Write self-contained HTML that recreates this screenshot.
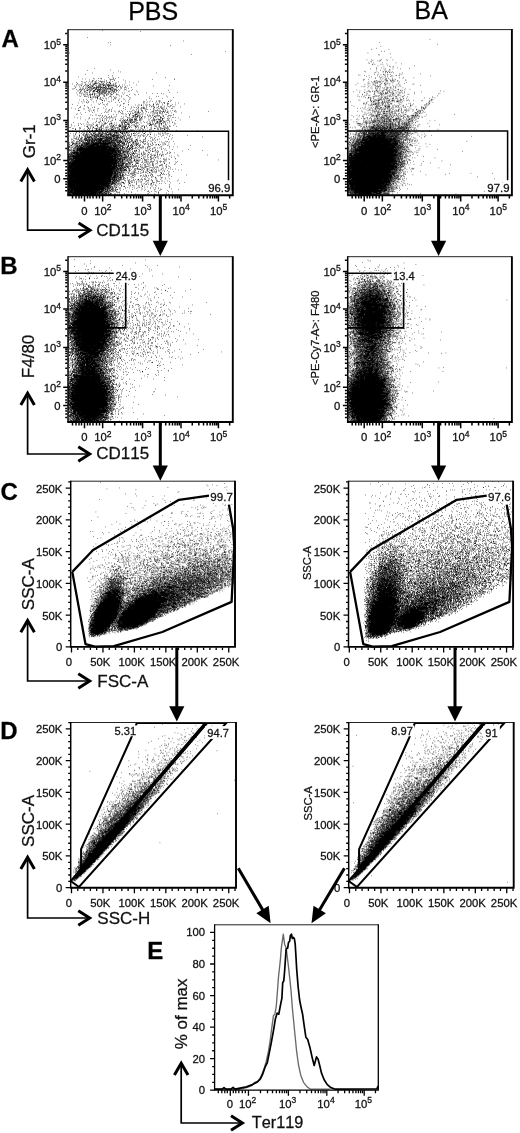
<!DOCTYPE html>
<html><head><meta charset="utf-8"><title>Figure</title>
<style>html,body{margin:0;padding:0;background:#fff}svg{display:block}text{font-family:'Liberation Sans', Arial, sans-serif;font-kerning:none;stroke:#111;stroke-width:.28px}</style>
</head><body>
<svg width="520" height="1133" viewBox="0 0 520 1133">
<defs><filter id="b" filterUnits="userSpaceOnUse" x="-5" y="-5" width="400" height="400"><feGaussianBlur stdDeviation=".7"/></filter></defs>
<rect width="520" height="1133" fill="#fff"/>
<text x="153.2" y="19.5" font-size="25" text-anchor="middle" fill="#000">PBS</text>
<text x="431.3" y="19.3" font-size="25" text-anchor="middle" fill="#000">BA</text>
<text x="1.5" y="46.6" font-size="24" font-weight="bold" fill="#000">A</text>
<text x=".3" y="274" font-size="24" font-weight="bold" fill="#000">B</text>
<text x=".6" y="500.1" font-size="24" font-weight="bold" fill="#000">C</text>
<text x=".3" y="739.2" font-size="24" font-weight="bold" fill="#000">D</text>
<text x="147.3" y="959" font-size="24" font-weight="bold" fill="#000">E</text>
<path transform="translate(68 29.95) scale(.5)" d="M68 1h1m76 2h1m-108 12h1m191 7h1m-147 3h1m-5 1h1m4 4h1m119 1h1m108 12h1m-313 3h1m244 3h1m-195 28h1m30 3h1m-46 1h1m61 1h1m3 2h1m-58 2h1m42 0h1m84 0h1m-142 3h1m45 2h1m7 0h1m-70 3h1m67 0h1m-9 1h1m19 0h1m93 0h1m-105 1h1m-41 1h1m9 0h1m3 0h1m1 0h1m23 0h1m3 0h1m-66 1h1m5 0h1m17 0h1m12 0h1m15 0h1m130 0h1m-129 1h1m1 0h2m1 0h1m78 0h1m43 0h1m-172 1h1m29 0h1m11 0h1m8 0h1m16 0h1m-63 1h1m1 0h1m6 0h1m2 0h1m31 0h1m-44 1h1m14 0h1m11 0h2m6 0h1m29 0h1m-88 1h1m8 0h1m5 0h1m5 0h1m6 0h1m7 0h1m1 0h2m2 0h1m19 0h1m-62 1h1m17 0h1m1 0h1m3 0h1m1 0h1m2 0h1m9 0h1m1 0h1m1 0h3m8 0h1m17 0h1m22 0h1m16 0h1m-125 1h1m15 0h1m1 0h1m20 0h1m4 0h1m6 0h1m10 0h1m3 0h2m-44 1h1m3 0h1m11 0h1m9 0h1m9 0h1m3 0h1m3 0h1m9 0h1m2 0h1m17 0h1m14 0h1m-113 1h1m34 0h4m1 0h1m12 0h1m12 0h2m5 0h1m2 0h1m-86 1h1m9 0h1m6 0h1m1 0h1m5 0h1m9 0h1m4 0h1m1 0h3m1 0h1m1 0h1m3 0h4m3 0h1m1 0h1m5 0h2m5 0h1m-67 1h1m16 0h1m7 0h1m1 0h1m5 0h1m2 0h1m11 0h1m1 0h2m3 0h1m5 0h1m2 0h1m2 0h1m9 0h1m-75 1h1m2 0h2m12 0h2m11 0h1m12 0h2m3 0h1m1 0h2m1 0h2m3 0h1m1 0h3m3 0h1m1 0h1m1 0h3m9 0h1m6 0h1m2 0h1m9 0h1m13 0h1m-111 1h1m5 0h1m7 0h2m4 0h1m2 0h1m1 0h1m3 0h1m5 0h1m2 0h1m5 0h2m1 0h2m2 0h2m2 0h3m1 0h1m1 0h2m2 0h1m4 0h1m5 0h1m100 0h1m-191 1h1m2 0h1m10 0h1m7 0h1m1 0h2m2 0h1m3 0h1m3 0h1m6 0h2m2 0h1m1 0h2m3 0h1m2 0h1m7 0h1m1 0h1m3 0h1m2 0h1m3 0h1m2 0h3m21 0h1m52 0h1m-172 1h1m30 0h1m6 0h1m3 0h1m3 0h1m1 0h2m11 0h1m1 0h1m1 0h1m9 0h1m4 0h3m10 0h2m2 0h1m2 0h2m2 0h1m3 0h1m6 0h1m-101 1h1m7 0h1m6 0h1m11 0h1m1 0h1m5 0h1m6 0h3m1 0h1m2 0h2m2 0h1m1 0h1m3 0h3m7 0h1m2 0h1m1 0h1m-76 1h1m25 0h3m1 0h1m6 0h3m1 0h3m1 0h1m1 0h2m1 0h1m1 0h2m1 0h2m1 0h2m3 0h1m2 0h1m6 0h1m1 0h1m7 0h2m6 0h1m1 0h1m5 0h2m11 0h1m-102 1h1m2 0h1m5 0h1m1 0h1m1 0h1m5 0h1m1 0h2m1 0h1m9 0h4m2 0h2m3 0h2m1 0h2m2 0h1m2 0h1m2 0h2m1 0h1m1 0h2m1 0h1m5 0h1m18 0h1m-105 1h1m18 0h1m3 0h1m3 0h1m3 0h1m6 0h2m1 0h1m2 0h2m7 0h1m3 0h1m4 0h1m1 0h1m1 0h2m1 0h1m1 0h3m5 0h1m15 0h1m12 0h1m-112 1h1m1 0h1m12 0h1m3 0h1m16 0h2m1 0h2m4 0h3m3 0h1m3 0h2m2 0h1m1 0h1m2 0h3m5 0h3m3 0h1m5 0h2m9 0h1m8 0h1m-97 1h1m5 0h1m1 0h1m1 0h1m1 0h1m3 0h1m7 0h2m3 0h1m7 0h2m1 0h1m1 0h1m1 0h3m1 0h1m1 0h1m2 0h1m5 0h1m1 0h1m5 0h3m4 0h1m1 0h2m1 0h1m4 0h1m13 0h1m12 0h1m-106 1h1m7 0h1m1 0h1m3 0h1m1 0h2m2 0h1m1 0h1m6 0h1m5 0h5m1 0h1m2 0h1m1 0h1m2 0h2m1 0h2m3 0h1m7 0h2m3 0h2m1 0h1m15 0h1m3 0h1m-91 1h1m9 0h1m1 0h2m7 0h1m3 0h3m5 0h1m1 0h2m2 0h1m3 0h1m1 0h2m3 0h1m7 0h1m2 0h1m1 0h1m2 0h1m3 0h1m1 0h1m4 0h1m22 0h1m73 0h1m-183 1h1m2 0h1m3 0h2m5 0h1m11 0h2m4 0h3m1 0h1m3 0h2m1 0h1m1 0h1m5 0h1m1 0h2m1 0h1m1 0h1m1 0h1m10 0h2m2 0h1m2 0h1m25 0h1m14 0h1m-113 1h1m8 0h1m7 0h1m6 0h4m3 0h4m2 0h3m2 0h1m1 0h2m1 0h1m4 0h1m2 0h1m1 0h1m1 0h1m6 0h1m4 0h1m24 0h1m-98 1h1m7 0h2m8 0h1m19 0h1m5 0h1m2 0h1m2 0h1m1 0h2m2 0h1m1 0h2m2 0h1m1 0h1m2 0h3m6 0h1m38 0h1m-117 1h1m12 0h1m1 0h1m4 0h1m15 0h1m1 0h1m1 0h1m1 0h1m1 0h1m1 0h2m2 0h1m1 0h1m10 0h1m8 0h1m107 0h1m14 0h1m-203 1h1m7 0h1m3 0h1m6 0h1m6 0h1m5 0h1m2 0h2m5 0h1m2 0h1m1 0h1m2 0h1m2 0h1m3 0h1m1 0h1m4 0h2m1 0h1m7 0h1m17 0h1m3 0h1m43 0h1m-136 1h1m3 0h1m22 0h1m13 0h2m2 0h1m1 0h1m3 0h2m4 0h1m10 0h1m5 0h1m72 0h1m8 0h1m8 0h1m-158 1h1m6 0h1m1 0h1m5 0h1m6 0h3m2 0h1m3 0h2m3 0h1m3 0h1m2 0h1m3 0h1m6 0h3m103 0h1m-159 1h1m5 0h1m3 0h1m2 0h2m1 0h2m3 0h1m8 0h1m1 0h1m4 0h1m7 0h1m3 0h1m5 0h2m8 0h2m11 0h1m11 0h1m9 0h1m7 0h1m-122 1h1m7 0h1m3 0h1m3 0h1m6 0h1m2 0h1m2 0h1m4 0h1m9 0h1m6 0h1m6 0h2m8 0h1m8 0h1m4 0h1m33 0h1m-83 1h1m4 0h1m4 0h1m8 0h1m4 0h1m38 0h1m2 0h1m-119 1h1m21 0h1m8 0h1m6 0h1m1 0h1m2 0h2m11 0h1m3 0h2m7 0h1m1 0h1m12 0h1m16 0h1m4 0h1m88 0h1m-172 1h1m7 0h2m1 0h1m14 0h1m2 0h1m4 0h1m1 0h1m10 0h1m9 0h1m2 0h1m4 0h1m30 0h1m54 0h1m3 0h1m-137 1h1m3 0h1m3 0h1m5 0h1m27 0h1m7 0h1m11 0h1m56 0h1m34 0h1m-159 1h1m3 0h2m4 0h1m3 0h1m1 0h1m1 0h2m5 0h1m27 0h1m3 0h1m112 0h1m-165 1h1m7 0h1m10 0h1m2 0h1m5 0h1m5 0h1m5 0h1m36 0h1m1 0h1m-68 1h2m5 0h1m5 0h1m5 0h1m14 0h1m1 0h1m67 0h1m25 0h1m-140 1h1m9 0h1m2 0h1m31 0h1m7 0h1m7 0h1m56 0h1m-138 1h1m5 0h1m7 0h1m19 0h1m1 0h1m23 0h1m22 0h1m9 0h1m-102 1h1m23 0h1m19 0h1m10 0h1m8 0h1m3 0h1m10 0h1m55 0h1m47 0h1m-167 1h1m16 0h1m11 0h2m2 0h1m27 0h1m81 0h1m23 0h1m-177 1h1m42 0h1m27 0h1m13 0h1m4 0h1m44 0h1m11 0h1m3 0h1m3 0h1m-159 1h1m13 0h1m38 0h1m6 0h1m18 0h1m44 0h2m16 0h1m13 0h1m16 0h2m3 0h1m-173 1h1m2 0h1m13 0h1m6 0h1m25 0h1m75 0h1m2 0h1m13 0h1m5 0h1m-147 1h1m3 0h1m27 0h1m25 0h1m8 0h1m17 0h1m28 0h1m36 0h1m3 0h2m-173 1h1m8 0h1m8 0h1m30 0h1m82 0h1m3 0h1m17 0h1m7 0h1m10 0h1m4 0h1m15 0h1m5 0h1m-157 1h1m14 0h1m31 0h1m1 0h1m64 0h1m13 0h1m7 0h1m-141 1h1m50 0h1m38 0h1m19 0h1m18 0h1m8 0h2m1 0h1m31 0h1m-225 1h1m52 0h1m7 0h1m6 0h1m43 0h1m25 0h1m14 0h1m7 0h2m4 0h1m2 0h1m1 0h1m27 0h1m-163 1h1m25 0h1m4 0h1m19 0h1m6 0h1m14 0h1m14 0h1m5 0h1m1 0h1m10 0h1m2 0h1m1 0h1m2 0h1m14 0h1m11 0h1m9 0h1m14 0h1m-196 1h1m13 0h1m71 0h1m40 0h2m17 0h1m4 0h1m33 0h1m2 0h1m-175 1h1m104 0h1m12 0h1m4 0h1m12 0h1m11 0h1m10 0h1m6 0h1m-176 1h1m50 0h1m26 0h1m8 0h1m51 0h1m3 0h1m3 0h1m9 0h1m2 0h1m1 0h1m14 0h1m3 0h1m5 0h1m-174 1h1m13 0h1m73 0h1m4 0h1m8 0h1m15 0h1m9 0h1m4 0h2m7 0h1m11 0h1m9 0h1m5 0h1m3 0h1m11 0h1m-202 1h2m15 0h1m8 0h1m2 0h1m62 0h1m16 0h1m3 0h1m3 0h1m6 0h1m3 0h2m20 0h1m4 0h1m6 0h1m1 0h1m-182 1h1m63 0h1m18 0h1m37 0h1m13 0h1m4 0h1m1 0h1m1 0h2m4 0h1m16 0h1m3 0h1m8 0h1m1 0h1m1 0h1m5 0h1m-176 1h1m19 0h1m19 0h1m48 0h1m27 0h1m7 0h1m3 0h1m1 0h1m17 0h1m10 0h1m5 0h1m1 0h1m6 0h1m9 0h1m1 0h1m-195 1h1m16 0h1m1 0h1m10 0h1m13 0h1m18 0h1m47 0h1m18 0h1m7 0h1m1 0h1m16 0h1m11 0h1m9 0h1m-108 1h1m27 0h1m22 0h1m2 0h1m6 0h1m8 0h1m1 0h1m6 0h1m22 0h1m-146 1h1m6 0h1m2 0h1m21 0h1m6 0h2m47 0h1m22 0h1m16 0h1m1 0h1m5 0h1m10 0h2m2 0h1m4 0h1m-180 1h2m1 0h1m17 0h1m8 0h1m29 0h1m26 0h1m20 0h1m17 0h1m24 0h1m3 0h1m1 0h2m5 0h1m10 0h1m12 0h1m6 0h1m-170 1h1m11 0h1m27 0h1m5 0h1m9 0h1m30 0h1m3 0h1m2 0h2m5 0h3m5 0h1m24 0h1m1 0h1m21 0h1m7 0h1m-171 1h1m32 0h1m11 0h1m13 0h2m5 0h1m10 0h1m2 0h1m4 0h1m7 0h1m5 0h1m14 0h1m12 0h1m1 0h1m12 0h1m1 0h1m2 0h3m3 0h1m17 0h1m66 0h1m-228 1h1m24 0h1m1 0h1m14 0h1m28 0h1m9 0h1m4 0h2m7 0h1m7 0h1m9 0h1m1 0h1m2 0h1m3 0h1m1 0h1m4 0h1m9 0h1m5 0h2m1 0h1m13 0h2m-183 1h1m14 0h1m22 0h1m4 0h1m26 0h1m28 0h1m1 0h1m2 0h1m1 0h2m2 0h1m15 0h1m17 0h1m3 0h1m2 0h1m2 0h1m4 0h1m3 0h1m1 0h1m-176 1h1m76 0h1m7 0h1m19 0h1m6 0h1m6 0h1m6 0h1m14 0h1m4 0h1m1 0h1m1 0h1m3 0h1m10 0h1m17 0h1m18 0h1m-161 1h1m40 0h1m12 0h1m3 0h1m3 0h1m1 0h1m7 0h1m4 0h1m33 0h2m3 0h1m2 0h1m14 0h1m-182 1h1m88 0h1m2 0h1m3 0h1m8 0h1m9 0h1m1 0h1m3 0h1m5 0h1m1 0h1m6 0h1m13 0h1m3 0h1m13 0h2m-172 1h1m9 0h1m53 0h1m8 0h1m6 0h1m18 0h1m6 0h1m10 0h5m40 0h1m14 0h1m2 0h1m13 0h1m-168 1h1m9 0h1m2 0h1m64 0h2m8 0h1m1 0h2m7 0h1m1 0h1m3 0h1m8 0h1m4 0h1m6 0h1m39 0h1m-162 1h1m11 0h1m3 0h1m8 0h1m47 0h1m6 0h2m4 0h1m2 0h1m2 0h1m16 0h1m5 0h1m3 0h1m8 0h2m2 0h2m18 0h2m2 0h2m-144 1h1m4 0h2m16 0h1m10 0h1m17 0h1m6 0h1m7 0h3m2 0h1m2 0h1m1 0h1m1 0h1m20 0h1m5 0h1m5 0h1m2 0h1m3 0h1m5 0h1m1 0h2m8 0h1m-129 1h1m3 0h1m29 0h1m10 0h1m17 0h1m1 0h3m2 0h1m2 0h1m2 0h1m3 0h1m7 0h1m3 0h1m7 0h3m5 0h1m3 0h1m6 0h1m7 0h1m-187 1h1m10 0h1m51 0h1m5 0h2m2 0h2m5 0h2m16 0h1m17 0h3m1 0h1m2 0h1m1 0h2m8 0h1m6 0h1m21 0h1m27 0h1m36 0h1m-201 1h1m23 0h1m4 0h1m9 0h1m37 0h1m3 0h1m4 0h1m5 0h1m7 0h1m3 0h2m19 0h1m2 0h1m4 0h1m8 0h3m22 0h1m1 0h1m3 0h1m-198 1h1m58 0h2m5 0h1m3 0h1m1 0h1m19 0h1m8 0h1m1 0h1m5 0h1m6 0h1m2 0h1m4 0h2m9 0h1m7 0h1m8 0h1m14 0h2m6 0h1m7 0h1m19 0h1m-180 1h1m15 0h1m9 0h1m6 0h1m33 0h1m13 0h2m11 0h1m7 0h1m1 0h1m17 0h1m6 0h1m12 0h1m3 0h2m1 0h1m6 0h1m4 0h1m-180 1h1m15 0h1m7 0h1m4 0h1m3 0h1m5 0h1m1 0h1m6 0h1m9 0h1m12 0h1m9 0h1m1 0h1m20 0h1m3 0h3m1 0h1m7 0h1m3 0h1m23 0h1m5 0h1m1 0h1m17 0h1m-130 1h1m7 0h1m16 0h1m20 0h1m2 0h2m3 0h1m2 0h2m1 0h1m2 0h1m1 0h3m5 0h1m2 0h1m24 0h1m2 0h1m3 0h1m3 0h1m1 0h1m4 0h2m11 0h1m-167 1h1m52 0h1m6 0h1m14 0h2m6 0h1m4 0h3m1 0h1m1 0h1m2 0h1m1 0h1m1 0h1m5 0h1m4 0h1m13 0h1m1 0h1m4 0h1m1 0h1m2 0h2m1 0h1m4 0h5m21 0h1m17 0h1m-158 1h2m7 0h1m10 0h1m14 0h1m1 0h1m6 0h2m3 0h1m1 0h1m8 0h1m5 0h1m2 0h1m1 0h1m2 0h1m2 0h1m20 0h1m3 0h1m2 0h1m11 0h2m2 0h2m8 0h1m1 0h1m12 0h1m-158 1h1m6 0h1m7 0h1m7 0h1m6 0h1m16 0h1m3 0h2m3 0h1m1 0h1m1 0h1m1 0h2m1 0h6m1 0h1m2 0h1m36 0h1m3 0h1m13 0h1m8 0h1m6 0h1m-165 1h1m16 0h1m8 0h1m15 0h1m3 0h1m24 0h1m4 0h1m9 0h1m9 0h1m15 0h1m16 0h1m9 0h2m2 0h1m1 0h3m4 0h2m10 0h1m-141 1h1m6 0h1m35 0h1m6 0h2m10 0h1m1 0h1m2 0h4m3 0h1m6 0h1m13 0h1m3 0h1m2 0h1m7 0h1m2 0h1m1 0h1m2 0h1m1 0h1m8 0h2m1 0h1m12 0h1m-198 1h1m26 0h1m15 0h1m5 0h1m2 0h1m15 0h1m7 0h1m18 0h1m2 0h2m3 0h4m2 0h1m3 0h2m2 0h2m2 0h1m6 0h1m13 0h1m3 0h1m10 0h1m8 0h2m6 0h1m2 0h1m1 0h1m17 0h1m-169 1h1m10 0h1m15 0h1m5 0h3m17 0h1m3 0h1m9 0h2m3 0h2m5 0h1m2 0h1m4 0h1m9 0h2m2 0h1m5 0h1m16 0h1m13 0h2m1 0h1m1 0h1m11 0h1m3 0h1m2 0h1m9 0h1m-193 1h1m4 0h1m46 0h1m2 0h1m1 0h1m4 0h1m1 0h1m1 0h2m30 0h1m2 0h1m4 0h1m7 0h1m1 0h1m26 0h1m1 0h1m5 0h1m2 0h1m1 0h1m5 0h1m2 0h3m2 0h1m-161 1h1m6 0h1m11 0h1m12 0h1m5 0h1m5 0h1m10 0h1m3 0h1m17 0h3m2 0h2m4 0h1m1 0h1m37 0h1m2 0h2m6 0h1m4 0h2m7 0h1m2 0h1m8 0h1m17 0h1m1 0h1m-209 1h1m19 0h1m22 0h1m5 0h1m1 0h1m11 0h1m2 0h1m8 0h1m9 0h1m10 0h1m5 0h1m4 0h1m2 0h1m1 0h3m1 0h1m9 0h1m9 0h1m20 0h2m1 0h2m2 0h1m11 0h1m2 0h1m8 0h1m-176 1h1m18 0h2m1 0h1m2 0h2m20 0h1m15 0h1m2 0h1m10 0h1m4 0h1m1 0h1m3 0h1m3 0h1m2 0h1m4 0h1m1 0h1m5 0h1m1 0h1m6 0h1m26 0h3m5 0h1m7 0h1m5 0h1m10 0h1m-177 1h1m34 0h2m10 0h1m17 0h1m3 0h2m2 0h1m2 0h1m2 0h1m2 0h1m1 0h2m3 0h1m3 0h1m7 0h1m3 0h1m6 0h1m4 0h1m11 0h1m6 0h1m4 0h2m3 0h1m14 0h1m7 0h1m11 0h1m7 0h1m-205 1h1m5 0h1m20 0h1m13 0h1m1 0h1m5 0h1m2 0h2m6 0h2m2 0h2m6 0h1m6 0h1m2 0h1m14 0h3m3 0h1m2 0h1m3 0h2m15 0h2m1 0h1m4 0h1m4 0h1m1 0h1m18 0h1m4 0h1m2 0h1m1 0h1m5 0h1m8 0h1m1 0h1m-159 1h1m1 0h2m5 0h1m12 0h1m6 0h2m17 0h1m2 0h2m2 0h1m1 0h1m8 0h4m3 0h1m1 0h2m1 0h2m1 0h1m2 0h2m2 0h1m9 0h2m3 0h1m8 0h1m3 0h2m2 0h1m18 0h1m7 0h1m6 0h1m7 0h1m4 0h2m12 0h1m-167 1h1m14 0h1m4 0h1m4 0h1m4 0h1m6 0h1m2 0h1m9 0h1m5 0h1m1 0h2m2 0h3m7 0h1m10 0h1m2 0h1m8 0h1m29 0h1m3 0h1m10 0h1m1 0h1m4 0h1m-196 1h2m18 0h1m15 0h2m3 0h1m5 0h2m11 0h1m1 0h1m1 0h1m7 0h1m1 0h2m8 0h1m1 0h1m3 0h1m1 0h2m2 0h1m7 0h1m1 0h2m1 0h1m2 0h1m3 0h1m2 0h2m3 0h1m8 0h1m3 0h1m11 0h2m13 0h1m14 0h1m11 0h1m4 0h1m-176 1h1m23 0h1m9 0h1m2 0h1m2 0h1m19 0h1m4 0h1m8 0h1m1 0h1m1 0h1m5 0h1m3 0h4m5 0h1m13 0h1m8 0h1m13 0h1m5 0h1m13 0h1m5 0h2m1 0h1m5 0h1m3 0h1m3 0h1m-193 1h1m1 0h1m3 0h1m7 0h1m1 0h1m14 0h2m2 0h1m8 0h1m1 0h3m4 0h1m5 0h1m18 0h1m2 0h1m4 0h1m2 0h1m3 0h1m4 0h1m1 0h1m4 0h2m1 0h3m26 0h1m5 0h1m13 0h1m5 0h2m1 0h1m3 0h1m8 0h1m1 0h1m2 0h1m2 0h1m2 0h1m-167 1h1m9 0h1m5 0h1m4 0h1m3 0h1m3 0h1m3 0h2m3 0h1m2 0h1m1 0h1m2 0h1m2 0h1m1 0h1m5 0h1m2 0h2m14 0h2m2 0h2m2 0h1m16 0h1m6 0h1m7 0h1m30 0h1m4 0h1m1 0h2m6 0h1m4 0h1m-187 1h2m22 0h1m4 0h1m12 0h2m2 0h1m1 0h3m1 0h2m13 0h1m4 0h5m9 0h1m1 0h2m3 0h1m1 0h2m1 0h3m2 0h2m6 0h1m13 0h1m5 0h1m5 0h1m13 0h1m1 0h1m10 0h1m2 0h1m2 0h1m7 0h2m5 0h1m3 0h1m-181 1h1m6 0h1m7 0h1m9 0h1m11 0h1m1 0h1m10 0h1m2 0h2m3 0h1m7 0h1m8 0h1m3 0h1m1 0h1m5 0h1m16 0h1m1 0h2m12 0h1m5 0h1m5 0h1m6 0h2m-130 1h1m6 0h1m6 0h2m4 0h1m1 0h4m2 0h1m3 0h2m9 0h1m5 0h1m1 0h2m4 0h1m1 0h4m3 0h1m3 0h1m9 0h1m6 0h1m2 0h1m1 0h1m2 0h1m3 0h1m9 0h1m6 0h1m7 0h1m11 0h1m18 0h2m5 0h1m19 0h1m-209 1h1m18 0h1m4 0h1m9 0h2m2 0h1m1 0h1m4 0h1m1 0h3m6 0h2m2 0h1m1 0h1m4 0h1m8 0h1m1 0h1m2 0h1m1 0h1m1 0h1m1 0h2m4 0h1m1 0h1m1 0h1m4 0h2m3 0h1m7 0h1m13 0h1m6 0h1m4 0h1m48 0h2m59 0h1m-241 1h1m6 0h1m13 0h1m2 0h1m10 0h2m1 0h1m2 0h1m7 0h2m2 0h2m2 0h2m2 0h1m5 0h2m3 0h1m3 0h4m3 0h1m3 0h1m1 0h1m3 0h1m1 0h1m9 0h2m15 0h1m16 0h1m10 0h1m1 0h1m24 0h1m9 0h1m-177 1h1m7 0h1m3 0h2m4 0h2m3 0h1m8 0h1m2 0h1m2 0h2m1 0h1m4 0h1m1 0h1m1 0h1m3 0h3m5 0h1m2 0h1m1 0h1m2 0h1m2 0h2m1 0h1m1 0h4m3 0h2m2 0h2m19 0h1m4 0h1m21 0h1m16 0h1m-168 1h1m5 0h1m5 0h1m7 0h1m4 0h3m10 0h1m4 0h1m2 0h2m3 0h1m6 0h1m2 0h2m3 0h1m1 0h1m3 0h1m1 0h2m2 0h4m5 0h2m7 0h1m2 0h3m4 0h1m12 0h1m11 0h1m6 0h1m39 0h1m-179 1h1m4 0h1m9 0h1m4 0h2m12 0h3m1 0h1m4 0h1m2 0h1m3 0h3m1 0h1m3 0h2m3 0h1m1 0h1m3 0h1m6 0h1m1 0h4m1 0h1m4 0h1m1 0h3m2 0h1m19 0h1m9 0h1m20 0h2m15 0h1m7 0h1m4 0h1m-189 1h1m8 0h1m12 0h1m2 0h1m13 0h1m1 0h1m3 0h2m9 0h4m1 0h1m2 0h2m2 0h1m1 0h2m5 0h1m1 0h3m2 0h1m3 0h1m2 0h1m2 0h2m5 0h1m1 0h2m3 0h1m2 0h1m4 0h1m5 0h1m2 0h2m2 0h1m6 0h1m9 0h3m34 0h1m10 0h2m-191 1h1m22 0h1m2 0h2m2 0h1m11 0h2m1 0h2m1 0h1m1 0h1m4 0h1m6 0h1m2 0h2m3 0h1m1 0h2m8 0h2m1 0h2m11 0h1m2 0h2m1 0h1m4 0h1m7 0h1m5 0h1m4 0h1m34 0h1m6 0h1m2 0h2m6 0h1m3 0h1m1 0h1m-184 1h1m16 0h1m4 0h1m2 0h1m5 0h3m1 0h1m1 0h1m2 0h3m1 0h1m1 0h1m1 0h1m1 0h1m1 0h4m5 0h4m1 0h3m1 0h3m3 0h3m4 0h2m2 0h2m6 0h1m4 0h1m8 0h1m2 0h1m19 0h1m12 0h1m1 0h1m2 0h2m39 0h1m-191 1h1m7 0h1m5 0h2m3 0h3m1 0h1m1 0h1m2 0h1m13 0h2m1 0h2m2 0h1m1 0h1m3 0h1m2 0h1m4 0h2m1 0h2m1 0h5m1 0h2m1 0h2m6 0h1m1 0h2m6 0h1m6 0h1m1 0h1m5 0h1m10 0h1m12 0h1m4 0h1m21 0h1m7 0h1m13 0h1m-178 1h2m6 0h1m5 0h1m5 0h1m4 0h4m1 0h2m3 0h1m1 0h1m1 0h1m1 0h5m1 0h2m4 0h2m1 0h1m2 0h1m3 0h2m1 0h3m1 0h8m1 0h1m4 0h1m4 0h1m1 0h2m3 0h1m2 0h1m1 0h1m6 0h1m2 0h2m6 0h1m2 0h1m4 0h1m8 0h1m29 0h1m1 0h1m18 0h1m28 0h1m-236 1h1m7 0h1m1 0h1m9 0h1m9 0h3m2 0h2m9 0h2m1 0h9m3 0h2m1 0h1m5 0h4m3 0h1m4 0h2m1 0h1m1 0h3m2 0h2m1 0h4m1 0h2m5 0h1m2 0h2m8 0h1m2 0h1m5 0h1m8 0h2m7 0h1m1 0h1m19 0h1m29 0h1m-170 1h2m1 0h1m1 0h1m3 0h1m1 0h3m5 0h3m1 0h1m1 0h1m1 0h3m2 0h8m3 0h2m3 0h2m1 0h1m2 0h7m1 0h1m1 0h1m1 0h1m1 0h1m2 0h1m2 0h4m5 0h1m7 0h2m19 0h1m5 0h1m4 0h1m5 0h1m18 0h1m4 0h1m15 0h1m-190 1h1m2 0h1m2 0h1m2 0h2m3 0h1m10 0h1m1 0h2m1 0h2m1 0h1m1 0h1m1 0h1m3 0h1m1 0h1m5 0h1m1 0h2m2 0h1m1 0h1m1 0h3m2 0h6m1 0h1m2 0h1m1 0h3m4 0h3m1 0h1m3 0h2m2 0h1m4 0h1m2 0h1m4 0h1m17 0h1m25 0h1m102 0h1m-242 1h2m5 0h1m2 0h3m1 0h3m1 0h3m2 0h1m1 0h1m2 0h3m5 0h1m1 0h1m2 0h1m1 0h1m3 0h6m1 0h6m3 0h1m2 0h1m1 0h7m1 0h2m1 0h3m2 0h1m1 0h1m8 0h1m1 0h1m9 0h1m31 0h1m8 0h1m21 0h1m-187 1h1m5 0h1m2 0h1m7 0h1m3 0h1m1 0h2m4 0h2m1 0h1m1 0h1m3 0h1m3 0h3m1 0h1m1 0h1m1 0h2m4 0h2m2 0h3m1 0h1m1 0h3m1 0h3m1 0h4m2 0h2m2 0h3m1 0h1m1 0h4m2 0h1m9 0h2m2 0h1m3 0h1m17 0h1m10 0h2m12 0h1m24 0h1m14 0h1m-196 1h2m2 0h1m3 0h1m3 0h2m6 0h1m1 0h3m2 0h1m2 0h1m3 0h4m2 0h2m1 0h1m1 0h1m1 0h3m1 0h8m1 0h2m1 0h2m1 0h9m2 0h5m1 0h1m1 0h2m3 0h1m3 0h2m3 0h2m2 0h1m1 0h1m1 0h1m1 0h1m3 0h1m2 0h1m24 0h1m9 0h1m7 0h1m-166 1h1m7 0h1m4 0h1m3 0h1m1 0h2m5 0h3m1 0h2m1 0h1m1 0h1m2 0h5m2 0h3m3 0h4m1 0h7m2 0h1m2 0h2m1 0h3m2 0h1m1 0h3m1 0h4m4 0h2m1 0h1m4 0h1m2 0h1m1 0h1m8 0h1m3 0h1m14 0h1m33 0h1m9 0h1m18 0h1m5 0h1m-200 1h1m7 0h1m2 0h1m1 0h1m2 0h1m1 0h1m5 0h3m1 0h1m1 0h1m1 0h1m2 0h1m1 0h2m1 0h2m1 0h1m1 0h5m1 0h9m1 0h1m2 0h1m1 0h1m1 0h4m1 0h1m1 0h4m2 0h2m2 0h5m3 0h1m3 0h1m2 0h1m2 0h2m1 0h1m1 0h1m2 0h1m2 0h1m2 0h1m1 0h1m8 0h2m13 0h1m1 0h2m14 0h1m8 0h1m22 0h1m-196 1h1m16 0h1m5 0h1m1 0h1m3 0h4m1 0h6m2 0h8m1 0h4m1 0h7m2 0h2m1 0h3m1 0h1m1 0h4m1 0h3m3 0h1m1 0h2m1 0h1m1 0h2m3 0h2m4 0h1m3 0h3m1 0h1m9 0h2m6 0h2m2 0h1m31 0h1m6 0h1m-168 1h1m10 0h2m2 0h1m1 0h1m3 0h1m1 0h6m1 0h4m1 0h3m2 0h3m1 0h3m1 0h9m1 0h15m2 0h1m1 0h8m1 0h2m1 0h1m1 0h4m9 0h1m5 0h1m5 0h2m14 0h1m1 0h1m5 0h1m8 0h1m8 0h1m5 0h1m-166 1h1m1 0h1m5 0h1m3 0h1m1 0h2m1 0h1m2 0h1m3 0h1m4 0h2m1 0h2m2 0h1m1 0h4m1 0h1m1 0h3m1 0h1m2 0h1m1 0h3m2 0h4m1 0h5m3 0h1m1 0h7m2 0h2m1 0h5m3 0h1m1 0h1m1 0h1m1 0h1m2 0h2m1 0h1m2 0h1m3 0h1m3 0h1m5 0h2m1 0h1m1 0h2m5 0h1m9 0h1m8 0h1m-148 1h2m2 0h1m4 0h2m7 0h1m2 0h2m1 0h3m2 0h4m1 0h3m3 0h5m1 0h3m2 0h9m1 0h7m1 0h2m1 0h2m1 0h1m1 0h1m2 0h2m2 0h3m1 0h3m3 0h1m2 0h2m2 0h2m4 0h1m1 0h1m2 0h2m3 0h2m10 0h1m4 0h2m1 0h1m12 0h1m26 0h1m3 0h1m11 0h1m-204 1h3m6 0h1m3 0h1m1 0h1m5 0h4m1 0h1m5 0h3m2 0h2m1 0h1m1 0h2m1 0h1m1 0h1m1 0h1m3 0h12m1 0h7m1 0h1m1 0h1m1 0h4m2 0h2m3 0h1m1 0h1m2 0h7m1 0h1m5 0h1m1 0h2m3 0h1m10 0h3m3 0h1m8 0h1m1 0h2m7 0h1m13 0h1m9 0h1m2 0h1m10 0h1m5 0h1m-202 1h1m3 0h1m3 0h1m5 0h1m1 0h1m6 0h1m3 0h1m1 0h1m3 0h3m1 0h2m1 0h2m2 0h6m1 0h14m1 0h1m1 0h3m1 0h2m1 0h3m1 0h13m2 0h1m1 0h5m1 0h2m2 0h1m1 0h1m1 0h1m6 0h1m2 0h2m6 0h2m5 0h1m6 0h1m3 0h1m20 0h1m4 0h1m-174 1h1m6 0h1m5 0h1m7 0h2m5 0h9m1 0h4m2 0h1m1 0h5m1 0h1m1 0h3m1 0h2m1 0h6m1 0h8m2 0h6m1 0h2m1 0h1m2 0h4m2 0h2m1 0h1m1 0h1m2 0h7m6 0h3m2 0h1m3 0h3m9 0h1m18 0h1m28 0h1m2 0h2m7 0h1m-193 1h1m1 0h3m2 0h3m3 0h1m1 0h2m1 0h1m3 0h1m1 0h3m1 0h8m1 0h4m1 0h36m1 0h2m1 0h3m1 0h2m6 0h2m4 0h3m1 0h2m2 0h1m4 0h1m8 0h1m6 0h1m1 0h1m1 0h1m9 0h1m3 0h1m5 0h1m6 0h1m-167 1h1m5 0h1m4 0h1m2 0h1m1 0h2m3 0h1m4 0h2m2 0h10m1 0h1m1 0h18m1 0h23m1 0h3m1 0h4m1 0h1m1 0h4m6 0h2m1 0h2m2 0h1m15 0h1m1 0h4m2 0h1m11 0h1m2 0h1m8 0h1m3 0h1m24 0h2m18 0h1m-211 1h1m4 0h2m5 0h1m1 0h1m2 0h1m5 0h2m1 0h2m2 0h2m1 0h4m1 0h3m1 0h1m1 0h15m1 0h6m1 0h10m1 0h2m1 0h1m2 0h2m2 0h5m1 0h1m1 0h4m1 0h1m6 0h2m2 0h2m4 0h1m4 0h2m2 0h1m6 0h3m4 0h1m7 0h1m6 0h1m1 0h1m2 0h1m6 0h1m4 0h1m3 0h2m2 0h1m9 0h1m-186 1h2m2 0h1m1 0h1m7 0h1m1 0h5m1 0h5m1 0h25m1 0h2m1 0h16m1 0h4m1 0h2m1 0h1m4 0h3m1 0h2m1 0h2m2 0h2m2 0h1m1 0h1m2 0h1m3 0h1m5 0h1m1 0h1m13 0h1m32 0h1m1 0h1m3 0h1m7 0h2m9 0h1m-196 1h3m9 0h3m2 0h2m2 0h5m2 0h6m1 0h2m1 0h12m1 0h21m1 0h2m1 0h1m1 0h1m1 0h3m1 0h3m1 0h3m1 0h1m1 0h2m1 0h1m1 0h1m5 0h1m1 0h1m7 0h2m2 0h2m1 0h1m1 0h1m2 0h1m3 0h2m3 0h1m3 0h1m15 0h1m4 0h1m1 0h1m14 0h1m14 0h1m46 0h1m-243 1h1m2 0h1m6 0h2m1 0h2m1 0h2m1 0h1m1 0h2m1 0h1m1 0h7m2 0h3m1 0h15m1 0h3m1 0h5m1 0h8m1 0h6m1 0h5m1 0h10m1 0h10m3 0h1m3 0h1m1 0h1m8 0h1m4 0h1m7 0h2m4 0h1m-147 1h1m14 0h1m1 0h2m2 0h5m1 0h4m1 0h19m1 0h29m1 0h3m2 0h8m1 0h1m2 0h1m2 0h1m1 0h1m1 0h2m8 0h1m1 0h2m3 0h1m1 0h4m7 0h1m3 0h1m7 0h1m9 0h1m1 0h1m2 0h1m20 0h1m15 0h1m-202 1h4m3 0h1m2 0h1m2 0h2m1 0h8m4 0h6m1 0h1m1 0h4m1 0h44m3 0h1m1 0h9m1 0h1m2 0h1m3 0h1m4 0h1m3 0h2m9 0h1m19 0h2m7 0h1m2 0h2m22 0h1m25 0h1m7 0h1m-218 1h1m6 0h1m3 0h2m2 0h1m1 0h1m1 0h1m1 0h7m1 0h1m1 0h1m1 0h56m1 0h2m1 0h3m1 0h1m1 0h4m3 0h4m1 0h1m2 0h1m1 0h2m6 0h2m1 0h1m5 0h1m1 0h1m3 0h1m3 0h1m1 0h1m11 0h1m12 0h1m-173 1h2m4 0h2m5 0h1m1 0h1m2 0h1m1 0h3m1 0h14m1 0h40m1 0h2m1 0h6m1 0h2m2 0h2m1 0h1m1 0h1m2 0h1m2 0h1m2 0h1m6 0h1m1 0h1m1 0h1m2 0h2m1 0h1m9 0h1m7 0h1m1 0h1m2 0h1m2 0h1m2 0h1m3 0h1m12 0h1m1 0h2m3 0h1m3 0h1m4 0h1m14 0h1m-202 1h1m9 0h2m1 0h1m1 0h1m1 0h3m1 0h65m1 0h14m2 0h2m1 0h3m2 0h1m3 0h1m4 0h2m1 0h2m2 0h2m1 0h2m2 0h1m2 0h1m8 0h1m17 0h1m3 0h1m20 0h1m-187 1h1m5 0h1m1 0h1m2 0h1m1 0h61m1 0h1m1 0h13m1 0h7m1 0h1m7 0h3m2 0h1m2 0h1m2 0h1m3 0h1m9 0h1m17 0h1m4 0h1m2 0h1m23 0h1m8 0h1m-195 1h2m8 0h1m3 0h2m1 0h76m1 0h2m1 0h2m1 0h1m3 0h2m1 0h1m2 0h1m2 0h1m4 0h1m1 0h3m3 0h1m1 0h1m11 0h1m21 0h1m5 0h1m17 0h1m21 0h1m30 0h1m-240 1h2m1 0h1m1 0h2m1 0h1m1 0h2m3 0h1m1 0h3m1 0h74m1 0h6m1 0h5m8 0h2m1 0h1m4 0h1m2 0h1m14 0h1m16 0h1m8 0h1m4 0h2m16 0h1m-193 1h1m2 0h2m5 0h4m2 0h12m1 0h48m1 0h21m1 0h5m1 0h2m1 0h1m1 0h2m4 0h1m5 0h1m8 0h1m1 0h1m1 0h2m17 0h1m1 0h1m7 0h1m12 0h1m17 0h1m72 0h1m-268 1h1m1 0h1m2 0h1m1 0h2m1 0h4m2 0h2m1 0h79m1 0h1m1 0h1m1 0h1m1 0h2m1 0h1m3 0h3m2 0h1m1 0h1m1 0h2m7 0h2m8 0h2m13 0h1m1 0h1m5 0h1m7 0h2m53 0h1m-223 1h1m3 0h1m4 0h1m1 0h3m1 0h1m1 0h3m1 0h56m1 0h13m1 0h5m1 0h2m2 0h1m1 0h5m2 0h2m1 0h2m7 0h1m3 0h1m2 0h1m14 0h1m16 0h3m10 0h1m6 0h1m-180 1h1m1 0h4m1 0h3m1 0h1m1 0h2m1 0h67m1 0h4m2 0h7m3 0h3m3 0h2m1 0h2m9 0h1m4 0h2m5 0h1m18 0h1m16 0h2m1 0h1m22 0h1m-203 1h1m3 0h1m1 0h3m1 0h12m1 0h63m1 0h3m1 0h7m1 0h3m1 0h2m4 0h2m1 0h2m2 0h1m1 0h1m1 0h1m2 0h1m5 0h1m19 0h1m9 0h1m1 0h1m16 0h1m8 0h1m16 0h1m-202 1h1m1 0h3m1 0h5m1 0h83m2 0h3m1 0h2m1 0h2m2 0h1m5 0h2m3 0h1m3 0h1m2 0h2m10 0h1m3 0h1m3 0h1m1 0h1m9 0h1m12 0h1m22 0h2m4 0h1m7 0h1m-211 1h1m4 0h1m1 0h11m1 0h1m1 0h69m1 0h2m1 0h4m2 0h1m1 0h3m1 0h1m1 0h1m2 0h1m2 0h1m1 0h1m2 0h2m6 0h3m1 0h2m1 0h1m10 0h1m7 0h1m22 0h1m24 0h1m-203 1h2m1 0h5m1 0h3m1 0h76m1 0h7m2 0h3m1 0h1m1 0h2m2 0h1m4 0h1m3 0h1m2 0h1m3 0h1m1 0h2m2 0h1m5 0h1m7 0h1m4 0h2m5 0h1m7 0h1m17 0h1m4 0h1m7 0h1m-196 1h2m2 0h3m3 0h1m1 0h1m1 0h73m1 0h14m1 0h1m2 0h1m3 0h3m4 0h2m3 0h2m2 0h1m3 0h1m8 0h2m3 0h1m5 0h1m8 0h1m2 0h1m14 0h1m3 0h1m6 0h1m4 0h1m-196 1h2m2 0h2m1 0h3m1 0h5m1 0h68m1 0h17m1 0h3m2 0h6m2 0h1m3 0h1m17 0h1m3 0h1m5 0h2m3 0h1m6 0h1m5 0h1m3 0h2m1 0h1m3 0h2m3 0h1m3 0h1m1 0h1m28 0h1m60 0h1m-280 1h1m2 0h1m1 0h1m1 0h6m1 0h11m1 0h61m1 0h3m1 0h5m1 0h2m2 0h7m4 0h1m1 0h1m1 0h1m2 0h2m4 0h1m2 0h2m8 0h1m8 0h1m10 0h1m7 0h2m4 0h1m1 0h1m10 0h1m-187 1h1m1 0h1m1 0h4m1 0h93m1 0h2m2 0h1m1 0h1m2 0h1m2 0h2m3 0h2m2 0h1m2 0h1m2 0h2m3 0h2m2 0h1m32 0h1m13 0h2m2 0h1m12 0h1m2 0h1m13 0h1m-221 1h96m1 0h4m1 0h3m1 0h2m3 0h1m1 0h1m1 0h2m2 0h2m4 0h1m1 0h1m5 0h1m4 0h1m7 0h1m11 0h1m5 0h1m14 0h1m-180 1h1m2 0h2m2 0h87m1 0h8m1 0h1m1 0h1m1 0h2m4 0h5m1 0h1m4 0h1m1 0h1m7 0h2m5 0h1m7 0h1m1 0h1m1 0h1m9 0h2m1 0h1m5 0h1m2 0h1m3 0h1m32 0h1m-214 1h2m1 0h1m1 0h1m4 0h80m2 0h6m1 0h2m3 0h1m2 0h2m1 0h6m1 0h2m4 0h2m1 0h1m3 0h1m3 0h1m5 0h1m1 0h2m16 0h1m10 0h1m3 0h1m31 0h1m-206 1h98m1 0h2m1 0h2m1 0h2m1 0h5m2 0h1m1 0h1m3 0h2m1 0h2m1 0h1m3 0h1m4 0h1m1 0h1m10 0h1m7 0h1m5 0h1m1 0h1m6 0h1m4 0h1m16 0h1m-194 1h5m1 0h87m1 0h11m1 0h1m3 0h2m1 0h1m3 0h1m1 0h1m3 0h1m3 0h1m15 0h2m3 0h1m15 0h1m1 0h1m14 0h1m5 0h1m23 0h1m-214 1h3m2 0h2m1 0h1m1 0h80m1 0h4m1 0h6m1 0h2m3 0h1m1 0h3m2 0h1m1 0h1m1 0h1m5 0h2m4 0h1m4 0h1m14 0h1m13 0h1m4 0h1m8 0h1m11 0h1m8 0h1m12 0h1m-215 1h1m1 0h11m1 0h81m1 0h3m1 0h6m1 0h4m1 0h3m3 0h1m4 0h2m8 0h1m18 0h1m1 0h1m1 0h1m3 0h1m3 0h1m8 0h1m16 0h1m3 0h1m1 0h1m6 0h1m-204 1h3m3 0h1m1 0h5m1 0h87m1 0h3m1 0h1m1 0h3m2 0h1m2 0h1m2 0h1m1 0h2m1 0h2m6 0h2m1 0h2m2 0h1m1 0h1m1 0h1m1 0h1m3 0h1m3 0h1m5 0h1m5 0h1m1 0h1m24 0h1m108 0h1m-301 1h1m1 0h1m1 0h6m1 0h86m1 0h1m2 0h3m2 0h3m1 0h1m2 0h1m2 0h2m4 0h1m3 0h1m4 0h2m3 0h3m15 0h1m1 0h1m15 0h1m-172 1h2m1 0h1m1 0h95m1 0h3m2 0h2m2 0h1m4 0h1m1 0h2m3 0h1m6 0h1m1 0h1m3 0h1m2 0h1m1 0h1m9 0h1m2 0h1m21 0h1m1 0h1m4 0h1m7 0h1m2 0h1m1 0h1m-198 1h2m3 0h3m1 0h90m1 0h3m1 0h1m1 0h1m1 0h2m1 0h1m7 0h1m1 0h1m5 0h1m7 0h1m4 0h1m7 0h1m7 0h1m4 0h1m3 0h1m1 0h1m1 0h2m12 0h2m1 0h1m3 0h1m27 0h1m-219 1h1m1 0h1m1 0h3m1 0h7m1 0h75m2 0h1m1 0h5m1 0h8m4 0h3m6 0h1m1 0h1m1 0h1m2 0h1m5 0h2m2 0h1m17 0h1m1 0h1m7 0h1m3 0h1m6 0h1m11 0h1m24 0h1m-216 1h7m1 0h89m1 0h2m1 0h1m3 0h2m2 0h2m9 0h2m2 0h1m1 0h1m2 0h1m16 0h1m1 0h1m4 0h1m1 0h1m8 0h1m3 0h1m9 0h1m6 0h1m7 0h1m9 0h1m13 0h1m-218 1h8m1 0h93m1 0h4m1 0h3m1 0h2m7 0h3m2 0h1m9 0h3m1 0h1m15 0h1m3 0h1m1 0h1m-163 1h98m2 0h2m1 0h1m2 0h1m1 0h4m1 0h2m1 0h3m4 0h1m1 0h1m11 0h3m1 0h1m9 0h1m7 0h1m9 0h1m7 0h1m14 0h2m9 0h1m-204 1h1m2 0h2m1 0h101m1 0h4m4 0h1m1 0h3m2 0h2m9 0h1m27 0h1m6 0h1m1 0h1m3 0h1m2 0h1m35 0h1m-215 1h1m1 0h2m1 0h82m1 0h6m1 0h3m3 0h1m2 0h1m2 0h4m3 0h1m1 0h1m7 0h1m3 0h2m5 0h1m8 0h1m7 0h1m5 0h1m9 0h1m18 0h1m1 0h1m7 0h1m14 0h1m13 0h1m-226 1h14m1 0h83m1 0h5m1 0h1m1 0h1m1 0h2m2 0h5m2 0h2m6 0h1m15 0h1m2 0h1m5 0h2m5 0h1m3 0h1m3 0h2m14 0h1m10 0h1m-197 1h89m1 0h5m1 0h14m4 0h1m1 0h1m16 0h2m1 0h1m4 0h1m10 0h1m15 0h1m2 0h1m11 0h1m1 0h2m1 0h1m-187 1h87m1 0h8m3 0h2m3 0h3m1 0h1m2 0h1m5 0h1m1 0h2m3 0h1m3 0h1m2 0h1m2 0h1m9 0h1m16 0h1m19 0h1m10 0h1m6 0h1m-202 1h2m1 0h8m1 0h86m2 0h4m1 0h3m1 0h2m3 0h1m1 0h4m3 0h3m3 0h1m3 0h2m1 0h1m4 0h1m3 0h1m8 0h1m2 0h1m1 0h1m1 0h1m9 0h1m7 0h1m17 0h1m5 0h1m-204 1h8m1 0h84m1 0h6m2 0h1m1 0h1m1 0h1m2 0h2m1 0h3m1 0h1m3 0h2m6 0h1m1 0h2m12 0h1m3 0h1m4 0h2m1 0h1m17 0h1m2 0h1m11 0h1m6 0h1m-197 1h87m1 0h7m1 0h5m1 0h1m1 0h3m1 0h2m2 0h4m2 0h3m17 0h1m8 0h2m5 0h1m9 0h1m2 0h1m1 0h1m2 0h1m6 0h1m16 0h1m7 0h1m-205 1h98m1 0h1m3 0h3m1 0h2m1 0h2m9 0h1m2 0h1m4 0h1m8 0h1m11 0h1m2 0h1m9 0h1m7 0h1m5 0h1m2 0h1m9 0h1m-191 1h3m1 0h92m1 0h12m1 0h2m5 0h1m4 0h1m9 0h1m5 0h2m10 0h1m7 0h1m14 0h1m15 0h1m10 0h1m-201 1h93m1 0h3m1 0h2m1 0h2m1 0h5m4 0h2m1 0h1m3 0h2m1 0h1m10 0h2m1 0h1m3 0h2m4 0h2m8 0h1m1 0h2m7 0h1m18 0h1m6 0h1m10 0h1m8 0h1m-215 1h5m1 0h89m1 0h7m1 0h2m5 0h5m6 0h1m4 0h1m10 0h1m1 0h1m2 0h3m6 0h1m6 0h1m7 0h1m3 0h1m2 0h1m12 0h1m21 0h1m-210 1h89m1 0h2m1 0h5m1 0h3m1 0h1m2 0h5m1 0h1m1 0h2m1 0h1m14 0h2m14 0h1m9 0h1m3 0h1m13 0h1m3 0h1m4 0h1m4 0h1m29 0h1m5 0h1m-227 1h1m1 0h97m1 0h1m3 0h4m3 0h4m1 0h2m4 0h3m10 0h1m11 0h1m2 0h1m14 0h4m30 0h1m-200 1h90m1 0h2m3 0h5m1 0h2m1 0h1m1 0h5m9 0h1m9 0h1m3 0h1m21 0h3m13 0h1m3 0h1m2 0h1m2 0h1m4 0h1m3 0h1m-193 1h98m1 0h2m4 0h1m1 0h1m14 0h1m17 0h1m9 0h1m9 0h1m5 0h1m1 0h1m7 0h1m16 0h1m17 0h1m-212 1h1m2 0h87m2 0h3m3 0h4m1 0h1m2 0h2m2 0h1m2 0h2m1 0h1m1 0h1m4 0h1m4 0h1m2 0h3m7 0h1m2 0h1m5 0h1m4 0h1m15 0h1m1 0h1m1 0h1m25 0h2m-203 1h91m1 0h5m1 0h1m2 0h4m3 0h1m1 0h1m21 0h1m1 0h1m13 0h1m2 0h1m2 0h1m1 0h1m5 0h2m4 0h1m7 0h1m7 0h1m2 0h1m-188 1h3m1 0h93m1 0h3m1 0h6m1 0h1m1 0h2m7 0h2m5 0h1m3 0h1m4 0h1m9 0h1m16 0h2m9 0h1m-175 1h90m1 0h5m1 0h4m4 0h1m3 0h1m4 0h1m5 0h1m4 0h2m4 0h2m5 0h1m2 0h1m2 0h1m14 0h1m7 0h1m18 0h2m3 0h1m8 0h1m-201 1h2m1 0h3m1 0h86m1 0h4m1 0h1m1 0h2m1 0h1m19 0h1m3 0h2m60 0h1m-190 1h88m2 0h1m1 0h2m1 0h5m1 0h1m1 0h2m2 0h2m1 0h1m2 0h1m12 0h1m4 0h1m1 0h1m19 0h1m11 0h1m1 0h1m16 0h1m2 0h1m4 0h1m2 0h1m6 0h1m-204 1h1m2 0h95m5 0h2m3 0h1m1 0h1m3 0h1m2 0h1m4 0h1m8 0h1m1 0h1m16 0h1m14 0h1m3 0h1m15 0h1m14 0h1m35 0h1m-237 1h88m1 0h1m1 0h5m1 0h4m2 0h4m1 0h3m1 0h1m5 0h1m1 0h1m7 0h1m2 0h1m14 0h1m7 0h1m1 0h1m3 0h1m3 0h1m4 0h1m9 0h1m3 0h1m1 0h1m16 0h1m-203 1h89m1 0h1m1 0h6m3 0h1m1 0h2m2 0h2m20 0h1m5 0h1m8 0h2m4 0h1m5 0h1m3 0h1m19 0h1m-181 1h87m2 0h8m1 0h4m3 0h2m2 0h1m1 0h1m15 0h1m4 0h1m20 0h1m2 0h1m9 0h1m3 0h1m36 0h1m-208 1h5m1 0h83m2 0h4m2 0h2m1 0h1m3 0h2m3 0h1m1 0h1m13 0h1m23 0h1m5 0h1m12 0h1m15 0h1m15 0h1m-201 1h87m1 0h10m1 0h1m1 0h6m11 0h1m10 0h2m27 0h1m8 0h1m6 0h2m12 0h1m-189 1h1m1 0h83m1 0h8m1 0h4m3 0h1m1 0h4m2 0h4m13 0h1m3 0h1m54 0h2m6 0h1m-195 1h10m1 0h75m2 0h2m1 0h4m1 0h1m2 0h3m3 0h1m5 0h1m3 0h1m3 0h1m26 0h1m29 0h1m-177 1h1m1 0h83m1 0h5m1 0h3m2 0h1m2 0h1m1 0h1m1 0h1m1 0h2m2 0h1m41 0h3m6 0h2m12 0h1m19 0h1m7 0h1m-204 1h94m1 0h3m3 0h1m1 0h2m3 0h1m2 0h1m10 0h1m7 0h1m4 0h1m4 0h2m5 0h1m7 0h1m10 0h1m17 0h1m-185 1h81m1 0h4m1 0h1m1 0h5m1 0h3m1 0h1m1 0h5m1 0h1m5 0h1m5 0h1m19 0h1m1 0h1m2 0h1m3 0h2m26 0h1m44 0h1m-222 1h86m2 0h1m1 0h2m1 0h3m1 0h4m1 0h1m9 0h1m2 0h1m5 0h2m3 0h1m4 0h1m25 0h1m1 0h2m5 0h1m1 0h1m8 0h2m-179 1h86m1 0h1m1 0h6m2 0h1m1 0h2m20 0h1m7 0h1m2 0h1m9 0h1m17 0h1m8 0h1m16 0h1m1 0h1m9 0h1m20 0h1m-220 1h87m1 0h2m1 0h4m4 0h2m1 0h1m17 0h1m4 0h1m11 0h1m18 0h1m12 0h1m9 0h2m2 0h1m18 0h1m-203 1h86m1 0h3m3 0h2m1 0h3m2 0h1m4 0h1m7 0h1m5 0h1m1 0h1m3 0h1m13 0h1m3 0h1m1 0h2m7 0h1m21 0h1m15 0h1m-194 1h80m1 0h1m1 0h3m1 0h5m1 0h1m1 0h2m11 0h4m9 0h1m1 0h1m3 0h2m3 0h1m3 0h1m32 0h1m1 0h1m1 0h1m58 0h1m-233 1h84m1 0h2m1 0h3m1 0h1m1 0h1m1 0h2m2 0h1m2 0h1m1 0h2m4 0h1m47 0h1m1 0h1m9 0h1m5 0h1m26 0h1m-205 1h84m1 0h1m1 0h7m5 0h2m10 0h1m1 0h1m8 0h2m12 0h1m15 0h1m13 0h2m14 0h1m3 0h1m7 0h1m27 0h1m-223 1h90m1 0h1m2 0h2m7 0h2m8 0h1m7 0h1m3 0h1m11 0h1m9 0h1m3 0h1m4 0h1m7 0h1m-164 1h81m2 0h1m1 0h2m1 0h1m2 0h1m1 0h1m3 0h1m1 0h1m4 0h1m31 0h1m17 0h2m3 0h1m5 0h1m3 0h1m31 0h1m-203 1h78m1 0h2m1 0h2m2 0h1m3 0h1m1 0h1m1 0h1m2 0h1m9 0h1m13 0h1m6 0h1m17 0h1m18 0h1m9 0h1m-176 1h1m1 0h13m1 0h48m1 0h19m1 0h1m7 0h1m2 0h1m5 0h1m4 0h1m16 0h1m3 0h1m11 0h1m7 0h1m25 0h1m-175 1h87m5 0h1m5 0h1m8 0h1m14 0h1m1 0h1m5 0h1m2 0h1m9 0h1m8 0h1m14 0h1m1 0h1m7 0h1m24 0h1m-203 1h70m1 0h4m1 0h5m1 0h1m2 0h2m1 0h1m3 0h1m1 0h1m12 0h1m3 0h3m34 0h2m52 0h1m-201 1h7m1 0h62m2 0h10m1 0h2m1 0h1m2 0h1m4 0h1m4 0h1m38 0h1m17 0h1m-159 1h76m1 0h6m1 0h2m3 0h1m3 0h1m1 0h3m16 0h1m3 0h1m10 0h1m13 0h1m20 0h1m10 0h1m27 0h1m-203 1h2m1 0h68m1 0h2m3 0h2m1 0h1m2 0h1m1 0h1m1 0h2m13 0h2m17 0h1m9 0h1m6 0h1m7 0h1m4 0h1m18 0h1m9 0h1m-182 1h1m1 0h75m2 0h5m1 0h1m2 0h1m1 0h1m3 0h1m20 0h1m21 0h1m27 0h1m15 0h1m-182 1h4m1 0h53m1 0h15m1 0h5m1 0h1m1 0h1m2 0h1m1 0h1m2 0h1m2 0h1m8 0h1m1 0h1m43 0h1m24 0h1m9 0h1m22 0h1m-208 1h4m1 0h67m2 0h3m1 0h3m1 0h1m3 0h3m1 0h1m3 0h1m1 0h1m1 0h2m10 0h1m18 0h1m25 0h1m17 0h1m13 0h1m33 0h1m-221 1h9m1 0h53m1 0h6m1 0h4m2 0h1m4 0h1m1 0h1m3 0h1m2 0h1m53 0h1m37 0h1m-185 1h64m1 0h8m3 0h1m1 0h3m1 0h1m1 0h2m3 0h2m3 0h2m8 0h1m48 0h1m28 0h1m15 0h1m-199 1h2m1 0h8m1 0h48m1 0h3m1 0h2m1 0h2m1 0h1m2 0h3m1 0h2m2 0h2m2 0h1m2 0h2m3 0h1m1 0h1m20 0h1m21 0h1m20 0h1m12 0h1m-174 1h2m1 0h7m1 0h42m1 0h16m1 0h1m2 0h4m1 0h1m1 0h1m2 0h1m2 0h2m3 0h1m66 0h1m1 0h1m5 0h1m6 0h1m26 0h1m-202 1h9m1 0h48m1 0h2m2 0h6m1 0h1m1 0h3m1 0h3m1 0h2m1 0h1m6 0h1m5 0h2m1 0h1m3 0h1m17 0h1m4 0h1m50 0h1m2 0h1m27 0h1m-209 1h1m1 0h43m1 0h23m2 0h4m2 0h1m3 0h2m17 0h1m2 0h1m23 0h1m35 0h1m17 0h1m-182 1h1m1 0h7m1 0h47m2 0h7m1 0h2m1 0h1m2 0h1m4 0h2m1 0h1m2 0h1m13 0h1m82 0h1m15 0h1m-198 1h4m1 0h2m1 0h25m1 0h26m1 0h4m2 0h3m1 0h1m2 0h4m2 0h1m3 0h1m2 0h1m25 0h1m47 0h1m18 0h1m-181 1h2m1 0h3m1 0h23m1 0h10m1 0h14m1 0h3m1 0h4m1 0h3m1 0h7m3 0h3m1 0h3m5 0h1m2 0h1m7 0h1m30 0h1m23 0h1m14 0h1m23 0h1m2 0h1m7 0h1m-209 1h8m1 0h6m1 0h40m1 0h4m2 0h2m1 0h2m2 0h5m2 0h1m2 0h1m1 0h1m1 0h1m17 0h1m15 0h1m7 0h1m14 0h1m-142 1h3m1 0h2m2 0h30m1 0h3m1 0h8m1 0h5m2 0h3m1 0h1m1 0h2m1 0h4m1 0h1m1 0h1m1 0h2m1 0h1m1 0h2m2 0h1m3 0h1m4 0h1m3 0h1m63 0h1m11 0h1" stroke="#000" stroke-width="1.7" fill="none" filter="url(#b)"/>
<path transform="translate(68 29.95) scale(.5)" d="M64 218h4m-5 1h4m-4 1h5m-4 1h3m7 0h3m-8 2h3m-9 1h3m-4 1h4m-3 1h4m3 0h3m8 0h3m-45 1h3m13 0h3m6 0h4m1 0h8m2 0h6m-49 1h4m10 0h12m3 0h4m1 0h10m-32 1h13m10 0h8m-32 1h8m1 0h5m9 0h7m-33 1h10m4 0h3m7 0h8m-33 1h10m10 0h3m3 0h6m18 0h3m-58 1h3m2 0h9m6 0h3m1 0h5m1 0h8m1 0h5m10 0h4m-52 1h9m1 0h29m-44 1h3m1 0h36m4 0h4m-62 1h5m10 0h38m6 0h3m-63 1h14m1 0h39m5 0h3m-68 1h3m1 0h55m5 0h5m1 0h5m-71 1h56m3 0h12m-70 1h5m1 0h48m1 0h16m-72 1h5m3 0h46m3 0h17m-73 1h3m3 0h48m1 0h5m1 0h13m-69 1h54m3 0h7m1 0h3m-69 1h56m1 0h3m1 0h3m9 0h3m-91 1h3m1 0h3m6 0h61m7 0h4m-86 1h3m3 0h3m4 0h63m1 0h3m-81 1h3m3 0h3m5 0h66m-74 1h4m3 0h66m-72 1h68m6 0h7m2 0h3m-85 1h7m1 0h58m8 0h5m-80 1h7m3 0h58m8 0h3m-86 1h3m1 0h11m1 0h61m1 0h3m1 0h4m-87 1h85m-84 1h80m-79 1h78m-79 1h80m2 0h4m-85 1h80m1 0h3m-81 1h76m-75 1h76m-76 1h80m-81 1h83m-85 1h86m-88 1h5m1 0h75m4 0h3m-89 1h5m3 0h73m-81 1h6m1 0h75m-91 1h7m3 0h87m-88 1h88m-90 1h80m1 0h6m1 0h3m-92 1h9m1 0h70m3 0h4m-88 1h9m3 0h70m3 0h4m-92 1h13m1 0h72m3 0h3m-91 1h8m1 0h76m3 0h4m-91 1h4m5 0h76m1 0h3m1 0h3m-94 1h4m5 0h75m1 0h4m-92 1h8m1 0h77m3 0h4m-93 1h3m1 0h83m1 0h7m-90 1h88m-93 1h3m3 0h86m-92 1h4m3 0h82m-87 1h3m1 0h82m-85 1h86m-87 1h87m-86 1h87m-86 1h85m-85 1h86m-85 1h85m2 0h4m-89 1h82m-81 1h81m-86 1h3m1 0h81m-84 1h84m-85 1h84m5 0h3m-95 1h87m6 0h3m-96 1h5m1 0h80m6 0h3m-95 1h4m3 0h80m-85 1h3m1 0h79m6 0h3m-91 1h7m1 0h73m-82 1h7m3 0h73m-82 1h7m1 0h73m-82 1h79m1 0h3m-85 1h80m-80 1h81m1 0h3m-85 1h85m-85 1h86m-86 1h80m-80 1h79m-79 1h80m-80 1h83m-82 1h81m-80 1h76m-76 1h13m1 0h48m1 0h12m-74 1h11m3 0h46m3 0h12m-76 1h13m1 0h48m1 0h5m1 0h4m1 0h5m-79 1h7m1 0h59m8 0h3m-77 1h5m3 0h59m7 0h4m-77 1h5m1 0h62m-67 1h66m-66 1h53m1 0h13m-66 1h51m3 0h12m-66 1h4m1 0h47m1 0h5m1 0h6m-66 1h4m3 0h51m3 0h4m-67 1h7m2 0h48m-56 1h6m3 0h40m1 0h5m-55 1h5m3 0h40m3 0h3m-55 1h5m3 0h34m1 0h7m1 0h3m7 0h4m-65 1h6m1 0h34m3 0h10m6 0h3m-55 1h22m1 0h11m1 0h10m5 0h4m-55 1h20m5 0h6m1 0h14m-47 1h6m1 0h13m5 0h6m3 0h12m-45 1h4m3 0h13m1 0h7m5 0h8m1 0h3m-46 1h6m1 0h21m7 0h6m3 0h3" stroke="#000" stroke-width="2.6" fill="none"/>
<path d="M68 131.2H228.5V180.2" fill="none" stroke="#000" stroke-width="1.5"/>
<rect x="207" y="182.46" width="24.58" height="11.06" fill="#fff"/>
<text x="208.2" y="192.1" font-size="11.4" fill="#111">96.9</text>
<path d="M68 29.7H232.8" fill="none" stroke="#222" stroke-width="1.0"/>
<path d="M68 29.2V195.2" fill="none" stroke="#000" stroke-width="1.5"/>
<path d="M67.25 195.2H232.8V29.2" fill="none" stroke="#000" stroke-width="1.9"/>
<path d="M68 178.7h-4.8M68 160.55h-4.8M68 120.6h-4.8M68 82.2h-4.8M68 44.8h-4.8M67.2 148.52h-2M67.2 141.49h-2M67.2 136.5h-2M67.2 132.63h-2M67.2 129.46h-2M67.2 126.79h-2M67.2 124.47h-2M67.2 122.43h-2M67.2 109.04h-2M67.2 102.28h-2M67.2 97.48h-2M67.2 93.76h-2M67.2 90.72h-2M67.2 88.15h-2M67.2 85.92h-2M67.2 83.96h-2M67.2 70.94h-2M67.2 64.36h-2M67.2 59.68h-2M67.2 56.06h-2M67.2 53.1h-2M67.2 50.59h-2M67.2 48.42h-2M67.2 46.51h-2M67.2 33.54h-2M67.2 190.7h-2M67.2 187.2h-2M67.2 184.2h-2M67.2 181.7h-2M67.2 175.7h-2M67.2 173.2h-2M67.2 170.2h-2M67.2 166.7h-2M67.2 163.7h-2M84.5 195.2v6.2M102.65 195.2v6.2M142.6 195.2v6.2M181 195.2v6.2M218.4 195.2v6.2M114.68 196v2.6M121.71 196v2.6M126.7 196v2.6M130.57 196v2.6M133.74 196v2.6M136.41 196v2.6M138.73 196v2.6M140.77 196v2.6M154.16 196v2.6M160.92 196v2.6M165.72 196v2.6M169.44 196v2.6M172.48 196v2.6M175.05 196v2.6M177.28 196v2.6M179.24 196v2.6M192.26 196v2.6M198.84 196v2.6M203.52 196v2.6M207.14 196v2.6M210.1 196v2.6M212.61 196v2.6M214.78 196v2.6M216.69 196v2.6M229.66 196v2.6M72.5 196v2.6M76 196v2.6M79 196v2.6M81.5 196v2.6M87.5 196v2.6M90 196v2.6M93 196v2.6M96.5 196v2.6M99.5 196v2.6" stroke="#000" stroke-width="1.5" fill="none"/>
<text x="60.5" y="182.7" font-size="11.3" text-anchor="end" fill="#111">0</text>
<text x="84.5" y="214.6" font-size="11.3" text-anchor="middle" fill="#111">0</text>
<text x="43.71" y="164.75" font-size="11.3" fill="#111">10<tspan font-size="8.5" dy="-4.5">2</tspan></text>
<text x="94.17" y="214.6" font-size="11.3" fill="#111">10<tspan font-size="8.5" dy="-4.5">2</tspan></text>
<text x="43.71" y="124.8" font-size="11.3" fill="#111">10<tspan font-size="8.5" dy="-4.5">3</tspan></text>
<text x="134.12" y="214.6" font-size="11.3" fill="#111">10<tspan font-size="8.5" dy="-4.5">3</tspan></text>
<text x="43.71" y="86.4" font-size="11.3" fill="#111">10<tspan font-size="8.5" dy="-4.5">4</tspan></text>
<text x="172.52" y="214.6" font-size="11.3" fill="#111">10<tspan font-size="8.5" dy="-4.5">4</tspan></text>
<text x="43.71" y="49" font-size="11.3" fill="#111">10<tspan font-size="8.5" dy="-4.5">5</tspan></text>
<text x="209.92" y="214.6" font-size="11.3" fill="#111">10<tspan font-size="8.5" dy="-4.5">5</tspan></text>
<path transform="translate(347.7 29.85) scale(.5)" d="M164 19h1m-102 6h1m115 4h1m-114 4h1m-10 4h1m-11 2h1m34 0h1m-16 4h1m5 0h1m-34 3h1m44 2h1m-25 2h1m1 0h1m22 5h1m-20 4h1m-30 1h1m8 0h1m29 0h1m12 0h1m-41 1h1m13 0h2m13 0h1m-20 1h1m-15 1h1m17 0h1m-18 1h1m-7 2h1m9 0h1m17 0h1m26 0h1m-54 1h1m34 1h1m28 0h1m-59 1h2m3 0h1m11 0h1m3 1h1m8 1h1m-20 1h1m72 0h1m-51 1h1m-12 1h1m12 0h1m4 0h2m-35 2h1m9 0h1m31 0h1m-43 1h1m65 0h1m-79 1h1m26 0h1m2 0h1m14 0h1m14 0h1m-22 1h1m-28 1h1m16 0h1m8 0h1m-19 1h1m10 1h1m7 0h1m-52 1h1m43 0h1m3 0h1m-47 1h1m22 0h1m11 0h2m3 0h2m12 0h1m-35 1h1m23 0h1m3 0h2m2 0h1m-35 1h1m7 0h1m13 0h1m3 0h1m11 0h1m17 0h1m-6 1h1m40 1h1m-93 1h1m6 0h1m10 0h2m12 0h1m18 0h1m3 0h1m-88 1h1m44 0h1m7 0h1m4 0h2m-57 1h1m8 0h1m8 0h1m31 0h1m12 0h1m8 0h2m4 0h1m-44 1h1m30 0h1m12 0h1m61 0h1m-129 1h1m25 0h1m11 0h1m9 0h1m-39 1h1m22 0h1m8 0h1m8 0h1m-46 1h1m23 0h1m6 0h1m36 0h1m-57 1h1m8 0h2m37 0h1m28 0h1m-78 1h1m21 0h1m3 0h1m7 0h1m20 0h1m-41 1h1m4 0h1m-45 1h1m1 0h1m7 0h1m24 0h1m8 0h1m1 0h1m6 0h1m10 0h1m-22 1h1m14 0h2m3 0h1m20 0h1m-85 1h1m45 0h1m1 0h1m5 0h2m3 0h1m25 0h1m-63 1h1m2 0h2m8 0h1m7 0h1m1 0h1m1 0h1m8 0h1m1 0h1m1 0h1m6 0h2m-59 1h1m11 0h1m5 0h1m1 0h2m1 0h1m5 0h1m6 0h1m7 0h1m7 0h1m-48 1h1m4 0h3m14 0h1m17 0h1m3 0h1m11 0h1m-48 1h1m3 0h1m2 0h1m1 0h1m51 0h1m-78 1h1m8 0h1m7 0h1m1 0h1m15 0h1m4 0h1m8 0h1m11 0h1m-82 1h1m20 0h1m2 0h1m7 0h1m2 0h1m3 0h1m7 0h1m5 0h2m3 0h1m5 0h1m28 0h1m-48 1h1m6 0h1m6 0h1m20 0h1m30 0h1m-99 1h1m16 0h1m24 0h1m21 0h1m5 0h1m25 0h1m-115 1h1m23 0h1m9 0h1m3 0h1m9 0h2m9 0h2m6 0h1m-40 1h1m10 0h1m3 0h1m14 0h1m15 0h1m13 0h1m40 0h1m-92 1h1m8 0h1m34 0h1m-71 1h1m5 0h1m6 0h1m15 0h1m1 0h1m1 0h1m33 0h1m6 0h1m3 0h1m-75 1h1m15 0h1m7 0h1m4 0h1m2 0h2m10 0h1m9 0h1m4 0h2m-33 1h1m17 0h2m2 0h1m-43 1h1m5 0h1m8 0h1m13 0h1m3 0h1m11 0h2m8 0h2m13 0h1m-56 1h1m3 0h1m4 0h1m7 0h1m7 0h1m-33 1h1m9 0h1m18 0h1m1 0h1m6 0h1m3 0h1m24 0h1m-40 1h1m23 0h2m22 0h1m-107 1h1m15 0h1m22 0h1m5 0h1m8 0h1m1 0h1m2 0h2m4 0h1m7 0h1m9 0h1m11 0h1m-72 1h1m13 0h2m6 0h1m13 0h1m5 0h1m3 0h1m4 0h1m1 0h1m9 0h2m2 0h1m-86 1h1m17 0h1m7 0h1m7 0h1m1 0h1m7 0h1m1 0h2m9 0h1m14 0h1m88 0h1m-146 1h1m2 0h1m5 0h1m3 0h1m5 0h1m9 0h1m9 0h1m2 0h2m16 0h1m7 0h1m83 0h1m-182 1h1m26 0h1m5 0h2m7 0h1m2 0h1m3 0h1m1 0h1m7 0h1m18 0h2m22 0h1m33 0h1m-125 1h1m9 0h2m30 0h1m9 0h1m3 0h1m3 0h1m1 0h1m17 0h1m1 0h1m2 0h1m24 0h1m-81 1h1m6 0h1m4 0h1m2 0h1m1 0h1m5 0h1m1 0h2m7 0h1m2 0h1m5 0h1m1 0h1m3 0h1m10 0h1m-61 1h1m8 0h1m1 0h1m2 0h1m3 0h1m3 0h2m1 0h1m11 0h2m12 0h1m5 0h1m73 0h1m-148 1h1m1 0h1m26 0h1m1 0h1m2 0h1m3 0h1m1 0h1m2 0h1m5 0h1m3 0h1m1 0h1m40 0h1m47 0h1m-153 1h1m22 0h2m11 0h1m2 0h1m5 0h1m26 0h1m18 0h1m1 0h1m-103 1h1m8 0h1m37 0h1m1 0h1m15 0h1m3 0h2m3 0h1m5 0h1m3 0h1m-71 1h1m2 0h1m4 0h1m1 0h1m10 0h1m7 0h1m3 0h1m12 0h1m2 0h1m16 0h1m1 0h1m10 0h1m-57 1h1m2 0h1m1 0h1m9 0h1m12 0h1m4 0h1m1 0h1m13 0h1m72 0h1m-160 1h1m31 0h1m1 0h1m3 0h1m9 0h1m9 0h1m1 0h1m3 0h1m2 0h1m7 0h1m15 0h1m-89 1h1m3 0h1m3 0h1m2 0h1m15 0h2m2 0h1m6 0h1m4 0h1m7 0h2m7 0h1m12 0h3m10 0h2m8 0h1m49 0h1m-129 1h2m2 0h1m21 0h1m1 0h1m3 0h1m2 0h1m27 0h1m65 0h1m-136 1h1m5 0h2m3 0h1m17 0h1m10 0h1m3 0h1m11 0h1m61 0h1m20 0h1m-135 1h1m5 0h1m4 0h1m10 0h1m4 0h1m4 0h1m3 0h1m1 0h2m1 0h1m7 0h3m3 0h1m1 0h1m2 0h1m10 0h1m5 0h1m45 0h1m-119 1h1m5 0h1m8 0h1m5 0h1m5 0h1m3 0h1m9 0h1m18 0h1m5 0h1m-58 1h1m9 0h2m1 0h1m4 0h1m5 0h1m20 0h1m8 0h1m58 0h2m1 0h1m-149 1h1m22 0h2m8 0h1m1 0h1m3 0h1m1 0h1m2 0h1m3 0h1m2 0h1m8 0h2m5 0h1m2 0h1m12 0h3m13 0h1m-98 1h1m20 0h2m6 0h1m2 0h1m3 0h4m4 0h1m9 0h1m3 0h2m4 0h4m8 0h1m1 0h1m9 0h1m4 0h1m1 0h1m11 0h1m17 0h1m14 0h1m3 0h1m-119 1h1m6 0h1m1 0h1m14 0h1m5 0h2m6 0h1m4 0h1m4 0h1m5 0h1m1 0h1m16 0h1m23 0h1m16 0h1m2 0h1m-128 1h1m6 0h1m3 0h2m1 0h1m6 0h1m7 0h1m3 0h1m8 0h1m7 0h1m7 0h3m3 0h1m4 0h1m-105 1h1m40 0h2m3 0h1m2 0h1m6 0h1m7 0h2m3 0h1m2 0h2m6 0h1m2 0h1m4 0h1m3 0h1m2 0h2m61 0h2m-102 1h1m4 0h2m2 0h2m5 0h1m1 0h1m1 0h1m22 0h1m54 0h1m8 0h1m-139 1h1m4 0h2m11 0h1m1 0h1m3 0h1m2 0h1m1 0h2m4 0h1m7 0h1m3 0h1m24 0h1m3 0h1m-75 1h1m20 0h1m1 0h1m6 0h1m5 0h1m14 0h1m16 0h1m19 0h1m2 0h1m32 0h1m3 0h2m-133 1h2m4 0h1m9 0h1m5 0h1m1 0h1m1 0h1m1 0h1m1 0h2m5 0h1m1 0h2m3 0h1m3 0h1m1 0h1m4 0h3m42 0h1m25 0h1m5 0h1m-117 1h1m2 0h3m2 0h2m12 0h1m11 0h1m1 0h1m22 0h1m10 0h1m-83 1h1m5 0h1m4 0h1m6 0h1m2 0h1m2 0h1m1 0h1m2 0h1m4 0h1m6 0h1m16 0h1m9 0h1m21 0h1m3 0h1m23 0h1m1 0h1m1 0h1m2 0h2m-154 1h1m35 0h1m3 0h1m8 0h1m2 0h1m5 0h1m3 0h1m2 0h1m2 0h1m3 0h1m2 0h1m16 0h1m10 0h1m13 0h2m-81 1h1m2 0h1m8 0h1m2 0h1m2 0h1m10 0h1m2 0h1m3 0h1m6 0h1m1 0h1m3 0h1m2 0h1m2 0h1m7 0h1m1 0h1m14 0h1m27 0h1m3 0h1m-147 1h1m44 0h1m4 0h1m1 0h1m9 0h3m3 0h5m12 0h1m3 0h1m18 0h1m5 0h1m20 0h1m-113 1h1m19 0h3m1 0h2m13 0h2m3 0h2m1 0h1m7 0h1m5 0h1m9 0h1m5 0h1m2 0h1m20 0h1m19 0h1m-115 1h1m8 0h1m14 0h1m1 0h1m12 0h1m1 0h1m12 0h1m3 0h1m1 0h1m9 0h1m2 0h1m8 0h1m22 0h1m2 0h2m3 0h2m-128 1h1m4 0h1m11 0h2m8 0h2m1 0h2m4 0h3m3 0h1m4 0h2m2 0h1m2 0h1m4 0h1m1 0h1m1 0h1m54 0h1m2 0h1m-132 1h1m5 0h1m28 0h2m4 0h2m2 0h1m10 0h1m3 0h2m3 0h1m2 0h1m16 0h1m2 0h1m39 0h1m3 0h2m1 0h1m-123 1h1m7 0h1m3 0h1m4 0h1m5 0h1m7 0h1m1 0h1m4 0h1m2 0h1m43 0h1m4 0h1m3 0h1m25 0h1m1 0h1m-119 1h1m21 0h1m4 0h1m3 0h1m1 0h1m2 0h2m1 0h1m6 0h1m2 0h1m3 0h1m1 0h1m9 0h1m1 0h1m3 0h1m29 0h2m9 0h1m4 0h1m-111 1h2m5 0h1m3 0h2m6 0h1m5 0h1m10 0h1m3 0h1m12 0h1m4 0h1m5 0h1m5 0h1m1 0h1m2 0h1m3 0h1m6 0h1m1 0h1m5 0h1m-96 1h1m3 0h1m3 0h1m7 0h1m8 0h1m14 0h2m2 0h1m11 0h1m2 0h1m12 0h1m1 0h1m24 0h1m1 0h1m1 0h1m2 0h2m-123 1h1m12 0h1m9 0h1m6 0h1m4 0h1m8 0h1m2 0h1m8 0h1m10 0h1m2 0h1m2 0h2m4 0h2m9 0h1m2 0h1m1 0h1m21 0h1m-143 1h1m16 0h1m32 0h2m3 0h1m4 0h1m4 0h1m2 0h2m1 0h2m2 0h2m1 0h1m1 0h1m1 0h1m2 0h1m1 0h2m2 0h1m2 0h1m3 0h1m1 0h1m27 0h1m8 0h2m4 0h1m5 0h1m-123 1h1m19 0h1m4 0h2m3 0h1m1 0h1m4 0h1m6 0h1m3 0h3m3 0h1m27 0h1m5 0h1m22 0h1m1 0h1m1 0h2m-112 1h1m24 0h1m1 0h1m1 0h1m1 0h1m16 0h1m3 0h1m20 0h1m2 0h1m4 0h1m20 0h1m13 0h1m3 0h1m-113 1h1m2 0h1m4 0h1m2 0h1m7 0h1m8 0h2m2 0h1m9 0h1m2 0h3m3 0h1m1 0h1m12 0h1m25 0h4m2 0h1m1 0h1m2 0h1m-110 1h1m3 0h1m18 0h1m11 0h4m14 0h1m5 0h1m5 0h1m1 0h1m6 0h1m26 0h1m1 0h1m3 0h2m3 0h1m-102 1h1m7 0h1m4 0h1m3 0h2m9 0h1m1 0h3m2 0h2m1 0h1m6 0h1m1 0h1m2 0h1m34 0h1m5 0h1m-107 1h1m1 0h1m11 0h1m12 0h1m1 0h4m3 0h1m2 0h1m29 0h1m11 0h1m1 0h2m18 0h1m77 0h1m-177 1h1m6 0h1m1 0h1m1 0h1m1 0h1m7 0h1m8 0h1m6 0h1m2 0h1m6 0h3m2 0h1m7 0h1m7 0h1m5 0h1m24 0h1m1 0h1m1 0h1m16 0h1m-150 1h1m9 0h1m4 0h1m18 0h1m8 0h2m3 0h4m1 0h1m1 0h1m5 0h1m2 0h2m1 0h2m1 0h1m1 0h1m3 0h1m3 0h1m3 0h2m3 0h1m1 0h1m28 0h5m2 0h2m2 0h1m-110 1h1m17 0h2m2 0h1m3 0h1m3 0h1m9 0h1m4 0h2m3 0h1m13 0h1m7 0h1m1 0h1m1 0h1m3 0h2m6 0h2m1 0h1m4 0h2m2 0h1m2 0h1m1 0h2m2 0h2m1 0h1m-114 1h1m1 0h1m16 0h1m7 0h3m3 0h2m6 0h1m3 0h1m2 0h2m3 0h2m2 0h2m3 0h1m7 0h1m7 0h2m5 0h1m5 0h1m9 0h1m5 0h1m5 0h1m11 0h1m-144 1h1m10 0h1m25 0h1m3 0h2m3 0h1m1 0h1m7 0h2m2 0h1m1 0h1m3 0h1m1 0h1m7 0h1m3 0h1m4 0h1m4 0h1m4 0h1m6 0h1m5 0h2m1 0h1m1 0h1m5 0h1m1 0h2m3 0h1m5 0h1m4 0h1m-111 1h1m6 0h1m11 0h1m1 0h1m4 0h2m3 0h2m9 0h1m1 0h1m1 0h1m4 0h2m10 0h1m9 0h1m3 0h1m5 0h1m6 0h2m2 0h1m16 0h1m-119 1h1m7 0h1m21 0h1m5 0h5m1 0h2m3 0h1m2 0h2m5 0h1m9 0h1m5 0h1m6 0h1m15 0h1m5 0h1m1 0h1m2 0h1m-112 1h1m6 0h1m4 0h1m4 0h1m1 0h1m8 0h1m2 0h2m4 0h1m2 0h1m3 0h1m2 0h1m1 0h2m1 0h2m4 0h1m10 0h2m1 0h1m1 0h1m2 0h1m5 0h1m7 0h1m8 0h1m1 0h1m3 0h1m6 0h2m-123 1h1m11 0h1m1 0h2m8 0h1m3 0h1m5 0h2m4 0h2m1 0h1m2 0h1m1 0h1m4 0h1m4 0h1m2 0h2m3 0h1m1 0h1m7 0h4m1 0h2m2 0h1m6 0h1m5 0h1m4 0h4m4 0h1m-114 1h1m29 0h1m18 0h1m3 0h1m2 0h2m1 0h1m4 0h1m1 0h2m1 0h1m3 0h3m1 0h2m1 0h1m2 0h1m4 0h1m1 0h1m6 0h1m2 0h1m2 0h1m1 0h3m2 0h1m8 0h1m-131 1h1m15 0h1m17 0h1m10 0h1m2 0h1m1 0h2m1 0h1m2 0h1m1 0h1m3 0h2m4 0h1m2 0h3m2 0h1m2 0h2m3 0h2m1 0h2m2 0h1m2 0h1m2 0h3m15 0h1m7 0h1m1 0h1m4 0h1m-106 1h1m4 0h1m10 0h2m2 0h1m1 0h1m2 0h1m2 0h1m1 0h1m2 0h1m1 0h1m3 0h1m1 0h2m8 0h2m2 0h1m4 0h2m3 0h1m6 0h1m8 0h1m6 0h1m6 0h2m1 0h1m4 0h1m39 0h1m-138 1h1m4 0h1m3 0h1m3 0h1m2 0h3m3 0h3m1 0h1m3 0h1m2 0h1m1 0h1m1 0h1m2 0h2m3 0h4m5 0h1m3 0h1m2 0h1m1 0h1m4 0h1m2 0h2m5 0h1m1 0h1m2 0h2m2 0h1m4 0h1m34 0h1m-147 1h1m13 0h1m10 0h1m10 0h2m1 0h1m5 0h2m4 0h2m1 0h3m1 0h1m1 0h1m1 0h1m1 0h1m1 0h2m1 0h1m3 0h1m1 0h1m3 0h1m2 0h1m2 0h1m3 0h1m13 0h1m1 0h1m1 0h1m2 0h2m8 0h1m1 0h1m-129 1h1m5 0h1m15 0h2m2 0h1m1 0h1m7 0h6m1 0h1m4 0h1m1 0h1m1 0h1m1 0h1m5 0h3m1 0h4m2 0h1m2 0h2m1 0h1m13 0h3m6 0h1m1 0h1m4 0h1m2 0h1m1 0h2m1 0h1m-95 1h1m2 0h1m1 0h1m2 0h1m2 0h1m1 0h2m1 0h1m1 0h4m2 0h1m1 0h1m1 0h1m2 0h1m2 0h1m1 0h2m8 0h1m3 0h1m3 0h1m2 0h1m5 0h1m2 0h1m2 0h1m13 0h1m1 0h1m3 0h1m6 0h1m2 0h1m3 0h1m-104 1h1m3 0h2m20 0h1m3 0h1m2 0h1m1 0h2m1 0h2m1 0h1m7 0h2m4 0h1m2 0h1m1 0h1m6 0h1m1 0h3m4 0h3m2 0h2m2 0h1m1 0h1m1 0h2m12 0h1m-118 1h2m1 0h2m2 0h1m3 0h1m6 0h2m1 0h1m2 0h1m1 0h1m9 0h1m5 0h3m4 0h1m3 0h2m2 0h4m3 0h1m1 0h3m2 0h2m3 0h2m5 0h1m1 0h1m9 0h1m4 0h1m3 0h2m5 0h1m30 0h1m-139 1h3m18 0h2m1 0h1m2 0h2m4 0h1m1 0h1m7 0h2m4 0h4m2 0h3m3 0h1m2 0h1m1 0h3m11 0h1m3 0h2m1 0h1m1 0h3m1 0h4m1 0h1m2 0h1m2 0h1m1 0h1m-126 1h1m21 0h1m2 0h1m8 0h1m10 0h1m3 0h1m4 0h1m1 0h2m3 0h1m5 0h1m4 0h1m5 0h2m1 0h2m1 0h1m1 0h1m2 0h1m1 0h2m2 0h1m2 0h3m4 0h1m3 0h2m2 0h2m1 0h1m1 0h1m2 0h1m7 0h1m9 0h1m-123 1h1m7 0h1m3 0h1m1 0h1m2 0h1m13 0h3m4 0h3m1 0h3m1 0h1m1 0h1m4 0h2m2 0h3m3 0h4m2 0h1m1 0h2m1 0h3m4 0h1m7 0h2m5 0h2m2 0h1m2 0h1m20 0h1m38 0h1m-162 1h2m28 0h3m2 0h2m2 0h1m1 0h1m2 0h3m1 0h2m2 0h1m1 0h1m1 0h1m2 0h1m3 0h2m1 0h2m6 0h2m5 0h1m1 0h1m8 0h1m1 0h2m1 0h2m1 0h1m2 0h1m2 0h1m6 0h1m4 0h1m-116 1h1m11 0h1m4 0h2m2 0h1m5 0h1m1 0h2m3 0h3m3 0h1m2 0h1m2 0h1m1 0h2m1 0h2m3 0h1m1 0h4m3 0h2m2 0h2m2 0h3m1 0h2m4 0h1m2 0h1m1 0h2m3 0h2m2 0h1m1 0h1m6 0h1m-105 1h1m4 0h1m1 0h1m2 0h1m3 0h1m2 0h1m1 0h2m1 0h4m2 0h1m2 0h1m2 0h2m2 0h2m1 0h3m5 0h1m2 0h2m3 0h3m4 0h2m2 0h1m4 0h1m1 0h1m1 0h1m2 0h2m2 0h1m2 0h1m1 0h2m5 0h1m16 0h1m22 0h1m-150 1h1m10 0h1m6 0h1m4 0h2m5 0h1m2 0h1m1 0h1m1 0h2m1 0h1m3 0h7m4 0h5m3 0h5m1 0h1m1 0h1m1 0h3m2 0h1m1 0h1m1 0h2m3 0h3m2 0h3m1 0h2m2 0h3m2 0h1m4 0h1m2 0h1m12 0h1m-136 1h1m24 0h1m1 0h2m5 0h1m2 0h1m1 0h1m2 0h6m1 0h1m1 0h3m1 0h1m1 0h2m1 0h3m2 0h1m1 0h4m2 0h2m2 0h1m1 0h3m2 0h1m1 0h1m9 0h2m1 0h2m1 0h5m1 0h1m1 0h1m1 0h2m1 0h1m2 0h1m1 0h2m3 0h1m-129 1h1m6 0h1m5 0h1m14 0h1m4 0h1m7 0h1m1 0h2m1 0h2m1 0h4m1 0h2m1 0h1m2 0h2m1 0h3m1 0h7m2 0h3m1 0h6m2 0h1m1 0h1m2 0h1m3 0h1m1 0h1m1 0h3m2 0h2m1 0h3m2 0h3m1 0h3m7 0h1m2 0h1m1 0h1m-102 1h1m3 0h1m3 0h1m1 0h1m1 0h1m1 0h3m2 0h1m1 0h5m1 0h2m1 0h2m3 0h5m1 0h4m1 0h1m3 0h3m1 0h1m2 0h1m1 0h3m2 0h4m1 0h6m2 0h3m2 0h3m1 0h2m2 0h1m-97 1h3m8 0h1m6 0h3m1 0h7m2 0h12m2 0h5m1 0h2m1 0h4m2 0h2m1 0h1m2 0h3m1 0h4m1 0h4m1 0h2m1 0h1m1 0h1m1 0h3m16 0h1m-105 1h1m2 0h1m1 0h1m3 0h1m5 0h2m2 0h3m3 0h4m1 0h1m4 0h3m2 0h1m1 0h2m2 0h2m3 0h3m1 0h1m1 0h4m2 0h2m1 0h3m4 0h1m4 0h7m4 0h1m1 0h1m4 0h2m3 0h1m1 0h1m3 0h1m42 0h1m-163 1h1m1 0h1m2 0h1m2 0h1m3 0h1m2 0h1m1 0h1m2 0h1m2 0h6m5 0h11m2 0h6m1 0h5m1 0h1m1 0h4m2 0h6m1 0h2m3 0h1m1 0h2m3 0h1m1 0h1m6 0h1m1 0h1m3 0h3m-99 1h1m3 0h2m4 0h4m3 0h4m1 0h2m1 0h2m2 0h1m1 0h4m1 0h2m1 0h8m1 0h2m1 0h6m1 0h2m1 0h4m1 0h2m4 0h1m2 0h1m1 0h1m1 0h4m2 0h4m4 0h4m1 0h1m-101 1h1m14 0h8m2 0h2m1 0h3m2 0h2m1 0h1m1 0h1m1 0h10m1 0h6m1 0h6m2 0h3m1 0h8m1 0h2m1 0h1m1 0h2m2 0h1m1 0h1m2 0h2m16 0h1m6 0h1m22 0h2m-160 1h1m7 0h1m6 0h1m1 0h1m3 0h2m3 0h1m3 0h2m2 0h1m2 0h1m2 0h4m1 0h4m1 0h1m3 0h1m1 0h3m1 0h2m2 0h3m1 0h2m1 0h1m2 0h3m1 0h2m1 0h7m2 0h3m2 0h1m2 0h2m2 0h1m1 0h1m3 0h1m8 0h2m2 0h1m6 0h1m6 0h1m10 0h1m7 0h1m-158 1h1m3 0h1m11 0h1m4 0h4m6 0h1m3 0h1m1 0h1m1 0h1m1 0h3m1 0h1m1 0h1m3 0h2m1 0h1m1 0h1m1 0h4m2 0h2m1 0h8m1 0h1m2 0h1m2 0h10m1 0h1m1 0h6m1 0h1m1 0h1m1 0h1m1 0h1m2 0h1m2 0h1m2 0h1m2 0h1m9 0h1m1 0h1m3 0h1m9 0h1m-133 1h1m1 0h1m7 0h1m2 0h1m1 0h1m1 0h2m1 0h3m2 0h2m1 0h1m2 0h1m1 0h1m2 0h2m1 0h3m1 0h6m1 0h16m2 0h4m1 0h1m1 0h2m1 0h7m1 0h2m1 0h3m6 0h4m1 0h2m15 0h1m-120 1h1m8 0h1m2 0h5m1 0h1m1 0h1m3 0h12m2 0h2m1 0h3m1 0h10m2 0h6m1 0h9m1 0h3m1 0h2m2 0h1m2 0h2m1 0h3m2 0h1m2 0h1m1 0h1m3 0h1m3 0h1m1 0h1m10 0h1m-132 1h1m15 0h1m1 0h2m1 0h3m2 0h5m1 0h2m2 0h23m2 0h9m1 0h1m1 0h3m2 0h2m1 0h4m1 0h8m1 0h3m2 0h2m1 0h1m9 0h2m2 0h1m1 0h1m3 0h2m-120 1h1m4 0h1m1 0h1m2 0h2m8 0h6m5 0h1m1 0h1m1 0h2m2 0h8m1 0h5m1 0h14m1 0h3m2 0h4m1 0h3m1 0h1m2 0h1m1 0h3m2 0h1m1 0h1m1 0h1m1 0h3m1 0h1m1 0h1m1 0h1m2 0h2m10 0h1m7 0h1m12 0h1m-153 1h1m3 0h1m6 0h1m5 0h1m3 0h2m6 0h2m1 0h2m1 0h6m1 0h1m1 0h8m2 0h10m1 0h6m1 0h2m2 0h2m2 0h6m1 0h2m2 0h4m1 0h1m1 0h6m1 0h1m3 0h2m1 0h2m2 0h1m1 0h1m7 0h1m-128 1h1m13 0h3m4 0h1m6 0h1m1 0h1m1 0h5m1 0h9m2 0h1m1 0h1m1 0h6m2 0h4m1 0h11m1 0h4m2 0h1m1 0h9m1 0h8m1 0h1m1 0h1m1 0h2m8 0h2m5 0h1m21 0h1m-147 1h1m17 0h2m1 0h3m1 0h1m1 0h1m1 0h4m3 0h1m1 0h2m1 0h2m1 0h2m1 0h29m1 0h1m1 0h5m2 0h2m1 0h5m1 0h4m2 0h1m1 0h1m2 0h2m1 0h1m6 0h1m2 0h1m1 0h1m16 0h1m15 0h1m10 0h1m-150 1h1m1 0h1m1 0h2m2 0h1m1 0h1m1 0h1m2 0h1m1 0h1m2 0h19m1 0h12m1 0h6m1 0h6m2 0h4m1 0h3m1 0h3m2 0h2m7 0h1m5 0h4m-108 1h1m3 0h1m5 0h1m1 0h1m6 0h5m1 0h11m1 0h1m1 0h18m1 0h6m1 0h4m1 0h11m2 0h5m1 0h2m2 0h1m3 0h2m3 0h1m2 0h1m2 0h1m3 0h1m19 0h1m10 0h1m92 0h1m-241 1h1m3 0h2m7 0h1m1 0h1m1 0h5m1 0h3m1 0h2m1 0h22m1 0h26m1 0h7m1 0h3m1 0h2m2 0h6m2 0h3m1 0h1m1 0h1m9 0h1m25 0h1m-152 1h1m3 0h1m7 0h1m1 0h1m7 0h3m4 0h7m1 0h17m1 0h9m1 0h10m1 0h3m1 0h2m1 0h3m3 0h9m1 0h2m6 0h1m3 0h1m2 0h1m14 0h1m-130 1h1m3 0h1m4 0h1m3 0h1m3 0h2m2 0h1m2 0h1m2 0h10m2 0h35m1 0h6m1 0h6m1 0h2m1 0h1m3 0h1m1 0h3m1 0h2m4 0h1m1 0h1m3 0h2m1 0h1m1 0h1m12 0h1m12 0h1m-145 1h2m10 0h1m3 0h1m2 0h1m3 0h1m2 0h5m1 0h2m1 0h49m1 0h1m1 0h6m1 0h5m1 0h2m2 0h1m1 0h1m7 0h1m1 0h1m5 0h1m-126 1h1m6 0h1m1 0h1m1 0h1m1 0h1m1 0h1m2 0h2m2 0h4m2 0h4m1 0h27m1 0h13m1 0h4m1 0h1m1 0h8m1 0h6m1 0h2m3 0h3m1 0h1m2 0h2m4 0h1m1 0h1m5 0h1m7 0h1m3 0h1m-130 1h1m1 0h1m3 0h1m4 0h1m3 0h3m1 0h1m2 0h6m1 0h5m2 0h55m2 0h1m1 0h1m3 0h2m1 0h1m4 0h2m2 0h1m1 0h2m3 0h1m2 0h1m-124 1h1m6 0h2m2 0h1m1 0h5m1 0h59m1 0h11m1 0h2m1 0h2m1 0h1m1 0h2m1 0h1m4 0h1m1 0h1m2 0h1m2 0h1m2 0h1m6 0h1m-126 1h2m5 0h1m3 0h2m2 0h4m4 0h11m1 0h50m1 0h4m1 0h9m2 0h1m3 0h1m2 0h3m6 0h2m4 0h1m6 0h1m2 0h1m-130 1h3m4 0h1m1 0h2m1 0h1m1 0h58m1 0h8m1 0h7m1 0h4m7 0h1m7 0h1m7 0h1m5 0h1m1 0h1m-133 1h1m4 0h1m5 0h1m1 0h3m1 0h1m1 0h1m2 0h3m1 0h1m1 0h1m1 0h55m1 0h14m1 0h2m4 0h2m12 0h1m4 0h1m4 0h1m103 0h1m-228 1h2m2 0h1m1 0h7m1 0h6m1 0h1m1 0h9m1 0h47m1 0h6m1 0h1m2 0h2m3 0h2m1 0h1m8 0h1m7 0h1m10 0h1m-139 1h1m2 0h2m4 0h3m2 0h1m3 0h2m1 0h3m1 0h61m1 0h3m1 0h2m1 0h3m2 0h2m1 0h3m2 0h1m1 0h1m1 0h2m1 0h1m4 0h1m3 0h2m-121 1h3m3 0h1m1 0h1m2 0h5m1 0h65m1 0h15m1 0h3m1 0h2m1 0h2m6 0h1m-111 1h2m4 0h4m1 0h1m1 0h4m1 0h3m1 0h39m1 0h31m3 0h3m4 0h1m1 0h1m1 0h1m5 0h1m8 0h1m3 0h1m7 0h1m-142 1h2m3 0h1m5 0h6m2 0h5m1 0h2m1 0h3m1 0h55m1 0h12m1 0h2m2 0h2m1 0h2m6 0h1m38 0h1m-154 1h1m3 0h1m3 0h1m1 0h1m1 0h3m1 0h3m1 0h69m1 0h7m1 0h1m2 0h1m3 0h3m2 0h1m6 0h1m4 0h2m37 0h1m-162 1h1m2 0h2m1 0h3m1 0h2m2 0h8m1 0h5m1 0h66m1 0h2m1 0h1m1 0h3m1 0h2m5 0h1m3 0h1m3 0h1m2 0h1m-123 1h1m1 0h2m1 0h3m1 0h5m1 0h1m2 0h2m3 0h73m1 0h4m1 0h1m1 0h1m2 0h2m2 0h1m10 0h1m1 0h1m5 0h1m3 0h1m-139 1h1m5 0h1m2 0h4m2 0h1m2 0h5m2 0h71m1 0h3m1 0h4m1 0h1m1 0h1m1 0h1m7 0h1m5 0h1m3 0h2m-130 1h1m6 0h1m2 0h2m1 0h5m2 0h65m1 0h8m1 0h8m1 0h2m1 0h4m4 0h1m2 0h2m24 0h1m-142 1h1m1 0h1m1 0h1m2 0h4m1 0h2m1 0h1m1 0h9m1 0h65m2 0h1m1 0h1m4 0h4m1 0h1m2 0h3m2 0h1m40 0h1m-157 1h1m4 0h2m2 0h6m1 0h63m1 0h15m1 0h12m1 0h2m1 0h1m2 0h1m1 0h2m-120 1h1m8 0h1m2 0h4m3 0h1m1 0h81m8 0h1m5 0h1m3 0h1m13 0h1m-135 1h2m3 0h3m2 0h1m1 0h5m1 0h73m3 0h5m1 0h6m1 0h1m4 0h1m6 0h1m-121 1h1m7 0h3m1 0h1m1 0h1m2 0h4m1 0h76m1 0h2m1 0h1m2 0h3m1 0h2m3 0h2m26 0h1m1 0h1m-145 1h1m5 0h2m2 0h2m2 0h8m1 0h72m1 0h3m2 0h2m3 0h1m1 0h5m1 0h1m1 0h1m3 0h2m2 0h1m54 0h1m-180 1h1m1 0h1m1 0h1m1 0h2m1 0h1m1 0h78m1 0h15m1 0h1m6 0h2m2 0h1m-118 1h1m3 0h2m1 0h1m2 0h2m2 0h88m1 0h2m3 0h1m4 0h1m3 0h1m24 0h1m-141 1h1m2 0h1m1 0h3m1 0h3m1 0h82m1 0h2m5 0h2m1 0h1m2 0h1m4 0h3m5 0h1m13 0h1m-136 1h2m1 0h4m1 0h9m1 0h79m1 0h1m1 0h1m2 0h4m5 0h1m3 0h3m1 0h1m3 0h1m101 0h1m-230 1h2m1 0h1m2 0h10m1 0h6m1 0h70m1 0h7m2 0h2m2 0h1m1 0h2m2 0h2m3 0h1m5 0h1m8 0h1m-134 1h1m2 0h1m1 0h1m2 0h2m1 0h2m1 0h4m2 0h78m1 0h3m1 0h3m1 0h1m2 0h2m2 0h1m12 0h1m1 0h1m9 0h1m-141 1h1m5 0h3m1 0h11m1 0h6m1 0h63m3 0h5m1 0h1m1 0h3m1 0h2m2 0h2m1 0h1m1 0h1m4 0h1m2 0h1m12 0h1m-137 1h1m1 0h5m1 0h4m1 0h83m4 0h5m1 0h1m10 0h1m3 0h1m-123 1h1m2 0h8m2 0h4m1 0h74m1 0h14m1 0h3m2 0h1m17 0h1m-131 1h1m2 0h5m1 0h87m1 0h4m1 0h1m1 0h3m2 0h2m3 0h1m1 0h1m11 0h1m-129 1h7m3 0h1m1 0h88m1 0h2m1 0h2m1 0h1m6 0h1m-113 1h7m1 0h91m1 0h1m1 0h2m1 0h1m1 0h1m1 0h1m3 0h1m1 0h1m5 0h2m13 0h1m-139 1h97m1 0h2m1 0h3m4 0h1m7 0h1m1 0h1m-119 1h4m1 0h8m1 0h79m1 0h2m1 0h1m2 0h1m1 0h1m1 0h2m1 0h1m1 0h1m4 0h1m4 0h1m1 0h1m28 0h1m-150 1h2m2 0h3m2 0h99m2 0h3m1 0h2m6 0h1m-124 1h1m1 0h97m1 0h2m2 0h2m2 0h1m3 0h1m2 0h1m-117 1h91m1 0h1m1 0h2m1 0h3m1 0h2m2 0h1m4 0h1m2 0h1m1 0h1m13 0h1m4 0h1m39 0h1m-175 1h2m1 0h95m1 0h3m2 0h1m1 0h1m1 0h1m1 0h1m7 0h1m-117 1h4m2 0h88m2 0h13m3 0h1m5 0h1m-121 1h2m1 0h95m1 0h1m1 0h2m3 0h2m9 0h1m4 0h1m-122 1h9m1 0h1m1 0h80m1 0h2m1 0h3m1 0h4m2 0h1m1 0h1m12 0h2m-124 1h1m1 0h24m1 0h69m1 0h1m2 0h1m2 0h1m3 0h1m3 0h1m1 0h2m2 0h1m5 0h1m1 0h1m-125 1h101m1 0h2m2 0h2m2 0h1m4 0h1m71 0h1m-189 1h2m2 0h95m1 0h5m3 0h4m1 0h2m4 0h1m11 0h1m19 0h1m-152 1h2m1 0h88m1 0h8m1 0h3m1 0h1m3 0h2m8 0h1m-118 1h93m1 0h1m4 0h1m1 0h4m1 0h1m10 0h1m-120 1h90m1 0h8m2 0h2m1 0h6m1 0h3m5 0h1m5 0h1m39 0h1m-165 1h2m1 0h83m1 0h14m2 0h1m8 0h1m1 0h1m3 0h1m-120 1h5m1 0h88m1 0h4m3 0h1m3 0h8m33 0h1m-148 1h3m1 0h85m1 0h6m1 0h5m1 0h2m1 0h2m2 0h1m3 0h1m2 0h1m14 0h1m-133 1h1m1 0h93m2 0h1m1 0h4m1 0h4m1 0h1m4 0h1m7 0h1m82 0h1m-206 1h2m1 0h96m1 0h3m2 0h2m2 0h1m1 0h1m1 0h1m32 0h1m-147 1h2m1 0h90m1 0h3m1 0h1m1 0h1m3 0h2m3 0h1m-110 1h98m1 0h2m1 0h1m1 0h1m2 0h3m1 0h2m-113 1h99m5 0h2m1 0h1m1 0h1m1 0h1m3 0h1m-116 1h5m1 0h87m1 0h5m1 0h3m1 0h1m1 0h1m1 0h1m-109 1h100m1 0h1m1 0h1m1 0h1m1 0h1m5 0h1m9 0h1m58 0h1m-183 1h93m1 0h1m1 0h1m1 0h2m2 0h1m1 0h2m9 0h1m12 0h2m2 0h1m-133 1h3m1 0h3m1 0h93m12 0h1m17 0h1m-132 1h90m1 0h5m1 0h2m2 0h1m1 0h1m1 0h1m3 0h1m1 0h1m6 0h1m7 0h1m3 0h1m-131 1h5m1 0h89m1 0h3m1 0h2m2 0h4m212 0h1m-320 1h7m1 0h79m1 0h3m2 0h1m1 0h2m2 0h1m2 0h2m1 0h1m2 0h1m-110 1h87m1 0h3m2 0h7m3 0h2m5 0h1m-111 1h88m1 0h3m1 0h4m1 0h1m2 0h1m3 0h1m4 0h1m3 0h1m12 0h1m17 0h1m-145 1h86m1 0h2m1 0h3m1 0h1m1 0h2m1 0h1m14 0h1m3 0h1m-120 1h95m1 0h1m3 0h1m1 0h2m2 0h2m4 0h1m-113 1h93m1 0h2m1 0h3m2 0h1m-103 1h83m1 0h2m1 0h1m1 0h9m3 0h1m1 0h1m1 0h1m5 0h2m1 0h1m88 0h1m42 0h1m42 0h1m-290 1h95m2 0h1m3 0h1m-102 1h86m1 0h5m1 0h2m4 0h1m2 0h1m11 0h2m79 0h1m-196 1h89m2 0h3m1 0h1m1 0h1m4 0h1m1 0h1m6 0h1m18 0h1m25 0h1m-157 1h1m1 0h87m1 0h4m3 0h3m6 0h1m2 0h1m-110 1h88m1 0h1m1 0h5m1 0h6m3 0h1m1 0h1m2 0h1m-112 1h2m1 0h87m2 0h4m2 0h2m1 0h2m3 0h2m4 0h1m-112 1h88m1 0h1m2 0h2m1 0h1m16 0h1m145 0h1m-260 1h81m1 0h10m3 0h1m2 0h4m3 0h1m-106 1h1m1 0h5m1 0h78m1 0h1m1 0h1m1 0h1m1 0h2m1 0h3m7 0h1m-107 1h83m1 0h6m3 0h2m1 0h2m2 0h1m2 0h1m6 0h1m2 0h1m-114 1h1m1 0h4m1 0h81m1 0h5m1 0h4m1 0h2m2 0h1m12 0h1m175 0h1m-294 1h6m1 0h76m1 0h3m4 0h1m3 0h1m4 0h4m1 0h1m3 0h1m-110 1h4m1 0h1m1 0h78m1 0h6m1 0h1m6 0h2m8 0h1m-111 1h71m1 0h12m1 0h4m1 0h1m2 0h1m1 0h1m-95 1h78m1 0h8m2 0h1m2 0h2m1 0h1m14 0h1m1 0h1m-114 1h7m1 0h3m1 0h68m1 0h4m1 0h1m1 0h1m1 0h3m5 0h1m1 0h1m6 0h1m-108 1h88m1 0h5m4 0h2m2 0h1m-103 1h4m1 0h80m1 0h1m1 0h1m6 0h1m6 0h1m7 0h1m198 0h1m-309 1h73m1 0h9m10 0h1m1 0h1m5 0h1m-103 1h1m1 0h73m1 0h3m1 0h1m1 0h5m2 0h4m2 0h1m1 0h1m8 0h1m5 0h1m1 0h1m-115 1h78m1 0h5m1 0h2m4 0h1m27 0h1m-120 1h2m1 0h70m1 0h9m1 0h1m2 0h2m2 0h1m31 0h1m-124 1h2m1 0h65m1 0h9m1 0h6m1 0h2m2 0h1m1 0h1m4 0h2m9 0h2m17 0h1m-128 1h3m1 0h1m1 0h64m1 0h7m1 0h3m1 0h1m1 0h2m7 0h2m4 0h1m14 0h1m-116 1h4m1 0h74m1 0h3m1 0h2m1 0h1m1 0h1m14 0h1m5 0h1m-111 1h3m1 0h8m1 0h1m1 0h62m1 0h2m2 0h1m1 0h1m1 0h1m2 0h1m1 0h1m8 0h1m188 0h1m-289 1h62m1 0h8m1 0h5m1 0h3m3 0h1m1 0h1m4 0h1m1 0h1m2 0h1m-98 1h1m1 0h1m2 0h1m1 0h65m1 0h5m1 0h6m1 0h2m1 0h1m6 0h2m5 0h1m214 0h1m-319 1h75m1 0h3m2 0h1m1 0h1m1 0h1m3 0h1m1 0h1m1 0h1m2 0h1m1 0h1m-99 1h10m1 0h3m1 0h64m1 0h2m1 0h1m2 0h4m2 0h1m6 0h1m3 0h1m-104 1h4m2 0h61m1 0h2m1 0h6m1 0h4m13 0h1m1 0h1m21 0h1m-118 1h58m1 0h2m1 0h10m1 0h3m2 0h1m1 0h3m1 0h1m1 0h1m1 0h2m1 0h1m11 0h1m-106 1h4m1 0h1m1 0h57m1 0h14m3 0h2m3 0h1m2 0h1m-91 1h2m1 0h3m1 0h2m1 0h3m1 0h26m1 0h29m2 0h7m1 0h1m1 0h1m1 0h1m3 0h1m14 0h1m198 0h1m-303 1h5m1 0h71m1 0h1m1 0h1m1 0h1m5 0h1m1 0h2m-92 1h1m1 0h2m1 0h3m1 0h2m1 0h8m1 0h46m1 0h7m3 0h1m1 0h2m1 0h1m1 0h2m1 0h2m2 0h1m1 0h1m178 0h1m-274 1h2m3 0h2m1 0h2m1 0h51m1 0h5m2 0h1m2 0h1m1 0h1m4 0h3m1 0h1m3 0h2m2 0h1m-92 1h1m1 0h4m1 0h3m1 0h14m1 0h23m1 0h8m1 0h1m2 0h6m3 0h1m1 0h1m2 0h1m2 0h1m-80 1h1m1 0h6m1 0h3m1 0h7m1 0h25m1 0h1m1 0h2m1 0h14m2 0h1m1 0h3m1 0h1m2 0h1m1 0h1m2 0h1m15 0h1m-99 1h1m2 0h2m1 0h3m1 0h1m1 0h5m1 0h36m1 0h11m1 0h1m4 0h3m1 0h3m1 0h2m62 0h1m-146 1h1m4 0h1m1 0h1m1 0h3m1 0h4m1 0h2m1 0h4m1 0h22m1 0h1m1 0h5m1 0h7m1 0h1m2 0h1m1 0h4m1 0h2m2 0h3m7 0h1m126 0h1m-215 1h1m1 0h3m1 0h4m1 0h4m1 0h11m1 0h6m1 0h8m1 0h8m1 0h2m1 0h1m3 0h7m1 0h2m2 0h1m1 0h1m1 0h2m3 0h1m-84 1h1m2 0h2m2 0h2m1 0h3m1 0h1m1 0h4m1 0h12m1 0h26m1 0h3m2 0h1m1 0h1m5 0h2m2 0h2m1 0h1m23 0h1m14 0h1" stroke="#000" stroke-width="1.7" fill="none" filter="url(#b)"/>
<path transform="translate(347.7 29.85) scale(.5)" d="M84 196h3m-32 4h4m6 1h5m18 2h3m-22 2h3m2 0h3m-11 1h5m-22 1h4m5 0h3m6 0h5m-22 1h3m6 0h3m4 0h6m-5 1h4m-16 1h3m9 0h5m-19 1h4m4 0h4m1 0h4m1 0h6m-27 1h6m3 0h9m4 0h3m-37 1h8m5 0h6m3 0h7m4 0h3m13 0h3m5 0h3m-59 1h8m3 0h6m5 0h5m3 0h6m-34 1h14m5 0h5m3 0h8m-45 1h3m8 0h14m1 0h9m1 0h8m3 0h3m-40 1h19m1 0h13m-36 1h3m2 0h16m3 0h11m10 0h4m5 0h4m-59 1h3m4 0h16m1 0h13m1 0h4m5 0h6m1 0h4m-66 1h6m1 0h3m4 0h39m3 0h5m1 0h3m-65 1h9m3 0h41m2 0h5m-56 1h6m1 0h41m3 0h4m-54 1h9m1 0h38m1 0h4m5 0h6m-63 1h7m3 0h41m8 0h3m-71 1h5m3 0h9m1 0h41m-59 1h3m1 0h39m1 0h15m9 0h3m-64 1h35m3 0h15m3 0h11m-66 1h35m1 0h17m6 0h7m-67 1h55m6 0h4m-71 1h3m3 0h59m1 0h4m-69 1h3m1 0h64m-69 1h58m1 0h8m-69 1h4m1 0h54m3 0h6m-72 1h7m3 0h50m1 0h3m1 0h8m-72 1h7m1 0h50m3 0h12m-72 1h58m1 0h10m-70 1h69m-68 1h69m-75 1h4m3 0h65m1 0h4m-80 1h8m1 0h65m3 0h4m1 0h3m-84 1h74m1 0h7m-81 1h4m1 0h75m-72 1h70m-69 1h68m3 0h3m-75 1h4m1 0h63m3 0h3m-83 1h4m4 0h4m3 0h61m-73 1h3m1 0h6m1 0h63m-88 1h4m11 0h72m3 0h3m-92 1h3m5 0h4m1 0h74m1 0h3m-92 1h3m7 0h83m-93 1h4m5 0h85m-92 1h4m1 0h3m1 0h79m-78 1h77m-78 1h79m-88 1h3m2 0h80m-88 1h87m-82 1h83m-82 1h86m-82 1h80m-90 1h6m5 0h12m1 0h65m-89 1h7m3 0h12m3 0h65m-89 1h22m1 0h69m-91 1h86m1 0h6m-94 1h86m-87 1h87m-86 1h83m5 0h3m-89 1h80m5 0h3m1 0h4m-92 1h80m3 0h3m-87 1h82m3 0h3m-90 1h85m1 0h4m-90 1h89m-89 1h88m-89 1h90m1 0h3m-97 1h5m1 0h87m1 0h4m-98 1h4m3 0h85m3 0h3m-98 1h5m1 0h87m-93 1h3m1 0h3m1 0h84m-83 1h81m-90 1h3m5 0h81m3 0h3m-94 1h3m5 0h79m-86 1h3m5 0h77m-86 1h7m1 0h77m-85 1h86m-85 1h84m-85 1h86m-87 1h83m6 0h3m-92 1h82m8 0h3m-93 1h83m6 0h3m-92 1h85m-83 1h84m-83 1h85m-85 1h84m-83 1h84m-85 1h78m1 0h6m-86 1h5m1 0h72m3 0h3m-83 1h3m3 0h72m-79 1h4m2 0h74m-74 1h75m1 0h3m-79 1h74m-82 1h3m5 0h63m1 0h11m-82 1h3m3 0h63m3 0h6m1 0h3m-81 1h5m1 0h3m1 0h59m1 0h6m3 0h3m-83 1h5m7 0h66m-79 1h4m4 0h3m1 0h68m1 0h4m-79 1h68m1 0h9m-79 1h68m3 0h3m-76 1h71m-71 1h70m-69 1h64m1 0h3m3 0h3m1 0h3m-76 1h61m7 0h3m-70 1h61m4 0h5m-77 1h3m3 0h6m3 0h55m1 0h6m-72 1h6m5 0h47m1 0h8m1 0h3m-69 1h5m3 0h47m3 0h6m3 0h3m-69 1h55m1 0h7m-64 1h3m1 0h3m1 0h57m-72 1h4m2 0h3m7 0h51m4 0h4m-68 1h3m1 0h3m1 0h45m-53 1h52m-49 1h3m1 0h26m1 0h19m6 0h4m5 0h3m-63 1h24m3 0h22m1 0h4m4 0h4m-63 1h6m1 0h19m1 0h26m5 0h3m-62 1h6m3 0h40m1 0h3m-54 1h8m1 0h5m1 0h23m1 0h8m5 0h3m-53 1h7m1 0h3m3 0h19m6 0h5m6 0h3m-52 1h3m5 0h3m1 0h19m10 0h3m4 0h3m-52 1h3m5 0h3m1 0h21m10 0h7m-34 1h6m1 0h8m-24 1h4m13 0h6m-22 1h7m8 0h8m1 0h8" stroke="#000" stroke-width="2.6" fill="none"/>
<path d="M347.7 131.1H507.6V180.2" fill="none" stroke="#000" stroke-width="1.5"/>
<rect x="486.1" y="182.46" width="24.58" height="11.06" fill="#fff"/>
<text x="487.3" y="192.1" font-size="11.4" fill="#111">97.9</text>
<path d="M347.7 29.6H511.9" fill="none" stroke="#222" stroke-width="1.0"/>
<path d="M347.7 29.1V195.2" fill="none" stroke="#000" stroke-width="1.5"/>
<path d="M346.95 195.2H511.9V29.1" fill="none" stroke="#000" stroke-width="1.9"/>
<path d="M347.7 178.7h-4.8M347.7 160.55h-4.8M347.7 120.6h-4.8M347.7 82.2h-4.8M347.7 44.8h-4.8M346.9 148.52h-2M346.9 141.49h-2M346.9 136.5h-2M346.9 132.63h-2M346.9 129.46h-2M346.9 126.79h-2M346.9 124.47h-2M346.9 122.43h-2M346.9 109.04h-2M346.9 102.28h-2M346.9 97.48h-2M346.9 93.76h-2M346.9 90.72h-2M346.9 88.15h-2M346.9 85.92h-2M346.9 83.96h-2M346.9 70.94h-2M346.9 64.36h-2M346.9 59.68h-2M346.9 56.06h-2M346.9 53.1h-2M346.9 50.59h-2M346.9 48.42h-2M346.9 46.51h-2M346.9 33.54h-2M346.9 190.7h-2M346.9 187.2h-2M346.9 184.2h-2M346.9 181.7h-2M346.9 175.7h-2M346.9 173.2h-2M346.9 170.2h-2M346.9 166.7h-2M346.9 163.7h-2M364.2 195.2v6.2M382.35 195.2v6.2M422.3 195.2v6.2M460.7 195.2v6.2M498.1 195.2v6.2M394.38 196v2.6M401.41 196v2.6M406.4 196v2.6M410.27 196v2.6M413.44 196v2.6M416.11 196v2.6M418.43 196v2.6M420.47 196v2.6M433.86 196v2.6M440.62 196v2.6M445.42 196v2.6M449.14 196v2.6M452.18 196v2.6M454.75 196v2.6M456.98 196v2.6M458.94 196v2.6M471.96 196v2.6M478.54 196v2.6M483.22 196v2.6M486.84 196v2.6M489.8 196v2.6M492.31 196v2.6M494.48 196v2.6M496.39 196v2.6M509.36 196v2.6M352.2 196v2.6M355.7 196v2.6M358.7 196v2.6M361.2 196v2.6M367.2 196v2.6M369.7 196v2.6M372.7 196v2.6M376.2 196v2.6M379.2 196v2.6" stroke="#000" stroke-width="1.5" fill="none"/>
<text x="340.2" y="182.7" font-size="11.3" text-anchor="end" fill="#111">0</text>
<text x="364.2" y="214.6" font-size="11.3" text-anchor="middle" fill="#111">0</text>
<text x="323.41" y="164.75" font-size="11.3" fill="#111">10<tspan font-size="8.5" dy="-4.5">2</tspan></text>
<text x="373.87" y="214.6" font-size="11.3" fill="#111">10<tspan font-size="8.5" dy="-4.5">2</tspan></text>
<text x="323.41" y="124.8" font-size="11.3" fill="#111">10<tspan font-size="8.5" dy="-4.5">3</tspan></text>
<text x="413.82" y="214.6" font-size="11.3" fill="#111">10<tspan font-size="8.5" dy="-4.5">3</tspan></text>
<text x="323.41" y="86.4" font-size="11.3" fill="#111">10<tspan font-size="8.5" dy="-4.5">4</tspan></text>
<text x="452.22" y="214.6" font-size="11.3" fill="#111">10<tspan font-size="8.5" dy="-4.5">4</tspan></text>
<text x="323.41" y="49" font-size="11.3" fill="#111">10<tspan font-size="8.5" dy="-4.5">5</tspan></text>
<text x="489.62" y="214.6" font-size="11.3" fill="#111">10<tspan font-size="8.5" dy="-4.5">5</tspan></text>
<text x="35.2" y="141.2" font-size="17" text-anchor="middle" transform="rotate(-90 35.2 141.2)" fill="#111">Gr-1</text>
<text x="319.3" y="111.9" font-size="11.2" text-anchor="middle" transform="rotate(-90 319.3 111.9)" fill="#111">&lt;PE-A&gt;: GR-1</text>
<path d="M27.6 170.6V230.2H89.2" fill="none" stroke="#000" stroke-width="1.7" stroke-linejoin="miter"/>
<path d="M20.8 181.6L27.6 169.8L34.4 181.6M78.6 222.9L90 230.2L78.6 237.5" fill="none" stroke="#000" stroke-width="3.0" stroke-linejoin="miter" stroke-linecap="butt"/>
<text x="96.3" y="235.5" font-size="17" fill="#111">CD115</text>
<path d="M160.3 196V241.7" stroke="#000" stroke-width="3"/>
<path d="M152.7 240.7L167.9 240.7L160.3 256Z" fill="#000"/>
<path d="M438.6 196V241.7" stroke="#000" stroke-width="3"/>
<path d="M431 240.7L446.2 240.7L438.6 256Z" fill="#000"/>
<path transform="translate(68 256.95) scale(.5)" d="M12 5h1m142 1h1m-112 2h1m90 4h1m-91 1h1m-13 1h1m74 3h1m45 0h1m23 0h1m-143 1h1m-25 1h1m39 0h1m105 1h1m63 0h1m-171 1h1m30 1h1m-37 2h1m76 0h1m38 0h1m-130 1h1m5 0h1m-2 1h1m127 0h1m-148 1h1m41 0h1m14 0h1m8 0h1m76 1h1m-150 1h1m60 0h1m-36 1h1m1 1h1m3 0h1m3 0h1m18 0h1m13 0h1m-23 2h1m29 0h1m31 0h1m-85 1h2m7 0h1m99 0h1m40 0h1m-108 2h1m-14 1h1m-25 1h1m10 0h1m9 0h1m102 0h1m-153 1h1m17 0h1m30 0h1m6 0h1m2 0h1m66 0h1m-121 1h1m73 0h1m122 0h1m-178 1h1m40 0h1m-70 1h1m42 0h1m20 0h1m-55 1h1m1 0h1m14 0h2m8 0h1m3 0h1m25 0h1m23 0h1m18 0h1m-104 1h1m4 0h1m2 0h1m12 0h1m-10 1h1m62 0h1m6 0h1m11 0h1m127 0h1m-164 1h1m6 0h2m-5 1h1m-57 1h1m40 0h1m8 0h1m-54 1h1m8 0h1m18 0h1m40 0h1m-79 1h1m10 0h1m17 0h1m1 0h1m1 0h1m9 0h1m-32 1h1m13 0h1m7 0h1m2 0h1m1 0h1m8 0h1m3 0h1m3 0h1m77 0h1m-134 1h1m29 0h1m14 0h1m4 0h1m34 0h1m47 0h1m-143 1h1m9 0h1m2 0h1m3 0h1m4 0h1m4 0h1m43 0h1m10 0h1m1 0h1m-89 1h1m15 0h1m7 0h1m3 0h1m3 0h1m12 0h1m12 0h1m82 0h1m-122 1h1m11 0h1m10 0h1m11 0h1m1 0h1m16 0h1m40 0h1m12 0h1m59 0h1m-184 1h1m4 0h1m3 0h1m3 0h1m2 0h1m3 0h2m3 0h1m2 0h1m3 0h1m11 0h2m5 0h2m13 0h1m3 0h1m60 0h1m-124 1h1m4 0h1m6 0h1m10 0h1m17 0h1m6 0h1m3 0h1m3 0h1m5 0h1m15 0h1m91 0h1m-149 1h2m1 0h1m6 0h1m3 0h2m4 0h1m32 0h1m12 0h1m47 0h1m-144 1h1m20 0h1m1 0h1m6 0h1m3 0h1m2 0h1m11 0h1m8 0h1m-39 1h1m8 0h1m2 0h1m1 0h1m4 0h1m11 0h1m8 0h1m4 0h1m3 0h1m-50 1h1m9 0h2m2 0h2m2 0h1m22 0h1m7 0h1m54 0h2m13 0h1m-135 1h1m13 0h2m5 0h1m7 0h1m4 0h1m2 0h2m3 0h1m8 0h1m6 0h1m8 0h1m12 0h1m3 0h1m49 0h1m21 0h1m3 0h1m28 0h1m-181 1h1m2 0h1m8 0h2m7 0h2m26 0h1m12 0h1m16 0h1m95 0h1m-185 1h1m7 0h1m5 0h2m1 0h1m1 0h5m4 0h1m3 0h4m5 0h2m2 0h2m12 0h1m64 0h1m37 0h2m-167 1h1m4 0h1m1 0h1m12 0h2m1 0h1m3 0h1m5 0h1m1 0h1m4 0h1m5 0h1m5 0h1m2 0h2m1 0h1m1 0h1m2 0h2m8 0h1m4 0h1m19 0h1m69 0h1m62 0h1m-232 1h1m1 0h1m9 0h1m2 0h1m5 0h1m2 0h2m2 0h1m2 0h1m1 0h1m2 0h1m2 0h2m1 0h2m1 0h1m1 0h1m4 0h2m3 0h1m2 0h1m4 0h1m1 0h1m1 0h1m3 0h1m16 0h1m45 0h1m36 0h1m-177 1h1m6 0h2m8 0h1m1 0h4m6 0h1m4 0h1m1 0h1m5 0h2m1 0h1m2 0h2m7 0h1m6 0h2m6 0h1m111 0h2m-188 1h1m11 0h1m1 0h1m3 0h1m4 0h1m6 0h1m2 0h1m1 0h2m1 0h1m4 0h1m4 0h1m2 0h2m4 0h2m2 0h1m1 0h1m11 0h1m19 0h2m129 0h1m-232 1h1m4 0h1m6 0h1m1 0h1m2 0h1m11 0h3m1 0h1m1 0h1m2 0h7m1 0h1m7 0h1m5 0h1m9 0h1m2 0h1m2 0h1m1 0h1m8 0h1m35 0h1m71 0h1m-197 1h1m5 0h1m9 0h1m2 0h2m16 0h1m1 0h1m4 0h2m1 0h3m1 0h2m3 0h1m1 0h1m6 0h3m4 0h3m81 0h1m16 0h1m-160 1h1m3 0h1m4 0h1m4 0h2m1 0h1m4 0h1m1 0h1m5 0h1m1 0h1m1 0h1m3 0h2m1 0h1m9 0h1m7 0h2m2 0h2m5 0h1m1 0h1m3 0h1m16 0h1m24 0h1m37 0h1m39 0h1m-188 1h1m6 0h2m1 0h1m1 0h2m2 0h3m1 0h3m1 0h1m5 0h1m1 0h1m2 0h1m3 0h3m6 0h1m3 0h1m4 0h1m2 0h3m1 0h1m2 0h1m33 0h1m13 0h1m-133 1h1m11 0h1m4 0h1m1 0h1m2 0h1m3 0h1m1 0h2m1 0h1m1 0h4m1 0h1m5 0h1m4 0h1m2 0h1m1 0h1m3 0h1m3 0h1m1 0h1m11 0h1m4 0h1m2 0h1m6 0h1m33 0h1m53 0h1m-184 1h1m1 0h1m3 0h1m2 0h1m7 0h4m1 0h1m2 0h2m1 0h1m2 0h1m2 0h1m1 0h3m1 0h1m2 0h1m1 0h3m1 0h2m1 0h7m3 0h1m3 0h1m2 0h1m3 0h1m1 0h1m9 0h1m3 0h1m6 0h1m3 0h1m36 0h1m13 0h1m-153 1h1m3 0h1m5 0h1m9 0h1m7 0h4m4 0h1m1 0h2m2 0h1m1 0h2m2 0h1m1 0h1m4 0h3m6 0h3m15 0h1m1 0h1m15 0h1m10 0h1m12 0h1m49 0h1m-168 1h1m5 0h1m4 0h1m1 0h1m4 0h2m1 0h2m1 0h2m1 0h1m1 0h4m1 0h1m1 0h1m3 0h2m1 0h4m6 0h4m2 0h1m1 0h2m2 0h2m4 0h1m4 0h1m8 0h2m55 0h1m9 0h1m-147 1h1m3 0h1m2 0h2m2 0h3m1 0h1m2 0h1m1 0h2m1 0h1m1 0h5m1 0h1m1 0h2m1 0h1m1 0h2m2 0h1m1 0h1m3 0h3m3 0h2m1 0h1m1 0h1m128 0h1m-195 1h1m1 0h1m3 0h2m4 0h4m1 0h1m1 0h4m5 0h1m1 0h2m2 0h2m1 0h2m2 0h3m1 0h2m4 0h1m1 0h1m1 0h1m1 0h1m17 0h1m58 0h1m-139 1h1m4 0h1m9 0h2m1 0h2m1 0h3m1 0h1m2 0h8m3 0h4m1 0h12m2 0h2m1 0h2m1 0h2m1 0h1m1 0h1m3 0h2m2 0h1m5 0h1m1 0h3m6 0h1m45 0h1m-143 1h1m4 0h1m1 0h1m1 0h1m10 0h2m1 0h2m3 0h1m1 0h5m1 0h5m3 0h5m1 0h2m1 0h2m3 0h2m3 0h1m3 0h1m1 0h3m3 0h1m3 0h1m24 0h1m17 0h1m32 0h1m12 0h1m56 0h1m-223 1h1m7 0h2m2 0h2m2 0h2m3 0h1m1 0h1m1 0h1m2 0h3m2 0h1m1 0h7m1 0h5m1 0h3m1 0h1m1 0h7m1 0h2m1 0h1m1 0h1m2 0h2m1 0h1m9 0h1m7 0h1m5 0h1m10 0h1m15 0h1m48 0h1m-175 1h2m1 0h1m1 0h2m2 0h1m4 0h2m3 0h3m2 0h1m5 0h1m1 0h8m2 0h5m1 0h5m3 0h6m1 0h1m1 0h1m4 0h1m1 0h1m3 0h2m1 0h1m1 0h2m7 0h1m2 0h1m71 0h1m36 0h1m-208 1h1m3 0h1m10 0h1m3 0h1m2 0h2m1 0h3m2 0h1m3 0h2m2 0h2m2 0h1m1 0h7m1 0h2m2 0h2m1 0h2m1 0h1m1 0h1m1 0h3m4 0h1m3 0h1m4 0h1m13 0h2m1 0h1m23 0h1m12 0h1m-137 1h2m2 0h1m1 0h1m1 0h2m4 0h2m4 0h1m2 0h1m1 0h1m1 0h11m1 0h11m1 0h4m1 0h1m1 0h4m1 0h1m1 0h1m1 0h1m2 0h2m3 0h1m21 0h1m1 0h1m59 0h1m2 0h1m-163 1h1m5 0h1m5 0h1m6 0h1m1 0h1m1 0h2m1 0h1m2 0h7m3 0h3m1 0h1m1 0h3m3 0h1m1 0h5m2 0h3m2 0h5m1 0h1m5 0h1m9 0h1m1 0h1m7 0h1m35 0h1m1 0h1m-136 1h1m3 0h2m5 0h1m3 0h2m2 0h2m1 0h2m2 0h2m1 0h7m1 0h6m3 0h7m1 0h1m1 0h13m3 0h2m7 0h1m9 0h1m97 0h1m-192 1h2m7 0h1m2 0h2m6 0h1m1 0h2m1 0h2m1 0h1m2 0h1m1 0h7m1 0h3m1 0h1m1 0h4m2 0h12m1 0h4m3 0h2m9 0h1m3 0h1m4 0h1m1 0h1m17 0h1m25 0h1m25 0h1m-159 1h1m1 0h1m6 0h4m2 0h4m1 0h5m1 0h17m1 0h2m1 0h1m1 0h4m1 0h4m2 0h1m1 0h2m1 0h1m5 0h1m2 0h1m5 0h1m10 0h1m2 0h1m1 0h1m6 0h1m55 0h1m-165 1h1m6 0h2m4 0h1m1 0h1m3 0h2m2 0h5m1 0h15m1 0h7m1 0h3m1 0h1m1 0h3m1 0h2m1 0h5m3 0h1m3 0h1m1 0h1m9 0h1m15 0h1m-109 1h1m1 0h3m2 0h1m4 0h3m1 0h1m1 0h1m4 0h12m1 0h17m1 0h12m1 0h4m1 0h1m1 0h4m5 0h1m3 0h1m1 0h1m3 0h1m31 0h1m1 0h1m50 0h1m-176 1h1m1 0h1m6 0h1m1 0h1m2 0h3m1 0h4m2 0h1m1 0h2m2 0h10m1 0h6m1 0h11m1 0h6m1 0h1m4 0h1m1 0h1m2 0h2m2 0h2m3 0h1m5 0h1m1 0h1m8 0h1m17 0h1m32 0h1m3 0h1m15 0h1m25 0h1m73 0h1m-269 1h1m4 0h1m3 0h3m1 0h1m2 0h13m1 0h13m1 0h12m2 0h2m1 0h5m1 0h4m1 0h3m1 0h2m2 0h2m10 0h1m55 0h1m23 0h1m11 0h1m11 0h1m-202 1h1m1 0h1m1 0h1m1 0h1m1 0h2m2 0h8m1 0h25m1 0h7m1 0h4m1 0h7m2 0h2m2 0h2m52 0h1m-127 1h1m1 0h1m2 0h1m3 0h1m2 0h2m1 0h4m1 0h3m2 0h25m1 0h6m1 0h1m1 0h5m3 0h2m3 0h1m2 0h2m1 0h2m1 0h3m18 0h1m9 0h1m35 0h1m6 0h1m25 0h1m-185 1h1m3 0h1m2 0h5m3 0h1m1 0h5m1 0h29m1 0h5m1 0h5m1 0h2m1 0h6m3 0h1m1 0h1m6 0h1m2 0h2m42 0h1m2 0h2m21 0h1m4 0h1m16 0h1m7 0h1m-185 1h1m3 0h2m3 0h3m2 0h5m1 0h4m1 0h30m1 0h6m1 0h1m1 0h4m5 0h1m2 0h2m4 0h1m4 0h1m16 0h1m21 0h1m4 0h1m49 0h1m57 0h1m-246 1h2m1 0h4m1 0h2m1 0h5m1 0h7m1 0h34m1 0h7m1 0h5m3 0h3m1 0h3m2 0h2m1 0h2m29 0h1m6 0h1m13 0h1m46 0h1m5 0h1m-194 1h1m3 0h1m1 0h1m1 0h1m1 0h1m2 0h2m1 0h2m2 0h6m2 0h34m1 0h3m1 0h3m2 0h1m2 0h2m1 0h1m3 0h3m1 0h1m14 0h1m6 0h1m2 0h1m2 0h1m10 0h1m21 0h1m11 0h1m-163 1h1m3 0h2m3 0h1m2 0h3m3 0h22m1 0h23m1 0h2m2 0h9m1 0h3m1 0h1m1 0h2m7 0h1m2 0h1m5 0h1m2 0h1m33 0h1m13 0h1m21 0h1m-176 1h2m4 0h2m2 0h1m1 0h1m1 0h1m2 0h2m1 0h4m1 0h34m1 0h4m2 0h2m1 0h1m3 0h5m2 0h1m2 0h2m1 0h1m1 0h1m33 0h1m6 0h1m56 0h1m34 0h1m-217 1h2m1 0h1m2 0h1m1 0h4m2 0h2m1 0h42m1 0h11m1 0h3m1 0h3m1 0h1m1 0h1m14 0h1m3 0h1m15 0h1m5 0h1m14 0h1m19 0h1m20 0h1m-177 1h55m2 0h9m1 0h3m1 0h1m1 0h2m4 0h1m11 0h1m1 0h1m40 0h1m6 0h1m1 0h1m2 0h1m3 0h1m15 0h1m-174 1h1m1 0h6m1 0h1m1 0h1m2 0h4m1 0h60m3 0h1m1 0h1m4 0h2m9 0h1m4 0h1m8 0h1m123 0h1m-241 1h1m3 0h3m1 0h2m1 0h2m2 0h6m1 0h53m1 0h2m1 0h1m1 0h1m2 0h1m12 0h1m16 0h1m2 0h1m23 0h1m58 0h1m-201 1h1m1 0h1m1 0h1m1 0h1m1 0h1m1 0h1m2 0h11m1 0h42m1 0h8m6 0h1m50 0h1m3 0h1m5 0h1m9 0h1m8 0h1m7 0h1m-171 1h1m2 0h1m1 0h2m4 0h2m1 0h1m2 0h62m1 0h1m1 0h2m4 0h1m1 0h5m4 0h2m4 0h1m2 0h2m11 0h1m52 0h1m11 0h1m15 0h1m-199 1h1m1 0h1m1 0h1m2 0h2m1 0h1m1 0h2m1 0h6m1 0h17m1 0h29m2 0h2m2 0h1m1 0h2m1 0h5m1 0h1m17 0h2m2 0h1m2 0h1m27 0h1m18 0h1m30 0h1m19 0h1m-212 1h1m1 0h1m1 0h1m2 0h7m1 0h36m1 0h23m1 0h1m2 0h2m2 0h1m2 0h1m1 0h1m1 0h1m1 0h1m15 0h1m2 0h1m1 0h1m5 0h1m1 0h1m40 0h1m13 0h1m13 0h1m12 0h1m27 0h1m-225 1h1m1 0h4m1 0h2m1 0h59m3 0h3m4 0h2m1 0h1m3 0h1m1 0h1m1 0h3m14 0h1m39 0h1m17 0h1m66 0h1m2 0h1m2 0h1m-242 1h1m2 0h2m1 0h6m1 0h5m1 0h48m2 0h1m2 0h2m1 0h7m1 0h2m1 0h1m1 0h1m41 0h1m2 0h1m2 0h1m15 0h1m1 0h1m23 0h1m4 0h1m15 0h1m8 0h1m-215 1h2m1 0h2m5 0h2m1 0h67m1 0h2m5 0h1m4 0h2m26 0h2m9 0h1m11 0h1m-145 1h1m1 0h1m5 0h1m2 0h9m1 0h59m2 0h1m2 0h5m2 0h4m4 0h1m1 0h1m3 0h1m41 0h1m4 0h1m4 0h1m7 0h1m2 0h1m62 0h1m-233 1h1m1 0h2m3 0h1m2 0h2m1 0h59m1 0h1m1 0h3m1 0h4m4 0h1m3 0h2m4 0h1m5 0h1m9 0h1m21 0h1m7 0h2m83 0h1m15 0h1m-241 1h2m1 0h5m1 0h67m1 0h4m1 0h1m5 0h4m2 0h1m2 0h1m3 0h2m20 0h1m1 0h1m37 0h2m2 0h1m18 0h1m2 0h1m15 0h1m-210 1h5m2 0h5m1 0h68m1 0h1m1 0h4m1 0h2m4 0h1m2 0h1m2 0h1m20 0h1m22 0h1m12 0h1m18 0h1m6 0h1m99 0h1m-283 1h3m3 0h1m1 0h1m2 0h2m1 0h1m1 0h60m2 0h2m1 0h2m1 0h1m1 0h1m3 0h1m1 0h3m3 0h1m12 0h1m40 0h1m8 0h1m21 0h1m3 0h1m6 0h1m7 0h1m-205 1h1m4 0h2m1 0h69m1 0h3m6 0h2m1 0h1m1 0h1m1 0h1m1 0h1m1 0h1m35 0h2m31 0h1m4 0h1m9 0h1m2 0h1m10 0h1m-195 1h2m1 0h1m2 0h2m1 0h1m1 0h3m1 0h3m2 0h55m1 0h11m2 0h1m13 0h1m5 0h1m15 0h1m2 0h2m18 0h1m12 0h1m10 0h2m7 0h1m-183 1h2m2 0h6m1 0h69m2 0h1m1 0h5m1 0h1m5 0h1m7 0h1m17 0h1m28 0h1m1 0h1m45 0h1m-200 1h1m1 0h3m2 0h6m1 0h2m1 0h38m1 0h23m2 0h4m3 0h2m3 0h2m3 0h1m15 0h1m7 0h1m3 0h1m1 0h1m7 0h1m12 0h1m14 0h1m6 0h1m26 0h1m-199 1h2m2 0h1m1 0h5m1 0h66m1 0h1m1 0h1m1 0h2m2 0h2m1 0h1m1 0h1m1 0h1m3 0h1m8 0h1m9 0h1m10 0h1m-128 1h1m2 0h4m1 0h2m1 0h5m1 0h54m1 0h6m1 0h1m1 0h4m5 0h1m1 0h2m6 0h1m1 0h1m1 0h1m6 0h1m1 0h1m13 0h1m39 0h2m7 0h1m-177 1h2m2 0h1m2 0h1m1 0h65m2 0h8m1 0h2m1 0h2m1 0h2m2 0h1m10 0h1m14 0h1m13 0h1m-138 1h1m4 0h6m1 0h2m2 0h70m1 0h1m1 0h2m1 0h1m9 0h1m48 0h1m10 0h1m21 0h1m-185 1h2m3 0h4m2 0h3m1 0h2m1 0h55m1 0h5m3 0h1m1 0h1m2 0h3m1 0h2m8 0h3m9 0h2m49 0h1m12 0h1m5 0h1m3 0h1m19 0h1m-207 1h3m1 0h1m3 0h3m1 0h3m1 0h65m1 0h1m1 0h2m3 0h3m1 0h1m1 0h1m6 0h1m1 0h1m10 0h1m6 0h1m13 0h2m11 0h1m1 0h1m18 0h1m27 0h1m-197 1h1m2 0h5m1 0h64m2 0h5m1 0h2m4 0h1m2 0h1m4 0h1m1 0h1m6 0h1m8 0h2m2 0h1m7 0h1m9 0h1m17 0h1m21 0h1m-177 1h2m4 0h7m1 0h59m1 0h2m1 0h1m1 0h8m1 0h1m4 0h3m1 0h1m2 0h1m6 0h1m30 0h1m24 0h1m28 0h1m-195 1h4m5 0h1m1 0h70m1 0h3m2 0h2m3 0h1m1 0h1m1 0h1m11 0h1m8 0h2m53 0h1m10 0h1m15 0h1m19 0h1m-219 1h1m2 0h1m1 0h2m2 0h76m8 0h1m12 0h1m3 0h1m10 0h1m19 0h1m10 0h1m8 0h1m12 0h1m4 0h1m-180 1h2m2 0h1m1 0h74m1 0h1m3 0h5m7 0h1m1 0h1m10 0h1m16 0h1m27 0h1m4 0h1m25 0h1m1 0h1m12 0h1m-203 1h4m1 0h1m1 0h6m1 0h61m1 0h2m3 0h2m1 0h5m1 0h4m2 0h4m2 0h1m9 0h1m6 0h1m1 0h1m21 0h1m4 0h1m15 0h1m6 0h1m22 0h1m10 0h1m-203 1h5m1 0h1m1 0h64m1 0h5m1 0h1m3 0h6m1 0h2m6 0h1m6 0h1m15 0h1m13 0h1m11 0h1m24 0h1m47 0h1m-221 1h2m1 0h80m2 0h2m2 0h1m1 0h4m1 0h1m4 0h1m4 0h2m7 0h1m1 0h1m10 0h1m6 0h1m14 0h1m2 0h1m6 0h1m11 0h1m13 0h1m51 0h1m-239 1h2m1 0h70m1 0h13m1 0h3m4 0h1m13 0h1m22 0h1m25 0h2m5 0h1m28 0h1m25 0h1m-223 1h1m2 0h1m1 0h1m1 0h8m1 0h67m2 0h3m2 0h1m1 0h1m4 0h1m2 0h1m1 0h1m12 0h1m17 0h1m4 0h1m8 0h2m3 0h1m2 0h1m33 0h1m1 0h1m12 0h1m-206 1h1m1 0h4m2 0h6m1 0h69m1 0h1m1 0h1m1 0h1m2 0h1m3 0h1m2 0h1m11 0h1m18 0h1m9 0h1m1 0h1m-141 1h4m2 0h75m4 0h1m1 0h5m1 0h1m5 0h1m6 0h3m14 0h1m12 0h1m9 0h1m3 0h1m2 0h1m10 0h1m8 0h1m2 0h1m31 0h2m1 0h1m-212 1h7m1 0h2m1 0h72m1 0h2m1 0h1m2 0h2m2 0h1m2 0h1m13 0h1m66 0h1m22 0h1m-203 1h1m1 0h1m1 0h3m1 0h2m1 0h72m1 0h2m1 0h1m1 0h1m4 0h3m15 0h1m4 0h1m10 0h1m13 0h1m29 0h1m4 0h1m2 0h1m1 0h1m5 0h1m42 0h1m-229 1h1m1 0h1m1 0h63m1 0h12m1 0h4m1 0h2m1 0h1m2 0h2m2 0h1m5 0h1m2 0h1m7 0h2m4 0h1m12 0h1m7 0h1m11 0h1m3 0h1m13 0h1m-172 1h5m1 0h70m1 0h6m1 0h3m4 0h2m5 0h1m1 0h1m26 0h1m6 0h1m4 0h1m17 0h1m3 0h1m35 0h2m-202 1h2m1 0h4m1 0h2m1 0h4m2 0h68m1 0h1m1 0h4m8 0h2m3 0h1m15 0h1m3 0h1m5 0h1m30 0h1m12 0h1m3 0h1m3 0h1m20 0h1m37 0h1m-243 1h4m4 0h3m1 0h4m1 0h62m2 0h1m1 0h1m2 0h1m2 0h1m4 0h1m7 0h2m5 0h1m6 0h1m10 0h1m8 0h1m8 0h1m14 0h1m18 0h1m16 0h1m-195 1h1m1 0h1m1 0h11m1 0h60m1 0h4m1 0h1m1 0h3m1 0h1m2 0h2m1 0h1m5 0h1m5 0h1m3 0h2m29 0h2m19 0h1m13 0h1m37 0h1m-213 1h1m1 0h1m2 0h5m1 0h66m2 0h3m2 0h3m10 0h1m1 0h1m1 0h1m12 0h1m9 0h1m32 0h1m80 0h1m-242 1h4m1 0h72m1 0h8m10 0h1m2 0h1m2 0h1m6 0h1m2 0h1m29 0h1m16 0h1m10 0h1m49 0h1m-218 1h2m1 0h80m3 0h2m1 0h3m4 0h1m4 0h1m22 0h1m33 0h1m12 0h1m10 0h1m13 0h1m-200 1h2m1 0h8m1 0h73m1 0h5m1 0h1m2 0h2m7 0h1m5 0h1m4 0h1m20 0h1m4 0h1m1 0h1m7 0h1m2 0h1m50 0h1m17 0h1m-225 1h1m2 0h6m1 0h70m1 0h1m2 0h3m1 0h2m3 0h1m3 0h2m2 0h1m3 0h1m21 0h2m5 0h1m7 0h1m5 0h1m4 0h1m25 0h1m12 0h1m5 0h1m12 0h1m-210 1h2m2 0h4m1 0h2m2 0h58m1 0h9m1 0h3m1 0h1m3 0h3m1 0h2m1 0h1m5 0h1m19 0h1m7 0h1m1 0h1m5 0h1m9 0h1m9 0h1m16 0h1m-179 1h1m1 0h13m1 0h62m1 0h1m1 0h4m1 0h1m1 0h1m1 0h2m1 0h1m2 0h1m1 0h1m8 0h1m28 0h1m18 0h1m37 0h1m42 0h1m-235 1h1m1 0h1m1 0h3m1 0h65m1 0h2m1 0h10m4 0h1m1 0h1m8 0h1m6 0h1m2 0h1m12 0h1m9 0h1m12 0h1m22 0h1m8 0h1m4 0h1m4 0h1m-193 1h1m1 0h1m2 0h1m1 0h1m1 0h63m1 0h7m1 0h1m1 0h6m4 0h2m1 0h1m9 0h1m2 0h2m24 0h1m1 0h1m2 0h1m110 0h1m-252 1h1m2 0h3m1 0h2m1 0h14m1 0h48m1 0h10m1 0h1m1 0h1m1 0h1m2 0h1m1 0h1m15 0h1m3 0h1m18 0h1m15 0h1m10 0h1m36 0h1m2 0h1m-201 1h1m4 0h2m1 0h1m1 0h1m1 0h72m3 0h1m13 0h1m14 0h1m4 0h1m19 0h1m6 0h1m1 0h1m28 0h1m1 0h2m3 0h1m4 0h1m9 0h1m-200 1h1m1 0h1m6 0h6m1 0h69m2 0h1m1 0h2m2 0h2m16 0h1m6 0h1m25 0h1m10 0h1m-155 1h4m2 0h2m1 0h1m1 0h61m1 0h8m1 0h1m1 0h1m1 0h1m1 0h2m1 0h2m24 0h2m22 0h1m45 0h1m3 0h1m27 0h1m-219 1h4m1 0h2m1 0h63m1 0h7m2 0h2m2 0h1m3 0h1m36 0h1m15 0h1m3 0h1m35 0h1m-185 1h1m1 0h1m1 0h3m1 0h2m2 0h2m1 0h1m1 0h59m1 0h1m2 0h2m1 0h1m1 0h2m1 0h1m1 0h1m1 0h1m1 0h3m4 0h1m12 0h1m10 0h1m4 0h1m4 0h1m3 0h1m26 0h1m34 0h1m-204 1h3m1 0h1m2 0h4m1 0h59m1 0h8m1 0h3m2 0h1m2 0h1m1 0h1m2 0h1m1 0h2m2 0h1m5 0h1m25 0h2m13 0h1m19 0h1m1 0h2m8 0h1m-178 1h1m1 0h1m2 0h1m1 0h71m1 0h3m1 0h1m2 0h3m1 0h2m4 0h1m5 0h1m2 0h1m8 0h1m2 0h1m18 0h1m32 0h1m-168 1h2m1 0h3m1 0h14m1 0h48m1 0h3m1 0h1m1 0h3m1 0h3m1 0h1m3 0h1m6 0h1m11 0h1m5 0h1m11 0h1m29 0h1m18 0h1m9 0h1m24 0h1m-214 1h2m5 0h1m1 0h6m1 0h52m1 0h8m1 0h8m3 0h1m2 0h1m10 0h1m16 0h1m6 0h1m3 0h1m3 0h1m23 0h1m8 0h1m4 0h1m-174 1h1m1 0h4m1 0h1m3 0h7m1 0h57m1 0h2m1 0h1m1 0h5m1 0h1m13 0h1m9 0h1m30 0h1m1 0h1m18 0h1m15 0h1m78 0h1m-260 1h3m2 0h1m5 0h71m1 0h1m1 0h1m1 0h1m3 0h1m18 0h2m13 0h1m1 0h1m14 0h1m6 0h1m13 0h2m52 0h1m12 0h1m-232 1h1m4 0h1m2 0h1m1 0h2m1 0h1m1 0h59m1 0h1m1 0h1m1 0h3m1 0h1m5 0h1m1 0h2m22 0h1m9 0h2m-127 1h2m4 0h2m1 0h6m2 0h8m1 0h44m1 0h6m1 0h2m2 0h2m1 0h2m2 0h2m2 0h1m5 0h1m3 0h1m13 0h1m14 0h1m15 0h1m11 0h1m1 0h1m11 0h1m21 0h1m1 0h1m-198 1h1m5 0h3m1 0h1m2 0h9m1 0h40m1 0h17m4 0h3m1 0h1m5 0h2m16 0h1m4 0h1m8 0h1m24 0h1m21 0h1m16 0h1m3 0h1m19 0h1m-216 1h1m4 0h1m2 0h2m2 0h64m1 0h4m2 0h1m2 0h1m5 0h1m4 0h1m1 0h1m6 0h1m21 0h1m30 0h1m-157 1h3m5 0h4m1 0h9m1 0h40m1 0h9m4 0h6m2 0h1m5 0h1m1 0h2m8 0h1m25 0h1m16 0h1m2 0h1m12 0h1m2 0h1m28 0h1m9 0h1m-207 1h1m1 0h1m2 0h3m1 0h55m1 0h5m1 0h1m2 0h2m3 0h5m3 0h2m6 0h1m1 0h2m1 0h1m27 0h1m1 0h1m5 0h1m6 0h1m2 0h1m52 0h1m-201 1h1m1 0h1m3 0h1m3 0h1m1 0h1m1 0h5m1 0h57m5 0h1m1 0h1m2 0h1m3 0h1m10 0h1m22 0h1m6 0h1m5 0h1m20 0h1m6 0h2m26 0h1m-189 1h1m1 0h11m1 0h56m1 0h2m1 0h1m2 0h2m1 0h1m2 0h2m1 0h2m2 0h1m6 0h2m1 0h1m23 0h1m22 0h1m4 0h2m17 0h1m19 0h1m6 0h1m28 0h1m-230 1h1m1 0h1m2 0h1m1 0h3m1 0h56m1 0h7m1 0h2m2 0h2m2 0h2m2 0h1m4 0h2m3 0h1m11 0h1m71 0h1m-187 1h1m1 0h1m3 0h6m2 0h10m1 0h30m1 0h15m1 0h2m2 0h3m1 0h4m1 0h1m1 0h1m1 0h2m1 0h1m7 0h1m13 0h1m6 0h1m27 0h1m50 0h1m3 0h1m-206 1h1m2 0h1m2 0h2m1 0h1m1 0h3m2 0h11m1 0h24m1 0h16m1 0h8m1 0h3m5 0h2m4 0h2m4 0h1m1 0h1m16 0h1m3 0h1m22 0h1m19 0h1m1 0h1m7 0h1m83 0h1m-256 1h1m6 0h1m1 0h2m2 0h3m1 0h1m1 0h48m1 0h1m1 0h1m3 0h2m1 0h2m1 0h1m5 0h1m1 0h1m3 0h1m11 0h1m34 0h1m10 0h1m13 0h1m36 0h1m-206 1h1m3 0h1m3 0h1m3 0h1m1 0h4m1 0h54m1 0h6m3 0h2m2 0h1m3 0h1m1 0h2m1 0h1m9 0h1m53 0h1m15 0h2m1 0h1m3 0h1m-181 1h1m2 0h1m1 0h2m1 0h1m1 0h5m1 0h1m1 0h8m1 0h34m1 0h1m1 0h7m2 0h2m1 0h3m5 0h1m40 0h1m5 0h1m12 0h1m6 0h1m9 0h1m9 0h1m-175 1h2m7 0h3m2 0h1m1 0h1m2 0h52m1 0h2m1 0h4m1 0h2m1 0h3m4 0h1m36 0h1m6 0h1m5 0h1m1 0h1m17 0h1m17 0h1m6 0h1m13 0h1m-198 1h1m4 0h2m1 0h2m1 0h1m5 0h55m1 0h1m1 0h1m1 0h1m5 0h1m6 0h1m7 0h1m75 0h1m14 0h1m-189 1h1m2 0h2m2 0h12m2 0h52m2 0h3m3 0h1m1 0h1m7 0h2m13 0h2m1 0h1m6 0h1m2 0h1m5 0h1m3 0h1m29 0h1m2 0h1m19 0h1m2 0h1m-185 1h3m1 0h2m1 0h2m1 0h2m1 0h4m1 0h13m1 0h23m1 0h11m1 0h1m1 0h1m1 0h2m1 0h1m7 0h6m14 0h1m5 0h1m23 0h1m3 0h1m8 0h1m14 0h1m-165 1h2m4 0h3m1 0h1m2 0h4m1 0h29m1 0h13m1 0h2m1 0h3m1 0h2m1 0h4m3 0h1m1 0h2m2 0h1m3 0h1m1 0h1m3 0h1m15 0h1m4 0h1m32 0h1m14 0h1m35 0h1m21 0h1m46 0h1m-265 1h6m1 0h3m1 0h2m1 0h41m1 0h1m1 0h5m1 0h5m2 0h1m1 0h3m1 0h3m3 0h1m12 0h1m2 0h1m2 0h1m37 0h1m10 0h1m21 0h1m22 0h1m-194 1h1m5 0h12m1 0h32m1 0h1m1 0h12m2 0h3m5 0h1m1 0h1m1 0h1m1 0h1m3 0h1m6 0h2m63 0h1m-168 1h1m6 0h2m1 0h3m2 0h3m1 0h4m1 0h1m1 0h5m1 0h42m1 0h1m1 0h5m5 0h2m1 0h1m14 0h1m23 0h1m2 0h1m19 0h1m46 0h1m13 0h1m-212 1h1m1 0h1m1 0h1m1 0h1m4 0h3m1 0h3m1 0h1m1 0h1m1 0h2m1 0h29m2 0h10m1 0h2m4 0h1m3 0h1m2 0h3m8 0h1m1 0h1m7 0h1m14 0h1m31 0h1m19 0h1m28 0h1m-201 1h2m2 0h1m2 0h4m1 0h1m1 0h8m1 0h5m1 0h25m1 0h10m1 0h6m7 0h1m2 0h1m1 0h1m3 0h1m2 0h1m9 0h1m12 0h1m11 0h1m3 0h1m21 0h1m5 0h1m4 0h1m15 0h1m14 0h1m31 0h1m79 0h1m-305 1h2m1 0h2m1 0h1m4 0h2m1 0h1m3 0h2m2 0h8m1 0h2m1 0h2m1 0h25m1 0h2m1 0h2m1 0h4m1 0h2m4 0h1m9 0h1m1 0h1m4 0h2m9 0h1m34 0h1m12 0h1m1 0h1m41 0h1m6 0h1m51 0h1m-258 1h3m2 0h1m2 0h1m1 0h1m1 0h3m1 0h10m1 0h34m1 0h1m1 0h1m1 0h1m1 0h1m1 0h1m3 0h2m6 0h3m11 0h1m31 0h1m16 0h1m4 0h1m3 0h1m6 0h1m3 0h1m8 0h1m-171 1h1m1 0h2m4 0h1m2 0h3m1 0h42m1 0h4m1 0h1m2 0h1m4 0h1m1 0h1m4 0h2m2 0h2m25 0h1m1 0h1m9 0h1m8 0h2m31 0h1m30 0h1m-198 1h2m1 0h2m1 0h2m1 0h2m1 0h3m1 0h5m1 0h12m1 0h21m2 0h4m2 0h2m1 0h7m1 0h2m3 0h1m1 0h1m1 0h2m4 0h2m32 0h1m1 0h1m5 0h1m3 0h1m6 0h1m-147 1h2m4 0h2m2 0h1m2 0h7m1 0h3m2 0h9m1 0h4m1 0h19m1 0h8m1 0h3m3 0h1m5 0h1m14 0h2m4 0h1m24 0h1m19 0h1m3 0h1m89 0h1m-240 1h1m2 0h1m6 0h14m1 0h5m1 0h4m1 0h19m1 0h2m1 0h4m2 0h2m4 0h1m1 0h1m1 0h1m1 0h1m1 0h1m7 0h1m4 0h1m52 0h1m-149 1h2m2 0h2m5 0h1m2 0h1m1 0h2m2 0h2m1 0h6m1 0h1m1 0h7m1 0h7m2 0h12m2 0h2m2 0h2m1 0h2m2 0h1m3 0h1m1 0h1m7 0h1m10 0h1m15 0h1m22 0h1m19 0h1m13 0h1m-175 1h1m1 0h1m3 0h1m6 0h4m2 0h2m1 0h2m2 0h5m1 0h1m1 0h28m3 0h4m1 0h2m1 0h1m1 0h2m1 0h2m9 0h1m1 0h1m14 0h1m16 0h1m11 0h1m8 0h1m37 0h1m-176 1h1m2 0h2m2 0h1m4 0h10m1 0h16m1 0h5m1 0h3m1 0h6m2 0h4m2 0h2m4 0h2m1 0h1m9 0h1m1 0h1m5 0h1m3 0h1m44 0h1m3 0h1m-146 1h1m7 0h1m1 0h1m1 0h1m3 0h3m1 0h2m1 0h2m1 0h5m1 0h1m1 0h18m1 0h5m1 0h3m3 0h1m2 0h2m2 0h2m2 0h1m1 0h1m11 0h1m10 0h1m48 0h1m9 0h1m9 0h1m25 0h1m6 0h1m11 0h1m-217 1h1m4 0h1m6 0h2m1 0h9m1 0h19m1 0h11m1 0h5m2 0h2m1 0h1m1 0h2m2 0h3m1 0h1m4 0h1m1 0h1m4 0h1m9 0h1m62 0h1m9 0h1m28 0h1m-195 1h1m1 0h3m1 0h1m1 0h2m1 0h3m1 0h8m1 0h14m1 0h11m1 0h2m1 0h2m2 0h1m1 0h1m1 0h1m2 0h1m3 0h2m4 0h2m1 0h1m9 0h1m1 0h1m2 0h1m123 0h1m-230 1h1m3 0h1m3 0h1m3 0h1m1 0h2m2 0h4m1 0h9m2 0h7m1 0h11m1 0h1m1 0h1m2 0h7m2 0h3m1 0h1m1 0h2m9 0h2m2 0h1m8 0h1m5 0h2m23 0h1m57 0h1m26 0h1m-214 1h2m1 0h1m2 0h1m1 0h1m4 0h2m1 0h2m3 0h2m1 0h20m1 0h8m1 0h1m1 0h4m2 0h3m2 0h1m2 0h2m2 0h1m1 0h1m5 0h1m4 0h1m1 0h1m4 0h1m3 0h1m26 0h1m28 0h1m32 0h1m36 0h1m-218 1h1m1 0h1m1 0h2m1 0h1m2 0h2m1 0h2m2 0h7m1 0h17m1 0h9m1 0h5m1 0h3m2 0h1m1 0h1m3 0h1m4 0h2m1 0h1m19 0h1m3 0h1m16 0h1m5 0h1m-133 1h1m3 0h1m1 0h2m1 0h1m2 0h1m1 0h1m1 0h2m2 0h2m3 0h18m1 0h4m1 0h4m1 0h1m1 0h9m2 0h4m1 0h1m1 0h1m1 0h1m2 0h1m11 0h1m2 0h1m3 0h1m31 0h1m3 0h1m-135 1h1m4 0h1m5 0h1m3 0h1m1 0h10m2 0h5m1 0h4m1 0h4m1 0h16m1 0h5m2 0h2m2 0h3m5 0h1m4 0h2m3 0h1m13 0h1m5 0h1m10 0h1m3 0h1m37 0h1m11 0h1m-176 1h1m5 0h2m5 0h1m1 0h2m1 0h2m1 0h7m1 0h24m1 0h4m1 0h3m1 0h8m2 0h1m2 0h1m1 0h1m1 0h1m1 0h1m6 0h1m6 0h1m31 0h1m22 0h1m6 0h1m2 0h1m-150 1h1m1 0h1m2 0h3m1 0h1m1 0h2m1 0h2m1 0h3m1 0h14m1 0h5m2 0h2m2 0h1m1 0h2m1 0h4m2 0h1m1 0h1m1 0h1m2 0h1m4 0h1m1 0h2m20 0h1m72 0h1m-181 1h1m6 0h2m1 0h2m6 0h22m1 0h1m1 0h6m1 0h5m1 0h7m1 0h2m1 0h2m1 0h2m1 0h1m1 0h2m1 0h1m1 0h2m4 0h1m3 0h1m7 0h1m84 0h1m-185 1h1m6 0h1m1 0h1m4 0h2m1 0h3m1 0h5m1 0h19m1 0h5m1 0h3m1 0h4m2 0h1m1 0h1m3 0h2m1 0h1m3 0h2m4 0h1m1 0h1m18 0h1m15 0h1m21 0h1m17 0h1m7 0h3m35 0h1m-202 1h1m3 0h1m3 0h1m3 0h1m1 0h4m1 0h35m2 0h2m1 0h2m2 0h4m1 0h2m1 0h1m3 0h2m9 0h1m23 0h1m30 0h1m-134 1h1m1 0h1m1 0h4m1 0h6m1 0h7m1 0h9m1 0h13m1 0h1m2 0h1m1 0h2m3 0h1m1 0h2m5 0h1m4 0h1m16 0h1m80 0h1m-181 1h1m2 0h2m1 0h1m1 0h1m4 0h1m1 0h2m2 0h2m1 0h18m2 0h13m1 0h3m1 0h3m2 0h3m5 0h1m3 0h1m3 0h2m1 0h2m12 0h1m1 0h1m11 0h1m17 0h1m12 0h1m3 0h1m-142 1h1m1 0h1m2 0h1m3 0h3m1 0h9m1 0h3m2 0h4m1 0h10m1 0h1m1 0h4m1 0h6m1 0h1m1 0h1m1 0h1m1 0h1m1 0h1m1 0h2m1 0h1m2 0h1m4 0h1m5 0h1m12 0h1m20 0h1m62 0h1m-190 1h1m8 0h2m2 0h1m2 0h3m1 0h1m1 0h12m1 0h10m1 0h3m1 0h11m1 0h2m1 0h4m1 0h1m4 0h2m4 0h1m6 0h1m91 0h1m47 0h1m-227 1h1m4 0h2m3 0h2m1 0h2m2 0h10m1 0h3m1 0h12m1 0h17m4 0h1m2 0h1m4 0h1m6 0h1m1 0h1m5 0h1m17 0h1m67 0h2m4 0h1m-180 1h2m8 0h3m2 0h1m2 0h3m1 0h5m1 0h1m1 0h2m1 0h14m1 0h9m1 0h4m1 0h1m1 0h1m2 0h1m2 0h3m7 0h1m9 0h1m1 0h1m84 0h1m-183 1h1m6 0h2m4 0h2m5 0h4m1 0h23m1 0h13m1 0h1m1 0h4m1 0h2m1 0h1m2 0h2m2 0h1m19 0h1m3 0h1m-105 1h1m10 0h4m1 0h2m1 0h3m1 0h24m1 0h15m1 0h3m1 0h2m4 0h2m40 0h1m-116 1h2m5 0h1m4 0h1m1 0h1m1 0h1m2 0h6m1 0h27m1 0h1m2 0h1m3 0h2m5 0h1m1 0h2m3 0h2m1 0h1m21 0h1m32 0h1m21 0h1m20 0h1m-177 1h1m5 0h2m1 0h1m1 0h1m2 0h6m1 0h9m1 0h2m1 0h3m2 0h2m1 0h21m1 0h2m3 0h2m2 0h1m15 0h1m1 0h1m5 0h1m7 0h1m17 0h1m-113 1h2m1 0h2m2 0h3m1 0h20m1 0h11m1 0h1m1 0h7m1 0h3m2 0h1m1 0h2m1 0h1m2 0h1m3 0h1m1 0h1m1 0h2m28 0h1m41 0h1m32 0h1m12 0h1m-200 1h1m2 0h1m5 0h1m1 0h4m1 0h10m1 0h21m1 0h7m4 0h1m2 0h2m2 0h1m6 0h2m3 0h1m1 0h1m26 0h1m-106 1h5m2 0h2m1 0h2m1 0h2m1 0h19m1 0h9m1 0h4m1 0h1m1 0h5m1 0h2m1 0h2m2 0h2m2 0h1m1 0h1m4 0h1m2 0h1m1 0h1m10 0h1m6 0h1m18 0h1m25 0h1m-152 1h1m6 0h2m1 0h3m3 0h1m1 0h2m1 0h11m1 0h32m2 0h3m1 0h2m1 0h2m1 0h2m1 0h2m4 0h1m14 0h1m-98 1h1m2 0h2m2 0h3m1 0h14m2 0h20m1 0h2m1 0h3m2 0h6m4 0h1m4 0h1m3 0h1m1 0h1m1 0h1m3 0h1m1 0h1m2 0h1m41 0h1m4 0h1m35 0h1m7 0h1m13 0h1m-201 1h1m2 0h1m2 0h1m3 0h3m1 0h2m1 0h2m2 0h29m1 0h8m1 0h6m1 0h1m2 0h1m3 0h3m4 0h3m7 0h1m87 0h1m19 0h1m-200 1h1m1 0h1m1 0h1m2 0h4m1 0h1m3 0h9m1 0h39m1 0h1m1 0h1m1 0h1m3 0h2m3 0h1m2 0h1m1 0h1m2 0h1m10 0h1m14 0h1m33 0h2m-146 1h1m3 0h2m3 0h1m1 0h3m1 0h1m1 0h2m1 0h6m1 0h16m1 0h10m1 0h4m1 0h1m2 0h1m1 0h3m1 0h1m1 0h1m3 0h1m5 0h1m25 0h1m4 0h1m28 0h1m3 0h1m-150 1h1m2 0h1m6 0h8m2 0h4m2 0h13m1 0h14m1 0h5m2 0h1m1 0h3m1 0h4m1 0h2m1 0h1m2 0h1m10 0h1m2 0h1m16 0h1m9 0h1m10 0h1m48 0h1m-180 1h1m3 0h1m1 0h3m7 0h23m1 0h17m1 0h3m1 0h9m1 0h1m1 0h2m1 0h2m2 0h2m3 0h1m3 0h1m-86 1h2m1 0h1m3 0h2m1 0h1m3 0h2m1 0h8m1 0h35m1 0h1m1 0h5m4 0h2m8 0h1m6 0h1m-97 1h1m1 0h1m4 0h2m3 0h1m2 0h6m1 0h3m2 0h25m1 0h7m1 0h5m1 0h5m1 0h2m2 0h1m2 0h1m5 0h2m-85 1h1m1 0h3m2 0h5m1 0h3m4 0h2m1 0h36m1 0h1m2 0h2m1 0h1m1 0h2m26 0h1m10 0h1m7 0h1m40 0h2m13 0h1m-170 1h1m4 0h2m1 0h6m1 0h2m1 0h10m1 0h34m1 0h3m2 0h1m2 0h1m1 0h1m3 0h1m4 0h1m27 0h1m63 0h1m-181 1h3m1 0h2m1 0h2m1 0h16m1 0h20m1 0h17m1 0h6m2 0h2m1 0h2m1 0h1m2 0h1m4 0h1m1 0h1m4 0h1m81 0h1m-176 1h1m1 0h1m1 0h1m3 0h5m1 0h15m1 0h3m1 0h8m1 0h9m1 0h3m2 0h5m1 0h7m1 0h3m3 0h1m6 0h2m3 0h1m8 0h1m51 0h1m-147 1h1m1 0h1m1 0h5m1 0h48m1 0h3m1 0h2m3 0h1m5 0h1m1 0h4m3 0h2m1 0h1m-92 1h1m6 0h1m2 0h59m1 0h4m1 0h2m1 0h1m1 0h1m2 0h1m4 0h1m2 0h2m11 0h1m51 0h1m-157 1h1m1 0h1m1 0h2m2 0h1m1 0h9m1 0h45m1 0h3m1 0h3m1 0h2m1 0h1m2 0h1m3 0h1m11 0h1m94 0h1m-193 1h2m2 0h2m4 0h3m1 0h3m1 0h3m1 0h41m1 0h3m1 0h4m1 0h5m2 0h2m11 0h1m3 0h1m11 0h1m-110 1h1m4 0h7m1 0h7m1 0h23m1 0h18m1 0h5m1 0h2m1 0h2m1 0h4m1 0h2m2 0h1m10 0h2m48 0h1m-148 1h1m3 0h1m3 0h2m2 0h2m1 0h1m1 0h49m1 0h3m1 0h4m4 0h5m1 0h1m8 0h1m27 0h1m48 0h1m-172 1h3m1 0h65m1 0h9m3 0h2m6 0h1m15 0h1m2 0h1m-109 1h2m1 0h8m1 0h52m1 0h1m2 0h1m1 0h1m2 0h1m1 0h1m1 0h2m1 0h2m1 0h1m4 0h2m2 0h1m-90 1h1m1 0h3m1 0h1m1 0h3m1 0h58m2 0h1m3 0h1m1 0h1m2 0h3m1 0h2m1 0h1m40 0h1m58 0h1m-193 1h1m1 0h1m1 0h1m2 0h4m1 0h2m1 0h1m1 0h9m1 0h39m1 0h6m1 0h1m1 0h1m13 0h1m1 0h1m-91 1h1m1 0h4m1 0h1m1 0h1m1 0h1m1 0h1m1 0h47m1 0h1m1 0h3m1 0h3m1 0h2m1 0h4m1 0h4m4 0h1m25 0h1m-116 1h1m1 0h2m2 0h4m1 0h46m1 0h13m1 0h1m1 0h1m1 0h3m2 0h3m1 0h1m-85 1h2m3 0h5m1 0h63m2 0h2m1 0h1m2 0h2m1 0h1m3 0h1m-92 1h2m1 0h2m1 0h3m2 0h61m1 0h3m2 0h3m2 0h2m2 0h1m13 0h1m7 0h1m3 0h1m-114 1h7m4 0h6m1 0h54m1 0h1m1 0h4m2 0h2m5 0h2m5 0h1m19 0h1m-116 1h1m3 0h72m1 0h4m2 0h1m3 0h3m11 0h1m22 0h1m-126 1h1m2 0h3m1 0h6m1 0h1m1 0h52m1 0h2m1 0h4m1 0h1m1 0h1m1 0h2m3 0h1m3 0h3m2 0h3m18 0h1m12 0h1m-130 1h2m4 0h1m1 0h57m1 0h5m1 0h5m2 0h4m4 0h1m13 0h1m2 0h1m-105 1h1m2 0h60m1 0h8m1 0h11m4 0h1m13 0h1m-103 1h3m1 0h1m2 0h69m1 0h2m2 0h2m1 0h1m1 0h4m6 0h1m1 0h1m43 0h1m-142 1h4m1 0h1m1 0h3m1 0h67m2 0h3m1 0h2m1 0h2m1 0h1m10 0h2m-103 1h3m1 0h1m3 0h60m1 0h11m1 0h1m2 0h4m44 0h1m-133 1h3m1 0h69m2 0h3m2 0h3m1 0h2m3 0h2m2 0h1m5 0h1m27 0h1m-129 1h1m1 0h11m1 0h55m1 0h1m1 0h4m1 0h3m4 0h1m2 0h4m1 0h1m2 0h1m-95 1h1m2 0h1m1 0h68m2 0h5m1 0h2m1 0h1m3 0h1m1 0h1m18 0h1m14 0h1m-126 1h4m1 0h4m1 0h73m1 0h1m4 0h1m1 0h1m83 0h1m-176 1h9m2 0h72m2 0h5m1 0h1m1 0h2m2 0h1m3 0h1m2 0h1m3 0h1m-109 1h3m1 0h3m1 0h64m1 0h4m1 0h1m1 0h1m1 0h1m1 0h2m1 0h3m7 0h1m-98 1h3m2 0h8m1 0h55m1 0h7m1 0h1m5 0h3m4 0h1m6 0h2m16 0h1m17 0h1m-133 1h2m1 0h75m1 0h1m1 0h1m6 0h1m4 0h1m11 0h2m-109 1h1m1 0h1m2 0h1m1 0h1m1 0h70m1 0h4m1 0h1m2 0h1m1 0h2m2 0h1m3 0h1m24 0h1m49 0h1m-174 1h1m1 0h4m2 0h3m1 0h62m1 0h3m1 0h5m2 0h3m81 0h1m-171 1h3m1 0h74m1 0h7m2 0h3m2 0h1m2 0h1m-97 1h1m1 0h2m2 0h60m1 0h13m1 0h3m1 0h1m1 0h1m2 0h1m1 0h1m14 0h1m-107 1h3m1 0h7m1 0h67m1 0h1m1 0h1m1 0h3m1 0h1m1 0h1m3 0h1m-96 1h1m1 0h11m1 0h68m2 0h3m4 0h1m14 0h1m-106 1h1m1 0h2m1 0h73m1 0h4m2 0h2m15 0h1m65 0h1m-169 1h78m2 0h3m1 0h2m1 0h1m1 0h1m7 0h1m96 0h1m-196 1h7m1 0h66m1 0h8m1 0h1m2 0h3m1 0h2m1 0h1m2 0h1m2 0h1m19 0h1m-118 1h1m1 0h70m1 0h5m2 0h2m2 0h1m3 0h1m10 0h1m-103 1h2m1 0h74m1 0h3m3 0h2m2 0h1m2 0h1m1 0h1m6 0h1m16 0h1m-118 1h8m1 0h68m2 0h2m1 0h2m1 0h3m1 0h2m9 0h1m3 0h1m1 0h1m25 0h1m85 0h1m-219 1h5m1 0h1m1 0h73m1 0h1m1 0h7m5 0h1m4 0h1m1 0h1m-103 1h1m3 0h65m1 0h9m1 0h2m1 0h3m4 0h3m1 0h1m-96 1h1m1 0h80m1 0h3m2 0h1m2 0h1m1 0h1m6 0h1m-101 1h2m1 0h75m1 0h1m2 0h3m1 0h1m1 0h1m2 0h2m8 0h1m-101 1h1m2 0h1m1 0h80m1 0h1m-88 1h1m1 0h1m2 0h73m1 0h2m1 0h2m1 0h3m1 0h1m1 0h2m2 0h1m4 0h1m4 0h1m-105 1h4m2 0h1m1 0h68m1 0h2m1 0h1m1 0h4m2 0h1m1 0h1m1 0h1m6 0h1m-101 1h1m1 0h73m1 0h9m2 0h1m-87 1h4m2 0h5m1 0h66m1 0h4m4 0h4m-90 1h1m2 0h78m1 0h1m2 0h2m1 0h2m3 0h2m7 0h1m-105 1h1m2 0h5m1 0h2m1 0h66m1 0h1m2 0h1m6 0h1m11 0h1m29 0h1m-132 1h3m1 0h4m1 0h70m4 0h3m6 0h1m4 0h1m-98 1h3m1 0h7m1 0h69m1 0h2m2 0h3m1 0h1m4 0h1m-96 1h83m2 0h3m1 0h1m1 0h1m1 0h1m-94 1h1m1 0h2m1 0h74m1 0h1m1 0h1m1 0h1m4 0h1m2 0h4m6 0h1m38 0h1m-141 1h5m1 0h63m1 0h12m1 0h1m1 0h3m1 0h1m13 0h1m-103 1h4m2 0h72m4 0h2m8 0h1m-93 1h1m1 0h5m1 0h2m1 0h62m1 0h4m1 0h2m2 0h2m3 0h1m1 0h1m-92 1h1m2 0h75m1 0h3m2 0h2m1 0h1m1 0h1m1 0h1m10 0h1m-101 1h3m1 0h70m6 0h3m4 0h1m19 0h1m-111 1h2m1 0h2m1 0h67m1 0h9m2 0h1m1 0h2m20 0h1m-110 1h1m1 0h5m1 0h6m1 0h2m1 0h48m1 0h7m1 0h5m1 0h1m1 0h1m1 0h2m1 0h1m39 0h1m-128 1h1m1 0h2m1 0h57m1 0h2m1 0h12m1 0h2m1 0h3m1 0h2m1 0h1m1 0h1m4 0h2m7 0h1m3 0h1m-111 1h1m2 0h1m2 0h1m1 0h3m1 0h60m2 0h1m1 0h3m1 0h1m1 0h3m1 0h1m3 0h1m14 0h1m-106 1h3m1 0h2m1 0h1m1 0h67m1 0h3m2 0h1m1 0h1m1 0h1m2 0h2m2 0h1m-90 1h9m1 0h51m1 0h2m1 0h8m1 0h2m1 0h4m1 0h1m3 0h2m2 0h1m6 0h1m1 0h1m-101 1h1m1 0h3m2 0h71m4 0h1m1 0h1m1 0h1m-86 1h1m2 0h1m2 0h68m2 0h3m1 0h3m1 0h1m5 0h1m-95 1h1m1 0h2m1 0h1m1 0h2m2 0h6m1 0h59m1 0h2m1 0h1m5 0h1m12 0h1m-97 1h1m2 0h1m1 0h57m1 0h13m1 0h3m3 0h2m5 0h1m-94 1h3m1 0h4m2 0h5m1 0h1m1 0h6m1 0h49m1 0h2m2 0h2m1 0h1m4 0h1m17 0h1m23 0h1m-131 1h2m2 0h4m1 0h6m1 0h1m1 0h56m1 0h3m3 0h2m4 0h1m12 0h1m5 0h1m-106 1h1m6 0h8m1 0h51m1 0h2m1 0h1m3 0h4m1 0h1m2 0h1m1 0h3m-85 1h1m1 0h7m1 0h7m1 0h44m1 0h1m2 0h2m2 0h1m1 0h3m8 0h2m5 0h1m6 0h1m7 0h1m41 0h1m-148 1h4m2 0h7m1 0h54m1 0h2m1 0h1m4 0h1m3 0h1m1 0h1m1 0h1m1 0h1m8 0h1m-101 1h1m1 0h2m1 0h3m1 0h3m3 0h48m1 0h9m1 0h2m1 0h1m1 0h1m1 0h1m-82 1h1m3 0h2m1 0h3m1 0h2m1 0h6m1 0h11m1 0h37m1 0h1m1 0h7m113 0h1m-192 1h3m1 0h4m1 0h1m1 0h7m2 0h39m1 0h2m1 0h2m2 0h3m3 0h2m9 0h1m-85 1h4m2 0h1m1 0h2m1 0h3m1 0h10m1 0h31m1 0h12m1 0h2m1 0h1m3 0h1m7 0h2m-89 1h1m2 0h2m1 0h1m2 0h6m2 0h2m1 0h3m1 0h38m1 0h1m1 0h3m1 0h5m1 0h1m1 0h3m2 0h1m1 0h2m7 0h1m-91 1h1m2 0h1m1 0h3m1 0h2m1 0h7m1 0h42m1 0h12m2 0h1m16 0h1m-97 1h1m3 0h1m2 0h1m4 0h7m1 0h3m1 0h30m1 0h2m1 0h5m1 0h3m2 0h4m1 0h1m2 0h1m1 0h1m3 0h1m3 0h1m16 0h1m-104 1h1m1 0h1m1 0h1m1 0h1m1 0h4m1 0h7m1 0h4m1 0h2m1 0h14m1 0h8m1 0h6m1 0h7m2 0h1m1 0h1m1 0h3m1 0h1m2 0h1m6 0h1m-85 1h1m1 0h3m1 0h1m5 0h5m1 0h21m1 0h18m1 0h1m1 0h2m3 0h1m1 0h1m3 0h1m1 0h1m57 0h1m-139 1h1m1 0h1m2 0h1m2 0h1m1 0h3m2 0h3m1 0h5m2 0h12m1 0h19m1 0h2m3 0h2m1 0h1m2 0h2m2 0h3m1 0h1m6 0h1m1 0h1m-83 1h1m3 0h1m3 0h6m1 0h3m1 0h1m1 0h21m1 0h13m1 0h7m1 0h1m1 0h2m1 0h2m7 0h2m-84 1h1m2 0h4m1 0h15m1 0h6m1 0h17m1 0h3m1 0h1m1 0h5m1 0h2m1 0h1m1 0h1m1 0h3m2 0h1m-72 1h2m1 0h1m5 0h2m2 0h4m1 0h2m1 0h18m1 0h7m1 0h3m1 0h6m3 0h5m1 0h1m1 0h1m1 0h1m2 0h1m1 0h2m20 0h1m-102 1h1m2 0h2m4 0h1m1 0h2m1 0h4m1 0h11m1 0h13m1 0h15m2 0h4m4 0h1m1 0h1m1 0h1m2 0h3m3 0h1m5 0h1" stroke="#000" stroke-width="1.7" fill="none" filter="url(#b)"/>
<path transform="translate(68 256.95) scale(.5)" d="M35 80h3m12 2h3m-4 1h3m-5 1h3m-18 1h5m-4 1h4m4 0h3m18 0h3m2 0h3m-36 1h4m23 0h3m-30 1h6m1 0h3m-8 1h9m-8 1h6m4 0h3m5 0h3m-19 1h3m3 0h4m5 0h7m-28 1h4m3 0h3m1 0h6m4 0h4m1 0h3m-32 1h8m1 0h10m-18 1h19m1 0h3m-21 1h21m3 0h3m-26 1h21m1 0h5m-38 1h3m7 0h28m5 0h3m-45 1h3m5 0h8m1 0h21m-36 1h3m2 0h8m3 0h18m-33 1h13m1 0h18m-33 1h34m1 0h3m-41 1h40m4 0h7m-52 1h42m2 0h9m-59 1h4m5 0h42m1 0h6m-57 1h4m5 0h40m3 0h6m-56 1h5m2 0h17m1 0h23m1 0h5m-53 1h4m3 0h15m3 0h8m1 0h18m-53 1h6m1 0h17m1 0h8m3 0h18m-53 1h4m1 0h28m1 0h19m-53 1h3m3 0h46m-58 1h4m3 0h3m1 0h48m-60 1h6m3 0h50m3 0h3m-64 1h6m1 0h50m-57 1h58m3 0h3m-60 1h60m-59 1h58m-55 1h54m-53 1h53m-54 1h34m1 0h20m-58 1h36m3 0h21m-60 1h37m1 0h16m1 0h4m-64 1h3m3 0h52m-53 1h54m-55 1h55m-54 1h53m3 0h3m-60 1h55m-56 1h58m-58 1h57m-62 1h3m1 0h59m-64 1h70m-71 1h3m1 0h61m-60 1h59m-60 1h60m-63 1h64m2 0h4m-73 1h8m1 0h58m3 0h6m-75 1h5m4 0h58m1 0h6m-74 1h4m4 0h66m-68 1h67m-68 1h69m-70 1h58m1 0h11m-71 1h58m3 0h6m1 0h3m-72 1h4m2 0h54m1 0h6m3 0h3m-66 1h61m-61 1h60m-59 1h58m-67 1h3m5 0h60m-69 1h5m1 0h62m6 0h3m-78 1h4m1 0h65m1 0h7m-72 1h66m-65 1h58m1 0h5m-63 1h56m3 0h3m-72 1h3m8 0h56m-62 1h4m1 0h56m-62 1h14m1 0h46m-59 1h11m3 0h46m3 0h5m-67 1h4m1 0h6m1 0h48m1 0h9m-64 1h56m1 0h8m-66 1h56m3 0h6m-64 1h55m-54 1h51m1 0h3m-56 1h51m3 0h5m-66 1h13m1 0h45m4 0h3m-66 1h4m1 0h7m3 0h42m1 0h3m-61 1h3m5 0h5m1 0h42m3 0h3m-61 1h3m5 0h48m1 0h6m-61 1h4m1 0h54m-57 1h8m1 0h44m-52 1h5m4 0h37m1 0h4m-52 1h5m4 0h37m3 0h4m1 0h6m-60 1h6m4 0h37m4 0h8m-58 1h7m3 0h38m3 0h3m-55 1h3m1 0h5m1 0h38m3 0h3m-55 1h3m3 0h44m1 0h5m-56 1h3m3 0h50m1 0h3m-59 1h3m1 0h4m1 0h30m1 0h14m-55 1h8m4 0h24m6 0h11m-52 1h3m9 0h22m6 0h11m-44 1h3m1 0h24m1 0h16m-46 1h6m1 0h34m3 0h4m-49 1h6m3 0h32m5 0h3m-50 1h8m1 0h34m3 0h3m-46 1h47m-46 1h10m1 0h23m1 0h11m-47 1h10m3 0h11m1 0h9m8 0h3m-47 1h13m1 0h11m3 0h9m-38 1h6m1 0h20m1 0h11m-40 1h3m9 0h27m5 0h5m1 0h4m-41 1h24m6 0h6m-37 1h22m6 0h5m-26 1h14m6 0h5m-39 1h3m12 0h14m1 0h8m-39 1h5m10 0h25m-37 1h3m1 0h8m1 0h21m-33 1h9m6 0h17m-43 1h3m10 0h5m9 0h16m4 0h3m-24 1h6m2 0h8m-33 1h3m7 0h4m3 0h5m4 0h8m-25 1h6m1 0h4m7 0h3m1 0h4m-27 1h3m3 0h5m3 0h3m8 0h3m-29 1h3m5 0h5m7 0h3m-24 1h3m5 0h8m3 0h7m-21 1h4m1 0h7m-22 1h4m5 0h4m6 0h4m-24 1h6m2 0h7m6 0h3m-24 1h5m3 0h10m2 0h3m-13 1h4m-9 1h3m16 0h4m3 0h3m-24 1h4m1 0h4m1 0h3m1 0h4m-18 1h5m3 0h4m3 0h3m-23 1h3m1 0h5m-12 1h13m-13 1h7m1 0h9m2 0h5m1 0h3m-27 1h5m3 0h5m5 0h10m-26 1h3m2 0h4m6 0h5m-27 1h5m18 0h3m-26 1h6m1 0h3m3 0h3m1 0h4m9 0h4m-35 1h3m12 0h8m7 0h9m-23 1h8m7 0h7m-34 1h5m6 0h10m5 0h9m-34 1h19m3 0h5m-26 1h3m4 0h3m5 0h4m1 0h5m-30 1h3m1 0h3m14 0h10m-30 1h7m4 0h3m7 0h9m5 0h3m-37 1h6m3 0h9m2 0h8m-27 1h6m4 0h7m3 0h7m-28 1h7m5 0h7m1 0h9m9 0h4m-43 1h7m5 0h14m-28 1h3m1 0h6m2 0h15m-19 1h16m1 0h3m1 0h6m-26 1h7m1 0h6m3 0h5m-27 1h3m1 0h7m3 0h6m1 0h5m-27 1h5m1 0h7m3 0h12m10 0h3m-40 1h3m3 0h7m1 0h11m1 0h5m5 0h3m-38 1h3m1 0h19m3 0h5m-32 1h6m1 0h18m1 0h7m-33 1h5m3 0h12m1 0h14m-46 1h3m9 0h3m5 0h8m5 0h5m1 0h3m2 0h4m-53 1h3m3 0h9m1 0h3m7 0h6m5 0h5m8 0h3m-52 1h3m3 0h13m1 0h3m1 0h8m1 0h9m1 0h3m2 0h4m-51 1h3m1 0h4m1 0h43m-50 1h3m5 0h41m-40 1h21m1 0h17m-40 1h21m3 0h16m-45 1h3m1 0h23m1 0h18m-47 1h48m-59 1h3m7 0h48m-47 1h9m1 0h38m-47 1h7m3 0h36m-46 1h8m1 0h32m1 0h3m-46 1h41m3 0h3m3 0h3m-55 1h44m1 0h13m-59 1h4m1 0h53m-59 1h4m3 0h52m-53 1h49m-60 1h4m5 0h48m-56 1h4m3 0h47m10 0h3m-68 1h54m4 0h5m-63 1h3m1 0h51m1 0h8m-59 1h56m1 0h6m-64 1h56m3 0h3m2 0h3m-70 1h4m1 0h55m-63 1h6m3 0h53m-58 1h3m1 0h55m8 0h3m-69 1h63m2 0h5m-81 1h3m9 0h60m1 0h4m-63 1h55m-61 1h4m3 0h53m5 0h3m-67 1h4m1 0h55m1 0h7m-65 1h62m1 0h3m-65 1h60m7 0h3m-75 1h3m1 0h54m1 0h7m7 0h3m-77 1h5m1 0h52m3 0h10m-72 1h5m3 0h52m1 0h12m-73 1h6m3 0h64m-72 1h6m1 0h64m-70 1h66m1 0h3m-69 1h64m3 0h3m-71 1h66m-69 1h3m1 0h66m-65 1h66m-67 1h61m1 0h6m-69 1h61m3 0h7m-74 1h65m1 0h7m-72 1h71m-70 1h71m-69 1h68m-67 1h65m-66 1h3m1 0h61m-66 1h3m3 0h61m-62 1h65m-65 1h64m-65 1h66m-73 1h3m5 0h66m-74 1h6m1 0h67m-72 1h63m1 0h7m-70 1h61m3 0h7m-66 1h57m1 0h4m1 0h3m-65 1h60m-61 1h62m-67 1h65m-65 1h6m4 0h48m1 0h5m-63 1h4m6 0h44m5 0h5m3 0h3m-71 1h3m7 0h44m6 0h4m-59 1h50m4 0h4m-57 1h51m4 0h3m-57 1h49m6 0h6m-62 1h51m4 0h8m-66 1h6m1 0h59m-65 1h4m3 0h47m1 0h9m-65 1h5m3 0h6m1 0h39m3 0h7m-63 1h3m5 0h4m3 0h39m1 0h7m-63 1h3m5 0h6m1 0h42m-59 1h4m5 0h3m1 0h44m-43 1h42m-43 1h41m-42 1h11m1 0h29m3 0h5m-55 1h4m3 0h9m3 0h27m-38 1h4m1 0h4m1 0h26m-30 1h29m-30 1h31m-33 1h30m4 0h3m8 0h4m-59 1h4m12 0h14m1 0h8m-37 1h3m12 0h12m3 0h6m-35 1h3m10 0h6m1 0h5m3 0h8m-35 1h3m4 0h10m3 0h5m3 0h9m-42 1h3m9 0h5m1 0h5m1 0h7m5 0h3m-27 1h4m3 0h9m1 0h3m11 0h3m-35 1h5m2 0h9m4 0h4m7 0h4m-36 1h5m3 0h10m4 0h4m1 0h3m1 0h4" stroke="#000" stroke-width="2.6" fill="none"/>
<path d="M68 273.3H113.6M125.7 282.8V327.9H68" fill="none" stroke="#000" stroke-width="1.6"/>
<rect x="114.2" y="270.19" width="24" height="10.84" fill="#fff"/>
<text x="115.4" y="279.6" font-size="11.1" fill="#111">24.9</text>
<path d="M68 256.7H232.8" fill="none" stroke="#222" stroke-width="1.0"/>
<path d="M68 256.2V422" fill="none" stroke="#000" stroke-width="1.5"/>
<path d="M67.25 422H232.8V256.2" fill="none" stroke="#000" stroke-width="1.9"/>
<path d="M68 405.5h-4.8M68 387.35h-4.8M68 347.4h-4.8M68 309h-4.8M68 271.6h-4.8M67.2 375.32h-2M67.2 368.29h-2M67.2 363.3h-2M67.2 359.43h-2M67.2 356.26h-2M67.2 353.59h-2M67.2 351.27h-2M67.2 349.23h-2M67.2 335.84h-2M67.2 329.08h-2M67.2 324.28h-2M67.2 320.56h-2M67.2 317.52h-2M67.2 314.95h-2M67.2 312.72h-2M67.2 310.76h-2M67.2 297.74h-2M67.2 291.16h-2M67.2 286.48h-2M67.2 282.86h-2M67.2 279.9h-2M67.2 277.39h-2M67.2 275.22h-2M67.2 273.31h-2M67.2 260.34h-2M67.2 417.5h-2M67.2 414h-2M67.2 411h-2M67.2 408.5h-2M67.2 402.5h-2M67.2 400h-2M67.2 397h-2M67.2 393.5h-2M67.2 390.5h-2M84.5 422v6.2M102.65 422v6.2M142.6 422v6.2M181 422v6.2M218.4 422v6.2M114.68 422.8v2.6M121.71 422.8v2.6M126.7 422.8v2.6M130.57 422.8v2.6M133.74 422.8v2.6M136.41 422.8v2.6M138.73 422.8v2.6M140.77 422.8v2.6M154.16 422.8v2.6M160.92 422.8v2.6M165.72 422.8v2.6M169.44 422.8v2.6M172.48 422.8v2.6M175.05 422.8v2.6M177.28 422.8v2.6M179.24 422.8v2.6M192.26 422.8v2.6M198.84 422.8v2.6M203.52 422.8v2.6M207.14 422.8v2.6M210.1 422.8v2.6M212.61 422.8v2.6M214.78 422.8v2.6M216.69 422.8v2.6M229.66 422.8v2.6M72.5 422.8v2.6M76 422.8v2.6M79 422.8v2.6M81.5 422.8v2.6M87.5 422.8v2.6M90 422.8v2.6M93 422.8v2.6M96.5 422.8v2.6M99.5 422.8v2.6" stroke="#000" stroke-width="1.5" fill="none"/>
<text x="60.5" y="409.5" font-size="11.3" text-anchor="end" fill="#111">0</text>
<text x="84.5" y="441.4" font-size="11.3" text-anchor="middle" fill="#111">0</text>
<text x="43.71" y="391.55" font-size="11.3" fill="#111">10<tspan font-size="8.5" dy="-4.5">2</tspan></text>
<text x="94.17" y="441.4" font-size="11.3" fill="#111">10<tspan font-size="8.5" dy="-4.5">2</tspan></text>
<text x="43.71" y="351.6" font-size="11.3" fill="#111">10<tspan font-size="8.5" dy="-4.5">3</tspan></text>
<text x="134.12" y="441.4" font-size="11.3" fill="#111">10<tspan font-size="8.5" dy="-4.5">3</tspan></text>
<text x="43.71" y="313.2" font-size="11.3" fill="#111">10<tspan font-size="8.5" dy="-4.5">4</tspan></text>
<text x="172.52" y="441.4" font-size="11.3" fill="#111">10<tspan font-size="8.5" dy="-4.5">4</tspan></text>
<text x="43.71" y="275.8" font-size="11.3" fill="#111">10<tspan font-size="8.5" dy="-4.5">5</tspan></text>
<text x="209.92" y="441.4" font-size="11.3" fill="#111">10<tspan font-size="8.5" dy="-4.5">5</tspan></text>
<path transform="translate(347.7 256.95) scale(.5)" d="M40 6h1m1 2h1m2 0h1m-17 3h1m82 1h1m23 3h1m-74 1h1m-49 1h1m84 0h1m-84 2h1m42 1h1m1 0h1m38 0h1m-68 1h1m50 0h1m7 0h1m-51 2h1m11 0h1m21 0h1m35 0h1m-94 2h1m54 0h1m-8 1h1m24 0h1m-60 1h1m19 0h1m2 0h1m3 0h1m-38 1h1m49 0h1m4 0h1m-57 1h1m47 0h1m36 0h1m-78 1h1m14 0h1m18 0h1m26 0h1m-43 1h1m56 0h1m-80 1h1m9 0h1m4 0h2m30 0h1m-49 1h1m9 0h1m3 0h1m14 0h1m2 0h1m-51 1h1m27 0h1m26 0h1m1 0h1m47 0h1m-87 1h1m1 0h1m3 0h1m13 0h1m9 0h1m14 0h1m5 0h1m9 0h1m-52 1h1m3 0h1m10 0h1m17 0h1m-69 1h1m4 0h1m17 0h1m12 0h2m7 0h1m73 0h1m27 0h1m-125 1h1m6 0h2m2 0h1m7 0h1m9 0h1m8 0h1m4 0h1m18 0h1m9 0h1m-78 1h1m7 0h1m3 0h1m11 0h3m1 0h1m4 0h1m13 0h1m-39 1h1m11 0h1m7 0h1m1 0h2m1 0h1m1 0h1m7 0h1m5 0h2m-48 1h1m4 0h1m6 0h1m3 0h1m4 0h1m8 0h1m1 0h2m5 0h1m8 0h1m-61 1h1m4 0h1m20 0h2m1 0h1m5 0h2m17 0h1m-50 1h2m1 0h1m6 0h2m10 0h1m9 0h1m1 0h1m2 0h1m2 0h1m6 0h1m4 0h1m-60 1h1m12 0h1m3 0h1m7 0h1m2 0h1m5 0h1m13 0h2m30 0h1m-65 1h2m1 0h1m1 0h3m8 0h1m4 0h1m20 0h1m8 0h1m15 0h1m-83 1h1m2 0h1m4 0h1m2 0h1m15 0h1m3 0h1m1 0h1m4 0h1m9 0h4m45 0h1m-106 1h1m17 0h1m10 0h2m5 0h1m3 0h1m4 0h1m7 0h1m5 0h1m7 0h1m1 0h1m6 0h1m5 0h1m7 0h1m-72 1h1m6 0h1m2 0h1m3 0h1m1 0h2m2 0h1m1 0h1m11 0h3m1 0h3m1 0h1m2 0h1m12 0h1m27 0h1m6 0h1m-111 1h1m15 0h1m3 0h1m2 0h1m1 0h1m1 0h1m1 0h2m2 0h1m1 0h1m3 0h2m2 0h3m6 0h1m1 0h1m2 0h1m6 0h1m1 0h1m6 0h1m4 0h1m3 0h1m-65 1h1m3 0h1m5 0h3m4 0h2m1 0h3m9 0h1m2 0h1m1 0h1m11 0h1m6 0h1m3 0h1m2 0h2m3 0h1m-79 1h2m6 0h1m1 0h1m2 0h2m11 0h1m2 0h1m2 0h1m15 0h1m1 0h1m1 0h1m1 0h1m1 0h1m8 0h1m4 0h1m-65 1h1m1 0h3m5 0h2m3 0h2m2 0h1m2 0h2m7 0h1m1 0h4m1 0h1m3 0h2m13 0h1m6 0h2m6 0h1m-72 1h2m10 0h1m3 0h1m3 0h1m2 0h2m1 0h1m4 0h2m2 0h3m4 0h1m1 0h1m3 0h3m8 0h1m5 0h1m4 0h1m9 0h1m5 0h1m-95 1h1m3 0h1m3 0h1m2 0h1m7 0h1m3 0h2m1 0h1m4 0h2m2 0h2m1 0h1m1 0h1m1 0h2m1 0h1m6 0h1m2 0h2m2 0h3m6 0h2m2 0h1m-82 1h1m6 0h1m4 0h1m1 0h1m6 0h1m6 0h2m4 0h2m2 0h2m1 0h3m1 0h1m1 0h1m2 0h2m1 0h1m3 0h1m5 0h1m6 0h1m1 0h1m3 0h1m9 0h1m-64 1h4m2 0h1m1 0h4m1 0h1m1 0h1m1 0h1m1 0h2m2 0h1m2 0h3m2 0h3m1 0h1m4 0h1m6 0h2m4 0h1m5 0h1m16 0h1m7 0h1m40 0h1m-146 1h1m11 0h1m1 0h1m1 0h2m6 0h1m1 0h2m1 0h1m1 0h1m4 0h3m3 0h1m1 0h2m2 0h1m3 0h1m3 0h3m1 0h4m11 0h2m6 0h1m-70 1h1m5 0h3m1 0h3m1 0h1m6 0h1m10 0h6m1 0h1m3 0h2m1 0h2m6 0h1m2 0h1m15 0h1m7 0h1m2 0h1m-106 1h1m17 0h1m5 0h1m4 0h1m3 0h1m1 0h2m3 0h1m1 0h2m1 0h1m5 0h4m2 0h4m2 0h2m1 0h2m1 0h1m1 0h1m1 0h1m3 0h2m1 0h1m1 0h1m3 0h1m10 0h1m-94 1h2m13 0h1m6 0h1m3 0h1m2 0h1m1 0h2m1 0h1m1 0h2m1 0h3m1 0h1m1 0h4m1 0h3m1 0h1m1 0h1m2 0h1m1 0h1m4 0h1m4 0h1m8 0h1m1 0h1m8 0h1m1 0h1m-86 1h1m1 0h1m4 0h1m2 0h1m1 0h1m2 0h3m1 0h3m2 0h1m1 0h1m2 0h1m1 0h3m3 0h4m1 0h1m3 0h3m1 0h1m2 0h1m2 0h1m1 0h2m3 0h1m7 0h1m1 0h1m1 0h1m1 0h1m2 0h1m-86 1h1m4 0h1m7 0h3m6 0h1m1 0h2m1 0h1m2 0h1m1 0h4m2 0h1m1 0h4m3 0h2m2 0h2m6 0h2m1 0h1m2 0h2m7 0h1m-78 1h1m5 0h2m1 0h3m2 0h1m4 0h1m2 0h1m2 0h2m3 0h1m2 0h1m1 0h1m4 0h4m2 0h2m2 0h6m4 0h1m3 0h1m4 0h1m5 0h2m2 0h1m7 0h2m4 0h1m-97 1h1m12 0h2m2 0h2m5 0h1m8 0h1m3 0h2m1 0h1m1 0h3m1 0h1m3 0h1m1 0h2m1 0h2m1 0h1m1 0h3m5 0h3m3 0h1m1 0h1m3 0h2m3 0h1m1 0h1m1 0h1m7 0h2m11 0h1m-106 1h1m3 0h1m4 0h1m3 0h1m4 0h2m1 0h1m1 0h6m1 0h3m2 0h4m3 0h1m1 0h6m1 0h1m2 0h2m2 0h1m1 0h1m5 0h1m11 0h1m34 0h1m-120 1h1m14 0h1m3 0h1m1 0h1m1 0h1m2 0h2m1 0h8m1 0h3m1 0h1m2 0h1m1 0h4m2 0h3m1 0h4m1 0h2m4 0h6m2 0h1m4 0h1m3 0h1m1 0h1m4 0h1m8 0h1m-101 1h1m4 0h1m5 0h1m6 0h1m3 0h3m1 0h2m4 0h1m1 0h2m2 0h1m2 0h11m1 0h5m1 0h1m1 0h3m5 0h2m1 0h2m2 0h2m2 0h3m7 0h1m-89 1h1m5 0h3m1 0h1m3 0h1m2 0h4m2 0h1m1 0h1m1 0h1m1 0h1m2 0h3m1 0h1m1 0h5m2 0h1m2 0h3m1 0h5m1 0h1m1 0h5m1 0h5m1 0h1m6 0h1m1 0h2m3 0h1m-87 1h1m10 0h1m4 0h1m3 0h2m2 0h1m1 0h1m2 0h3m2 0h1m1 0h1m2 0h7m1 0h4m2 0h1m1 0h5m1 0h4m2 0h1m1 0h4m1 0h1m5 0h1m14 0h3m4 0h1m-104 1h1m6 0h1m5 0h1m1 0h1m4 0h2m3 0h2m1 0h1m3 0h1m1 0h10m1 0h6m3 0h4m1 0h5m7 0h2m7 0h2m2 0h2m1 0h1m8 0h1m-89 1h1m4 0h3m1 0h2m3 0h6m1 0h3m1 0h2m1 0h3m1 0h1m1 0h6m1 0h1m1 0h4m1 0h5m1 0h1m1 0h4m1 0h1m1 0h2m4 0h5m2 0h1m10 0h1m19 0h2m-116 1h1m2 0h2m8 0h1m1 0h1m3 0h1m1 0h2m1 0h9m1 0h1m1 0h7m2 0h4m2 0h2m1 0h1m1 0h1m1 0h3m2 0h2m1 0h2m4 0h1m3 0h3m4 0h1m-77 1h1m1 0h4m1 0h1m2 0h2m2 0h3m2 0h1m2 0h4m1 0h1m1 0h2m1 0h10m1 0h3m1 0h8m2 0h2m2 0h1m1 0h3m2 0h1m1 0h3m2 0h1m2 0h1m4 0h2m6 0h1m-92 1h1m4 0h3m2 0h2m5 0h11m1 0h6m1 0h2m1 0h9m2 0h3m1 0h7m1 0h1m1 0h1m1 0h2m2 0h1m4 0h2m12 0h1m-91 1h1m1 0h1m3 0h2m1 0h1m1 0h1m2 0h1m1 0h1m1 0h1m1 0h5m2 0h6m1 0h4m1 0h2m2 0h1m2 0h15m1 0h1m1 0h3m1 0h2m9 0h1m5 0h1m6 0h1m1 0h1m-97 1h1m8 0h1m1 0h4m1 0h1m2 0h2m1 0h1m1 0h8m1 0h2m1 0h7m2 0h2m2 0h3m2 0h2m2 0h2m1 0h2m2 0h2m1 0h2m2 0h1m1 0h2m1 0h1m6 0h1m28 0h1m-109 1h7m2 0h3m2 0h2m1 0h2m2 0h9m1 0h23m2 0h1m1 0h3m3 0h2m2 0h5m1 0h1m1 0h2m5 0h1m9 0h1m1 0h1m-100 1h1m2 0h1m3 0h1m3 0h3m3 0h6m1 0h4m1 0h3m1 0h13m1 0h5m1 0h2m1 0h8m2 0h1m2 0h1m3 0h3m2 0h1m4 0h1m2 0h1m10 0h1m-106 1h1m4 0h1m1 0h2m3 0h4m2 0h1m1 0h3m1 0h1m2 0h1m1 0h18m1 0h16m1 0h3m1 0h2m1 0h1m3 0h3m7 0h1m2 0h1m14 0h1m14 0h1m-116 1h3m11 0h1m2 0h3m1 0h4m1 0h3m2 0h11m2 0h1m1 0h1m1 0h2m2 0h12m2 0h3m3 0h2m1 0h1m1 0h1m1 0h1m3 0h1m6 0h1m2 0h1m7 0h1m17 0h1m1 0h1m-123 1h1m6 0h1m1 0h2m1 0h1m2 0h1m1 0h1m2 0h3m2 0h10m1 0h2m1 0h19m1 0h5m2 0h2m2 0h1m4 0h3m1 0h2m3 0h1m2 0h1m21 0h1m-111 1h1m3 0h3m2 0h1m1 0h1m1 0h3m6 0h7m1 0h8m1 0h7m1 0h4m1 0h11m2 0h6m6 0h1m3 0h1m6 0h1m4 0h1m1 0h1m35 0h1m-129 1h1m3 0h1m2 0h2m1 0h1m3 0h1m1 0h13m1 0h9m1 0h14m1 0h7m1 0h4m1 0h8m2 0h1m9 0h3m13 0h1m-104 1h1m1 0h1m3 0h3m3 0h2m1 0h1m1 0h1m1 0h7m1 0h6m1 0h17m1 0h11m1 0h3m2 0h5m1 0h3m2 0h2m-82 1h2m1 0h1m3 0h2m1 0h6m1 0h3m1 0h4m1 0h9m1 0h14m1 0h11m1 0h11m5 0h1m1 0h2m2 0h2m6 0h1m1 0h1m-102 1h1m6 0h1m3 0h2m1 0h2m1 0h2m1 0h3m1 0h1m1 0h6m1 0h2m2 0h6m1 0h24m1 0h1m1 0h2m1 0h8m2 0h2m1 0h1m4 0h1m1 0h1m4 0h1m3 0h2m10 0h1m20 0h1m181 0h1m-314 1h1m1 0h1m1 0h2m1 0h3m1 0h1m1 0h2m1 0h2m1 0h3m2 0h8m1 0h2m1 0h19m2 0h18m1 0h2m2 0h1m6 0h1m12 0h2m22 0h1m-126 1h1m6 0h1m1 0h2m2 0h5m1 0h9m1 0h16m1 0h6m1 0h8m1 0h1m1 0h4m1 0h4m1 0h1m2 0h2m2 0h1m1 0h3m1 0h1m5 0h1m-91 1h3m1 0h4m1 0h4m1 0h1m1 0h2m1 0h1m1 0h29m1 0h4m1 0h4m1 0h1m1 0h4m1 0h1m1 0h1m1 0h2m1 0h1m3 0h1m9 0h3m12 0h1m5 0h1m-118 1h1m4 0h1m1 0h1m1 0h6m2 0h7m2 0h24m1 0h6m1 0h18m1 0h6m3 0h1m1 0h1m1 0h1m3 0h1m1 0h1m4 0h2m-101 1h1m3 0h1m1 0h1m4 0h1m2 0h1m1 0h5m1 0h6m1 0h12m1 0h3m1 0h15m1 0h2m1 0h1m1 0h3m1 0h1m1 0h5m1 0h6m1 0h1m1 0h1m6 0h1m15 0h1m9 0h1m-119 1h1m9 0h4m1 0h3m1 0h45m1 0h1m1 0h2m1 0h2m1 0h3m2 0h5m1 0h2m1 0h1m6 0h1m7 0h1m-107 1h1m1 0h1m9 0h3m1 0h8m2 0h32m1 0h2m1 0h3m1 0h5m1 0h5m1 0h1m2 0h3m4 0h1m3 0h1m19 0h1m-106 1h3m2 0h4m1 0h53m1 0h10m1 0h4m3 0h1m2 0h1m4 0h3m6 0h2m-104 1h1m3 0h2m1 0h2m2 0h2m2 0h1m1 0h1m2 0h1m1 0h44m1 0h4m2 0h1m4 0h4m2 0h1m1 0h1m1 0h2m1 0h1m5 0h1m10 0h1m-112 1h1m1 0h1m2 0h1m1 0h1m2 0h7m1 0h2m1 0h1m1 0h5m1 0h38m2 0h2m1 0h6m1 0h4m2 0h1m1 0h1m1 0h2m13 0h1m-107 1h1m1 0h1m5 0h1m1 0h1m1 0h2m1 0h8m2 0h2m1 0h53m1 0h6m3 0h3m20 0h1m8 0h1m-123 1h1m4 0h2m1 0h1m1 0h1m2 0h6m1 0h9m1 0h2m1 0h32m1 0h10m1 0h2m1 0h4m1 0h3m2 0h1m1 0h4m4 0h1m1 0h2m18 0h1m14 0h1m-139 1h1m1 0h1m2 0h1m1 0h1m2 0h1m1 0h3m1 0h3m2 0h3m1 0h1m1 0h22m1 0h2m1 0h11m1 0h17m3 0h2m4 0h2m2 0h1m6 0h1m52 0h1m-154 1h2m1 0h2m1 0h1m3 0h1m1 0h8m2 0h4m1 0h46m2 0h5m1 0h2m2 0h1m2 0h2m1 0h2m5 0h1m3 0h1m13 0h1m-117 1h1m2 0h1m1 0h4m4 0h3m1 0h1m1 0h12m1 0h27m1 0h3m1 0h1m1 0h15m1 0h2m1 0h3m1 0h1m4 0h1m4 0h1m2 0h1m3 0h1m-109 1h1m2 0h2m1 0h1m2 0h2m1 0h1m2 0h1m1 0h2m1 0h1m1 0h6m1 0h2m2 0h43m1 0h4m1 0h2m1 0h1m2 0h1m3 0h2m9 0h1m4 0h1m4 0h1m8 0h1m-120 1h1m2 0h2m2 0h15m2 0h8m1 0h29m1 0h9m1 0h2m1 0h2m1 0h1m1 0h1m1 0h1m1 0h3m2 0h3m1 0h1m1 0h1m4 0h1m5 0h1m-110 1h1m5 0h1m1 0h1m1 0h2m3 0h16m1 0h36m1 0h8m2 0h2m2 0h3m4 0h4m9 0h1m9 0h1m-110 1h3m2 0h2m1 0h3m1 0h1m1 0h3m1 0h11m1 0h1m1 0h24m1 0h15m1 0h5m4 0h5m1 0h1m2 0h1m2 0h1m4 0h1m42 0h1m-145 1h2m4 0h1m1 0h1m4 0h1m1 0h7m1 0h7m1 0h37m1 0h1m2 0h3m1 0h1m1 0h1m2 0h1m2 0h1m5 0h1m15 0h1m7 0h1m28 0h1m-142 1h2m4 0h3m1 0h2m1 0h7m1 0h40m1 0h9m1 0h8m2 0h1m2 0h1m8 0h1m-100 1h1m3 0h2m1 0h2m2 0h2m1 0h63m1 0h2m1 0h4m1 0h1m1 0h2m1 0h1m7 0h1m2 0h1m2 0h1m4 0h1m17 0h1m-129 1h1m2 0h1m1 0h2m2 0h1m2 0h2m2 0h8m1 0h27m1 0h3m1 0h22m1 0h2m1 0h4m1 0h1m1 0h1m1 0h2m5 0h2m-97 1h2m1 0h9m1 0h1m1 0h16m1 0h39m1 0h9m1 0h1m1 0h1m1 0h1m4 0h1m2 0h1m3 0h1m14 0h1m-113 1h2m2 0h1m1 0h1m1 0h2m1 0h2m1 0h3m1 0h1m1 0h26m1 0h27m1 0h1m2 0h5m1 0h3m2 0h1m5 0h2m7 0h1m9 0h1m1 0h1m-119 1h4m1 0h1m2 0h3m1 0h2m1 0h4m1 0h1m1 0h42m1 0h3m1 0h11m1 0h3m1 0h1m3 0h2m2 0h1m6 0h3m5 0h1m-112 1h1m3 0h3m1 0h2m1 0h1m1 0h1m2 0h55m2 0h6m2 0h5m3 0h2m9 0h1m1 0h1m12 0h1m3 0h1m8 0h1m-127 1h1m1 0h7m1 0h2m1 0h2m1 0h1m1 0h1m1 0h5m1 0h51m1 0h1m1 0h4m1 0h1m4 0h2m3 0h2m6 0h2m-106 1h2m3 0h5m1 0h2m1 0h18m2 0h40m1 0h13m2 0h1m3 0h3m3 0h1m-95 1h5m1 0h1m1 0h1m1 0h16m1 0h42m1 0h1m1 0h5m1 0h3m1 0h2m1 0h2m9 0h3m7 0h1m2 0h1m-117 1h1m1 0h1m4 0h1m2 0h1m1 0h1m1 0h4m1 0h1m1 0h49m1 0h1m1 0h2m2 0h2m1 0h1m2 0h1m2 0h1m4 0h2m2 0h1m4 0h1m1 0h1m9 0h1m-113 1h1m1 0h1m1 0h1m2 0h1m5 0h1m3 0h2m1 0h2m1 0h50m1 0h3m1 0h3m1 0h2m1 0h3m5 0h1m6 0h1m18 0h2m-119 1h1m2 0h1m4 0h5m1 0h2m1 0h10m1 0h47m1 0h2m3 0h2m1 0h2m1 0h6m1 0h1m2 0h1m1 0h1m2 0h1m-103 1h2m3 0h2m3 0h1m3 0h49m1 0h11m2 0h1m1 0h5m5 0h1m1 0h1m1 0h1m7 0h1m11 0h1m-115 1h1m2 0h1m2 0h2m1 0h1m2 0h4m1 0h7m1 0h3m1 0h47m1 0h3m1 0h2m1 0h1m1 0h2m2 0h1m6 0h1m1 0h2m41 0h1m-144 1h2m3 0h1m2 0h1m2 0h1m1 0h20m1 0h38m1 0h6m2 0h5m2 0h2m7 0h1m14 0h1m-110 1h1m1 0h3m1 0h1m2 0h17m1 0h38m1 0h3m1 0h2m1 0h4m1 0h5m2 0h1m3 0h4m2 0h2m34 0h1m-132 1h1m1 0h1m2 0h1m1 0h1m1 0h5m1 0h1m2 0h2m1 0h1m1 0h51m1 0h3m1 0h1m2 0h3m1 0h1m6 0h2m6 0h1m19 0h2m30 0h1m7 0h1m-158 1h1m1 0h1m2 0h4m1 0h3m1 0h54m1 0h5m1 0h2m1 0h3m1 0h1m7 0h2m2 0h1m5 0h1m12 0h1m1 0h1m3 0h1m-122 1h1m3 0h1m2 0h12m1 0h54m1 0h1m2 0h5m1 0h2m3 0h1m2 0h1m66 0h1m-164 1h2m1 0h1m1 0h1m2 0h1m2 0h2m1 0h2m1 0h1m1 0h5m1 0h50m1 0h1m2 0h2m1 0h4m1 0h1m3 0h1m5 0h1m3 0h1m3 0h1m-103 1h2m1 0h1m1 0h2m2 0h1m2 0h54m1 0h8m3 0h1m1 0h3m3 0h1m6 0h1m2 0h1m9 0h1m-107 1h2m2 0h1m2 0h6m1 0h11m1 0h46m1 0h1m1 0h4m3 0h3m3 0h1m7 0h1m1 0h1m44 0h1m-145 1h2m2 0h4m2 0h4m1 0h2m1 0h37m1 0h18m2 0h6m1 0h1m6 0h1m1 0h2m10 0h1m-105 1h1m3 0h1m2 0h1m1 0h4m1 0h1m1 0h4m1 0h61m1 0h2m2 0h2m-92 1h2m4 0h1m6 0h3m2 0h1m1 0h1m1 0h4m1 0h18m1 0h11m1 0h18m2 0h1m1 0h2m1 0h1m1 0h2m1 0h1m1 0h2m5 0h1m8 0h1m-104 1h1m2 0h3m1 0h1m1 0h1m1 0h59m1 0h7m1 0h1m5 0h1m1 0h1m4 0h1m2 0h1m2 0h1m1 0h1m2 0h1m2 0h1m5 0h1m5 0h1m-118 1h2m1 0h2m2 0h2m1 0h1m1 0h7m1 0h3m1 0h26m1 0h8m1 0h10m1 0h2m1 0h4m1 0h3m1 0h3m1 0h2m26 0h2m-120 1h1m5 0h2m1 0h3m1 0h3m1 0h7m1 0h9m1 0h22m1 0h7m1 0h4m1 0h2m1 0h1m1 0h3m1 0h4m1 0h1m1 0h2m1 0h1m1 0h2m3 0h2m5 0h1m1 0h1m4 0h1m24 0h1m-134 1h1m1 0h1m1 0h2m1 0h34m1 0h23m1 0h4m1 0h5m2 0h3m1 0h1m1 0h1m7 0h1m5 0h1m4 0h1m18 0h1m-126 1h4m1 0h2m1 0h3m1 0h1m1 0h1m1 0h1m1 0h14m1 0h31m1 0h2m1 0h5m1 0h1m1 0h10m2 0h1m1 0h1m4 0h1m43 0h1m-141 1h1m3 0h1m3 0h2m1 0h1m2 0h3m2 0h5m1 0h1m1 0h53m1 0h1m2 0h1m3 0h1m1 0h2m10 0h1m3 0h1m3 0h1m-109 1h1m2 0h2m4 0h1m1 0h1m1 0h1m2 0h2m1 0h7m1 0h15m1 0h12m1 0h16m1 0h2m2 0h3m1 0h1m1 0h2m2 0h3m3 0h1m4 0h1m1 0h1m-100 1h1m1 0h1m3 0h1m2 0h1m1 0h2m1 0h7m1 0h1m1 0h45m1 0h3m2 0h3m1 0h1m1 0h3m8 0h1m4 0h3m-98 1h1m1 0h1m2 0h3m1 0h1m2 0h1m1 0h2m1 0h2m1 0h13m1 0h30m3 0h5m2 0h2m2 0h2m1 0h2m2 0h2m7 0h1m8 0h1m10 0h1m1 0h1m-122 1h2m7 0h1m1 0h1m2 0h2m2 0h8m1 0h3m1 0h10m1 0h15m1 0h8m1 0h4m1 0h3m1 0h2m1 0h1m2 0h4m1 0h2m2 0h1m4 0h1m4 0h1m3 0h1m1 0h1m9 0h1m-118 1h1m3 0h4m2 0h1m2 0h1m2 0h4m1 0h7m1 0h23m1 0h17m1 0h2m1 0h7m1 0h2m3 0h3m1 0h2m1 0h1m5 0h1m6 0h1m3 0h2m14 0h1m23 0h1m-146 1h1m1 0h1m3 0h1m1 0h1m1 0h4m1 0h5m1 0h6m1 0h13m1 0h7m1 0h21m2 0h2m4 0h2m1 0h2m2 0h1m1 0h1m3 0h1m2 0h1m11 0h1m-109 1h1m5 0h1m2 0h3m1 0h4m1 0h1m1 0h43m1 0h3m1 0h2m1 0h2m2 0h1m3 0h3m1 0h1m-82 1h1m1 0h1m1 0h1m2 0h3m1 0h2m1 0h3m1 0h3m1 0h4m1 0h46m1 0h1m1 0h2m1 0h1m4 0h1m7 0h1m4 0h1m-94 1h1m2 0h1m2 0h2m2 0h12m1 0h23m1 0h8m2 0h1m1 0h2m1 0h2m1 0h10m1 0h5m4 0h1m8 0h1m-96 1h3m3 0h3m2 0h2m1 0h3m1 0h35m1 0h3m1 0h4m1 0h1m2 0h2m1 0h1m2 0h2m6 0h1m1 0h2m2 0h1m5 0h1m38 0h1m-138 1h1m2 0h2m1 0h2m1 0h1m2 0h1m1 0h4m1 0h4m1 0h2m1 0h7m1 0h3m1 0h18m1 0h10m1 0h6m1 0h1m3 0h2m5 0h1m13 0h1m8 0h1m1 0h1m-113 1h2m3 0h1m1 0h1m2 0h1m2 0h2m2 0h1m2 0h7m1 0h5m1 0h16m1 0h14m1 0h3m2 0h3m2 0h2m5 0h1m2 0h2m11 0h1m83 0h1m-185 1h1m1 0h1m1 0h1m1 0h4m1 0h1m3 0h16m1 0h3m2 0h27m1 0h11m2 0h2m1 0h1m2 0h1m1 0h1m5 0h1m1 0h2m34 0h1m-129 1h1m5 0h1m3 0h1m1 0h3m1 0h46m1 0h6m1 0h1m2 0h2m1 0h5m4 0h1m9 0h3m4 0h1m34 0h1m-138 1h1m2 0h1m1 0h2m1 0h1m2 0h1m1 0h1m1 0h2m1 0h9m1 0h1m1 0h7m1 0h12m1 0h2m1 0h2m1 0h8m1 0h2m1 0h1m1 0h1m2 0h1m4 0h1m9 0h1m3 0h2m-100 1h1m1 0h1m2 0h2m5 0h31m1 0h10m1 0h3m1 0h9m1 0h4m3 0h3m3 0h3m1 0h2m3 0h1m1 0h1m3 0h1m17 0h1m13 0h1m18 0h1m2 0h1m-151 1h1m1 0h1m1 0h1m6 0h4m1 0h1m3 0h1m1 0h28m1 0h5m1 0h5m1 0h7m2 0h2m4 0h5m1 0h2m3 0h1m1 0h1m-78 1h2m1 0h3m1 0h1m2 0h10m1 0h16m1 0h9m1 0h4m1 0h1m1 0h1m1 0h3m4 0h2m1 0h4m5 0h1m9 0h1m-101 1h1m1 0h1m5 0h1m2 0h2m1 0h1m6 0h1m2 0h3m1 0h2m1 0h14m1 0h13m1 0h4m1 0h5m1 0h1m1 0h2m1 0h1m2 0h1m1 0h1m2 0h1m1 0h1m2 0h1m5 0h1m7 0h1m-102 1h1m4 0h1m3 0h6m7 0h6m1 0h1m1 0h6m2 0h3m1 0h1m1 0h17m3 0h1m1 0h1m3 0h3m2 0h5m5 0h1m1 0h1m1 0h3m3 0h1m13 0h1m4 0h1m-114 1h1m4 0h1m3 0h1m3 0h2m2 0h1m2 0h1m1 0h9m1 0h17m1 0h1m1 0h2m2 0h10m1 0h4m1 0h3m3 0h2m1 0h1m1 0h1m5 0h1m1 0h1m1 0h1m7 0h1m-104 1h1m1 0h1m3 0h1m5 0h3m1 0h2m1 0h4m2 0h2m1 0h5m1 0h3m1 0h32m10 0h3m4 0h2m2 0h1m4 0h1m-96 1h2m1 0h1m2 0h1m1 0h1m7 0h5m1 0h7m2 0h5m1 0h19m2 0h7m2 0h5m3 0h1m1 0h2m1 0h1m12 0h1m15 0h1m9 0h1m-123 1h1m4 0h1m1 0h1m1 0h1m5 0h1m1 0h1m2 0h1m1 0h5m2 0h1m1 0h5m1 0h6m1 0h1m1 0h21m1 0h1m2 0h4m1 0h1m1 0h1m1 0h1m6 0h2m12 0h1m3 0h1m6 0h1m38 0h1m-153 1h1m4 0h2m2 0h1m2 0h7m1 0h4m4 0h2m1 0h1m1 0h12m1 0h5m1 0h13m1 0h2m1 0h1m2 0h1m1 0h2m1 0h1m1 0h1m3 0h1m13 0h1m7 0h1m3 0h1m-101 1h1m2 0h1m4 0h1m3 0h6m1 0h3m1 0h6m2 0h4m1 0h10m1 0h5m1 0h2m2 0h1m1 0h2m2 0h2m1 0h2m4 0h4m4 0h1m9 0h1m8 0h1m19 0h1m4 0h1m-134 1h1m7 0h1m1 0h3m3 0h1m1 0h2m2 0h1m2 0h14m1 0h3m1 0h1m1 0h3m1 0h1m3 0h8m1 0h5m3 0h1m1 0h1m4 0h1m4 0h1m1 0h1m9 0h1m3 0h1m-99 1h2m2 0h2m3 0h1m2 0h2m2 0h1m1 0h1m1 0h12m1 0h15m1 0h7m1 0h1m1 0h2m1 0h1m1 0h4m1 0h3m3 0h1m2 0h4m8 0h1m93 0h1m-180 1h1m4 0h1m2 0h1m3 0h7m1 0h2m1 0h6m1 0h10m1 0h6m1 0h4m1 0h2m1 0h2m1 0h3m1 0h5m2 0h2m2 0h2m27 0h1m14 0h1m-120 1h1m3 0h1m9 0h1m1 0h1m1 0h4m1 0h13m1 0h19m2 0h6m1 0h3m1 0h1m5 0h1m1 0h1m2 0h1m11 0h1m26 0h1m-125 1h1m3 0h2m2 0h1m2 0h5m2 0h3m1 0h5m1 0h3m1 0h7m1 0h11m2 0h3m1 0h2m1 0h1m1 0h1m1 0h3m3 0h1m1 0h1m2 0h1m2 0h2m4 0h1m1 0h1m2 0h1m14 0h1m-98 1h2m4 0h1m4 0h1m1 0h1m1 0h10m1 0h1m2 0h14m1 0h4m1 0h2m1 0h2m1 0h1m1 0h1m2 0h1m1 0h2m2 0h1m6 0h7m23 0h1m-99 1h1m2 0h1m1 0h2m2 0h1m3 0h1m1 0h2m1 0h1m1 0h3m1 0h1m1 0h8m1 0h5m1 0h4m1 0h1m1 0h3m2 0h2m1 0h2m2 0h2m1 0h3m4 0h1m6 0h1m1 0h3m2 0h1m4 0h1m1 0h1m-103 1h1m3 0h1m1 0h1m3 0h2m2 0h1m1 0h1m1 0h2m1 0h3m2 0h10m1 0h2m4 0h9m1 0h2m2 0h5m1 0h3m2 0h2m2 0h4m4 0h1m2 0h1m8 0h1m1 0h1m-89 1h2m2 0h1m1 0h2m1 0h1m1 0h2m1 0h2m1 0h4m1 0h4m1 0h2m1 0h1m2 0h10m1 0h14m1 0h2m1 0h2m3 0h4m1 0h2m1 0h1m5 0h2m17 0h1m-103 1h1m3 0h1m1 0h1m3 0h1m1 0h1m1 0h2m1 0h1m1 0h2m1 0h1m4 0h2m1 0h1m2 0h2m2 0h3m1 0h1m2 0h9m1 0h1m2 0h5m1 0h2m1 0h1m4 0h1m4 0h2m18 0h1m1 0h1m11 0h1m-116 1h1m4 0h2m9 0h1m3 0h13m1 0h14m1 0h3m1 0h5m2 0h1m1 0h2m2 0h2m3 0h3m4 0h2m2 0h1m1 0h2m1 0h1m-81 1h1m4 0h4m1 0h1m1 0h1m1 0h1m1 0h2m3 0h2m1 0h4m3 0h2m1 0h3m1 0h6m1 0h6m1 0h2m1 0h2m1 0h1m2 0h2m1 0h1m3 0h1m3 0h1m5 0h1m48 0h1m-132 1h1m7 0h1m1 0h1m1 0h2m1 0h2m1 0h1m1 0h1m1 0h1m5 0h2m1 0h2m1 0h3m2 0h4m1 0h11m1 0h2m1 0h6m1 0h2m4 0h1m1 0h2m4 0h1m5 0h1m-89 1h1m2 0h1m4 0h1m2 0h4m1 0h4m3 0h3m2 0h6m1 0h6m1 0h2m2 0h1m1 0h5m1 0h1m1 0h7m1 0h2m1 0h4m1 0h1m2 0h3m1 0h1m1 0h1m1 0h1m-73 1h1m2 0h2m1 0h8m1 0h8m1 0h1m1 0h19m3 0h3m1 0h2m1 0h1m1 0h1m2 0h1m4 0h1m5 0h1m7 0h1m13 0h1m40 0h1m-141 1h1m5 0h2m2 0h1m2 0h1m2 0h1m3 0h2m1 0h2m3 0h8m1 0h16m1 0h9m4 0h1m1 0h1m6 0h1m1 0h1m2 0h1m-86 1h1m1 0h1m9 0h3m1 0h1m1 0h2m1 0h4m1 0h3m1 0h23m1 0h2m1 0h4m4 0h2m1 0h1m1 0h3m1 0h2m2 0h1m5 0h1m14 0h1m1 0h1m44 0h1m-145 1h1m2 0h1m5 0h1m1 0h2m1 0h5m2 0h2m2 0h2m1 0h3m1 0h5m1 0h1m1 0h2m1 0h3m1 0h1m1 0h1m2 0h6m1 0h1m2 0h1m9 0h2m5 0h1m21 0h1m-102 1h1m9 0h1m2 0h1m2 0h2m4 0h1m3 0h1m1 0h1m1 0h6m1 0h18m1 0h2m4 0h1m1 0h2m13 0h3m2 0h1m4 0h1m52 0h1m-128 1h1m1 0h1m1 0h2m1 0h3m1 0h2m2 0h1m1 0h1m1 0h2m3 0h10m1 0h13m1 0h3m2 0h2m2 0h2m4 0h1m14 0h1m18 0h1m-112 1h2m6 0h1m1 0h2m2 0h3m1 0h2m1 0h3m2 0h2m3 0h15m1 0h3m1 0h2m1 0h2m2 0h1m1 0h1m1 0h5m1 0h1m1 0h2m8 0h1m2 0h2m14 0h1m-96 1h1m1 0h1m3 0h5m1 0h1m2 0h4m1 0h7m1 0h5m1 0h1m1 0h5m1 0h2m1 0h8m1 0h6m4 0h2m2 0h4m3 0h1m7 0h1m2 0h1m3 0h1m9 0h1m-98 1h1m2 0h2m5 0h2m1 0h4m1 0h3m1 0h4m2 0h1m2 0h14m1 0h1m1 0h1m1 0h2m1 0h2m2 0h1m3 0h1m2 0h3m8 0h1m46 0h1m-127 1h1m2 0h2m3 0h1m1 0h1m4 0h3m1 0h1m1 0h10m1 0h6m1 0h2m1 0h4m1 0h5m1 0h4m5 0h1m2 0h1m1 0h1m1 0h1m26 0h1m6 0h1m-113 1h1m2 0h2m6 0h1m3 0h1m1 0h1m1 0h1m1 0h2m2 0h6m1 0h1m1 0h24m3 0h1m1 0h2m1 0h4m9 0h5m1 0h1m52 0h1m-136 1h1m3 0h1m6 0h2m1 0h2m1 0h1m1 0h5m3 0h5m1 0h9m1 0h3m1 0h1m1 0h4m1 0h1m1 0h2m1 0h1m2 0h1m1 0h2m2 0h1m1 0h4m5 0h3m3 0h1m-78 1h2m2 0h1m1 0h1m2 0h2m1 0h2m1 0h1m1 0h3m1 0h6m1 0h7m1 0h1m1 0h4m1 0h1m2 0h6m1 0h1m2 0h3m2 0h1m4 0h1m25 0h1m8 0h1m11 0h1m-122 1h1m2 0h1m2 0h3m1 0h1m4 0h4m2 0h2m1 0h1m1 0h2m2 0h1m1 0h2m1 0h1m2 0h5m1 0h7m1 0h1m1 0h12m1 0h3m3 0h1m84 0h1m34 0h1m-192 1h1m3 0h1m2 0h2m2 0h1m1 0h1m5 0h1m1 0h2m1 0h3m2 0h3m1 0h5m2 0h12m1 0h1m1 0h1m1 0h4m3 0h2m1 0h2m2 0h1m3 0h1m18 0h1m15 0h1m71 0h1m-184 1h3m2 0h1m2 0h1m5 0h1m1 0h4m2 0h5m3 0h10m2 0h5m1 0h6m1 0h1m1 0h1m3 0h1m1 0h1m1 0h1m5 0h3m1 0h1m-74 1h1m1 0h1m2 0h1m2 0h1m1 0h2m6 0h4m1 0h2m1 0h1m2 0h9m1 0h3m1 0h5m1 0h6m1 0h1m1 0h1m1 0h2m3 0h1m20 0h1m18 0h1m-108 1h1m4 0h2m6 0h1m1 0h3m2 0h1m1 0h9m2 0h8m1 0h6m1 0h1m3 0h2m1 0h2m1 0h4m2 0h1m1 0h5m3 0h1m-80 1h1m1 0h1m3 0h2m7 0h1m4 0h1m1 0h7m1 0h1m1 0h4m1 0h7m1 0h16m1 0h2m1 0h1m3 0h1m1 0h1m2 0h1m5 0h1m5 0h1m3 0h1m-80 1h1m2 0h1m1 0h1m1 0h1m2 0h2m2 0h2m1 0h13m1 0h1m1 0h1m1 0h2m1 0h4m1 0h6m3 0h1m1 0h1m1 0h2m1 0h1m4 0h2m1 0h1m10 0h1m9 0h1m11 0h1m-111 1h1m1 0h1m4 0h1m11 0h9m2 0h11m1 0h4m1 0h2m1 0h5m3 0h2m2 0h5m2 0h2m4 0h1m3 0h1m8 0h1m26 0h1m-115 1h2m2 0h1m11 0h2m1 0h1m2 0h1m1 0h1m2 0h1m1 0h7m1 0h1m1 0h5m1 0h4m2 0h1m2 0h5m1 0h1m1 0h1m4 0h3m1 0h3m11 0h1m1 0h1m5 0h1m11 0h1m-101 1h1m4 0h2m3 0h4m1 0h2m1 0h3m1 0h2m1 0h3m1 0h5m1 0h5m1 0h8m1 0h3m1 0h3m1 0h2m1 0h1m4 0h1m2 0h1m3 0h1m1 0h1m5 0h1m7 0h1m4 0h1m-96 1h2m3 0h1m3 0h1m1 0h1m1 0h2m4 0h24m1 0h14m1 0h6m23 0h1m-90 1h1m7 0h2m1 0h3m1 0h2m1 0h6m1 0h2m1 0h5m2 0h6m1 0h4m1 0h2m2 0h2m1 0h1m1 0h2m2 0h3m4 0h1m3 0h1m3 0h1m4 0h2m1 0h1m-89 1h1m2 0h1m1 0h1m10 0h1m1 0h1m5 0h2m1 0h2m1 0h1m1 0h10m1 0h1m1 0h7m3 0h3m1 0h1m2 0h1m1 0h2m1 0h4m1 0h1m1 0h1m2 0h1m2 0h1m15 0h1m3 0h1m9 0h1m-102 1h1m3 0h3m2 0h1m1 0h4m1 0h1m1 0h1m1 0h2m1 0h1m1 0h1m1 0h4m1 0h1m3 0h1m1 0h4m1 0h5m2 0h2m1 0h1m2 0h5m1 0h1m1 0h2m3 0h2m10 0h1m13 0h1m5 0h1m-101 1h1m2 0h1m2 0h2m1 0h2m1 0h2m1 0h1m1 0h2m1 0h8m1 0h4m1 0h8m1 0h3m1 0h1m1 0h3m1 0h2m2 0h5m6 0h1m3 0h1m-72 1h1m1 0h1m2 0h1m1 0h1m6 0h3m1 0h3m1 0h1m2 0h19m4 0h2m1 0h1m3 0h1m1 0h1m1 0h1m1 0h4m1 0h2m34 0h1m-110 1h1m3 0h1m4 0h3m1 0h1m1 0h2m1 0h6m1 0h1m2 0h2m1 0h2m1 0h6m1 0h4m1 0h11m2 0h2m1 0h4m1 0h2m2 0h2m1 0h1m11 0h1m6 0h1m3 0h1m-90 1h2m4 0h1m7 0h7m1 0h3m1 0h1m1 0h6m1 0h5m1 0h1m1 0h1m1 0h4m1 0h7m3 0h1m8 0h1m1 0h1m1 0h1m8 0h1m-90 1h2m6 0h1m2 0h1m2 0h6m3 0h4m1 0h3m1 0h3m2 0h2m1 0h2m1 0h8m1 0h8m1 0h1m3 0h1m1 0h1m6 0h2m2 0h1m67 0h1m-152 1h2m1 0h1m6 0h1m3 0h1m1 0h8m1 0h21m1 0h9m2 0h2m1 0h2m2 0h5m1 0h2m1 0h2m1 0h1m3 0h2m3 0h1m-84 1h1m10 0h18m1 0h8m1 0h9m1 0h2m1 0h1m1 0h3m1 0h1m2 0h4m1 0h1m2 0h2m5 0h2m4 0h1m2 0h1m-87 1h1m1 0h1m3 0h1m1 0h1m1 0h4m1 0h5m2 0h2m2 0h6m1 0h1m2 0h3m1 0h4m1 0h2m1 0h1m2 0h9m1 0h1m4 0h2m1 0h2m4 0h1m1 0h1m18 0h1m-87 1h1m1 0h2m3 0h2m3 0h5m1 0h7m1 0h22m1 0h5m3 0h1m1 0h4m4 0h2m1 0h1m1 0h1m51 0h1m-136 1h1m6 0h1m4 0h2m2 0h2m1 0h5m2 0h11m1 0h16m1 0h5m1 0h3m3 0h3m2 0h1m1 0h3m1 0h2m59 0h1m-139 1h1m3 0h1m1 0h1m2 0h4m2 0h1m2 0h1m2 0h2m1 0h4m1 0h3m3 0h7m1 0h2m1 0h3m1 0h3m1 0h12m2 0h3m1 0h2m1 0h3m4 0h1m14 0h1m-99 1h1m1 0h1m5 0h1m3 0h1m3 0h5m1 0h2m1 0h3m1 0h8m1 0h2m1 0h5m1 0h4m1 0h1m1 0h5m1 0h1m1 0h1m1 0h4m2 0h1m1 0h1m1 0h1m2 0h1m2 0h2m6 0h1m1 0h1m-89 1h1m1 0h1m10 0h3m5 0h1m1 0h6m1 0h7m1 0h6m1 0h6m1 0h4m1 0h3m1 0h6m2 0h2m3 0h2m4 0h1m6 0h1m52 0h1m-142 1h1m2 0h1m4 0h1m3 0h1m1 0h1m1 0h2m1 0h2m1 0h1m2 0h9m2 0h7m2 0h8m1 0h5m1 0h3m2 0h1m2 0h3m1 0h2m3 0h2m5 0h1m4 0h1m5 0h1m-96 1h1m2 0h1m3 0h1m3 0h1m3 0h4m3 0h3m3 0h1m4 0h6m1 0h2m1 0h6m2 0h1m1 0h1m1 0h4m1 0h5m2 0h1m1 0h1m1 0h1m10 0h1m2 0h1m23 0h1m-112 1h1m1 0h1m4 0h1m9 0h1m2 0h4m1 0h1m2 0h2m1 0h27m1 0h4m1 0h1m1 0h6m2 0h2m4 0h1m2 0h1m1 0h2m1 0h1m18 0h1m83 0h1m-190 1h1m5 0h1m8 0h4m1 0h1m1 0h2m1 0h17m1 0h4m1 0h1m1 0h2m4 0h2m1 0h1m1 0h6m2 0h1m1 0h2m1 0h1m1 0h1m1 0h3m2 0h1m1 0h2m93 0h1m134 0h1m-313 1h1m5 0h1m3 0h5m2 0h3m1 0h1m2 0h5m1 0h1m1 0h14m1 0h12m1 0h2m1 0h1m4 0h1m8 0h2m1 0h1m3 0h2m6 0h1m-97 1h2m1 0h1m5 0h2m1 0h1m1 0h1m1 0h3m1 0h3m2 0h12m1 0h1m1 0h14m1 0h1m1 0h4m1 0h1m1 0h4m1 0h5m1 0h4m1 0h1m4 0h1m2 0h1m6 0h1m6 0h1m-93 1h1m1 0h1m2 0h2m3 0h3m1 0h1m1 0h2m1 0h4m1 0h4m1 0h23m2 0h2m1 0h1m1 0h1m5 0h2m8 0h1m8 0h1m7 0h1m-104 1h1m5 0h1m2 0h1m1 0h1m3 0h2m1 0h3m1 0h10m1 0h1m1 0h6m1 0h3m1 0h5m1 0h1m1 0h9m1 0h4m4 0h1m1 0h1m6 0h1m8 0h2m7 0h1m6 0h1m-107 1h2m1 0h1m2 0h1m1 0h1m1 0h3m1 0h1m1 0h3m1 0h9m1 0h1m1 0h20m1 0h7m2 0h1m1 0h1m1 0h1m1 0h4m3 0h1m12 0h2m-88 1h1m5 0h4m1 0h1m5 0h4m1 0h3m1 0h10m2 0h10m1 0h9m1 0h4m1 0h3m1 0h1m1 0h2m5 0h1m4 0h1m4 0h1m1 0h1m12 0h1m-99 1h1m2 0h2m3 0h4m1 0h3m1 0h2m1 0h24m1 0h2m1 0h7m2 0h3m1 0h3m1 0h1m2 0h2m2 0h4m2 0h1m2 0h2m2 0h1m7 0h1m25 0h1m64 0h1m-190 1h1m1 0h2m2 0h1m2 0h1m1 0h2m1 0h1m2 0h2m3 0h10m1 0h19m1 0h12m1 0h2m1 0h1m2 0h1m1 0h2m3 0h2m2 0h1m2 0h1m8 0h1m-95 1h1m2 0h2m4 0h1m1 0h1m2 0h13m1 0h7m2 0h2m1 0h6m1 0h2m2 0h6m1 0h4m1 0h4m1 0h2m3 0h1m2 0h2m7 0h1m-86 1h1m3 0h1m2 0h2m2 0h2m1 0h1m1 0h10m1 0h21m1 0h7m1 0h1m1 0h5m1 0h4m2 0h3m3 0h1m1 0h1m10 0h1m16 0h1m-103 1h1m1 0h1m3 0h2m1 0h1m1 0h3m1 0h9m1 0h35m1 0h2m2 0h1m1 0h1m2 0h5m2 0h1m3 0h1m-89 1h1m5 0h1m4 0h2m1 0h2m1 0h9m2 0h1m1 0h31m2 0h2m2 0h1m1 0h1m3 0h1m1 0h2m1 0h1m3 0h1m5 0h1m14 0h1m-96 1h5m2 0h6m1 0h1m1 0h12m1 0h25m1 0h1m1 0h1m2 0h4m1 0h1m2 0h1m2 0h1m5 0h2m8 0h1m-96 1h1m5 0h1m3 0h5m1 0h1m1 0h3m1 0h8m1 0h20m1 0h10m1 0h1m1 0h2m3 0h3m1 0h2m3 0h1m2 0h1m3 0h1m-83 1h2m1 0h2m1 0h2m3 0h3m2 0h47m4 0h2m1 0h5m3 0h1m14 0h1m-98 1h1m6 0h3m1 0h1m1 0h6m1 0h3m1 0h1m1 0h28m1 0h2m1 0h5m1 0h2m1 0h8m2 0h1m1 0h2m6 0h1m17 0h1m-105 1h1m5 0h2m2 0h3m1 0h18m1 0h27m1 0h2m2 0h4m1 0h1m2 0h2m1 0h1m2 0h1m8 0h1m4 0h1m-95 1h1m3 0h1m4 0h5m1 0h8m1 0h44m2 0h5m2 0h2m2 0h1m2 0h1m3 0h1m7 0h1m-97 1h2m1 0h1m1 0h1m1 0h1m2 0h1m3 0h49m1 0h6m1 0h3m1 0h2m4 0h2m2 0h1m1 0h1m1 0h1m-90 1h1m1 0h1m1 0h1m5 0h1m1 0h5m1 0h4m2 0h8m2 0h35m1 0h2m1 0h5m1 0h3m3 0h1m3 0h1m7 0h1m-98 1h2m1 0h1m1 0h3m2 0h2m1 0h1m2 0h2m1 0h14m1 0h12m1 0h18m1 0h3m1 0h1m1 0h3m2 0h5m1 0h1m8 0h1m6 0h1m-97 1h2m1 0h3m1 0h2m1 0h2m1 0h9m1 0h40m1 0h1m1 0h9m3 0h2m3 0h1m1 0h1m5 0h1m8 0h2m-103 1h1m3 0h2m1 0h1m1 0h7m1 0h4m1 0h8m1 0h30m1 0h13m1 0h1m1 0h1m2 0h1m2 0h1m6 0h1m-94 1h1m3 0h4m1 0h2m2 0h1m1 0h3m1 0h36m1 0h19m2 0h1m1 0h1m1 0h2m1 0h1m1 0h2m1 0h2m1 0h2m-94 1h2m1 0h1m2 0h2m1 0h6m1 0h2m1 0h58m2 0h1m3 0h1m1 0h1m3 0h1m3 0h2m-95 1h1m1 0h1m1 0h1m1 0h5m1 0h9m1 0h46m1 0h9m1 0h1m1 0h1m1 0h1m2 0h1m1 0h1m2 0h1m-90 1h4m1 0h1m1 0h1m1 0h2m1 0h57m1 0h3m1 0h3m1 0h1m1 0h1m5 0h1m2 0h1m8 0h1m-100 1h2m3 0h2m2 0h62m1 0h1m1 0h3m2 0h3m2 0h1m1 0h2m4 0h1m87 0h1m-182 1h3m2 0h4m1 0h64m1 0h2m2 0h2m2 0h1m2 0h1m4 0h1m33 0h1m-124 1h1m2 0h11m1 0h57m1 0h1m1 0h1m2 0h2m2 0h2m10 0h1m7 0h1m-103 1h2m2 0h4m1 0h2m1 0h58m1 0h3m1 0h1m1 0h1m1 0h1m2 0h1m1 0h1m-84 1h2m1 0h1m1 0h4m1 0h9m1 0h49m1 0h5m1 0h2m3 0h1m11 0h1m-97 1h4m1 0h12m1 0h6m1 0h33m1 0h19m1 0h8m1 0h2m1 0h1m10 0h1m-103 1h1m1 0h1m2 0h68m1 0h2m3 0h2m3 0h1m1 0h1m3 0h2m12 0h1m-105 1h1m2 0h5m1 0h6m1 0h59m2 0h2m1 0h2m1 0h2m2 0h2m2 0h1m1 0h1m-94 1h1m2 0h1m1 0h2m1 0h3m1 0h63m1 0h2m1 0h2m1 0h1m16 0h1m9 0h1m-110 1h1m1 0h21m1 0h52m6 0h2m3 0h3m1 0h2m8 0h1m-102 1h1m1 0h2m1 0h2m1 0h1m1 0h58m1 0h10m1 0h1m2 0h3m2 0h1m3 0h1m2 0h2m23 0h1m-121 1h1m1 0h1m1 0h2m1 0h70m2 0h2m1 0h1m2 0h4m2 0h2m2 0h2m1 0h1m4 0h1m-103 1h1m1 0h1m1 0h58m1 0h8m1 0h6m1 0h1m2 0h1m2 0h1m5 0h1m-93 1h2m1 0h66m1 0h3m1 0h1m1 0h5m2 0h2m9 0h1m-95 1h1m2 0h4m1 0h64m1 0h6m1 0h3m1 0h1m1 0h1m2 0h1m17 0h1m-108 1h1m1 0h72m1 0h1m1 0h4m1 0h2m2 0h1m5 0h1m-93 1h3m1 0h1m1 0h71m1 0h1m6 0h2m3 0h1m1 0h1m4 0h2m-99 1h2m2 0h71m1 0h4m1 0h3m1 0h2m1 0h1m4 0h1m1 0h1m2 0h1m1 0h1m3 0h1m-105 1h4m1 0h2m2 0h62m1 0h2m1 0h4m1 0h4m5 0h2m1 0h1m1 0h1m1 0h1m16 0h1m57 0h1m-172 1h5m1 0h65m1 0h1m1 0h1m1 0h2m1 0h7m4 0h1m6 0h1m20 0h1m-117 1h6m1 0h73m5 0h1m4 0h1m2 0h1m3 0h1m15 0h1m2 0h1m-119 1h72m1 0h3m1 0h1m1 0h1m1 0h5m2 0h1m2 0h1m4 0h1m-97 1h8m1 0h67m1 0h4m1 0h1m1 0h1m1 0h1m8 0h1m33 0h1m-130 1h4m1 0h78m13 0h1m2 0h3m-102 1h1m1 0h66m1 0h17m3 0h2m1 0h2m3 0h1m-98 1h66m1 0h5m1 0h2m1 0h5m1 0h1m2 0h1m2 0h2m3 0h1m5 0h1m-100 1h2m1 0h2m1 0h64m1 0h10m1 0h1m1 0h2m5 0h1m-91 1h6m1 0h70m1 0h3m1 0h2m1 0h2m2 0h1m1 0h2m3 0h1m-98 1h81m1 0h1m3 0h2m1 0h2m9 0h1m-99 1h79m2 0h1m3 0h1m2 0h1m3 0h1m2 0h1m1 0h1m-100 1h4m1 0h71m1 0h1m2 0h4m1 0h2m8 0h1m-94 1h73m1 0h6m1 0h2m4 0h3m2 0h1m14 0h1m-110 1h4m2 0h2m1 0h59m1 0h8m1 0h1m1 0h2m1 0h1m1 0h1m2 0h3m2 0h1m1 0h1m-95 1h1m2 0h69m1 0h7m1 0h2m1 0h1m3 0h1m1 0h1m4 0h2m-97 1h70m1 0h1m1 0h2m1 0h4m1 0h2m2 0h1m1 0h2m-90 1h71m1 0h4m2 0h9m3 0h1m2 0h2m7 0h1m-103 1h80m1 0h2m5 0h3m4 0h1m4 0h1m7 0h1m-109 1h5m2 0h77m1 0h1m1 0h2m2 0h1m3 0h1m19 0h1m-116 1h1m1 0h1m1 0h1m1 0h3m1 0h69m1 0h2m4 0h2m1 0h2m4 0h1m-96 1h2m1 0h2m1 0h74m3 0h3m3 0h2m1 0h1m2 0h1m-96 1h3m2 0h72m2 0h3m1 0h3m4 0h2m2 0h1m-93 1h74m1 0h1m2 0h3m1 0h1m9 0h1m1 0h1m-97 1h2m1 0h77m1 0h2m1 0h2m1 0h1m2 0h1m1 0h1m-93 1h1m1 0h80m1 0h2m7 0h1m9 0h1m-102 1h3m1 0h79m4 0h1m2 0h2m-93 1h1m3 0h84m1 0h1m-89 1h4m1 0h68m1 0h3m1 0h3m1 0h3m11 0h1m1 0h1m19 0h1m-118 1h5m1 0h76m1 0h1m1 0h2m4 0h1m-94 1h73m1 0h1m1 0h4m2 0h3m1 0h2m23 0h1m-111 1h2m1 0h68m1 0h8m1 0h1m1 0h2m4 0h1m1 0h1m3 0h1m-95 1h6m1 0h64m1 0h1m2 0h1m1 0h3m1 0h1m2 0h2m5 0h1m1 0h1m1 0h1m-98 1h3m1 0h1m1 0h69m1 0h3m1 0h2m1 0h1m1 0h5m4 0h1m2 0h2m-98 1h3m2 0h7m1 0h55m1 0h8m1 0h4m1 0h3m1 0h1m9 0h1m-99 1h2m1 0h3m1 0h73m2 0h2m2 0h2m1 0h1m-87 1h11m1 0h46m1 0h8m1 0h2m1 0h4m2 0h1m1 0h2m1 0h2m2 0h2m6 0h1m14 0h1m-113 1h1m1 0h7m1 0h55m1 0h3m1 0h6m1 0h2m1 0h2m1 0h1m1 0h1m2 0h2m-89 1h3m1 0h57m1 0h11m3 0h3m7 0h1m1 0h1m1 0h1m1 0h1m11 0h1m-106 1h4m1 0h1m1 0h1m1 0h64m1 0h1m1 0h7m1 0h1m5 0h2m16 0h1m-108 1h5m1 0h59m1 0h11m1 0h1m2 0h2m1 0h1m3 0h1m1 0h1m1 0h1m-94 1h1m3 0h72m1 0h1m11 0h1m4 0h1m-95 1h2m2 0h3m1 0h3m1 0h61m1 0h4m3 0h2m2 0h1m23 0h1m-110 1h7m1 0h59m1 0h9m2 0h2m6 0h1m6 0h1m-95 1h1m2 0h2m1 0h16m1 0h50m1 0h1m1 0h1m4 0h1m2 0h1m1 0h1m2 0h2m-90 1h2m2 0h1m1 0h4m1 0h59m1 0h4m2 0h1m2 0h2m1 0h3m10 0h1m-98 1h5m2 0h3m2 0h63m2 0h5m2 0h4m3 0h1m2 0h1m18 0h1m-114 1h2m1 0h1m1 0h2m2 0h3m2 0h49m1 0h5m1 0h3m1 0h1m1 0h1m1 0h2m2 0h2m2 0h1m-84 1h56m1 0h13m1 0h1m1 0h1m2 0h1m1 0h1m1 0h2m23 0h1m2 0h1m-111 1h2m2 0h3m1 0h9m1 0h3m1 0h53m1 0h3m5 0h4m-88 1h1m2 0h1m2 0h3m1 0h1m1 0h3m1 0h56m1 0h2m4 0h2m19 0h1m19 0h1m-121 1h1m1 0h2m1 0h8m1 0h46m1 0h10m1 0h3m1 0h1m9 0h1m8 0h1m-95 1h1m4 0h8m1 0h57m1 0h3m1 0h1m4 0h1m3 0h2m-87 1h2m1 0h1m2 0h16m1 0h44m1 0h2m1 0h2m1 0h1m12 0h1m3 0h1m-93 1h1m1 0h3m2 0h2m1 0h3m2 0h53m1 0h2m1 0h1m2 0h2m2 0h1m2 0h2m-85 1h2m2 0h1m3 0h8m1 0h7m2 0h43m1 0h2m1 0h1m2 0h2m1 0h1m9 0h2m201 0h1m-287 1h1m1 0h4m2 0h1m1 0h2m1 0h45m1 0h2m1 0h8m1 0h1m7 0h1m3 0h1m3 0h1m-91 1h1m3 0h2m3 0h3m1 0h13m1 0h37m2 0h2m1 0h2m2 0h3m13 0h1m-91 1h1m1 0h1m1 0h2m1 0h3m1 0h1m1 0h3m1 0h28m1 0h23m1 0h1m1 0h1m2 0h1m10 0h1m-88 1h1m2 0h2m2 0h2m1 0h18m1 0h28m1 0h5m2 0h1m1 0h1m1 0h1m2 0h2m1 0h1m1 0h1m3 0h2m-83 1h1m4 0h3m1 0h3m1 0h2m2 0h43m1 0h7m2 0h1m1 0h1m1 0h1m1 0h2m2 0h2m4 0h1m-84 1h1m2 0h2m2 0h1m1 0h7m1 0h1m1 0h43m4 0h3m1 0h5m8 0h1" stroke="#000" stroke-width="1.7" fill="none" filter="url(#b)"/>
<path transform="translate(347.7 256.95) scale(.5)" d="M42 68h3m-2 1h3m-2 7h3m-3 1h6m6 0h3m-16 1h4m1 0h5m3 0h3m-22 1h3m1 0h5m10 0h4m-18 1h3m12 0h4m-18 1h3m10 0h4m-25 1h3m17 0h4m-34 1h6m5 0h3m10 0h4m1 0h3m4 0h4m-38 1h4m4 0h3m7 0h11m4 0h7m9 0h3m-35 1h11m3 0h9m8 0h4m-34 1h11m1 0h3m2 0h5m8 0h5m-36 1h5m1 0h6m18 0h3m-43 1h3m4 0h7m3 0h4m-26 1h3m1 0h16m2 0h5m-25 1h12m1 0h3m5 0h4m3 0h3m-36 1h3m3 0h10m9 0h6m1 0h4m-35 1h3m1 0h12m1 0h3m1 0h11m-39 1h3m5 0h30m-31 1h32m4 0h3m1 0h3m3 0h3m-45 1h38m-37 1h36m-52 1h3m15 0h32m8 0h3m-61 1h3m16 0h14m4 0h11m4 0h8m-42 1h14m6 0h9m4 0h8m-45 1h3m1 0h15m4 0h8m7 0h6m4 0h3m-57 1h4m7 0h25m9 0h6m2 0h4m-45 1h25m1 0h3m3 0h7m-38 1h27m6 0h4m-55 1h3m5 0h4m6 0h24m1 0h3m6 0h4m-49 1h6m6 0h22m3 0h6m-50 1h3m5 0h5m5 0h24m1 0h4m1 0h3m-51 1h5m3 0h6m1 0h31m3 0h3m-53 1h6m2 0h26m1 0h3m1 0h9m1 0h9m-57 1h4m3 0h9m1 0h15m7 0h17m-50 1h9m3 0h14m2 0h3m1 0h17m-48 1h9m1 0h14m3 0h14m1 0h3m1 0h3m-49 1h25m1 0h14m7 0h6m-51 1h39m7 0h4m-55 1h3m3 0h4m2 0h36m-64 1h3m12 0h5m1 0h4m4 0h38m-53 1h11m3 0h35m-47 1h10m1 0h35m-45 1h5m1 0h40m-47 1h5m3 0h34m1 0h7m-54 1h6m1 0h3m1 0h34m3 0h9m-57 1h5m10 0h31m1 0h6m1 0h3m-62 1h3m1 0h7m1 0h3m6 0h33m-55 1h4m17 0h33m-54 1h3m14 0h38m1 0h3m-46 1h48m-48 1h49m-54 1h3m3 0h43m1 0h4m-55 1h5m1 0h3m1 0h39m3 0h4m-55 1h7m3 0h27m1 0h11m1 0h4m-51 1h5m1 0h27m3 0h16m4 0h3m-56 1h18m1 0h11m2 0h17m-48 1h16m3 0h9m3 0h14m-45 1h17m1 0h8m4 0h5m1 0h8m-54 1h4m7 0h6m1 0h17m6 0h3m5 0h4m-52 1h4m5 0h6m3 0h8m1 0h8m6 0h3m-44 1h6m1 0h7m3 0h8m3 0h11m1 0h6m-45 1h4m3 0h5m3 0h10m1 0h18m6 0h3m-44 1h4m1 0h10m1 0h12m1 0h7m4 0h5m-44 1h13m3 0h10m3 0h13m-43 1h9m1 0h5m1 0h12m1 0h11m-42 1h3m1 0h6m5 0h15m1 0h8m-34 1h6m5 0h9m1 0h3m3 0h6m-43 1h4m8 0h7m1 0h5m1 0h3m7 0h8m-37 1h3m3 0h11m3 0h3m5 0h11m-39 1h4m1 0h13m1 0h7m1 0h11m-32 1h22m1 0h8m-37 1h3m3 0h21m3 0h4m-29 1h4m1 0h3m1 0h14m1 0h3m-29 1h5m7 0h10m1 0h5m4 0h3m-24 1h10m3 0h5m1 0h5m-43 1h7m10 0h13m1 0h11m4 0h3m-50 1h9m3 0h3m5 0h12m7 0h4m-42 1h7m5 0h5m3 0h10m9 0h4m-44 1h9m3 0h7m3 0h6m13 0h3m-42 1h10m1 0h7m1 0h6m9 0h3m-25 1h9m1 0h4m3 0h3m-21 1h4m2 0h3m3 0h4m1 0h6m-10 1h5m7 0h3m-22 1h3m3 0h5m9 0h3m-23 1h12m8 0h7m-22 1h12m4 0h5m-20 1h3m1 0h8m2 0h3m-31 1h3m3 0h4m3 0h3m6 0h5m-28 1h4m9 0h3m8 0h3m-32 1h3m3 0h4m-9 1h3m4 0h3m1 0h3m-13 1h3m4 0h4m1 0h3m25 0h3m-41 1h3m1 0h3m4 0h3m1 0h4m-28 1h3m16 0h8m-10 1h6m1 2h3m3 2h4m-3 1h3m-4 1h4m-7 2h3m-14 1h3m7 0h5m-16 1h3m3 0h11m-19 1h5m6 0h3m-13 1h3m7 1h3m-6 1h8m-6 1h5m-4 1h3m-15 2h4m-3 1h4m1 0h4m7 0h3m-16 1h5m-3 1h4m4 1h4m-6 1h4m-13 1h5m-6 1h6m-5 1h6m-6 1h3m8 0h3m-20 1h4m1 0h3m-8 1h6m-6 1h3m8 1h3m-4 1h4m-12 1h3m10 1h4m-4 2h4m-12 1h4m2 0h4m-9 1h3m6 2h3m-33 1h4m5 0h4m1 0h3m1 0h3m8 0h3m-34 1h5m6 0h3m12 0h3m11 1h3m-29 1h3m8 0h4m10 0h3m-28 1h3m6 0h4m4 0h3m6 0h3m-3 1h3m-4 1h3m-17 1h3m4 0h3m-4 1h3m-4 1h3m-15 1h6m4 0h4m-18 1h3m3 0h6m-13 1h3m8 0h3m1 0h4m-19 1h4m8 0h9m-9 1h3m1 0h5m7 0h4m-26 1h3m8 0h3m5 0h5m-36 1h3m8 0h3m4 0h3m1 0h4m4 0h5m-27 1h5m4 0h8m5 0h5m-31 1h5m1 0h4m2 0h9m6 0h5m-34 1h3m13 0h6m7 0h4m-36 1h5m15 0h4m7 0h4m-36 1h5m5 0h5m5 0h6m5 0h4m-34 1h3m7 0h17m1 0h7m-40 1h3m11 0h4m1 0h23m-29 1h4m3 0h13m1 0h9m-37 1h5m3 0h4m1 0h13m3 0h8m-35 1h4m1 0h20m7 0h4m-47 1h3m9 0h6m1 0h19m-37 1h3m1 0h3m3 0h6m3 0h19m-38 1h6m3 0h8m1 0h27m-43 1h4m2 0h8m2 0h28m3 0h3m-43 1h6m4 0h11m1 0h16m-37 1h6m3 0h10m3 0h16m-45 1h4m4 0h5m2 0h12m1 0h16m9 0h3m-49 1h5m3 0h21m1 0h6m7 0h6m-55 1h3m1 0h8m1 0h21m3 0h6m1 0h10m-52 1h33m1 0h12m1 0h6m-52 1h44m5 0h3m-60 1h6m1 0h46m-54 1h57m-60 1h5m1 0h55m-66 1h3m9 0h54m-55 1h5m1 0h48m-57 1h3m1 0h3m4 0h33m1 0h12m-63 1h4m1 0h3m3 0h3m4 0h31m3 0h12m-63 1h6m3 0h6m1 0h33m1 0h13m-55 1h56m-57 1h7m1 0h50m-62 1h10m3 0h43m1 0h6m-64 1h12m1 0h43m3 0h6m-66 1h53m1 0h4m1 0h3m1 0h3m-69 1h55m3 0h4m-61 1h55m1 0h4m-59 1h60m-61 1h64m-65 1h67m-65 1h62m-61 1h60m-61 1h61m-60 1h61m-69 1h6m1 0h62m-71 1h4m6 0h62m-63 1h59m1 0h7m1 0h4m-76 1h61m10 0h5m-75 1h59m12 0h3m-72 1h58m-57 1h61m1 0h6m-75 1h5m1 0h70m-73 1h71m-70 1h69m-66 1h59m1 0h5m-64 1h57m3 0h3m-64 1h59m-64 1h66m-69 1h69m-70 1h5m2 0h64m1 0h4m-66 1h69m-68 1h67m-68 1h67m-71 1h70m-71 1h70m-71 1h72m-71 1h75m-74 1h76m-76 1h68m1 0h3m1 0h3m-74 1h65m-64 1h64m-69 1h3m1 0h64m-67 1h3m1 0h62m-61 1h62m-63 1h4m1 0h55m1 0h3m-66 1h5m3 0h53m3 0h4m-67 1h5m2 0h46m1 0h7m5 0h4m-68 1h3m3 0h44m6 0h3m-64 1h3m3 0h3m1 0h46m-51 1h51m5 0h3m1 0h3m-63 1h52m1 0h3m1 0h5m-63 1h56m3 0h5m-65 1h3m1 0h54m1 0h6m-60 1h54m1 0h4m-60 1h10m1 0h43m3 0h4m-65 1h3m1 0h9m3 0h43m1 0h3m-58 1h9m1 0h47m-56 1h49m1 0h5m-54 1h44m6 0h3m-59 1h3m2 0h4m1 0h3m1 0h35m6 0h5m-56 1h3m8 0h35m1 0h13m-54 1h3m1 0h38m1 0h10m-65 1h3m7 0h43m3 0h8m-63 1h6m3 0h7m1 0h36m1 0h7m-58 1h3m2 0h7m3 0h42m-51 1h7m2 0h42m-49 1h4m4 0h37m-44 1h4m2 0h3m1 0h33m-44 1h9m3 0h16m1 0h16m-44 1h9m1 0h16m3 0h9m1 0h5m-45 1h9m3 0h16m1 0h9m-34 1h6m1 0h28m-34 1h37m1 0h3" stroke="#000" stroke-width="2.6" fill="none"/>
<path d="M347.7 273.3H391.6M403.6 282.8V327.9H347.7" fill="none" stroke="#000" stroke-width="1.6"/>
<rect x="391.9" y="270.79" width="24" height="10.84" fill="#fff"/>
<text x="393.1" y="280.2" font-size="11.1" fill="#111">13.4</text>
<path d="M347.7 256.7H511.9" fill="none" stroke="#222" stroke-width="1.0"/>
<path d="M347.7 256.2V422" fill="none" stroke="#000" stroke-width="1.5"/>
<path d="M346.95 422H511.9V256.2" fill="none" stroke="#000" stroke-width="1.9"/>
<path d="M347.7 405.5h-4.8M347.7 387.35h-4.8M347.7 347.4h-4.8M347.7 309h-4.8M347.7 271.6h-4.8M346.9 375.32h-2M346.9 368.29h-2M346.9 363.3h-2M346.9 359.43h-2M346.9 356.26h-2M346.9 353.59h-2M346.9 351.27h-2M346.9 349.23h-2M346.9 335.84h-2M346.9 329.08h-2M346.9 324.28h-2M346.9 320.56h-2M346.9 317.52h-2M346.9 314.95h-2M346.9 312.72h-2M346.9 310.76h-2M346.9 297.74h-2M346.9 291.16h-2M346.9 286.48h-2M346.9 282.86h-2M346.9 279.9h-2M346.9 277.39h-2M346.9 275.22h-2M346.9 273.31h-2M346.9 260.34h-2M346.9 417.5h-2M346.9 414h-2M346.9 411h-2M346.9 408.5h-2M346.9 402.5h-2M346.9 400h-2M346.9 397h-2M346.9 393.5h-2M346.9 390.5h-2M364.2 422v6.2M382.35 422v6.2M422.3 422v6.2M460.7 422v6.2M498.1 422v6.2M394.38 422.8v2.6M401.41 422.8v2.6M406.4 422.8v2.6M410.27 422.8v2.6M413.44 422.8v2.6M416.11 422.8v2.6M418.43 422.8v2.6M420.47 422.8v2.6M433.86 422.8v2.6M440.62 422.8v2.6M445.42 422.8v2.6M449.14 422.8v2.6M452.18 422.8v2.6M454.75 422.8v2.6M456.98 422.8v2.6M458.94 422.8v2.6M471.96 422.8v2.6M478.54 422.8v2.6M483.22 422.8v2.6M486.84 422.8v2.6M489.8 422.8v2.6M492.31 422.8v2.6M494.48 422.8v2.6M496.39 422.8v2.6M509.36 422.8v2.6M352.2 422.8v2.6M355.7 422.8v2.6M358.7 422.8v2.6M361.2 422.8v2.6M367.2 422.8v2.6M369.7 422.8v2.6M372.7 422.8v2.6M376.2 422.8v2.6M379.2 422.8v2.6" stroke="#000" stroke-width="1.5" fill="none"/>
<text x="340.2" y="409.5" font-size="11.3" text-anchor="end" fill="#111">0</text>
<text x="364.2" y="441.4" font-size="11.3" text-anchor="middle" fill="#111">0</text>
<text x="323.41" y="391.55" font-size="11.3" fill="#111">10<tspan font-size="8.5" dy="-4.5">2</tspan></text>
<text x="373.87" y="441.4" font-size="11.3" fill="#111">10<tspan font-size="8.5" dy="-4.5">2</tspan></text>
<text x="323.41" y="351.6" font-size="11.3" fill="#111">10<tspan font-size="8.5" dy="-4.5">3</tspan></text>
<text x="413.82" y="441.4" font-size="11.3" fill="#111">10<tspan font-size="8.5" dy="-4.5">3</tspan></text>
<text x="323.41" y="313.2" font-size="11.3" fill="#111">10<tspan font-size="8.5" dy="-4.5">4</tspan></text>
<text x="452.22" y="441.4" font-size="11.3" fill="#111">10<tspan font-size="8.5" dy="-4.5">4</tspan></text>
<text x="323.41" y="275.8" font-size="11.3" fill="#111">10<tspan font-size="8.5" dy="-4.5">5</tspan></text>
<text x="489.62" y="441.4" font-size="11.3" fill="#111">10<tspan font-size="8.5" dy="-4.5">5</tspan></text>
<text x="34.2" y="356.4" font-size="17" text-anchor="middle" transform="rotate(-90 34.2 356.4)" fill="#111">F4/80</text>
<text x="319.3" y="337.7" font-size="11.2" text-anchor="middle" transform="rotate(-90 319.3 337.7)" fill="#111">&lt;PE-Cy7-A&gt;: F480</text>
<path d="M27.6 394V454H88.9" fill="none" stroke="#000" stroke-width="1.7" stroke-linejoin="miter"/>
<path d="M20.8 405L27.6 393.2L34.4 405M78.3 446.7L89.7 454L78.3 461.3" fill="none" stroke="#000" stroke-width="3.0" stroke-linejoin="miter" stroke-linecap="butt"/>
<text x="96.3" y="458.8" font-size="17" fill="#111">CD115</text>
<path d="M160.3 422.5V466.5" stroke="#000" stroke-width="3"/>
<path d="M152.7 465.5L167.9 465.5L160.3 480.8Z" fill="#000"/>
<path d="M438.6 422.5V466.5" stroke="#000" stroke-width="3"/>
<path d="M431 465.5L446.2 465.5L438.6 480.8Z" fill="#000"/>
<path transform="translate(70.7 481.45) scale(.5)" d="M59 2h1m247 2h1m-36 3h1m10 0h1m8 1h1m-19 1h1m37 2h1m-119 1h1m113 0h1m-212 1h1m-26 2h1m57 1h1m146 0h1m34 1h1m-97 3h1m73 1h1m-77 1h1m-106 3h1m19 0h1m1 4h1m55 0h1m-24 1h1m129 0h1m-24 3h1m24 1h1m-113 1h1m-128 1h1m178 0h1m9 1h1m-59 1h1m57 0h1m-97 1h1m59 0h1m-12 1h1m13 0h1m94 0h1m-120 2h1m-70 2h1m45 0h1m118 0h1m-113 1h1m130 0h1m17 1h1m-153 1h1m55 0h1m32 0h1m49 0h1m-162 1h1m20 0h1m32 0h1m4 0h1m100 0h1m-45 1h1m25 0h1m-178 1h1m139 1h1m13 0h1m-146 1h1m119 0h1m22 0h1m4 0h1m-146 1h1m18 0h1m104 0h1m11 0h1m2 1h1m49 0h1m3 0h1m-65 2h1m-127 1h1m124 0h1m50 0h1m8 0h1m-28 1h1m31 0h1m-95 2h1m9 0h1m47 0h1m-233 1h1m126 0h1m43 0h1m76 0h1m-98 2h1m1 0h1m55 0h1m19 0h1m-170 1h1m60 0h1m29 0h1m19 0h1m32 0h1m3 0h1m5 0h1m16 0h1m-51 2h1m71 0h1m11 0h1m4 0h1m-91 1h1m66 0h1m-115 1h1m58 0h1m57 0h1m11 0h1m5 0h1m-86 1h1m31 0h1m61 0h1m-98 1h1m8 0h1m16 0h1m29 0h1m-233 1h1m198 0h1m3 0h1m24 0h1m1 0h1m9 0h1m6 0h1m-102 1h1m-41 1h1m104 1h1m16 0h1m5 0h1m-8 1h1m17 0h1m-22 1h1m-152 1h1m31 0h1m-119 1h1m271 0h1m-186 1h1m43 0h1m30 0h1m-84 1h1m12 0h1m14 0h1m38 0h2m6 0h1m37 0h1m55 0h1m26 0h1m-226 1h1m61 0h1m83 0h1m10 1h1m5 0h1m22 0h1m-97 1h1m64 0h1m-51 1h1m13 0h1m28 0h1m8 0h1m9 0h1m-161 1h1m123 0h1m42 0h1m-184 1h1m124 0h1m2 0h1m7 0h1m14 0h1m92 0h1m-205 1h1m95 0h1m20 0h1m36 0h1m11 0h1m10 0h1m-115 1h1m9 0h1m42 0h1m26 0h1m6 0h1m45 0h1m-103 1h1m25 0h1m-10 1h1m53 0h1m-219 1h1m64 0h1m180 0h1m-207 1h1m57 0h1m56 0h1m28 0h1m-23 1h1m9 0h1m1 0h1m17 0h1m44 0h1m-115 1h1m8 0h1m59 0h1m13 0h1m16 0h1m19 0h1m-211 1h1m167 0h1m12 0h1m19 0h1m4 0h1m-214 1h1m123 0h1m7 0h1m22 0h1m48 0h1m15 0h1m-209 1h1m32 0h1m26 0h1m43 0h1m12 0h1m9 0h1m37 0h1m13 0h1m15 0h1m-126 1h1m47 0h1m36 0h1m-61 1h1m26 0h1m13 0h1m4 0h1m57 0h1m4 0h1m5 0h1m8 0h1m-288 1h1m4 0h1m54 0h1m63 0h1m34 0h1m36 0h1m17 0h1m21 0h1m16 0h1m2 0h1m13 0h2m-134 1h1m35 0h1m13 0h1m45 0h1m29 0h1m23 0h1m-265 1h1m12 0h1m164 0h1m38 0h2m36 0h1m-189 1h1m29 0h1m30 0h1m22 0h1m28 0h1m22 0h1m32 0h1m12 0h1m7 0h1m-116 1h1m7 0h1m5 0h1m7 0h1m13 0h1m47 0h1m5 0h1m14 0h1m3 0h1m-250 1h1m116 0h1m6 0h1m25 0h1m42 0h5m11 0h1m22 0h1m1 0h1m22 0h1m-130 1h1m25 0h1m20 0h1m2 0h1m9 0h1m9 0h1m4 0h1m10 0h1m11 0h1m4 0h1m22 0h1m-233 1h1m54 0h1m67 0h1m20 0h1m3 0h1m2 0h1m52 0h1m16 0h1m3 0h1m-187 1h1m12 0h1m1 0h1m45 0h1m2 0h1m19 0h1m16 0h1m2 0h1m3 0h1m4 0h1m10 0h1m23 0h1m5 0h1m15 0h1m5 0h1m15 0h1m-119 1h1m34 0h1m12 0h1m17 0h1m11 0h1m9 0h1m4 0h1m3 0h1m4 0h1m20 0h1m-279 1h1m109 0h1m5 0h1m13 0h1m29 0h1m20 0h1m5 0h1m17 0h1m8 0h1m21 0h1m6 0h1m-152 1h1m41 0h1m2 0h1m14 0h1m6 0h2m40 0h1m14 0h1m10 0h1m26 0h1m18 0h2m-218 1h1m47 0h1m27 0h1m11 0h1m78 0h1m36 0h1m-247 1h1m36 0h1m6 0h1m85 0h1m9 0h1m1 0h1m10 0h1m43 0h1m5 0h1m9 0h2m13 0h1m1 0h1m22 0h1m-261 1h1m106 0h1m8 0h1m1 0h1m23 0h1m15 0h1m8 0h1m2 0h1m13 0h1m22 0h1m12 0h1m5 0h1m10 0h1m11 0h1m-159 1h1m18 0h1m26 0h1m21 0h1m41 0h1m7 0h1m18 0h1m8 0h1m33 0h1m-194 1h1m11 0h1m7 0h1m14 0h1m41 0h1m8 0h2m27 0h1m25 0h1m1 0h1m10 0h1m12 0h1m3 0h1m-206 1h1m8 0h1m14 0h1m9 0h1m32 0h1m37 0h1m26 0h1m8 0h2m20 0h1m2 0h1m11 0h1m25 0h2m3 0h1m5 0h1m3 0h1m9 0h1m-187 1h1m21 0h1m13 0h1m19 0h1m17 0h1m9 0h1m15 0h1m1 0h2m12 0h2m15 0h1m1 0h1m22 0h1m18 0h1m-166 1h1m24 0h1m5 0h1m36 0h1m16 0h1m13 0h1m35 0h1m7 0h1m-199 1h1m9 0h1m15 0h1m7 0h1m3 0h1m38 0h1m7 0h1m18 0h2m20 0h1m22 0h2m10 0h1m5 0h1m29 0h1m4 0h1m1 0h1m3 0h1m-213 1h1m52 0h1m47 0h1m5 0h1m13 0h1m11 0h1m47 0h1m18 0h1m14 0h1m-236 1h1m30 0h1m73 0h1m21 0h1m3 0h1m20 0h2m7 0h1m26 0h1m9 0h1m3 0h1m4 0h1m23 0h1m4 0h1m9 0h1m6 0h1m-233 1h1m43 0h1m56 0h1m17 0h1m8 0h1m15 0h2m10 0h1m17 0h1m25 0h2m2 0h1m-212 1h1m4 0h1m72 0h1m41 0h1m6 0h2m4 0h1m6 0h1m16 0h1m4 0h1m2 0h1m2 0h1m18 0h1m-225 1h1m108 0h1m4 0h1m5 0h1m12 0h1m2 0h1m13 0h1m13 0h1m2 0h1m16 0h1m12 0h1m3 0h1m1 0h3m5 0h1m1 0h1m5 0h1m10 0h1m-210 1h1m10 0h1m57 0h1m2 0h1m5 0h1m56 0h2m10 0h1m1 0h1m1 0h1m6 0h1m4 0h1m12 0h2m30 0h1m14 0h1m15 0h1m11 0h1m-248 1h1m42 0h1m23 0h1m25 0h1m21 0h1m3 0h1m10 0h1m5 0h1m11 0h1m2 0h2m7 0h1m7 0h2m14 0h1m1 0h1m28 0h1m1 0h1m3 0h1m7 0h2m2 0h1m15 0h2m-251 1h1m36 0h1m3 0h1m18 0h1m17 0h1m15 0h1m6 0h1m1 0h1m16 0h1m11 0h1m15 0h1m4 0h1m1 0h1m3 0h2m17 0h1m48 0h2m21 0h1m-224 1h1m16 0h1m56 0h1m3 0h1m5 0h1m39 0h2m2 0h1m5 0h1m2 0h1m2 0h1m7 0h1m14 0h1m19 0h2m10 0h2m1 0h1m2 0h2m3 0h1m1 0h1m2 0h1m-269 1h1m47 0h1m12 0h1m20 0h1m12 0h1m2 0h1m9 0h1m17 0h1m3 0h1m12 0h1m3 0h2m2 0h1m1 0h2m3 0h1m5 0h2m6 0h2m9 0h1m13 0h1m4 0h1m9 0h1m14 0h1m5 0h1m28 0h1m-215 1h1m38 0h1m6 0h1m9 0h1m16 0h1m3 0h1m6 0h1m6 0h1m5 0h1m2 0h1m11 0h1m9 0h2m12 0h1m3 0h1m6 0h1m28 0h1m9 0h1m5 0h1m12 0h3m9 0h1m4 0h1m9 0h1m-222 1h1m32 0h1m57 0h1m1 0h1m13 0h1m3 0h1m7 0h1m3 0h1m8 0h1m1 0h1m7 0h1m39 0h1m14 0h2m2 0h1m2 0h1m13 0h1m-204 1h1m11 0h1m1 0h1m22 0h1m26 0h1m20 0h1m13 0h1m10 0h1m38 0h1m3 0h1m10 0h1m1 0h1m13 0h1m-94 1h1m30 0h1m13 0h1m2 0h1m2 0h2m1 0h1m17 0h1m7 0h1m5 0h1m1 0h1m11 0h1m-256 1h1m64 0h1m16 0h1m21 0h1m5 0h1m14 0h1m12 0h1m5 0h1m8 0h1m8 0h1m24 0h2m2 0h1m5 0h1m2 0h1m20 0h1m8 0h1m14 0h1m13 0h1m16 0h1m-266 1h1m20 0h1m64 0h1m45 0h1m23 0h1m13 0h1m7 0h1m5 0h1m5 0h1m4 0h1m4 0h1m1 0h1m4 0h1m13 0h1m7 0h1m1 0h1m4 0h1m9 0h2m10 0h1m-279 1h1m28 0h1m13 0h1m27 0h1m71 0h1m30 0h1m19 0h1m3 0h1m2 0h1m3 0h1m3 0h2m2 0h1m8 0h1m2 0h1m2 0h1m8 0h2m1 0h1m4 0h1m4 0h1m12 0h1m18 0h1m-231 1h1m13 0h1m26 0h1m12 0h1m16 0h1m1 0h1m11 0h1m14 0h2m2 0h1m12 0h1m12 0h1m2 0h2m2 0h1m6 0h1m8 0h1m11 0h1m7 0h1m3 0h1m10 0h1m4 0h1m2 0h1m25 0h2m2 0h1m-258 1h1m46 0h1m29 0h1m19 0h1m4 0h1m2 0h1m3 0h1m23 0h1m19 0h1m13 0h1m8 0h1m24 0h1m1 0h1m3 0h1m2 0h1m14 0h1m6 0h1m11 0h1m-257 1h1m11 0h1m13 0h1m24 0h1m15 0h1m32 0h1m3 0h1m9 0h1m10 0h1m4 0h1m1 0h1m17 0h1m10 0h1m1 0h2m10 0h1m21 0h1m20 0h2m9 0h1m4 0h1m5 0h1m3 0h1m11 0h2m6 0h1m6 0h1m1 0h1m-181 1h1m13 0h1m11 0h1m2 0h1m40 0h1m9 0h1m12 0h1m3 0h1m2 0h1m2 0h1m1 0h1m6 0h1m2 0h1m19 0h1m1 0h1m3 0h1m23 0h1m1 0h1m3 0h1m1 0h1m3 0h2m-242 1h1m15 0h1m44 0h1m19 0h1m6 0h1m13 0h1m5 0h1m3 0h1m11 0h1m3 0h1m3 0h1m6 0h1m7 0h1m20 0h1m2 0h1m20 0h1m4 0h2m13 0h1m10 0h1m1 0h4m17 0h1m-213 1h1m6 0h1m15 0h1m17 0h1m2 0h2m3 0h1m1 0h1m16 0h1m6 0h1m18 0h1m3 0h1m7 0h2m2 0h1m9 0h6m11 0h1m2 0h1m2 0h1m6 0h1m1 0h1m2 0h1m1 0h1m43 0h2m4 0h1m-248 1h1m23 0h1m9 0h1m16 0h1m6 0h1m52 0h1m7 0h1m8 0h1m13 0h1m2 0h1m20 0h1m5 0h1m3 0h1m7 0h1m5 0h1m4 0h1m10 0h1m22 0h1m-250 1h1m33 0h1m19 0h1m5 0h1m55 0h1m9 0h1m10 0h1m8 0h1m1 0h1m17 0h1m19 0h1m6 0h3m1 0h1m8 0h1m9 0h1m1 0h3m9 0h1m2 0h1m8 0h1m3 0h1m1 0h1m5 0h1m8 0h1m4 0h1m1 0h1m1 0h1m-244 1h1m4 0h1m11 0h1m47 0h1m11 0h1m14 0h1m7 0h1m5 0h1m3 0h1m9 0h1m11 0h1m1 0h1m7 0h2m10 0h1m1 0h1m8 0h1m8 0h1m5 0h2m2 0h2m18 0h1m4 0h2m8 0h1m3 0h3m-231 1h1m21 0h1m1 0h1m14 0h1m16 0h1m48 0h1m8 0h1m3 0h1m4 0h1m3 0h1m6 0h1m3 0h1m12 0h1m1 0h1m14 0h4m12 0h1m1 0h2m5 0h1m7 0h1m8 0h1m2 0h1m1 0h1m3 0h1m2 0h1m2 0h2m1 0h1m1 0h1m1 0h1m1 0h2m8 0h1m3 0h1m-239 1h1m1 0h1m10 0h1m14 0h1m15 0h1m3 0h1m8 0h1m34 0h1m7 0h2m1 0h1m4 0h1m13 0h1m1 0h2m3 0h1m1 0h1m4 0h3m4 0h1m11 0h1m2 0h1m1 0h2m6 0h1m1 0h1m2 0h1m3 0h1m2 0h1m2 0h1m2 0h1m2 0h1m6 0h1m15 0h1m21 0h1m-222 1h1m13 0h1m8 0h1m2 0h1m1 0h1m2 0h1m4 0h1m10 0h1m17 0h1m11 0h1m5 0h1m2 0h1m15 0h1m16 0h1m6 0h1m17 0h1m8 0h1m2 0h1m4 0h2m4 0h1m8 0h1m10 0h1m1 0h1m12 0h1m4 0h1m4 0h1m2 0h1m-229 1h1m14 0h1m3 0h1m23 0h1m36 0h1m12 0h1m5 0h1m2 0h1m2 0h1m6 0h3m1 0h1m30 0h1m1 0h1m5 0h1m13 0h1m10 0h1m6 0h1m1 0h1m10 0h1m2 0h1m4 0h1m6 0h1m3 0h1m18 0h1m-258 1h1m33 0h1m5 0h1m2 0h1m19 0h1m2 0h1m18 0h1m4 0h1m1 0h1m2 0h1m6 0h2m10 0h1m10 0h1m1 0h1m12 0h1m9 0h1m2 0h1m3 0h1m2 0h1m2 0h2m1 0h1m1 0h1m1 0h1m17 0h1m7 0h1m2 0h3m13 0h1m7 0h1m4 0h1m2 0h1m2 0h1m2 0h3m1 0h1m1 0h1m2 0h1m5 0h2m2 0h2m-264 1h1m30 0h1m8 0h1m11 0h1m14 0h1m5 0h1m13 0h1m33 0h1m3 0h1m3 0h1m5 0h3m2 0h1m8 0h1m3 0h1m15 0h1m1 0h1m13 0h3m2 0h1m18 0h1m3 0h1m3 0h1m5 0h2m7 0h1m1 0h1m4 0h2m8 0h1m11 0h1m-285 1h1m33 0h1m12 0h1m16 0h1m4 0h1m2 0h1m6 0h1m6 0h1m6 0h1m2 0h1m2 0h1m17 0h1m9 0h1m5 0h1m12 0h1m3 0h1m25 0h1m6 0h1m2 0h1m1 0h1m8 0h1m5 0h1m4 0h1m3 0h1m2 0h1m8 0h1m1 0h1m6 0h1m2 0h1m2 0h1m21 0h1m3 0h1m1 0h1m1 0h1m2 0h1m10 0h1m-285 1h1m45 0h1m16 0h1m8 0h1m16 0h1m27 0h1m1 0h1m7 0h1m6 0h1m3 0h1m1 0h1m4 0h1m1 0h2m1 0h1m5 0h2m9 0h1m5 0h1m5 0h1m7 0h1m2 0h1m7 0h1m5 0h1m3 0h1m5 0h1m3 0h1m1 0h1m9 0h3m1 0h1m1 0h1m1 0h1m2 0h1m9 0h1m2 0h1m1 0h1m7 0h1m5 0h2m1 0h1m4 0h1m1 0h1m4 0h2m-237 1h1m3 0h1m3 0h1m2 0h1m14 0h1m29 0h1m11 0h2m7 0h1m16 0h2m7 0h1m2 0h1m14 0h1m4 0h1m3 0h2m7 0h1m3 0h1m6 0h2m4 0h1m4 0h1m6 0h1m6 0h1m9 0h1m1 0h1m1 0h1m3 0h1m5 0h1m2 0h2m4 0h2m2 0h1m8 0h3m2 0h4m1 0h1m4 0h1m-290 1h1m57 0h1m9 0h1m4 0h1m4 0h1m12 0h1m4 0h1m13 0h1m3 0h1m15 0h1m2 0h1m2 0h1m2 0h1m15 0h1m3 0h1m17 0h2m5 0h1m4 0h1m5 0h1m4 0h1m1 0h1m4 0h1m1 0h1m1 0h2m2 0h1m1 0h2m3 0h1m1 0h1m6 0h1m7 0h1m12 0h2m2 0h1m3 0h1m1 0h1m2 0h1m15 0h1m-252 1h1m34 0h1m8 0h1m14 0h1m2 0h1m7 0h1m6 0h1m3 0h1m4 0h1m2 0h1m4 0h1m5 0h1m2 0h1m1 0h2m6 0h1m10 0h1m1 0h1m5 0h1m9 0h1m8 0h1m7 0h1m3 0h2m3 0h1m13 0h1m12 0h1m12 0h2m3 0h1m4 0h2m1 0h1m5 0h4m1 0h1m5 0h1m1 0h1m1 0h1m1 0h1m4 0h1m1 0h1m-267 1h1m42 0h1m10 0h1m40 0h1m5 0h1m15 0h1m3 0h1m2 0h2m8 0h1m1 0h1m8 0h1m12 0h1m2 0h2m1 0h1m9 0h1m2 0h1m5 0h3m1 0h1m2 0h1m6 0h1m1 0h1m6 0h1m5 0h2m5 0h1m9 0h1m4 0h1m1 0h1m4 0h1m1 0h3m1 0h1m5 0h1m3 0h1m3 0h1m7 0h2m-227 1h1m14 0h1m1 0h1m1 0h1m2 0h1m1 0h1m20 0h1m3 0h1m21 0h1m3 0h1m29 0h1m10 0h2m1 0h2m1 0h1m9 0h1m7 0h1m4 0h1m5 0h1m1 0h1m2 0h3m4 0h1m3 0h2m3 0h2m2 0h1m3 0h1m2 0h2m14 0h4m3 0h1m5 0h1m1 0h1m1 0h1m2 0h2m4 0h2m4 0h1m-282 1h1m46 0h2m11 0h1m7 0h1m15 0h1m14 0h1m13 0h2m1 0h1m6 0h2m1 0h1m17 0h1m11 0h1m1 0h1m6 0h1m15 0h1m2 0h1m12 0h1m1 0h1m1 0h2m2 0h1m5 0h1m1 0h1m1 0h1m3 0h1m1 0h1m2 0h1m2 0h1m2 0h3m2 0h2m2 0h1m1 0h1m2 0h1m2 0h1m1 0h1m5 0h1m2 0h1m2 0h1m2 0h1m3 0h1m8 0h1m1 0h1m1 0h1m-222 1h1m3 0h1m28 0h1m2 0h1m5 0h1m4 0h1m22 0h1m1 0h1m11 0h1m2 0h1m12 0h1m1 0h1m7 0h2m2 0h1m3 0h1m9 0h1m4 0h1m5 0h1m7 0h1m1 0h1m4 0h2m5 0h2m2 0h1m2 0h1m1 0h1m5 0h1m1 0h1m1 0h2m1 0h1m2 0h2m4 0h1m4 0h1m-207 1h1m2 0h1m2 0h1m20 0h1m7 0h1m4 0h1m1 0h1m5 0h1m8 0h1m1 0h1m14 0h2m2 0h1m6 0h1m9 0h1m2 0h1m3 0h1m16 0h1m5 0h1m1 0h1m2 0h1m8 0h3m2 0h1m6 0h1m4 0h1m1 0h2m1 0h1m1 0h1m1 0h1m5 0h2m8 0h1m5 0h2m2 0h1m1 0h1m2 0h2m4 0h1m2 0h1m1 0h1m2 0h2m4 0h1m10 0h1m2 0h1m-290 1h1m30 0h1m5 0h1m1 0h1m3 0h1m23 0h1m2 0h1m1 0h1m4 0h2m11 0h1m53 0h1m8 0h1m2 0h2m4 0h2m5 0h1m2 0h1m4 0h1m2 0h1m5 0h1m1 0h1m2 0h1m9 0h1m11 0h4m10 0h1m4 0h1m1 0h1m1 0h4m9 0h2m3 0h1m11 0h1m2 0h1m2 0h1m2 0h1m1 0h1m6 0h1m4 0h1m-241 1h1m38 0h1m12 0h1m4 0h2m7 0h1m10 0h2m15 0h2m2 0h1m6 0h2m1 0h1m5 0h1m1 0h1m1 0h1m27 0h1m1 0h2m2 0h2m2 0h1m2 0h1m2 0h1m3 0h1m6 0h1m2 0h1m1 0h1m1 0h4m3 0h1m7 0h1m2 0h1m7 0h1m3 0h1m10 0h2m2 0h1m1 0h4m2 0h1m2 0h1m2 0h1m-239 1h1m32 0h1m18 0h1m27 0h1m5 0h1m27 0h1m2 0h1m3 0h1m27 0h2m3 0h2m1 0h1m7 0h1m6 0h2m4 0h1m5 0h1m3 0h3m2 0h1m1 0h1m4 0h1m4 0h1m3 0h1m4 0h2m5 0h1m6 0h1m8 0h1m-254 1h1m14 0h1m3 0h1m18 0h1m4 0h1m19 0h1m4 0h1m4 0h1m5 0h2m9 0h1m2 0h1m1 0h1m13 0h2m24 0h1m2 0h2m1 0h3m15 0h1m4 0h1m5 0h2m2 0h2m1 0h1m9 0h1m5 0h2m1 0h2m11 0h1m2 0h1m7 0h1m3 0h2m2 0h1m2 0h1m1 0h2m1 0h2m4 0h1m2 0h1m3 0h1m5 0h1m-268 1h1m2 0h1m41 0h1m1 0h1m3 0h1m15 0h1m17 0h1m1 0h1m5 0h2m28 0h1m5 0h1m7 0h1m1 0h2m2 0h1m6 0h1m6 0h1m2 0h1m13 0h2m1 0h1m11 0h1m3 0h2m1 0h1m2 0h2m1 0h1m3 0h1m1 0h1m1 0h1m1 0h1m2 0h1m1 0h2m2 0h3m1 0h1m1 0h1m1 0h1m3 0h4m5 0h1m2 0h1m13 0h1m4 0h1m-269 1h1m7 0h1m31 0h1m19 0h1m15 0h1m4 0h1m2 0h1m6 0h1m4 0h1m3 0h2m5 0h1m5 0h1m11 0h1m1 0h1m1 0h1m11 0h1m3 0h1m12 0h1m1 0h1m16 0h1m4 0h1m2 0h1m3 0h2m2 0h1m6 0h1m2 0h1m1 0h4m1 0h1m5 0h2m9 0h1m3 0h1m1 0h1m4 0h1m3 0h1m4 0h1m3 0h1m7 0h1m8 0h1m2 0h1m-284 1h1m36 0h1m1 0h2m9 0h1m12 0h1m9 0h2m5 0h1m10 0h1m7 0h1m12 0h1m2 0h1m8 0h1m1 0h1m17 0h1m10 0h1m6 0h1m17 0h1m9 0h2m3 0h1m4 0h1m1 0h2m1 0h1m1 0h1m2 0h1m1 0h1m1 0h2m1 0h1m4 0h2m2 0h2m1 0h3m10 0h2m1 0h1m2 0h2m2 0h3m1 0h1m2 0h1m4 0h2m1 0h2m1 0h1m4 0h1m-253 1h1m15 0h1m3 0h1m1 0h1m6 0h1m21 0h1m18 0h1m12 0h1m8 0h1m6 0h1m18 0h1m3 0h1m11 0h1m1 0h1m14 0h1m4 0h2m1 0h1m10 0h1m1 0h2m3 0h4m2 0h1m2 0h3m2 0h4m1 0h2m2 0h1m2 0h1m4 0h1m4 0h1m2 0h1m1 0h1m1 0h1m2 0h1m1 0h4m1 0h2m7 0h1m5 0h1m5 0h1m1 0h1m4 0h1m-273 1h1m2 0h1m24 0h1m14 0h4m6 0h1m24 0h2m10 0h1m3 0h1m1 0h1m4 0h1m1 0h1m4 0h1m2 0h1m6 0h1m2 0h1m3 0h2m2 0h1m4 0h1m5 0h1m3 0h1m3 0h1m1 0h3m3 0h1m6 0h3m1 0h1m2 0h1m2 0h1m4 0h1m3 0h1m2 0h1m3 0h2m4 0h1m2 0h5m5 0h1m1 0h1m7 0h1m1 0h1m2 0h2m2 0h1m4 0h2m1 0h1m1 0h2m1 0h3m1 0h1m7 0h1m2 0h1m2 0h1m4 0h2m1 0h1m2 0h2m3 0h1m-279 1h1m7 0h1m16 0h2m8 0h2m14 0h1m10 0h1m2 0h1m12 0h1m4 0h1m15 0h1m4 0h2m8 0h1m2 0h1m7 0h1m5 0h2m2 0h5m6 0h3m1 0h1m24 0h1m1 0h1m8 0h2m6 0h1m3 0h1m2 0h1m5 0h1m2 0h1m4 0h2m3 0h3m1 0h2m3 0h1m1 0h1m1 0h2m4 0h1m5 0h1m3 0h1m1 0h3m1 0h1m2 0h1m1 0h1m1 0h1m4 0h2m3 0h1m-278 1h1m14 0h1m6 0h1m29 0h1m2 0h1m9 0h2m1 0h1m10 0h1m5 0h1m19 0h1m15 0h1m1 0h1m1 0h1m1 0h2m4 0h1m4 0h1m8 0h1m4 0h1m8 0h1m4 0h3m5 0h1m5 0h1m1 0h1m3 0h2m1 0h1m1 0h2m1 0h1m2 0h4m1 0h4m1 0h4m2 0h1m3 0h2m3 0h1m3 0h1m2 0h3m2 0h1m8 0h1m2 0h1m2 0h1m3 0h1m2 0h1m2 0h1m2 0h3m1 0h1m1 0h1m1 0h1m9 0h1m2 0h1m-288 1h1m53 0h3m13 0h1m15 0h1m4 0h1m5 0h1m2 0h2m6 0h1m11 0h2m11 0h2m3 0h1m2 0h1m4 0h1m14 0h1m1 0h1m2 0h1m1 0h1m4 0h2m3 0h1m1 0h1m1 0h3m3 0h1m1 0h3m2 0h1m2 0h1m5 0h1m5 0h1m6 0h1m2 0h2m2 0h1m3 0h1m1 0h1m4 0h2m2 0h2m2 0h1m2 0h3m5 0h2m4 0h3m7 0h2m7 0h1m-274 1h1m22 0h1m8 0h1m12 0h1m17 0h1m7 0h1m1 0h1m7 0h1m18 0h1m5 0h2m4 0h1m7 0h1m1 0h1m6 0h1m5 0h1m6 0h1m2 0h1m7 0h1m8 0h2m5 0h1m3 0h1m3 0h1m3 0h1m4 0h1m6 0h2m3 0h2m1 0h1m3 0h1m2 0h1m2 0h2m5 0h2m3 0h2m2 0h2m1 0h1m4 0h1m4 0h1m1 0h1m1 0h2m1 0h1m2 0h4m2 0h1m1 0h1m3 0h1m4 0h1m1 0h1m4 0h2m1 0h1m-285 1h1m34 0h1m5 0h1m3 0h2m3 0h1m1 0h2m1 0h1m4 0h1m3 0h1m21 0h1m27 0h1m3 0h1m1 0h1m15 0h1m8 0h1m1 0h1m5 0h1m3 0h1m7 0h1m3 0h1m3 0h2m3 0h1m1 0h1m6 0h3m1 0h1m1 0h2m6 0h1m4 0h5m5 0h1m6 0h4m2 0h1m4 0h1m1 0h1m1 0h2m1 0h1m1 0h1m1 0h1m3 0h1m1 0h1m1 0h1m1 0h1m4 0h1m1 0h1m1 0h1m5 0h1m1 0h2m5 0h3m2 0h1m2 0h2m-281 1h1m37 0h1m3 0h2m10 0h1m31 0h1m3 0h2m17 0h1m1 0h1m4 0h1m9 0h1m14 0h2m5 0h1m2 0h1m5 0h1m5 0h2m15 0h1m1 0h1m3 0h2m3 0h1m1 0h1m7 0h1m3 0h3m3 0h1m4 0h1m3 0h3m2 0h2m1 0h1m3 0h1m1 0h1m2 0h1m1 0h1m2 0h2m2 0h1m5 0h2m2 0h1m4 0h1m1 0h1m10 0h1m2 0h1m1 0h1m-247 1h1m5 0h1m2 0h1m1 0h1m1 0h2m4 0h1m13 0h1m3 0h1m21 0h1m4 0h1m4 0h1m3 0h1m3 0h1m3 0h1m3 0h1m3 0h1m1 0h1m3 0h1m4 0h1m9 0h3m2 0h1m4 0h2m5 0h1m8 0h1m2 0h2m1 0h1m1 0h1m3 0h1m1 0h2m2 0h2m1 0h1m1 0h1m3 0h8m1 0h2m4 0h1m6 0h2m2 0h1m3 0h1m1 0h1m7 0h5m1 0h2m1 0h1m2 0h1m2 0h1m1 0h2m1 0h1m8 0h1m2 0h1m3 0h1m4 0h1m1 0h1m-249 1h1m1 0h1m6 0h1m11 0h1m2 0h1m4 0h2m6 0h1m4 0h1m15 0h1m5 0h1m2 0h1m3 0h1m15 0h1m1 0h1m10 0h2m1 0h1m4 0h2m2 0h1m2 0h1m4 0h1m2 0h2m4 0h1m1 0h1m3 0h2m2 0h1m4 0h1m1 0h2m7 0h1m9 0h1m10 0h5m1 0h1m7 0h1m2 0h1m2 0h1m1 0h2m1 0h1m3 0h1m3 0h1m3 0h1m3 0h1m4 0h2m2 0h2m3 0h1m3 0h2m1 0h1m1 0h1m3 0h1m-272 1h1m27 0h1m7 0h1m4 0h1m1 0h1m3 0h1m6 0h1m6 0h3m12 0h1m3 0h1m15 0h2m8 0h1m13 0h1m8 0h1m1 0h1m8 0h1m3 0h1m1 0h2m2 0h1m7 0h2m4 0h1m4 0h1m2 0h1m3 0h5m3 0h3m1 0h1m6 0h1m2 0h1m1 0h2m5 0h1m8 0h2m4 0h1m1 0h2m2 0h4m1 0h1m3 0h1m2 0h2m2 0h1m3 0h1m2 0h3m2 0h1m6 0h2m2 0h3m4 0h2m-258 1h1m13 0h1m3 0h1m3 0h1m9 0h1m12 0h1m5 0h1m7 0h1m3 0h1m15 0h1m3 0h1m8 0h2m1 0h1m1 0h1m2 0h2m2 0h2m6 0h1m2 0h1m1 0h1m1 0h2m1 0h1m1 0h1m4 0h1m1 0h2m3 0h1m1 0h1m1 0h1m5 0h1m6 0h1m4 0h4m4 0h1m4 0h1m2 0h2m9 0h1m2 0h1m2 0h1m1 0h2m1 0h1m2 0h1m1 0h1m2 0h1m4 0h1m2 0h1m5 0h1m2 0h1m1 0h1m1 0h2m1 0h1m5 0h1m3 0h1m1 0h2m2 0h3m1 0h3m1 0h1m2 0h1m1 0h1m-262 1h1m11 0h1m23 0h1m17 0h1m9 0h1m1 0h1m15 0h1m3 0h1m2 0h1m7 0h2m2 0h1m17 0h4m5 0h2m1 0h2m1 0h2m2 0h2m2 0h1m6 0h1m1 0h1m1 0h1m1 0h1m2 0h1m3 0h1m1 0h1m1 0h1m2 0h2m1 0h1m1 0h2m5 0h1m2 0h1m2 0h1m1 0h2m1 0h3m2 0h1m7 0h1m1 0h1m2 0h1m1 0h1m1 0h2m2 0h1m2 0h1m1 0h3m5 0h1m2 0h1m3 0h4m2 0h1m5 0h3m-278 1h1m21 0h1m24 0h1m4 0h1m2 0h2m4 0h1m1 0h1m3 0h2m3 0h1m23 0h2m1 0h1m20 0h1m1 0h1m3 0h1m13 0h1m6 0h2m9 0h1m1 0h1m1 0h1m8 0h1m1 0h1m1 0h1m1 0h2m1 0h1m1 0h1m2 0h1m2 0h1m4 0h3m8 0h1m1 0h4m2 0h1m1 0h1m3 0h1m1 0h1m1 0h1m1 0h1m1 0h2m1 0h2m2 0h2m4 0h2m2 0h1m1 0h3m1 0h1m3 0h1m1 0h1m1 0h1m4 0h3m2 0h2m2 0h1m8 0h1m-249 1h1m8 0h1m1 0h1m3 0h1m1 0h2m4 0h1m2 0h1m6 0h1m3 0h1m2 0h2m2 0h1m5 0h1m5 0h2m2 0h1m1 0h1m15 0h1m3 0h1m19 0h1m1 0h2m1 0h1m2 0h1m6 0h1m4 0h1m1 0h1m5 0h1m5 0h1m2 0h3m1 0h1m2 0h3m4 0h2m2 0h2m1 0h1m2 0h2m2 0h1m2 0h6m5 0h1m5 0h1m7 0h2m1 0h1m1 0h6m1 0h3m2 0h2m1 0h1m2 0h3m1 0h1m6 0h1m1 0h1m1 0h1m6 0h1m3 0h1m4 0h1m5 0h1m-268 1h1m20 0h1m10 0h1m2 0h3m6 0h2m1 0h1m17 0h2m23 0h1m11 0h1m4 0h1m10 0h2m6 0h1m4 0h1m7 0h2m7 0h1m1 0h1m1 0h1m7 0h2m2 0h1m2 0h3m4 0h3m1 0h1m1 0h1m3 0h1m2 0h2m2 0h2m1 0h1m3 0h5m3 0h2m1 0h1m2 0h3m2 0h5m1 0h1m2 0h4m1 0h2m1 0h1m4 0h2m1 0h1m1 0h1m1 0h1m2 0h4m1 0h1m1 0h1m2 0h1m-261 1h1m24 0h1m1 0h1m7 0h1m1 0h1m24 0h1m20 0h1m1 0h1m3 0h1m14 0h2m4 0h1m2 0h2m4 0h1m6 0h3m2 0h1m5 0h1m1 0h1m2 0h2m4 0h1m3 0h2m2 0h1m2 0h1m2 0h2m1 0h2m2 0h4m1 0h2m1 0h1m1 0h2m2 0h1m2 0h1m1 0h1m1 0h1m3 0h2m2 0h2m1 0h2m3 0h1m1 0h2m3 0h2m1 0h2m1 0h2m3 0h1m4 0h1m1 0h4m2 0h1m1 0h1m4 0h1m2 0h1m3 0h2m1 0h3m1 0h1m2 0h1m2 0h1m-257 1h1m5 0h1m12 0h2m3 0h1m6 0h1m13 0h2m4 0h2m2 0h1m1 0h1m1 0h1m7 0h1m12 0h1m1 0h1m1 0h1m8 0h1m1 0h1m2 0h1m1 0h1m2 0h1m1 0h1m2 0h1m3 0h1m2 0h2m1 0h3m11 0h1m4 0h2m2 0h1m2 0h1m5 0h1m1 0h1m4 0h1m1 0h1m1 0h1m3 0h2m4 0h1m4 0h1m1 0h1m2 0h1m1 0h1m2 0h6m3 0h1m4 0h2m1 0h1m2 0h1m1 0h4m1 0h1m1 0h4m1 0h1m4 0h2m5 0h3m1 0h1m1 0h1m2 0h2m7 0h1m6 0h1m1 0h1m-274 1h1m14 0h1m13 0h1m1 0h1m1 0h1m4 0h1m1 0h1m1 0h1m4 0h1m2 0h1m1 0h1m4 0h1m3 0h1m4 0h1m4 0h1m1 0h1m3 0h1m4 0h1m18 0h1m21 0h1m2 0h1m6 0h1m5 0h2m2 0h1m5 0h1m1 0h1m2 0h1m1 0h2m1 0h1m1 0h2m1 0h2m1 0h4m1 0h1m2 0h2m4 0h1m1 0h5m1 0h1m2 0h5m3 0h2m2 0h1m1 0h1m2 0h1m2 0h1m2 0h1m2 0h1m2 0h1m1 0h2m1 0h4m3 0h1m1 0h1m1 0h2m3 0h1m3 0h1m1 0h1m2 0h1m4 0h5m1 0h2m1 0h1m2 0h1m-278 1h1m4 0h1m17 0h1m3 0h1m17 0h1m1 0h1m3 0h1m2 0h2m13 0h1m23 0h1m2 0h1m9 0h1m10 0h1m4 0h1m5 0h1m2 0h1m4 0h1m5 0h2m5 0h3m2 0h1m9 0h1m1 0h1m1 0h1m2 0h1m4 0h1m3 0h1m3 0h2m1 0h1m1 0h1m3 0h1m2 0h4m1 0h1m2 0h5m3 0h4m3 0h5m7 0h2m5 0h2m1 0h1m1 0h1m2 0h1m4 0h1m5 0h2m1 0h1m1 0h2m8 0h1m6 0h1m3 0h1m-285 1h1m2 0h1m25 0h1m1 0h1m7 0h1m1 0h1m5 0h3m1 0h1m1 0h1m2 0h2m1 0h1m1 0h2m8 0h1m24 0h1m1 0h1m2 0h1m5 0h1m12 0h1m6 0h1m6 0h2m5 0h1m1 0h2m1 0h2m1 0h1m6 0h1m2 0h1m1 0h1m2 0h5m2 0h2m2 0h1m3 0h2m1 0h1m1 0h2m3 0h3m1 0h1m1 0h1m3 0h3m1 0h2m3 0h1m4 0h1m3 0h1m1 0h1m1 0h1m2 0h2m1 0h1m2 0h1m2 0h2m1 0h1m2 0h2m1 0h1m1 0h2m1 0h1m4 0h1m3 0h1m2 0h2m3 0h1m1 0h1m2 0h2m4 0h2m-251 1h1m1 0h1m8 0h1m2 0h1m3 0h1m2 0h1m1 0h1m3 0h4m1 0h1m4 0h1m7 0h1m9 0h1m8 0h1m4 0h1m7 0h1m9 0h1m2 0h1m1 0h1m7 0h1m1 0h1m1 0h1m1 0h1m1 0h1m1 0h1m4 0h3m4 0h1m1 0h5m1 0h1m5 0h1m2 0h1m7 0h1m1 0h2m5 0h1m3 0h3m2 0h3m1 0h1m1 0h2m1 0h3m3 0h2m1 0h2m1 0h3m1 0h4m4 0h1m2 0h3m3 0h3m4 0h1m2 0h2m1 0h1m1 0h1m2 0h1m6 0h2m1 0h1m3 0h1m5 0h1m1 0h3m4 0h1m-281 1h1m23 0h1m11 0h1m1 0h2m4 0h1m10 0h1m1 0h2m5 0h3m11 0h1m2 0h1m3 0h1m7 0h1m2 0h1m12 0h1m5 0h1m3 0h1m2 0h2m1 0h2m2 0h1m2 0h2m3 0h1m1 0h2m1 0h1m1 0h1m1 0h1m2 0h1m5 0h4m2 0h2m1 0h1m1 0h3m1 0h1m1 0h1m1 0h3m4 0h1m1 0h3m3 0h2m1 0h1m1 0h6m1 0h1m1 0h3m1 0h4m1 0h1m1 0h2m1 0h1m4 0h1m1 0h2m2 0h1m2 0h3m2 0h1m1 0h2m4 0h1m1 0h3m1 0h1m5 0h2m11 0h1m1 0h1m6 0h1m4 0h2m-295 1h1m25 0h1m15 0h1m5 0h1m9 0h1m1 0h1m3 0h1m1 0h1m1 0h1m3 0h3m10 0h1m4 0h1m4 0h2m8 0h1m6 0h2m1 0h1m4 0h2m2 0h1m2 0h2m1 0h1m1 0h1m12 0h1m1 0h2m1 0h1m1 0h1m1 0h2m1 0h1m2 0h2m1 0h1m4 0h4m4 0h1m2 0h6m1 0h1m2 0h3m2 0h3m1 0h1m1 0h1m1 0h1m2 0h1m1 0h2m1 0h2m1 0h1m3 0h2m1 0h4m1 0h1m4 0h2m1 0h3m2 0h1m1 0h2m3 0h1m1 0h2m1 0h3m2 0h1m2 0h1m4 0h1m5 0h1m1 0h2m1 0h1m6 0h1m1 0h2m1 0h1m2 0h1m4 0h1m-265 1h1m3 0h1m3 0h1m1 0h3m1 0h1m2 0h1m5 0h3m1 0h2m4 0h1m3 0h1m1 0h1m2 0h2m2 0h3m1 0h2m2 0h2m3 0h1m14 0h1m2 0h2m17 0h3m2 0h2m5 0h3m1 0h1m3 0h2m3 0h1m1 0h4m2 0h1m3 0h1m3 0h3m1 0h3m2 0h4m1 0h1m2 0h2m5 0h3m1 0h1m1 0h1m2 0h3m3 0h1m3 0h1m1 0h1m2 0h1m2 0h7m1 0h3m1 0h2m2 0h1m2 0h2m1 0h2m2 0h1m2 0h2m2 0h3m1 0h1m1 0h1m1 0h1m1 0h2m3 0h3m3 0h2m1 0h1m1 0h2m13 0h2m-283 1h1m21 0h1m3 0h1m6 0h1m1 0h1m2 0h1m2 0h5m3 0h4m4 0h4m5 0h2m2 0h1m2 0h1m2 0h1m6 0h1m6 0h1m2 0h1m8 0h1m1 0h1m5 0h1m5 0h1m6 0h1m4 0h2m1 0h2m2 0h1m2 0h2m1 0h1m8 0h2m7 0h1m2 0h1m1 0h4m1 0h1m1 0h2m1 0h1m1 0h1m1 0h2m2 0h1m1 0h1m2 0h1m1 0h6m3 0h3m2 0h1m2 0h2m1 0h1m1 0h2m1 0h1m1 0h2m1 0h1m1 0h3m1 0h2m1 0h1m1 0h3m3 0h5m1 0h2m2 0h1m1 0h3m4 0h2m1 0h3m4 0h1m3 0h2m1 0h1m1 0h1m1 0h2m1 0h1m-263 1h1m8 0h1m4 0h2m1 0h3m1 0h1m1 0h3m2 0h2m5 0h1m1 0h1m6 0h2m12 0h1m26 0h1m2 0h1m2 0h1m9 0h1m2 0h1m1 0h3m3 0h1m4 0h3m3 0h1m1 0h3m1 0h1m1 0h2m1 0h1m4 0h1m2 0h2m2 0h3m1 0h1m1 0h1m1 0h3m1 0h2m1 0h3m5 0h1m2 0h3m4 0h1m1 0h2m1 0h1m1 0h3m3 0h1m1 0h1m1 0h5m2 0h2m2 0h2m2 0h4m2 0h1m1 0h1m2 0h2m4 0h1m1 0h2m5 0h3m5 0h1m1 0h1m3 0h2m3 0h2m2 0h1m-282 1h1m14 0h1m24 0h6m3 0h1m2 0h2m1 0h1m2 0h1m1 0h1m1 0h1m1 0h1m1 0h1m1 0h2m1 0h1m17 0h1m7 0h2m2 0h1m9 0h1m2 0h3m1 0h1m6 0h1m1 0h1m3 0h3m4 0h2m3 0h1m7 0h5m3 0h1m3 0h1m1 0h3m1 0h1m1 0h1m1 0h6m1 0h1m1 0h1m3 0h3m3 0h1m1 0h1m1 0h8m1 0h1m2 0h2m1 0h6m3 0h4m1 0h2m2 0h4m2 0h1m5 0h1m1 0h1m1 0h2m2 0h1m3 0h5m2 0h2m2 0h1m1 0h1m2 0h1m1 0h1m4 0h1m2 0h1m2 0h2m1 0h1m-260 1h1m3 0h1m4 0h1m1 0h1m3 0h2m5 0h3m2 0h2m1 0h1m3 0h1m1 0h1m3 0h1m12 0h1m7 0h1m1 0h1m11 0h1m6 0h1m4 0h1m1 0h1m3 0h1m2 0h2m4 0h1m1 0h2m2 0h1m1 0h2m1 0h2m1 0h1m2 0h1m4 0h1m3 0h1m2 0h7m1 0h1m1 0h1m4 0h1m1 0h2m1 0h3m2 0h1m1 0h2m2 0h3m4 0h2m1 0h1m1 0h1m1 0h1m1 0h2m1 0h1m1 0h3m1 0h1m1 0h1m1 0h6m2 0h4m2 0h2m1 0h3m3 0h2m1 0h1m1 0h4m1 0h2m1 0h1m1 0h1m3 0h1m1 0h1m1 0h2m1 0h1m1 0h1m7 0h1m5 0h1m-266 1h1m13 0h1m1 0h1m4 0h1m3 0h1m1 0h4m5 0h4m1 0h3m1 0h1m1 0h1m14 0h1m4 0h1m2 0h1m1 0h1m3 0h1m4 0h2m10 0h2m4 0h1m7 0h3m2 0h2m1 0h1m3 0h1m1 0h1m1 0h2m2 0h3m3 0h1m1 0h1m3 0h1m1 0h3m1 0h1m3 0h3m2 0h7m2 0h1m3 0h2m1 0h3m1 0h2m2 0h3m1 0h3m1 0h1m1 0h3m1 0h5m2 0h1m1 0h1m2 0h3m3 0h2m1 0h1m6 0h3m1 0h1m2 0h1m2 0h3m2 0h1m5 0h1m1 0h2m2 0h1m10 0h2m2 0h1m3 0h1m-289 1h1m36 0h1m3 0h6m2 0h1m1 0h3m1 0h1m1 0h1m5 0h3m3 0h2m10 0h1m7 0h1m4 0h1m2 0h1m2 0h1m1 0h1m6 0h1m2 0h3m1 0h2m4 0h1m4 0h1m1 0h2m1 0h1m3 0h1m6 0h4m6 0h1m3 0h1m2 0h1m1 0h1m2 0h2m2 0h7m5 0h1m1 0h6m1 0h5m1 0h2m1 0h1m1 0h7m1 0h2m1 0h4m1 0h2m1 0h2m2 0h1m1 0h8m1 0h1m1 0h7m2 0h1m1 0h2m2 0h5m1 0h1m1 0h1m2 0h1m2 0h2m2 0h1m3 0h1m3 0h1m3 0h1m7 0h1m-288 1h1m12 0h1m8 0h1m9 0h1m2 0h1m4 0h3m2 0h3m3 0h3m2 0h2m1 0h1m8 0h1m5 0h1m2 0h1m3 0h2m2 0h1m11 0h1m8 0h1m2 0h1m1 0h1m15 0h4m1 0h2m1 0h2m1 0h1m2 0h2m1 0h2m1 0h1m3 0h3m2 0h1m2 0h1m4 0h3m3 0h2m1 0h2m2 0h9m1 0h2m2 0h2m4 0h2m5 0h1m1 0h1m1 0h1m1 0h2m1 0h13m3 0h1m3 0h1m3 0h2m1 0h3m2 0h1m1 0h1m3 0h1m1 0h1m3 0h5m3 0h2m2 0h1m2 0h1m2 0h1m6 0h1m2 0h2m-258 1h1m1 0h1m2 0h1m3 0h1m1 0h2m1 0h3m1 0h2m2 0h1m1 0h6m1 0h1m1 0h2m1 0h1m4 0h1m4 0h1m1 0h1m1 0h1m1 0h1m2 0h1m11 0h1m4 0h1m5 0h1m3 0h2m7 0h1m1 0h4m3 0h3m3 0h2m2 0h1m1 0h1m1 0h1m2 0h1m2 0h1m1 0h2m2 0h2m2 0h1m1 0h3m1 0h2m4 0h3m2 0h3m1 0h2m2 0h1m1 0h2m2 0h8m1 0h5m2 0h2m1 0h4m3 0h1m1 0h1m1 0h1m1 0h1m2 0h8m4 0h4m2 0h1m1 0h1m1 0h1m5 0h1m2 0h1m1 0h1m1 0h1m1 0h2m11 0h1m2 0h1m8 0h1m-265 1h1m8 0h1m4 0h1m3 0h3m2 0h6m1 0h3m1 0h1m2 0h3m1 0h1m1 0h2m5 0h1m2 0h1m4 0h1m8 0h1m9 0h1m3 0h2m9 0h2m3 0h1m1 0h1m1 0h1m3 0h1m2 0h1m1 0h1m1 0h2m2 0h3m3 0h2m2 0h5m3 0h1m1 0h2m1 0h1m1 0h1m2 0h7m3 0h3m2 0h3m1 0h2m1 0h2m4 0h2m2 0h1m1 0h2m1 0h5m2 0h3m1 0h2m1 0h1m2 0h1m1 0h1m1 0h1m1 0h2m1 0h1m1 0h3m1 0h4m2 0h2m1 0h2m3 0h1m1 0h1m2 0h2m7 0h2m1 0h1m8 0h1m-266 1h1m10 0h1m4 0h1m6 0h2m2 0h2m2 0h2m1 0h2m1 0h2m2 0h2m1 0h6m3 0h2m1 0h2m2 0h1m8 0h1m2 0h1m6 0h1m3 0h2m9 0h3m1 0h1m3 0h2m9 0h3m1 0h2m1 0h1m1 0h3m2 0h1m1 0h1m2 0h1m1 0h1m3 0h5m1 0h2m3 0h1m3 0h1m1 0h2m1 0h2m1 0h2m4 0h3m2 0h13m1 0h3m1 0h3m1 0h4m1 0h2m1 0h2m1 0h1m1 0h5m1 0h3m2 0h1m1 0h1m1 0h1m1 0h1m1 0h3m1 0h1m2 0h1m1 0h2m4 0h2m1 0h1m1 0h1m2 0h1m8 0h3m4 0h1m2 0h1m7 0h1m-263 1h1m4 0h2m3 0h1m1 0h1m2 0h8m1 0h1m1 0h1m2 0h1m1 0h1m2 0h5m3 0h2m1 0h1m2 0h2m6 0h1m1 0h2m3 0h1m3 0h1m6 0h2m2 0h1m4 0h1m4 0h1m8 0h1m2 0h1m1 0h1m3 0h2m2 0h1m1 0h3m2 0h1m1 0h1m1 0h7m1 0h8m1 0h1m3 0h3m2 0h3m1 0h2m1 0h1m1 0h2m1 0h4m1 0h3m3 0h6m1 0h7m3 0h1m2 0h2m2 0h1m2 0h2m1 0h1m1 0h1m1 0h1m1 0h1m1 0h4m1 0h3m1 0h2m3 0h2m2 0h1m2 0h1m1 0h2m1 0h1m3 0h1m1 0h1m3 0h1m1 0h1m7 0h1m2 0h1m3 0h1m-263 1h1m6 0h1m1 0h1m2 0h3m2 0h1m1 0h1m2 0h1m1 0h4m2 0h2m1 0h2m4 0h1m3 0h2m5 0h1m1 0h1m5 0h1m1 0h1m4 0h2m1 0h1m3 0h1m9 0h1m5 0h1m1 0h1m4 0h1m1 0h1m2 0h1m1 0h3m1 0h1m1 0h1m2 0h1m2 0h3m2 0h1m1 0h1m1 0h1m1 0h1m2 0h2m2 0h6m1 0h1m1 0h1m3 0h1m2 0h2m1 0h2m1 0h1m1 0h1m1 0h3m1 0h3m1 0h6m1 0h1m2 0h1m1 0h3m1 0h1m1 0h1m2 0h1m1 0h4m2 0h1m5 0h1m1 0h4m3 0h1m2 0h1m2 0h2m4 0h1m2 0h1m1 0h1m9 0h2m7 0h2m9 0h1m-275 1h1m3 0h1m13 0h1m1 0h1m3 0h1m3 0h1m1 0h1m4 0h5m1 0h3m1 0h1m4 0h2m2 0h2m5 0h1m1 0h1m5 0h1m12 0h1m2 0h1m6 0h1m4 0h1m5 0h1m3 0h1m1 0h1m1 0h1m1 0h2m1 0h1m2 0h1m1 0h3m2 0h2m1 0h1m1 0h6m2 0h1m3 0h1m2 0h1m1 0h1m2 0h3m1 0h2m1 0h5m1 0h2m1 0h2m2 0h1m1 0h2m1 0h2m2 0h2m1 0h1m2 0h1m1 0h1m1 0h3m1 0h2m3 0h3m2 0h1m1 0h2m1 0h1m3 0h1m1 0h3m6 0h1m1 0h2m2 0h1m1 0h3m1 0h1m1 0h5m2 0h1m1 0h4m1 0h1m2 0h2m1 0h1m2 0h2m5 0h1m1 0h1m1 0h1m-256 1h1m4 0h1m9 0h1m2 0h3m1 0h2m2 0h2m1 0h3m1 0h1m3 0h1m1 0h1m5 0h1m2 0h2m17 0h1m2 0h1m2 0h2m4 0h2m1 0h1m1 0h1m2 0h3m2 0h1m2 0h1m1 0h1m2 0h2m1 0h2m3 0h2m2 0h4m2 0h1m1 0h1m1 0h1m2 0h2m3 0h1m1 0h1m2 0h2m3 0h10m2 0h2m2 0h2m1 0h1m2 0h5m3 0h3m4 0h4m3 0h4m1 0h6m1 0h2m3 0h2m1 0h3m3 0h4m2 0h2m6 0h1m1 0h1m1 0h5m1 0h1m1 0h2m1 0h1m5 0h1m1 0h2m2 0h1m9 0h1m-282 1h1m14 0h2m4 0h1m7 0h2m1 0h2m2 0h2m2 0h3m1 0h2m1 0h1m1 0h2m2 0h2m2 0h1m5 0h1m6 0h1m3 0h1m8 0h1m4 0h1m3 0h2m4 0h1m1 0h1m2 0h1m1 0h1m5 0h1m3 0h4m2 0h1m1 0h2m3 0h4m2 0h2m1 0h1m2 0h1m1 0h2m1 0h2m1 0h7m2 0h1m1 0h2m1 0h2m2 0h3m1 0h1m1 0h1m2 0h2m1 0h2m1 0h3m1 0h3m2 0h7m1 0h3m2 0h1m1 0h1m1 0h4m2 0h2m1 0h2m3 0h2m2 0h1m9 0h1m3 0h2m3 0h1m2 0h1m1 0h1m1 0h1m2 0h1m2 0h1m2 0h2m5 0h1m1 0h1m3 0h1m2 0h1m-265 1h1m3 0h1m6 0h2m3 0h1m1 0h2m3 0h6m1 0h2m1 0h1m1 0h3m2 0h3m1 0h3m1 0h1m3 0h1m4 0h1m13 0h1m6 0h1m3 0h1m1 0h1m1 0h5m2 0h1m6 0h1m1 0h3m1 0h2m1 0h1m4 0h1m2 0h1m1 0h1m2 0h2m3 0h3m1 0h6m1 0h19m1 0h1m1 0h2m3 0h2m2 0h3m1 0h3m1 0h1m1 0h2m1 0h11m6 0h1m1 0h4m1 0h1m3 0h2m1 0h1m1 0h1m1 0h1m1 0h2m1 0h1m1 0h3m2 0h4m1 0h2m11 0h1m2 0h1m3 0h1m-256 1h1m3 0h1m7 0h1m2 0h1m4 0h1m3 0h2m3 0h5m1 0h1m4 0h3m1 0h2m2 0h1m2 0h2m8 0h1m4 0h1m4 0h1m8 0h2m2 0h1m3 0h1m2 0h1m6 0h3m1 0h1m7 0h3m2 0h2m1 0h1m2 0h2m2 0h1m1 0h10m1 0h1m1 0h8m1 0h1m1 0h2m2 0h8m1 0h1m2 0h1m2 0h2m1 0h5m1 0h8m3 0h2m2 0h2m2 0h5m3 0h4m1 0h2m1 0h1m7 0h4m2 0h1m1 0h1m3 0h1m3 0h1m9 0h1m13 0h1m-278 1h1m13 0h1m6 0h1m1 0h2m5 0h1m1 0h1m3 0h4m1 0h7m2 0h7m1 0h5m1 0h2m6 0h1m4 0h1m3 0h1m4 0h2m1 0h1m2 0h1m6 0h1m6 0h1m3 0h1m6 0h2m8 0h2m1 0h2m3 0h4m1 0h2m1 0h4m2 0h2m2 0h5m1 0h11m1 0h12m1 0h5m1 0h1m1 0h2m1 0h1m1 0h1m1 0h4m1 0h1m2 0h3m1 0h1m1 0h3m1 0h2m1 0h2m1 0h4m3 0h4m1 0h2m1 0h1m1 0h2m1 0h1m3 0h2m1 0h3m4 0h1m1 0h1m2 0h1m1 0h2m4 0h1m-251 1h1m2 0h1m8 0h2m1 0h2m1 0h5m1 0h1m3 0h2m1 0h2m1 0h5m1 0h1m5 0h1m1 0h1m5 0h1m1 0h1m10 0h1m4 0h2m1 0h1m4 0h1m3 0h2m2 0h4m2 0h1m1 0h2m2 0h1m1 0h1m3 0h1m2 0h1m1 0h3m1 0h6m5 0h2m2 0h16m1 0h4m2 0h5m1 0h2m2 0h6m1 0h2m2 0h4m1 0h1m1 0h3m1 0h1m1 0h3m3 0h4m2 0h3m1 0h2m3 0h1m2 0h10m1 0h3m2 0h1m4 0h1m3 0h1m1 0h2m2 0h1m2 0h1m-239 1h1m3 0h3m1 0h1m2 0h5m1 0h10m2 0h1m2 0h2m1 0h3m2 0h1m2 0h1m2 0h1m2 0h1m2 0h2m4 0h2m2 0h1m2 0h1m1 0h5m3 0h1m5 0h2m2 0h1m3 0h2m2 0h1m1 0h2m1 0h3m2 0h1m1 0h1m1 0h1m1 0h3m1 0h2m1 0h1m1 0h2m3 0h1m2 0h1m1 0h1m1 0h8m1 0h4m1 0h1m1 0h1m2 0h1m1 0h2m1 0h2m2 0h2m1 0h2m2 0h1m2 0h1m1 0h4m1 0h1m1 0h1m2 0h1m3 0h3m1 0h2m1 0h4m1 0h7m1 0h1m2 0h2m2 0h3m2 0h1m1 0h1m4 0h1m5 0h1m1 0h1m2 0h3m-252 1h1m7 0h1m6 0h1m1 0h1m2 0h1m1 0h1m1 0h1m1 0h1m2 0h1m4 0h2m2 0h2m1 0h8m3 0h2m2 0h1m2 0h2m1 0h1m9 0h1m1 0h1m1 0h1m3 0h2m2 0h3m1 0h1m1 0h5m2 0h1m8 0h3m2 0h4m1 0h1m1 0h1m1 0h4m1 0h3m1 0h8m1 0h3m1 0h1m1 0h2m1 0h2m1 0h1m1 0h2m2 0h1m2 0h2m1 0h1m1 0h1m1 0h2m2 0h2m1 0h10m1 0h3m1 0h5m2 0h1m1 0h3m1 0h5m1 0h1m2 0h3m1 0h1m1 0h1m11 0h1m2 0h1m2 0h1m2 0h1m2 0h1m11 0h1m3 0h1m-259 1h1m9 0h1m11 0h1m1 0h3m2 0h1m1 0h6m1 0h11m1 0h3m1 0h2m1 0h1m1 0h1m3 0h1m4 0h1m3 0h1m1 0h1m4 0h2m9 0h1m3 0h2m5 0h3m1 0h4m1 0h5m1 0h2m1 0h2m2 0h2m1 0h3m1 0h2m1 0h2m1 0h6m1 0h5m1 0h1m2 0h7m1 0h2m1 0h2m1 0h1m1 0h15m1 0h7m1 0h1m2 0h7m1 0h2m4 0h2m1 0h1m3 0h3m1 0h2m2 0h1m6 0h3m9 0h1m2 0h1m1 0h1m-240 1h1m1 0h3m2 0h2m4 0h1m1 0h2m1 0h2m2 0h9m2 0h3m2 0h1m1 0h1m1 0h2m1 0h1m1 0h1m2 0h1m1 0h1m1 0h2m4 0h1m6 0h1m2 0h1m1 0h1m1 0h3m6 0h1m1 0h3m2 0h1m1 0h1m2 0h1m1 0h1m2 0h4m1 0h3m1 0h8m1 0h8m1 0h1m2 0h6m1 0h5m1 0h1m2 0h1m1 0h1m1 0h6m1 0h4m2 0h3m1 0h5m1 0h7m1 0h2m1 0h2m2 0h1m1 0h1m2 0h1m1 0h1m1 0h4m4 0h2m4 0h2m3 0h1m4 0h3m1 0h1m4 0h1m3 0h1m1 0h2m2 0h1m2 0h1m-259 1h1m11 0h1m10 0h2m3 0h1m2 0h1m1 0h2m1 0h4m1 0h16m3 0h5m4 0h2m3 0h1m1 0h1m4 0h2m1 0h2m1 0h1m1 0h2m1 0h1m2 0h2m1 0h1m2 0h1m2 0h2m1 0h2m1 0h5m1 0h3m1 0h6m2 0h3m2 0h5m1 0h3m3 0h8m1 0h3m1 0h1m1 0h2m1 0h4m1 0h1m1 0h1m2 0h3m1 0h5m1 0h1m1 0h6m2 0h4m2 0h1m1 0h2m1 0h3m1 0h2m1 0h1m2 0h8m1 0h1m1 0h1m4 0h3m5 0h1m4 0h1m3 0h1m1 0h1m1 0h1m4 0h1m-250 1h1m7 0h1m1 0h1m2 0h2m2 0h1m1 0h1m1 0h2m2 0h1m1 0h2m1 0h10m1 0h5m1 0h4m1 0h3m1 0h1m1 0h1m1 0h1m3 0h1m5 0h1m4 0h3m9 0h2m1 0h4m1 0h2m5 0h1m1 0h1m1 0h1m1 0h4m3 0h6m1 0h1m1 0h4m2 0h4m1 0h2m1 0h5m1 0h7m1 0h2m1 0h3m1 0h1m1 0h4m2 0h6m1 0h2m2 0h1m5 0h2m2 0h1m1 0h2m1 0h2m2 0h1m3 0h4m6 0h3m2 0h1m2 0h1m3 0h5m3 0h1m1 0h1m5 0h1m2 0h2m10 0h1m-258 1h2m6 0h1m4 0h1m2 0h1m2 0h1m1 0h1m1 0h2m2 0h1m1 0h4m1 0h2m1 0h15m2 0h2m1 0h2m6 0h1m2 0h4m11 0h1m5 0h1m1 0h1m5 0h6m5 0h4m2 0h13m2 0h3m2 0h6m1 0h4m2 0h5m2 0h9m1 0h2m1 0h3m1 0h1m1 0h2m1 0h1m1 0h1m2 0h4m1 0h5m2 0h2m2 0h2m1 0h1m1 0h1m2 0h6m1 0h1m1 0h1m3 0h2m1 0h1m2 0h1m7 0h1m2 0h1m3 0h1m4 0h1m2 0h1m-253 1h1m14 0h1m3 0h1m7 0h1m3 0h2m1 0h6m1 0h1m1 0h5m1 0h9m1 0h1m4 0h2m1 0h1m3 0h1m1 0h1m4 0h1m8 0h4m1 0h6m1 0h1m1 0h1m2 0h1m1 0h6m1 0h1m2 0h2m1 0h4m1 0h7m1 0h1m1 0h8m1 0h5m1 0h3m1 0h3m1 0h6m1 0h3m1 0h9m1 0h2m1 0h1m3 0h1m3 0h8m1 0h2m1 0h1m2 0h1m1 0h1m1 0h1m1 0h1m1 0h1m1 0h1m1 0h2m1 0h2m4 0h2m1 0h1m4 0h2m5 0h1m1 0h2m1 0h3m8 0h1m-246 1h1m1 0h1m2 0h1m2 0h1m1 0h1m3 0h1m2 0h1m1 0h3m1 0h16m1 0h9m1 0h4m3 0h1m1 0h2m1 0h1m1 0h1m2 0h1m7 0h1m2 0h1m2 0h1m10 0h2m3 0h1m3 0h5m1 0h7m2 0h8m1 0h14m1 0h4m1 0h11m1 0h1m1 0h1m1 0h2m3 0h1m1 0h4m1 0h4m1 0h1m2 0h2m2 0h1m1 0h2m2 0h2m3 0h2m5 0h4m1 0h1m1 0h1m1 0h1m2 0h5m2 0h1m1 0h1m7 0h1m-237 1h2m2 0h1m7 0h2m1 0h1m2 0h1m1 0h24m1 0h1m1 0h2m1 0h1m1 0h6m5 0h1m5 0h1m5 0h1m10 0h2m2 0h1m1 0h1m5 0h2m1 0h2m1 0h1m1 0h4m1 0h1m1 0h15m1 0h1m1 0h10m1 0h2m2 0h8m3 0h1m1 0h4m1 0h1m1 0h2m1 0h3m1 0h2m2 0h1m1 0h1m2 0h2m2 0h6m1 0h6m1 0h1m1 0h2m1 0h1m3 0h1m2 0h2m4 0h1m1 0h3m2 0h1m2 0h1m1 0h2m2 0h1m1 0h1m-227 1h1m1 0h2m3 0h1m1 0h13m1 0h2m1 0h1m1 0h9m1 0h2m1 0h2m1 0h8m3 0h1m1 0h2m4 0h1m4 0h2m1 0h2m1 0h1m2 0h2m1 0h1m1 0h1m1 0h7m1 0h3m3 0h1m1 0h2m1 0h1m1 0h11m1 0h1m1 0h15m1 0h4m1 0h13m1 0h1m2 0h1m1 0h3m1 0h5m1 0h2m3 0h1m2 0h6m1 0h5m3 0h4m2 0h1m1 0h3m1 0h6m2 0h5m3 0h1m1 0h1m2 0h1m-241 1h1m19 0h3m1 0h1m1 0h26m1 0h7m7 0h1m1 0h3m1 0h1m3 0h1m12 0h1m1 0h1m1 0h6m1 0h3m1 0h4m1 0h1m1 0h7m1 0h16m1 0h5m1 0h13m2 0h6m1 0h7m1 0h2m1 0h6m2 0h4m2 0h6m2 0h9m2 0h3m1 0h1m1 0h1m1 0h5m5 0h2m2 0h1m2 0h1m1 0h1m-235 1h1m9 0h1m3 0h1m2 0h5m2 0h1m1 0h1m1 0h23m1 0h2m1 0h1m1 0h4m2 0h1m8 0h1m1 0h1m6 0h1m4 0h1m1 0h1m3 0h3m1 0h1m3 0h7m1 0h2m1 0h9m1 0h12m1 0h8m1 0h11m2 0h1m1 0h6m1 0h8m2 0h1m1 0h2m1 0h4m4 0h2m2 0h3m1 0h1m1 0h2m1 0h1m1 0h2m1 0h1m1 0h5m2 0h2m2 0h2m1 0h2m13 0h1m-229 1h1m4 0h1m4 0h1m2 0h3m1 0h1m1 0h6m1 0h16m1 0h5m1 0h4m2 0h1m2 0h2m2 0h1m1 0h2m2 0h3m4 0h2m2 0h1m2 0h4m2 0h1m1 0h7m2 0h1m1 0h26m1 0h10m1 0h3m1 0h6m1 0h5m1 0h4m1 0h4m1 0h1m1 0h5m2 0h1m1 0h1m2 0h7m1 0h4m1 0h1m2 0h4m2 0h4m1 0h1m5 0h1m1 0h1m4 0h3m-228 1h1m2 0h1m3 0h1m3 0h1m1 0h1m2 0h3m1 0h20m1 0h7m3 0h1m1 0h1m3 0h3m3 0h2m6 0h1m1 0h2m1 0h4m2 0h5m2 0h3m2 0h2m2 0h29m1 0h19m1 0h2m1 0h6m1 0h2m1 0h7m1 0h2m1 0h2m1 0h1m2 0h1m1 0h5m3 0h2m1 0h2m3 0h4m2 0h1m2 0h4m1 0h2m1 0h1m1 0h1m7 0h1m1 0h1m-234 1h1m9 0h1m7 0h3m2 0h2m1 0h2m1 0h1m1 0h9m1 0h14m1 0h9m3 0h1m10 0h1m1 0h2m1 0h2m1 0h1m2 0h2m1 0h1m2 0h21m1 0h6m1 0h16m1 0h3m1 0h9m1 0h1m1 0h6m1 0h2m2 0h7m1 0h13m2 0h1m3 0h2m2 0h6m2 0h5m3 0h1m6 0h1m3 0h2m1 0h2m-227 1h1m12 0h5m1 0h1m1 0h25m1 0h1m1 0h5m1 0h2m3 0h1m2 0h1m5 0h3m2 0h5m3 0h1m2 0h4m2 0h3m1 0h7m1 0h10m1 0h22m1 0h1m1 0h2m1 0h7m1 0h7m1 0h7m1 0h3m1 0h5m3 0h2m1 0h1m3 0h1m3 0h1m4 0h1m1 0h4m1 0h1m4 0h5m2 0h7m1 0h1m2 0h1m2 0h1m-232 1h1m10 0h1m3 0h1m1 0h1m4 0h1m1 0h1m1 0h24m1 0h8m1 0h1m1 0h1m8 0h1m1 0h2m6 0h1m1 0h2m2 0h1m3 0h1m2 0h3m1 0h4m1 0h36m1 0h1m2 0h4m1 0h2m1 0h6m1 0h11m1 0h7m1 0h4m2 0h1m1 0h5m1 0h1m2 0h2m2 0h1m1 0h1m2 0h1m4 0h1m3 0h4m1 0h1m1 0h2m4 0h2m1 0h1m2 0h1m-221 1h1m5 0h11m1 0h1m1 0h18m1 0h7m2 0h2m1 0h1m7 0h1m2 0h2m3 0h1m1 0h1m1 0h1m2 0h2m1 0h2m1 0h1m1 0h1m1 0h10m1 0h24m1 0h15m1 0h2m1 0h3m1 0h4m1 0h5m2 0h5m1 0h10m2 0h1m2 0h2m1 0h2m3 0h1m1 0h1m2 0h1m2 0h1m3 0h2m1 0h2m6 0h2m1 0h1m1 0h3m-215 1h1m1 0h3m2 0h2m3 0h24m1 0h10m1 0h2m1 0h2m4 0h1m1 0h1m4 0h1m1 0h1m1 0h4m2 0h9m1 0h38m1 0h13m1 0h4m1 0h10m2 0h8m2 0h1m1 0h3m2 0h2m3 0h3m1 0h1m1 0h2m1 0h3m5 0h2m2 0h2m2 0h2m1 0h1m-215 1h1m3 0h3m5 0h1m3 0h6m1 0h1m1 0h26m1 0h6m9 0h1m1 0h1m2 0h1m2 0h1m2 0h1m3 0h1m1 0h5m1 0h57m1 0h5m1 0h5m1 0h5m1 0h1m1 0h9m2 0h1m3 0h1m3 0h1m14 0h3m1 0h1m2 0h1m3 0h1m-210 1h1m2 0h1m1 0h1m7 0h2m1 0h41m1 0h1m1 0h1m5 0h1m2 0h1m2 0h1m2 0h2m1 0h4m1 0h1m1 0h14m1 0h46m2 0h6m1 0h6m1 0h1m1 0h1m1 0h4m1 0h3m1 0h1m1 0h3m2 0h10m2 0h1m3 0h1m1 0h3m3 0h1m3 0h1m-219 1h1m10 0h2m1 0h2m2 0h1m1 0h1m1 0h1m1 0h31m1 0h2m1 0h2m2 0h2m3 0h1m3 0h1m2 0h1m3 0h1m2 0h1m1 0h1m2 0h1m2 0h3m1 0h65m1 0h6m1 0h4m2 0h4m1 0h3m1 0h7m1 0h2m2 0h5m1 0h1m1 0h1m4 0h1m2 0h1m3 0h1m-211 1h1m4 0h1m4 0h1m1 0h1m1 0h2m2 0h2m1 0h3m2 0h28m2 0h3m7 0h1m1 0h1m1 0h1m10 0h1m1 0h68m1 0h5m1 0h7m1 0h5m1 0h2m2 0h2m1 0h3m1 0h3m4 0h2m1 0h1m1 0h4m1 0h1m1 0h3m1 0h1m1 0h1m-201 1h1m1 0h1m4 0h1m1 0h40m1 0h3m1 0h1m6 0h5m1 0h1m3 0h49m1 0h16m1 0h3m2 0h8m1 0h14m5 0h2m1 0h3m3 0h1m4 0h1m1 0h2m1 0h1m1 0h1m2 0h2m-202 1h1m1 0h1m4 0h4m1 0h2m2 0h2m1 0h32m2 0h2m2 0h2m1 0h1m3 0h1m3 0h1m3 0h1m1 0h4m2 0h2m1 0h46m1 0h4m1 0h9m1 0h8m2 0h5m1 0h2m3 0h6m1 0h4m1 0h3m1 0h1m1 0h2m1 0h2m1 0h3m1 0h2m1 0h1m1 0h1m-205 1h1m6 0h1m1 0h1m4 0h1m2 0h4m1 0h35m1 0h3m2 0h2m8 0h3m1 0h1m1 0h4m2 0h66m3 0h2m1 0h4m1 0h1m1 0h3m1 0h2m1 0h1m1 0h1m1 0h2m8 0h1m1 0h1m3 0h4m1 0h1m1 0h1m3 0h1m6 0h1m-204 1h1m2 0h3m2 0h1m2 0h1m1 0h2m1 0h36m1 0h2m1 0h2m1 0h3m2 0h1m2 0h1m2 0h4m1 0h1m1 0h1m1 0h66m1 0h9m1 0h2m1 0h3m1 0h1m2 0h1m1 0h3m1 0h1m2 0h2m1 0h3m1 0h2m1 0h5m4 0h1m1 0h1m2 0h1m-203 1h1m4 0h2m2 0h1m1 0h1m2 0h43m1 0h1m3 0h3m1 0h1m1 0h3m1 0h2m1 0h67m1 0h2m1 0h2m1 0h2m1 0h2m2 0h10m2 0h4m1 0h5m2 0h6m2 0h1m1 0h1m2 0h1m1 0h1m-194 1h1m5 0h48m3 0h4m2 0h3m1 0h2m1 0h1m2 0h2m2 0h1m1 0h2m1 0h58m1 0h5m1 0h1m1 0h1m2 0h3m1 0h1m1 0h3m1 0h2m1 0h1m1 0h4m1 0h3m1 0h3m1 0h2m1 0h4m2 0h1m1 0h1m-188 1h1m3 0h1m2 0h45m1 0h2m5 0h5m1 0h5m1 0h58m1 0h2m1 0h5m1 0h2m1 0h8m1 0h9m1 0h1m1 0h1m3 0h1m1 0h1m1 0h1m1 0h1m2 0h2m2 0h1m3 0h1m-195 1h1m5 0h1m4 0h1m1 0h2m1 0h2m1 0h35m3 0h4m3 0h5m1 0h1m1 0h3m1 0h1m1 0h1m1 0h5m2 0h51m3 0h7m1 0h3m1 0h1m1 0h4m1 0h1m1 0h10m2 0h2m1 0h1m1 0h1m2 0h1m2 0h2m1 0h2m4 0h2m1 0h1m4 0h1m-197 1h1m5 0h1m1 0h37m1 0h7m2 0h1m2 0h1m7 0h2m1 0h8m1 0h58m1 0h2m1 0h2m1 0h9m1 0h1m1 0h3m2 0h3m1 0h1m1 0h1m1 0h3m2 0h1m4 0h2m1 0h1m1 0h1m-188 1h2m1 0h1m2 0h3m3 0h45m2 0h2m2 0h1m1 0h12m1 0h67m1 0h8m1 0h1m1 0h2m1 0h4m2 0h4m1 0h1m1 0h2m1 0h1m2 0h2m2 0h1m2 0h1m7 0h1m-198 1h1m2 0h1m6 0h5m1 0h40m1 0h5m3 0h1m1 0h2m1 0h3m2 0h63m2 0h10m1 0h8m1 0h2m1 0h3m1 0h1m1 0h2m1 0h1m3 0h1m1 0h3m1 0h2m1 0h3m1 0h1m-191 1h1m1 0h1m3 0h1m5 0h2m2 0h5m1 0h37m4 0h1m1 0h2m1 0h4m1 0h2m2 0h4m1 0h61m1 0h9m3 0h1m1 0h7m1 0h2m2 0h1m2 0h1m2 0h2m1 0h2m1 0h2m2 0h1m1 0h1m-188 1h1m1 0h2m2 0h1m1 0h3m1 0h9m1 0h34m1 0h5m2 0h1m2 0h1m1 0h1m1 0h1m1 0h3m1 0h68m1 0h3m2 0h1m2 0h3m3 0h7m1 0h1m2 0h2m2 0h1m1 0h1m8 0h1m-186 1h1m2 0h1m1 0h2m4 0h54m1 0h5m1 0h72m1 0h9m6 0h11m3 0h1m1 0h2m1 0h2m6 0h1m-180 1h1m1 0h44m1 0h1m1 0h8m3 0h3m2 0h68m1 0h8m4 0h1m3 0h1m1 0h6m1 0h4m10 0h2m-186 1h1m5 0h2m2 0h1m1 0h1m1 0h1m1 0h43m2 0h2m1 0h2m1 0h2m2 0h2m1 0h63m1 0h7m1 0h1m1 0h1m1 0h1m1 0h5m1 0h3m7 0h3m2 0h1m3 0h2m-173 1h2m4 0h51m1 0h1m1 0h3m1 0h12m1 0h58m1 0h6m2 0h2m1 0h4m1 0h5m3 0h3m1 0h1m3 0h3m-176 1h1m2 0h1m3 0h1m2 0h2m1 0h1m1 0h39m1 0h2m1 0h2m1 0h3m1 0h1m1 0h4m2 0h60m1 0h5m1 0h2m1 0h3m1 0h3m4 0h1m1 0h6m1 0h2m1 0h1m2 0h1m1 0h1m3 0h1m-173 1h1m3 0h1m3 0h46m1 0h4m3 0h1m1 0h3m1 0h1m1 0h62m1 0h1m1 0h2m1 0h1m2 0h1m1 0h3m1 0h2m1 0h3m1 0h1m5 0h2m1 0h4m3 0h2m-176 1h1m2 0h1m2 0h2m2 0h50m1 0h2m2 0h1m1 0h2m1 0h68m1 0h6m1 0h1m2 0h1m1 0h9m2 0h2m1 0h4m5 0h1m-176 1h1m5 0h1m4 0h45m1 0h3m1 0h5m1 0h76m1 0h4m1 0h4m1 0h3m3 0h1m1 0h2m5 0h2m2 0h1m-173 1h1m4 0h2m2 0h6m1 0h40m2 0h2m4 0h3m1 0h1m1 0h65m1 0h12m1 0h1m1 0h1m1 0h3m10 0h2m-168 1h3m5 0h4m1 0h41m1 0h6m1 0h1m2 0h70m2 0h1m2 0h5m1 0h5m2 0h2m2 0h1m1 0h2m6 0h1m-168 1h1m7 0h1m1 0h1m1 0h46m2 0h1m1 0h2m1 0h75m1 0h3m1 0h2m2 0h1m2 0h1m1 0h2m1 0h1m1 0h3m1 0h1m-158 1h52m1 0h2m3 0h70m3 0h3m1 0h2m1 0h4m1 0h7m-150 1h48m1 0h1m1 0h1m2 0h2m1 0h67m1 0h1m1 0h5m1 0h3m3 0h4m2 0h1m1 0h1m-154 1h1m3 0h3m2 0h47m1 0h2m1 0h1m1 0h71m1 0h2m1 0h2m2 0h1m2 0h1m2 0h1m3 0h1m2 0h1m1 0h1m-154 1h1m1 0h1m1 0h51m1 0h1m1 0h68m1 0h1m1 0h2m1 0h5m1 0h1m7 0h1m2 0h1m-150 1h1m1 0h1m1 0h49m1 0h2m1 0h71m3 0h5m2 0h2m1 0h1m3 0h1m-147 1h1m1 0h1m1 0h1m1 0h40m1 0h4m1 0h6m2 0h1m1 0h68m4 0h2m2 0h3m1 0h1m-146 1h1m2 0h3m1 0h48m1 0h1m1 0h1m1 0h2m1 0h3m1 0h58m1 0h5m1 0h2m1 0h2m1 0h1m1 0h3m2 0h1m5 0h1m-149 1h1m4 0h1m1 0h46m1 0h6m1 0h73m1 0h1m1 0h1m1 0h1m4 0h1m-146 1h3m3 0h42m1 0h4m1 0h2m1 0h71m1 0h3m3 0h1m1 0h4m2 0h1m-145 1h2m3 0h1m1 0h46m3 0h3m2 0h68m2 0h2m1 0h1m1 0h1m5 0h1m-143 1h2m2 0h49m1 0h3m1 0h66m1 0h10m3 0h1m-140 1h1m2 0h41m1 0h11m1 0h1m1 0h64m2 0h1m2 0h1m2 0h1m-130 1h1m2 0h2m2 0h44m2 0h1m2 0h63m1 0h2m2 0h2m1 0h1m1 0h1m3 0h1m-134 1h3m1 0h4m1 0h44m1 0h1m1 0h13m1 0h49m1 0h6m1 0h1m-131 1h1m3 0h3m1 0h42m1 0h1m3 0h2m1 0h1m1 0h59m1 0h5m2 0h1m1 0h2m1 0h1m-135 1h1m1 0h1m3 0h53m2 0h5m1 0h54m1 0h1m1 0h1m2 0h3m2 0h1m-128 1h49m1 0h3m1 0h50m1 0h10m1 0h3m1 0h1m3 0h1m-126 1h3m1 0h1m1 0h41m1 0h2m1 0h2m1 0h60m1 0h2m3 0h2m1 0h1m1 0h2m-131 1h2m4 0h1m1 0h38m1 0h3m2 0h1m2 0h4m1 0h3m1 0h56m1 0h2m2 0h1m2 0h1m-125 1h2m1 0h1m1 0h3m1 0h36m1 0h6m2 0h9m1 0h40m1 0h8m1 0h1m1 0h2m-119 1h3m1 0h46m1 0h2m1 0h6m1 0h49m1 0h5m-116 1h7m1 0h38m2 0h1m1 0h4m1 0h52m1 0h5m3 0h1m-117 1h4m1 0h39m1 0h2m2 0h1m1 0h1m1 0h1m1 0h8m1 0h46m2 0h2m-114 1h4m1 0h3m1 0h33m1 0h1m2 0h2m1 0h1m2 0h2m2 0h1m1 0h4m1 0h47m3 0h1m-116 1h2m2 0h40m1 0h1m1 0h3m2 0h1m1 0h1m1 0h1m1 0h44m1 0h5m1 0h1m1 0h1m-109 1h40m1 0h2m1 0h3m1 0h1m2 0h1m1 0h1m1 0h2m1 0h3m1 0h41m1 0h2m1 0h1m2 0h1m-113 1h1m1 0h40m1 0h1m2 0h2m4 0h2m1 0h40m1 0h3m1 0h1m1 0h1m2 0h2m-108 1h1m1 0h34m1 0h8m3 0h1m2 0h2m1 0h4m1 0h7m1 0h25m1 0h5m1 0h1m1 0h6m-106 1h5m1 0h36m2 0h2m1 0h5m2 0h1m2 0h23m1 0h17m1 0h2m-99 1h3m1 0h35m6 0h1m1 0h1m1 0h1m2 0h2m1 0h1m1 0h40m-100 1h5m1 0h31m1 0h4m5 0h2m2 0h2m1 0h1m2 0h6m1 0h11m1 0h6m1 0h2m1 0h6m1 0h1m2 0h1m1 0h2m-99 1h1m2 0h2m2 0h2m1 0h26m1 0h3m1 0h1m2 0h1m1 0h1m4 0h2m3 0h4m3 0h11m1 0h8m1 0h10m1 0h2m-99 1h1m1 0h2m1 0h32m1 0h4m1 0h1m2 0h1m1 0h1m3 0h4m2 0h1m3 0h6m1 0h1m1 0h3m1 0h2m1 0h2m1 0h7m1 0h2m-90 1h1m1 0h39m4 0h4m2 0h1m5 0h13m1 0h4m1 0h8m1 0h1m2 0h1m1 0h1m4 0h1m-96 1h1m3 0h27m1 0h5m1 0h1m1 0h3m1 0h2m6 0h1m2 0h1m3 0h2m1 0h2m1 0h3m1 0h1m1 0h3m1 0h2m1 0h1m3 0h1m1 0h1m-84 1h2m1 0h28m1 0h5m2 0h3m1 0h2m1 0h1m2 0h2m1 0h1m2 0h1m4 0h7m5 0h4m-76 1h37m1 0h1m1 0h1m3 0h2m1 0h2m1 0h3m1 0h1m3 0h1m2 0h2m1 0h1m2 0h1m3 0h1m1 0h1m2 0h2m-79 1h1m1 0h1m1 0h2m1 0h19m1 0h5m1 0h4m1 0h1m2 0h2m5 0h1m8 0h1m1 0h2m3 0h1m3 0h1m-70 1h1m2 0h1m1 0h28m1 0h1m2 0h2m1 0h1m2 0h1m1 0h1m2 0h1m8 0h1m1 0h1m4 0h2m-63 1h34m3 0h1m1 0h1m10 0h1m4 0h1m5 0h2m-63 1h1m1 0h25m1 0h5m5 0h1m7 0h1m10 0h1m-59 1h3m1 0h11m1 0h6m1 0h4m2 0h2m20 0h1m-52 1h1m3 0h3m1 0h15m1 0h4m1 0h2m1 0h1m2 0h1m5 0h1m-43 1h1m1 0h6m1 0h5m1 0h5m1 0h3m1 0h1m1 0h1m2 0h1m3 0h1m-32 1h8m1 0h8m3 0h3m3 0h1m1 0h1m-32 1h1m3 0h1m1 0h2m2 0h1m2 0h2m1 0h3m1 0h2m1 0h1m2 0h1m-26 1h1m3 0h1m1 0h1m1 0h5m4 0h1m3 0h1m-21 1h1m2 0h3m1 0h1m7 0h2m-14 1h1m2 0h3m3 0h1m6 0h1m-21 1h1m4 0h1m4 0h1" stroke="#000" stroke-width="1.7" fill="none" filter="url(#b)"/>
<path transform="translate(70.7 481.45) scale(.5)" d="M188 204h3m5 2h3m-6 4h4m-16 1h3m13 0h3m-2 1h3m10 0h5m-42 1h3m20 0h6m21 3h5m5 0h3m-153 2h4m2 0h3m95 0h4m-109 1h5m3 0h3m71 0h3m20 0h3m-107 1h5m1 0h5m70 0h5m24 0h3m-121 1h3m6 0h3m4 0h6m70 0h3m29 0h3m-127 1h5m3 0h5m72 0h3m5 0h3m7 0h4m1 0h5m9 0h4m-131 1h3m1 0h5m6 0h5m11 0h3m58 0h3m2 0h6m6 0h8m10 0h3m-132 1h10m8 0h5m72 0h9m7 0h5m1 0h3m47 0h3m4 0h3m-173 1h7m6 0h8m72 0h8m7 0h3m4 0h4m1 0h4m6 0h3m-132 1h5m1 0h15m53 0h3m6 0h5m5 0h10m5 0h3m4 0h3m1 0h3m8 0h3m4 0h3m-140 1h4m3 0h8m1 0h5m52 0h3m6 0h9m1 0h10m7 0h4m1 0h3m-118 1h6m3 0h6m3 0h5m52 0h3m4 0h3m1 0h6m1 0h9m3 0h3m2 0h3m1 0h5m19 0h3m-141 1h7m3 0h6m60 0h8m3 0h4m3 0h9m1 0h4m7 0h7m5 0h3m9 0h3m-143 1h9m1 0h9m59 0h8m3 0h4m1 0h15m-107 1h17m4 0h5m49 0h10m1 0h13m1 0h6m24 0h3m-132 1h15m4 0h5m41 0h4m6 0h22m5 0h4m4 0h3m15 0h3m14 0h3m-149 1h15m7 0h4m39 0h9m1 0h24m5 0h11m9 0h3m-131 1h20m1 0h3m3 0h4m37 0h9m1 0h28m1 0h13m9 0h3m-133 1h26m39 0h12m3 0h42m-126 1h3m2 0h24m41 0h12m1 0h46m-123 1h24m35 0h3m1 0h38m1 0h16m1 0h3m-123 1h28m32 0h41m6 0h4m1 0h6m8 0h4m-133 1h30m34 0h41m11 0h6m-123 1h32m32 0h46m1 0h4m1 0h9m-126 1h34m29 0h59m-123 1h36m29 0h57m-127 1h41m30 0h51m-120 1h35m33 0h51m25 0h3m-146 1h31m37 0h49m29 0h3m-150 1h31m37 0h51m-123 1h36m1 0h3m20 0h3m6 0h53m2 0h3m8 0h5m-139 1h3m1 0h34m21 0h4m1 0h56m6 0h5m-132 1h3m3 0h34m26 0h56m8 0h3m-134 1h5m3 0h32m26 0h61m19 0h3m-151 1h8m1 0h33m3 0h4m15 0h65m20 0h5m-153 1h40m21 0h60m1 0h5m-126 1h40m19 0h6m1 0h53m-120 1h39m19 0h7m3 0h50m-117 1h37m21 0h7m1 0h50m-117 1h39m20 0h59m-122 1h43m19 0h62m-125 1h4m1 0h38m16 0h65m-118 1h37m17 0h63m-118 1h37m17 0h64m7 0h3m-131 1h41m12 0h68m-122 1h42m11 0h65m-121 1h44m11 0h65m-119 1h44m9 0h66m-120 1h47m6 0h66m-120 1h40m1 0h4m11 0h65m-120 1h38m19 0h58m1 0h5m-121 1h39m1 0h4m14 0h56m3 0h3m-119 1h39m1 0h4m12 0h58m1 0h4m-120 1h39m15 0h65m-120 1h41m13 0h62m1 0h3m-121 1h36m1 0h8m9 0h61m-114 1h34m3 0h7m7 0h61m-110 1h33m1 0h7m7 0h12m1 0h48m-108 1h37m10 0h11m3 0h45m-107 1h37m12 0h3m1 0h7m1 0h45m-110 1h42m10 0h3m3 0h41m1 0h10m-110 1h41m10 0h5m1 0h41m3 0h7m-107 1h35m1 0h3m10 0h3m1 0h45m1 0h7m-104 1h32m23 0h40m1 0h8m-103 1h32m14 0h3m6 0h38m3 0h3m-100 1h36m9 0h4m6 0h40m-96 1h35m12 0h4m4 0h42m-97 1h33m16 0h4m3 0h42m-97 1h31m23 0h36m1 0h5m-101 1h3m1 0h32m18 0h3m1 0h36m-97 1h38m24 0h30m1 0h3m-96 1h32m1 0h5m19 0h3m3 0h25m-89 1h3m1 0h28m3 0h5m17 0h5m3 0h13m1 0h9m-83 1h28m1 0h5m18 0h6m1 0h13m3 0h9m1 0h5m-90 1h29m1 0h3m23 0h11m1 0h5m5 0h6m-81 1h25m29 0h9m3 0h4m6 0h4m-79 1h24m34 0h3m-62 1h24m46 0h3m-80 1h27m1 0h4m-31 1h25m3 0h3m-31 1h26m3 0h3m-30 1h19m1 0h5m1 0h4m-29 1h17m3 0h3m-24 1h19m1 0h4m-27 1h25m-24 1h11m1 0h6m1 0h4m-19 1h6m3 0h4m-12 1h4m3 0h3m-4 1h3m-3 1h3" stroke="#000" stroke-width="2.6" fill="none"/>
<path d="M72.3 571.9L93.1 550L179 499.8L209 495.6M228.9 504.6L233.1 528.5L234.3 546.9L231.6 601.9L162.3 632L113.9 646.2L94.9 646.6L85.5 644.1L72.3 571.9" fill="none" stroke="#000" stroke-width="2.3" stroke-linejoin="round"/>
<rect x="209.1" y="490.72" width="24.97" height="11.22" fill="#fff"/>
<text x="210.3" y="500.5" font-size="11.6" fill="#111">99.7</text>
<path d="M70.7 481.2H235" fill="none" stroke="#222" stroke-width="1.0"/>
<path d="M70.7 480.7V646.9" fill="none" stroke="#000" stroke-width="1.5"/>
<path d="M69.95 646.9H235V480.7" fill="none" stroke="#000" stroke-width="1.9"/>
<text x="62.4" y="651.4" font-size="11.3" text-anchor="end" fill="#111">0</text>
<text x="68.8" y="665.9" font-size="11.3" text-anchor="middle" fill="#111">0</text>
<text x="62.4" y="619.65" font-size="11.3" text-anchor="end" fill="#111">50K</text>
<text x="100.25" y="665.9" font-size="11.3" text-anchor="middle" fill="#111">50K</text>
<text x="62.4" y="587.9" font-size="11.3" text-anchor="end" fill="#111">100K</text>
<text x="131.7" y="665.9" font-size="11.3" text-anchor="middle" fill="#111">100K</text>
<text x="62.4" y="556.15" font-size="11.3" text-anchor="end" fill="#111">150K</text>
<text x="163.15" y="665.9" font-size="11.3" text-anchor="middle" fill="#111">150K</text>
<text x="62.4" y="524.4" font-size="11.3" text-anchor="end" fill="#111">200K</text>
<text x="194.6" y="665.9" font-size="11.3" text-anchor="middle" fill="#111">200K</text>
<text x="62.4" y="492.65" font-size="11.3" text-anchor="end" fill="#111">250K</text>
<text x="226.05" y="665.9" font-size="11.3" text-anchor="middle" fill="#111">250K</text>
<path d="M70.7 646.9h-5M71.5 646.9v5.5M70.7 615.15h-5M102.95 646.9v5.5M70.7 583.4h-5M134.4 646.9v5.5M70.7 551.65h-5M165.85 646.9v5.5M70.7 519.9h-5M197.3 646.9v5.5M70.7 488.15h-5M228.75 646.9v5.5M70.1 640.55h-1.9M77.79 647.5v2.6M70.1 634.2h-1.9M84.08 647.5v2.6M70.1 627.85h-1.9M90.37 647.5v2.6M70.1 621.5h-1.9M96.66 647.5v2.6M70.1 608.8h-1.9M109.24 647.5v2.6M70.1 602.45h-1.9M115.53 647.5v2.6M70.1 596.1h-1.9M121.82 647.5v2.6M70.1 589.75h-1.9M128.11 647.5v2.6M70.1 577.05h-1.9M140.69 647.5v2.6M70.1 570.7h-1.9M146.98 647.5v2.6M70.1 564.35h-1.9M153.27 647.5v2.6M70.1 558h-1.9M159.56 647.5v2.6M70.1 545.3h-1.9M172.14 647.5v2.6M70.1 538.95h-1.9M178.43 647.5v2.6M70.1 532.6h-1.9M184.72 647.5v2.6M70.1 526.25h-1.9M191.01 647.5v2.6M70.1 513.55h-1.9M203.59 647.5v2.6M70.1 507.2h-1.9M209.88 647.5v2.6M70.1 500.85h-1.9M216.17 647.5v2.6M70.1 494.5h-1.9M222.46 647.5v2.6M70.1 481.8h-1.9" stroke="#000" stroke-width="1.3" fill="none"/>
<path transform="translate(348.5 481.45) scale(.5)" d="M177 0h1m46 0h1m63 0h1m-44 1h2m53 0h1m-242 1h1m178 0h1m33 1h1m-103 1h1m17 0h1m12 0h1m5 0h1m31 0h1m-197 1h1m35 0h1m33 0h1m197 0h1m-244 1h1m88 0h1m72 0h1m20 0h1m-94 1h1m-30 1h1m32 0h1m147 0h1m-247 1h1m145 0h1m46 0h1m22 0h1m28 0h1m-184 1h1m99 0h1m46 0h1m6 0h1m24 0h1m-153 1h1m23 0h1m138 0h1m-166 1h1m10 0h1m24 0h1m64 0h1m16 0h2m21 0h2m-207 1h1m60 0h1m-35 1h1m16 0h1m112 0h1m-8 1h1m-7 1h1m91 0h1m-212 1h1m61 0h1m29 0h1m3 0h1m2 0h1m15 0h1m15 0h1m31 0h1m6 0h1m7 0h1m8 0h1m-191 1h1m60 0h1m82 0h1m70 0h1m-191 1h1m60 0h1m45 0h1m18 0h1m-134 1h1m30 0h1m36 0h1m31 0h1m-142 1h1m7 0h1m35 0h1m11 1h1m84 0h1m27 0h1m24 0h1m-218 1h1m68 0h1m136 0h1m31 0h1m-125 1h1m64 0h1m11 0h1m51 0h1m-224 1h2m21 0h1m53 0h1m2 0h1m120 0h1m17 0h1m6 0h1m-206 1h1m8 0h1m6 0h1m113 0h1m-202 1h1m162 0h1m97 0h1m-248 1h1m133 0h1m72 0h1m16 0h1m51 0h1m-270 1h1m20 0h1m85 0h1m8 0h1m75 0h1m9 0h1m7 0h1m33 0h1m-183 1h1m44 0h1m17 0h1m1 0h1m30 0h1m-168 1h1m27 0h1m67 0h1m22 0h1m1 0h1m61 0h1m39 0h1m8 0h1m-33 1h1m49 0h1m24 0h1m-221 1h1m111 0h1m24 0h1m44 0h1m-221 1h1m67 0h1m20 0h1m12 0h1m90 0h1m-173 1h1m18 0h1m24 0h1m7 0h1m104 0h1m78 0h1m-124 1h1m16 0h1m43 0h1m27 0h1m28 0h1m-141 1h1m107 0h1m-159 1h1m7 0h1m13 0h1m-77 1h1m74 0h1m6 0h2m76 0h1m21 0h1m28 0h1m5 0h1m39 0h1m-258 1h1m108 0h1m25 0h1m8 0h1m33 0h1m7 0h1m1 0h1m32 0h1m19 0h1m-212 1h1m66 0h1m67 0h1m88 0h1m-167 1h1m111 0h1m32 0h1m-263 1h1m2 0h1m44 0h1m24 0h1m5 0h1m75 0h1m64 0h1m3 0h1m-168 1h1m37 0h1m42 0h1m39 0h1m2 0h1m77 0h1m4 0h1m-252 1h1m144 0h1m16 0h1m34 0h1m12 0h1m43 0h1m14 0h1m-242 1h1m22 0h1m35 0h1m25 0h1m49 0h1m11 0h1m15 0h1m9 0h1m10 0h1m5 0h1m49 0h1m-189 1h1m23 0h1m76 0h1m-172 1h1m61 0h1m14 0h1m6 0h1m44 0h1m8 0h1m9 0h1m10 0h1m33 0h1m9 0h1m6 0h1m40 0h1m-254 1h1m8 0h1m83 0h1m20 0h1m64 0h1m24 0h1m-148 1h1m40 0h1m5 0h1m49 0h1m70 0h1m24 0h1m9 0h1m-262 1h1m82 0h1m74 0h1m45 0h1m21 0h1m40 0h1m-181 1h1m33 0h1m24 0h1m24 0h2m3 0h1m32 0h1m13 0h1m26 0h1m-268 1h1m67 0h1m73 0h1m6 0h1m71 0h1m11 0h1m5 0h1m23 0h1m7 0h1m7 0h1m-207 1h1m56 0h1m49 0h2m14 0h1m33 0h1m23 0h1m10 0h1m-133 1h1m16 0h1m15 0h1m21 0h1m41 0h1m18 0h1m22 0h1m10 0h1m-196 1h1m179 0h1m4 0h1m4 0h1m-266 1h1m3 0h1m117 0h1m76 0h1m4 0h1m12 0h1m6 0h1m12 0h1m7 0h1m3 0h1m12 0h1m7 0h1m-274 1h1m109 0h1m29 0h1m69 0h1m18 0h1m-218 1h1m52 0h1m4 0h1m5 0h1m2 0h1m8 0h1m11 0h2m2 0h1m26 0h1m20 0h1m9 0h1m18 0h1m10 0h1m36 0h1m34 0h1m-153 1h1m50 0h1m15 0h1m94 0h1m-251 1h1m56 0h1m2 0h1m69 0h1m25 0h1m24 0h1m2 0h1m31 0h1m22 0h1m2 0h1m5 0h1m-229 1h1m60 0h1m13 0h1m6 0h1m7 0h1m32 0h1m14 0h1m21 0h1m16 0h1m36 0h1m-261 1h1m28 0h1m143 0h1m35 0h1m5 0h1m23 0h1m13 0h1m10 0h1m-284 1h1m59 0h1m9 0h1m3 0h1m21 0h1m27 0h1m99 0h2m7 0h1m10 0h1m33 0h1m-211 1h1m8 0h1m57 0h1m4 0h1m51 0h1m36 0h2m20 0h1m30 0h1m-216 1h1m36 0h1m29 0h1m4 0h1m32 0h1m16 0h1m10 0h1m5 0h1m9 0h1m15 0h1m3 0h1m26 0h1m1 0h1m12 0h1m11 0h1m3 0h1m-241 1h1m54 0h1m6 0h1m20 0h1m4 0h1m3 0h1m37 0h1m38 0h1m31 0h1m26 0h1m-228 1h1m15 0h1m81 0h1m1 0h1m17 0h1m52 0h1m15 0h1m7 0h1m6 0h1m-215 1h1m21 0h1m22 0h2m20 0h1m33 0h1m8 0h1m14 0h2m27 0h1m3 0h1m27 0h1m4 0h1m1 0h1m6 0h1m14 0h1m19 0h1m-262 1h1m28 0h1m30 0h1m28 0h2m1 0h1m40 0h1m22 0h1m16 0h1m19 0h1m9 0h1m35 0h1m4 0h1m4 0h1m1 0h1m11 0h1m4 0h1m-224 1h1m12 0h1m11 0h1m41 0h1m10 0h1m34 0h1m5 0h1m23 0h1m16 0h1m24 0h1m14 0h1m11 0h1m-194 1h1m11 0h1m14 0h1m16 0h1m10 0h1m9 0h1m26 0h1m21 0h1m36 0h1m-173 1h1m39 0h1m13 0h1m12 0h1m29 0h1m13 0h1m26 0h1m9 0h1m12 0h1m16 0h2m28 0h1m17 0h1m-199 1h1m19 0h1m6 0h1m21 0h1m29 0h1m4 0h1m16 0h1m12 0h1m25 0h1m42 0h1m-265 1h1m32 0h1m59 0h1m73 0h1m8 0h1m19 0h1m36 0h2m10 0h1m23 0h1m13 0h1m-234 1h1m27 0h1m59 0h1m13 0h1m22 0h2m2 0h1m5 0h1m94 0h1m-243 1h1m59 0h1m1 0h1m26 0h1m6 0h1m1 0h1m3 0h1m104 0h1m4 0h1m-243 1h1m64 0h1m6 0h1m20 0h1m21 0h1m23 0h1m20 0h2m28 0h1m5 0h1m15 0h1m5 0h1m8 0h3m9 0h1m-232 1h1m102 0h1m42 0h1m5 0h1m7 0h1m10 0h1m57 0h1m22 0h1m-225 1h1m42 0h1m21 0h1m9 0h1m11 0h1m1 0h1m23 0h1m8 0h2m100 0h1m1 0h1m-222 1h1m1 0h1m33 0h1m12 0h1m1 0h1m15 0h1m27 0h1m10 0h1m53 0h1m19 0h2m8 0h1m47 0h1m-172 1h1m1 0h1m34 0h1m11 0h1m26 0h1m1 0h2m5 0h1m1 0h1m7 0h1m32 0h1m1 0h1m6 0h1m12 0h1m4 0h1m-240 1h1m80 0h1m14 0h1m16 0h1m13 0h1m8 0h1m13 0h1m36 0h1m21 0h1m14 0h1m1 0h1m19 0h1m-275 1h1m53 0h1m35 0h1m7 0h1m17 0h1m16 0h1m16 0h1m10 0h1m10 0h1m35 0h1m7 0h1m2 0h1m3 0h1m2 0h1m12 0h1m10 0h1m10 0h1m-198 1h1m12 0h1m31 0h1m26 0h1m4 0h1m28 0h1m6 0h1m2 0h1m13 0h2m7 0h1m18 0h1m-227 1h1m24 0h1m69 0h1m11 0h1m29 0h1m17 0h1m28 0h1m5 0h1m6 0h1m4 0h1m13 0h2m2 0h1m18 0h2m2 0h1m32 0h1m-217 1h1m11 0h1m55 0h1m2 0h1m18 0h1m1 0h1m4 0h1m3 0h1m11 0h1m10 0h1m25 0h1m1 0h1m2 0h1m25 0h1m10 0h1m31 0h1m-265 1h1m32 0h1m36 0h1m42 0h1m7 0h1m17 0h1m12 0h1m1 0h1m53 0h1m5 0h2m8 0h1m3 0h1m13 0h1m11 0h1m-202 1h1m71 0h1m9 0h1m8 0h1m59 0h1m2 0h1m2 0h1m9 0h1m11 0h2m18 0h1m-232 1h1m35 0h1m10 0h2m36 0h1m5 0h1m10 0h1m32 0h1m4 0h1m10 0h1m10 0h1m1 0h1m11 0h1m7 0h1m11 0h1m-244 1h1m69 0h1m8 0h1m14 0h2m32 0h1m6 0h1m2 0h1m5 0h1m6 0h1m1 0h1m2 0h1m21 0h1m1 0h1m1 0h1m6 0h1m6 0h1m3 0h1m18 0h1m14 0h1m8 0h1m28 0h1m1 0h1m3 0h1m11 0h1m-290 1h1m2 0h1m19 0h1m18 0h1m4 0h1m52 0h1m7 0h1m4 0h1m31 0h1m8 0h1m12 0h1m2 0h1m10 0h1m5 0h1m3 0h1m17 0h2m9 0h1m3 0h1m13 0h1m21 0h1m15 0h1m1 0h1m6 0h1m1 0h1m-266 1h1m11 0h1m29 0h1m27 0h1m6 0h1m20 0h1m9 0h1m23 0h1m8 0h1m2 0h1m14 0h3m19 0h1m9 0h2m5 0h1m15 0h1m3 0h1m3 0h1m25 0h1m1 0h1m-204 1h1m3 0h1m3 0h1m29 0h1m4 0h1m19 0h2m3 0h1m6 0h1m15 0h1m18 0h1m2 0h1m2 0h2m9 0h1m9 0h1m1 0h1m31 0h1m19 0h1m1 0h1m30 0h1m-286 1h1m17 0h1m49 0h1m16 0h1m1 0h1m12 0h1m5 0h1m2 0h1m11 0h1m27 0h1m12 0h1m36 0h1m10 0h1m38 0h1m3 0h1m3 0h1m12 0h1m13 0h2m-202 1h2m10 0h1m35 0h2m26 0h1m9 0h1m21 0h1m11 0h1m6 0h1m5 0h1m3 0h1m8 0h1m4 0h1m19 0h1m19 0h1m-229 1h1m5 0h1m32 0h1m12 0h1m1 0h1m39 0h1m13 0h1m8 0h1m1 0h1m15 0h2m12 0h1m5 0h1m18 0h1m12 0h1m30 0h1m14 0h1m4 0h1m-283 1h1m28 0h1m16 0h1m54 0h1m3 0h1m16 0h1m10 0h1m16 0h1m10 0h1m2 0h2m15 0h2m7 0h1m2 0h1m7 0h1m14 0h1m6 0h1m11 0h1m16 0h1m3 0h1m17 0h1m-189 1h2m12 0h1m5 0h2m11 0h1m2 0h1m7 0h1m2 0h1m15 0h1m1 0h1m10 0h1m21 0h1m13 0h1m2 0h1m3 0h1m6 0h1m31 0h2m10 0h2m14 0h1m-267 1h1m16 0h1m16 0h2m53 0h1m50 0h1m18 0h1m1 0h1m5 0h1m4 0h1m6 0h1m5 0h1m10 0h1m20 0h1m4 0h1m2 0h1m12 0h1m2 0h2m4 0h2m18 0h1m3 0h1m1 0h1m-255 1h1m13 0h1m8 0h1m17 0h1m36 0h1m2 0h1m1 0h1m19 0h1m1 0h1m9 0h1m5 0h1m30 0h1m12 0h1m8 0h1m12 0h1m2 0h1m1 0h1m4 0h1m10 0h1m36 0h1m6 0h1m-290 1h1m20 0h1m23 0h1m24 0h1m14 0h1m25 0h1m1 0h1m31 0h1m22 0h1m2 0h1m19 0h1m13 0h1m3 0h1m3 0h1m4 0h1m11 0h1m17 0h1m11 0h1m22 0h1m5 0h1m-248 1h1m24 0h1m26 0h1m5 0h1m13 0h1m15 0h1m28 0h1m9 0h2m28 0h1m1 0h1m5 0h1m16 0h1m1 0h1m2 0h1m45 0h1m3 0h1m8 0h1m1 0h1m-289 1h1m46 0h1m21 0h1m17 0h1m27 0h1m32 0h2m2 0h1m1 0h1m3 0h1m10 0h1m26 0h1m4 0h1m7 0h1m12 0h2m2 0h1m9 0h1m3 0h2m1 0h1m48 0h1m-292 1h1m33 0h1m4 0h1m2 0h1m29 0h1m5 0h1m11 0h1m37 0h1m7 0h1m7 0h1m5 0h1m3 0h1m7 0h1m23 0h1m4 0h1m1 0h1m7 0h1m1 0h1m14 0h1m40 0h1m9 0h1m4 0h1m1 0h1m3 0h1m-252 1h1m21 0h1m4 0h1m9 0h2m22 0h1m29 0h1m9 0h1m17 0h1m16 0h1m4 0h1m1 0h1m10 0h1m8 0h1m5 0h1m16 0h1m9 0h3m18 0h1m20 0h1m-237 1h1m1 0h1m9 0h1m1 0h1m9 0h1m36 0h1m18 0h1m21 0h1m8 0h1m17 0h2m4 0h1m8 0h1m6 0h1m3 0h1m15 0h1m17 0h1m1 0h1m5 0h1m5 0h1m4 0h1m2 0h1m1 0h1m4 0h1m1 0h1m2 0h2m1 0h1m6 0h1m9 0h1m-247 1h1m22 0h1m13 0h1m31 0h1m12 0h1m4 0h1m2 0h1m7 0h2m4 0h1m16 0h2m13 0h1m9 0h1m4 0h2m1 0h1m9 0h1m1 0h1m12 0h1m3 0h1m4 0h1m17 0h1m4 0h2m5 0h1m2 0h1m4 0h1m5 0h2m15 0h1m-253 1h1m3 0h1m11 0h1m43 0h2m13 0h1m3 0h1m8 0h1m21 0h1m7 0h1m12 0h1m17 0h2m25 0h1m20 0h1m7 0h1m3 0h1m11 0h1m6 0h1m4 0h1m21 0h1m-251 1h1m23 0h1m9 0h1m10 0h1m20 0h1m2 0h1m4 0h1m20 0h1m10 0h1m8 0h1m5 0h1m8 0h1m2 0h1m4 0h1m6 0h1m4 0h2m3 0h2m17 0h1m12 0h2m35 0h1m23 0h1m-228 1h1m8 0h1m6 0h1m23 0h1m51 0h1m4 0h1m17 0h1m1 0h1m2 0h1m8 0h1m9 0h1m28 0h1m18 0h1m20 0h2m1 0h1m6 0h1m12 0h1m-242 1h1m16 0h1m24 0h1m40 0h1m1 0h1m25 0h1m3 0h1m1 0h1m2 0h1m4 0h2m12 0h1m2 0h2m4 0h1m1 0h1m4 0h1m20 0h2m2 0h1m2 0h1m7 0h1m36 0h1m2 0h1m3 0h1m3 0h1m-231 1h2m6 0h1m30 0h1m8 0h1m16 0h1m2 0h1m4 0h1m9 0h1m25 0h1m3 0h1m13 0h1m8 0h1m1 0h1m1 0h1m9 0h1m5 0h1m3 0h1m2 0h2m11 0h1m7 0h1m3 0h1m9 0h1m24 0h1m4 0h1m5 0h1m5 0h1m-261 1h1m14 0h1m18 0h1m5 0h1m6 0h1m4 0h1m1 0h1m14 0h1m2 0h2m6 0h1m14 0h1m2 0h1m3 0h1m10 0h1m8 0h1m3 0h1m4 0h1m3 0h1m9 0h1m6 0h1m12 0h2m3 0h1m1 0h1m7 0h1m7 0h2m13 0h1m20 0h1m1 0h1m6 0h1m9 0h1m1 0h1m4 0h1m9 0h1m-266 1h1m7 0h1m2 0h1m5 0h1m1 0h1m6 0h1m2 0h1m18 0h1m2 0h1m40 0h1m12 0h1m1 0h1m2 0h1m2 0h1m20 0h1m2 0h1m6 0h1m2 0h3m16 0h1m1 0h1m2 0h1m34 0h1m14 0h1m4 0h1m5 0h1m2 0h1m1 0h1m25 0h1m1 0h1m-286 1h1m46 0h1m7 0h1m4 0h1m3 0h1m5 0h1m17 0h1m1 0h2m1 0h1m9 0h1m27 0h1m18 0h1m14 0h1m5 0h1m13 0h1m1 0h1m2 0h1m1 0h1m2 0h1m1 0h1m1 0h2m16 0h1m2 0h1m4 0h1m6 0h1m3 0h1m3 0h1m7 0h1m17 0h1m10 0h1m2 0h1m-243 1h1m10 0h1m4 0h1m49 0h1m3 0h2m8 0h1m9 0h1m4 0h1m14 0h1m2 0h1m2 0h1m6 0h1m6 0h1m4 0h1m21 0h1m1 0h1m11 0h1m4 0h1m2 0h1m3 0h1m19 0h1m6 0h1m11 0h2m1 0h1m3 0h1m13 0h1m2 0h1m-276 1h1m8 0h1m45 0h1m16 0h1m8 0h1m9 0h1m5 0h3m9 0h1m6 0h1m20 0h1m1 0h1m4 0h1m2 0h1m26 0h1m15 0h1m2 0h1m8 0h1m1 0h1m14 0h2m5 0h1m1 0h1m44 0h1m-255 1h1m24 0h1m4 0h1m8 0h1m3 0h1m12 0h1m16 0h1m10 0h1m12 0h1m2 0h1m8 0h1m4 0h1m1 0h1m4 0h1m11 0h1m2 0h1m3 0h1m4 0h1m14 0h1m6 0h1m1 0h1m6 0h1m4 0h1m2 0h1m1 0h1m11 0h1m1 0h1m2 0h1m6 0h1m4 0h1m24 0h1m-269 1h1m25 0h1m10 0h1m16 0h1m2 0h1m5 0h1m5 0h1m5 0h1m11 0h1m25 0h1m4 0h1m7 0h1m11 0h1m8 0h1m1 0h1m6 0h1m7 0h2m9 0h1m3 0h1m1 0h1m7 0h1m3 0h1m5 0h1m2 0h1m7 0h1m2 0h1m3 0h1m8 0h1m12 0h1m7 0h2m34 0h1m-264 1h1m6 0h1m6 0h1m9 0h1m3 0h1m3 0h1m7 0h1m2 0h1m4 0h2m21 0h1m28 0h1m5 0h1m12 0h1m5 0h1m1 0h1m4 0h1m2 0h1m8 0h1m2 0h1m7 0h4m2 0h1m7 0h1m3 0h1m2 0h1m1 0h1m1 0h1m9 0h3m18 0h1m12 0h1m3 0h2m1 0h1m1 0h1m16 0h1m4 0h1m3 0h1m-288 1h1m29 0h1m7 0h1m5 0h1m2 0h1m55 0h1m38 0h1m1 0h1m5 0h1m1 0h1m21 0h1m13 0h1m3 0h1m5 0h1m5 0h1m4 0h1m2 0h1m36 0h1m1 0h2m29 0h1m9 0h1m-277 1h1m20 0h1m3 0h1m31 0h1m3 0h1m18 0h1m12 0h1m7 0h1m14 0h1m2 0h1m1 0h1m5 0h1m2 0h1m3 0h1m11 0h1m4 0h1m9 0h1m5 0h1m5 0h1m4 0h1m5 0h1m3 0h1m11 0h1m3 0h1m20 0h1m8 0h1m4 0h1m19 0h1m4 0h1m13 0h1m-257 1h2m9 0h1m1 0h1m23 0h1m8 0h1m26 0h1m16 0h1m3 0h1m9 0h1m8 0h1m7 0h2m6 0h1m5 0h1m2 0h1m13 0h1m26 0h4m12 0h1m4 0h2m8 0h1m4 0h1m2 0h3m1 0h1m6 0h1m5 0h1m18 0h1m-271 1h1m5 0h1m18 0h1m10 0h1m10 0h1m1 0h1m2 0h1m4 0h1m9 0h1m9 0h1m8 0h2m19 0h1m15 0h1m19 0h2m3 0h2m1 0h1m10 0h1m1 0h1m2 0h1m1 0h1m4 0h1m9 0h2m19 0h1m14 0h1m17 0h1m1 0h1m31 0h1m-266 1h1m7 0h1m9 0h1m1 0h1m3 0h1m41 0h1m25 0h2m12 0h1m12 0h1m1 0h1m40 0h1m5 0h2m17 0h1m5 0h1m1 0h1m4 0h1m9 0h1m5 0h1m15 0h1m4 0h1m6 0h1m12 0h1m-264 1h1m3 0h1m1 0h1m11 0h2m9 0h1m25 0h1m2 0h2m25 0h1m13 0h1m3 0h1m7 0h1m9 0h1m34 0h1m15 0h1m12 0h1m3 0h1m8 0h1m4 0h1m2 0h1m5 0h1m3 0h1m2 0h1m26 0h1m-258 1h1m36 0h3m6 0h1m9 0h1m6 0h1m1 0h1m2 0h1m5 0h1m11 0h1m12 0h1m7 0h1m14 0h1m8 0h1m3 0h1m3 0h1m7 0h1m11 0h1m4 0h1m6 0h1m3 0h1m6 0h1m1 0h1m2 0h1m2 0h1m16 0h2m4 0h1m5 0h1m1 0h1m24 0h1m11 0h1m13 0h1m8 0h1m-256 1h1m5 0h2m10 0h1m3 0h1m2 0h1m1 0h1m8 0h1m9 0h2m18 0h1m2 0h1m3 0h1m1 0h1m13 0h1m16 0h1m2 0h1m6 0h1m8 0h1m9 0h1m17 0h1m2 0h1m1 0h2m1 0h2m2 0h1m1 0h1m7 0h1m3 0h2m2 0h1m4 0h3m13 0h1m2 0h1m5 0h1m7 0h1m5 0h1m8 0h1m4 0h1m2 0h1m-276 1h1m32 0h1m4 0h1m3 0h1m3 0h1m12 0h1m1 0h1m2 0h2m19 0h1m2 0h1m7 0h1m12 0h1m4 0h1m9 0h1m8 0h1m2 0h1m5 0h2m10 0h1m10 0h1m7 0h1m31 0h1m9 0h1m12 0h1m44 0h1m11 0h1m-265 1h1m4 0h3m1 0h1m10 0h2m3 0h2m2 0h1m1 0h1m2 0h1m4 0h1m2 0h1m2 0h3m8 0h1m5 0h1m2 0h1m4 0h1m11 0h1m2 0h1m2 0h1m14 0h1m6 0h1m3 0h1m1 0h1m5 0h1m4 0h2m12 0h2m3 0h1m7 0h1m9 0h1m5 0h1m1 0h1m2 0h1m3 0h1m2 0h1m18 0h1m4 0h1m9 0h1m14 0h1m1 0h1m8 0h1m1 0h2m1 0h1m2 0h2m7 0h1m-263 1h1m6 0h1m4 0h1m3 0h1m8 0h1m7 0h1m1 0h1m2 0h2m5 0h1m2 0h1m19 0h1m2 0h1m12 0h1m4 0h1m6 0h1m10 0h1m4 0h1m9 0h1m1 0h1m1 0h1m4 0h1m3 0h1m9 0h1m3 0h1m2 0h1m2 0h1m15 0h1m7 0h1m14 0h1m9 0h1m11 0h1m2 0h2m6 0h1m1 0h2m8 0h1m1 0h1m7 0h1m4 0h1m1 0h1m8 0h1m-281 1h1m1 0h1m21 0h1m2 0h1m3 0h1m4 0h1m3 0h1m3 0h3m3 0h1m2 0h1m13 0h1m11 0h2m41 0h1m8 0h2m16 0h1m1 0h2m5 0h1m1 0h1m1 0h1m11 0h1m3 0h1m5 0h1m4 0h2m3 0h1m2 0h1m2 0h1m1 0h2m2 0h1m7 0h1m3 0h1m8 0h1m1 0h1m4 0h1m4 0h1m1 0h1m2 0h1m1 0h1m3 0h1m2 0h1m7 0h1m20 0h1m-271 1h1m10 0h2m8 0h1m17 0h1m4 0h1m6 0h1m6 0h1m4 0h1m6 0h1m9 0h1m12 0h1m2 0h1m24 0h1m5 0h1m3 0h1m6 0h2m7 0h1m2 0h1m14 0h1m7 0h1m3 0h1m7 0h1m6 0h1m3 0h1m6 0h1m10 0h1m1 0h1m5 0h1m2 0h1m9 0h1m1 0h1m2 0h1m10 0h1m1 0h1m1 0h1m4 0h1m-257 1h1m1 0h1m2 0h1m4 0h1m3 0h1m2 0h1m5 0h1m2 0h1m4 0h1m1 0h1m28 0h1m1 0h1m9 0h1m7 0h1m8 0h1m31 0h3m4 0h1m1 0h1m7 0h1m1 0h1m4 0h1m2 0h1m18 0h3m15 0h1m1 0h1m2 0h1m1 0h1m5 0h3m5 0h1m5 0h1m2 0h3m6 0h1m20 0h1m7 0h1m6 0h1m4 0h1m-281 1h1m31 0h2m1 0h1m6 0h2m6 0h1m15 0h1m8 0h1m3 0h1m28 0h1m5 0h1m24 0h1m5 0h2m6 0h1m21 0h1m2 0h1m1 0h1m3 0h1m4 0h2m6 0h1m2 0h1m4 0h1m5 0h1m14 0h1m2 0h1m1 0h2m3 0h1m16 0h1m2 0h2m5 0h1m7 0h3m-284 1h1m20 0h1m10 0h1m8 0h2m7 0h1m4 0h2m1 0h1m4 0h1m5 0h1m11 0h1m3 0h1m1 0h1m7 0h1m3 0h1m20 0h1m1 0h2m7 0h1m1 0h1m1 0h1m6 0h1m5 0h1m15 0h1m8 0h2m1 0h3m2 0h1m9 0h1m6 0h1m10 0h1m2 0h2m4 0h1m7 0h1m3 0h1m9 0h1m1 0h1m5 0h1m9 0h1m8 0h1m2 0h1m2 0h1m10 0h1m-262 1h1m6 0h1m8 0h1m1 0h1m16 0h1m4 0h1m1 0h1m28 0h1m3 0h1m9 0h1m1 0h1m9 0h1m3 0h1m2 0h1m17 0h1m2 0h1m2 0h1m8 0h2m6 0h3m17 0h1m2 0h1m3 0h1m9 0h1m6 0h1m10 0h1m2 0h1m3 0h1m2 0h1m4 0h2m21 0h1m1 0h1m7 0h1m2 0h1m4 0h1m4 0h2m-288 1h1m26 0h2m15 0h1m10 0h1m2 0h2m3 0h1m4 0h2m5 0h1m4 0h1m2 0h1m1 0h1m2 0h1m3 0h1m12 0h1m3 0h2m1 0h2m1 0h1m1 0h1m1 0h1m17 0h1m1 0h1m1 0h1m1 0h1m4 0h1m10 0h1m3 0h2m4 0h1m23 0h1m4 0h1m3 0h3m3 0h1m2 0h2m6 0h1m13 0h1m4 0h1m6 0h1m2 0h1m1 0h1m3 0h1m3 0h1m4 0h1m6 0h1m5 0h1m1 0h1m1 0h2m2 0h1m-264 1h1m9 0h1m7 0h1m7 0h4m1 0h1m4 0h1m1 0h1m12 0h1m8 0h1m4 0h1m10 0h1m1 0h1m19 0h1m3 0h2m4 0h2m4 0h1m8 0h3m6 0h1m19 0h1m2 0h1m1 0h1m1 0h1m8 0h3m6 0h2m7 0h1m8 0h1m8 0h2m1 0h1m6 0h1m2 0h1m5 0h1m15 0h1m4 0h1m9 0h1m6 0h1m-262 1h1m14 0h1m1 0h1m10 0h2m1 0h1m2 0h3m2 0h2m9 0h1m12 0h1m2 0h1m18 0h1m11 0h1m1 0h1m1 0h2m2 0h1m6 0h1m4 0h1m3 0h1m2 0h1m1 0h1m2 0h1m16 0h2m5 0h1m8 0h3m1 0h2m3 0h1m2 0h1m4 0h1m4 0h1m5 0h1m7 0h1m4 0h1m2 0h1m11 0h1m4 0h1m14 0h1m7 0h1m2 0h1m8 0h1m5 0h1m6 0h1m-293 1h1m2 0h1m11 0h1m1 0h1m12 0h3m4 0h1m1 0h1m7 0h2m12 0h1m1 0h1m2 0h1m31 0h1m5 0h1m4 0h1m3 0h2m1 0h2m8 0h1m9 0h1m5 0h1m1 0h1m6 0h2m2 0h1m7 0h1m10 0h1m4 0h1m2 0h1m6 0h1m1 0h1m1 0h1m1 0h1m5 0h1m1 0h1m3 0h1m6 0h1m17 0h1m7 0h2m4 0h2m1 0h1m2 0h3m7 0h2m16 0h1m10 0h1m-268 1h1m7 0h1m5 0h1m8 0h2m7 0h1m1 0h1m17 0h1m6 0h1m2 0h1m2 0h1m1 0h1m3 0h2m13 0h1m2 0h2m3 0h1m3 0h1m2 0h1m6 0h1m2 0h2m2 0h1m12 0h1m2 0h1m3 0h1m3 0h1m3 0h2m1 0h1m3 0h1m12 0h2m4 0h1m7 0h1m2 0h1m1 0h1m17 0h1m7 0h1m1 0h1m1 0h1m3 0h1m2 0h1m2 0h1m3 0h1m13 0h2m5 0h1m-266 1h1m20 0h1m2 0h1m3 0h1m3 0h1m4 0h1m4 0h1m1 0h1m6 0h1m11 0h2m3 0h1m2 0h1m8 0h1m2 0h1m3 0h1m1 0h1m1 0h1m2 0h2m1 0h1m4 0h1m19 0h1m6 0h1m7 0h4m12 0h1m7 0h1m2 0h1m1 0h2m7 0h3m2 0h1m11 0h2m1 0h2m1 0h2m9 0h1m4 0h1m3 0h1m7 0h1m16 0h1m1 0h1m1 0h1m2 0h1m8 0h1m2 0h1m7 0h3m3 0h1m-255 1h1m2 0h1m2 0h1m3 0h2m1 0h1m1 0h1m5 0h2m2 0h1m3 0h1m3 0h1m3 0h1m1 0h1m6 0h1m9 0h1m4 0h1m3 0h2m5 0h1m6 0h1m7 0h1m7 0h2m3 0h1m7 0h1m7 0h1m1 0h1m2 0h1m8 0h1m2 0h1m1 0h1m4 0h1m3 0h1m1 0h1m4 0h1m3 0h2m1 0h1m6 0h1m1 0h1m4 0h1m3 0h3m4 0h1m14 0h1m4 0h1m3 0h1m9 0h1m9 0h1m10 0h1m5 0h1m17 0h1m-290 1h1m1 0h1m5 0h1m13 0h1m2 0h2m8 0h1m1 0h1m2 0h1m4 0h1m3 0h1m1 0h1m1 0h2m5 0h1m2 0h1m3 0h1m1 0h3m1 0h1m8 0h1m7 0h1m8 0h1m4 0h2m1 0h1m3 0h1m17 0h4m5 0h1m1 0h2m1 0h1m4 0h1m2 0h1m3 0h1m4 0h2m1 0h2m2 0h1m4 0h1m9 0h1m5 0h1m3 0h1m6 0h1m10 0h1m8 0h2m2 0h1m2 0h1m2 0h1m4 0h1m7 0h1m1 0h1m12 0h1m19 0h1m9 0h1m-291 1h1m15 0h1m10 0h2m6 0h1m1 0h1m4 0h2m3 0h2m11 0h1m1 0h1m5 0h2m1 0h1m4 0h1m33 0h1m13 0h1m1 0h1m2 0h1m3 0h1m5 0h1m14 0h1m7 0h1m9 0h1m4 0h1m4 0h1m2 0h1m7 0h2m8 0h1m5 0h1m12 0h1m1 0h1m18 0h1m11 0h3m1 0h1m2 0h2m4 0h1m1 0h1m7 0h1m7 0h1m4 0h1m-283 1h2m10 0h1m4 0h1m5 0h1m4 0h1m8 0h1m2 0h1m9 0h1m1 0h1m10 0h2m2 0h2m2 0h2m12 0h1m6 0h1m1 0h1m1 0h1m5 0h1m4 0h1m6 0h1m8 0h1m3 0h1m18 0h1m3 0h1m8 0h1m7 0h1m3 0h1m2 0h1m2 0h1m3 0h1m5 0h1m4 0h1m3 0h1m14 0h2m5 0h1m4 0h1m7 0h1m4 0h1m5 0h1m1 0h1m6 0h1m8 0h1m8 0h2m15 0h1m-280 1h1m6 0h1m4 0h1m1 0h1m3 0h3m7 0h2m2 0h2m1 0h3m1 0h1m6 0h1m1 0h1m2 0h1m7 0h1m1 0h1m7 0h1m6 0h1m2 0h1m2 0h1m14 0h1m10 0h2m1 0h1m4 0h1m1 0h1m7 0h1m2 0h1m2 0h1m1 0h1m3 0h1m1 0h1m3 0h1m3 0h2m1 0h1m4 0h1m1 0h1m4 0h3m13 0h1m8 0h4m21 0h1m4 0h2m13 0h1m9 0h1m6 0h2m3 0h1m12 0h1m-278 1h1m4 0h1m25 0h1m1 0h1m7 0h1m1 0h1m1 0h1m2 0h5m2 0h1m7 0h1m4 0h1m3 0h1m6 0h1m1 0h1m5 0h1m1 0h1m6 0h1m1 0h1m8 0h1m18 0h1m2 0h1m3 0h1m1 0h1m2 0h1m1 0h1m5 0h1m3 0h1m17 0h1m2 0h1m9 0h3m7 0h1m2 0h2m15 0h2m5 0h1m1 0h2m4 0h2m5 0h1m2 0h1m2 0h1m2 0h1m4 0h1m38 0h1m-281 1h1m22 0h1m4 0h1m1 0h1m1 0h1m3 0h2m3 0h1m1 0h2m1 0h1m6 0h1m1 0h3m11 0h1m5 0h2m2 0h1m14 0h1m1 0h1m8 0h1m2 0h1m10 0h2m1 0h1m9 0h2m9 0h1m3 0h2m9 0h1m2 0h1m3 0h1m5 0h1m4 0h2m3 0h1m3 0h1m1 0h2m4 0h2m6 0h1m1 0h1m4 0h3m3 0h2m2 0h1m5 0h1m14 0h1m4 0h1m5 0h1m2 0h1m1 0h1m7 0h1m3 0h1m11 0h1m-280 1h1m3 0h1m5 0h1m5 0h2m2 0h1m4 0h1m11 0h2m2 0h1m2 0h2m5 0h1m2 0h1m1 0h1m1 0h2m9 0h1m3 0h1m4 0h1m3 0h1m15 0h2m3 0h1m11 0h1m2 0h1m5 0h1m6 0h1m7 0h1m3 0h1m2 0h1m7 0h2m1 0h1m9 0h2m4 0h2m2 0h1m9 0h1m9 0h1m4 0h1m1 0h3m1 0h1m2 0h1m2 0h1m9 0h1m9 0h1m1 0h1m2 0h1m22 0h1m2 0h1m-273 1h1m1 0h1m11 0h1m2 0h1m3 0h3m1 0h1m3 0h3m2 0h4m2 0h1m3 0h1m3 0h1m4 0h1m12 0h2m1 0h1m1 0h1m14 0h1m4 0h1m5 0h1m4 0h1m5 0h1m2 0h1m6 0h2m3 0h1m2 0h1m7 0h1m11 0h1m5 0h1m8 0h1m12 0h3m1 0h1m2 0h2m9 0h1m3 0h1m4 0h1m10 0h1m6 0h1m2 0h1m4 0h1m3 0h2m3 0h1m1 0h1m1 0h1m8 0h1m12 0h1m7 0h1m5 0h1m5 0h1m2 0h1m-289 1h1m16 0h1m13 0h1m1 0h3m3 0h1m2 0h1m1 0h2m3 0h1m2 0h1m1 0h1m3 0h1m2 0h1m8 0h1m1 0h1m12 0h1m8 0h1m5 0h1m13 0h2m5 0h1m17 0h1m2 0h1m10 0h1m1 0h2m15 0h1m1 0h1m2 0h1m1 0h1m2 0h1m1 0h5m2 0h2m3 0h2m3 0h1m10 0h1m1 0h1m1 0h1m2 0h2m1 0h1m3 0h1m3 0h2m4 0h1m1 0h1m1 0h1m4 0h1m4 0h2m6 0h1m1 0h1m3 0h1m7 0h1m1 0h1m15 0h1m1 0h1m-280 1h1m10 0h1m3 0h1m1 0h2m5 0h1m1 0h2m2 0h1m13 0h3m7 0h1m7 0h1m4 0h2m4 0h1m1 0h1m6 0h1m7 0h2m5 0h1m8 0h1m1 0h1m3 0h1m7 0h1m2 0h2m3 0h1m2 0h2m3 0h2m1 0h1m2 0h2m7 0h2m12 0h2m8 0h1m4 0h2m1 0h1m2 0h1m18 0h3m8 0h2m8 0h1m2 0h1m2 0h2m4 0h1m1 0h1m1 0h1m1 0h1m4 0h1m10 0h2m1 0h2m1 0h1m1 0h1m2 0h2m-278 1h2m1 0h1m4 0h1m3 0h1m4 0h1m1 0h2m2 0h1m1 0h1m3 0h1m5 0h1m3 0h3m2 0h1m3 0h6m5 0h1m1 0h2m3 0h1m1 0h1m1 0h1m5 0h1m6 0h1m1 0h3m9 0h2m6 0h1m5 0h1m8 0h1m7 0h2m1 0h1m6 0h1m1 0h1m8 0h1m2 0h2m3 0h2m2 0h1m7 0h1m4 0h1m4 0h1m3 0h1m7 0h1m1 0h1m1 0h1m2 0h1m7 0h1m4 0h1m3 0h1m17 0h1m20 0h1m1 0h1m8 0h1m7 0h1m-258 1h1m7 0h1m3 0h1m4 0h1m1 0h1m1 0h2m3 0h1m1 0h2m1 0h1m2 0h4m1 0h3m1 0h1m14 0h1m12 0h1m4 0h1m21 0h2m4 0h1m3 0h3m4 0h1m3 0h1m2 0h1m1 0h1m3 0h1m4 0h1m2 0h1m2 0h1m8 0h1m1 0h1m12 0h1m6 0h1m5 0h2m1 0h1m6 0h1m1 0h2m3 0h1m1 0h2m4 0h1m2 0h3m4 0h2m2 0h2m10 0h1m2 0h2m11 0h1m1 0h1m2 0h2m7 0h2m7 0h1m-260 1h2m4 0h1m3 0h1m1 0h1m2 0h3m2 0h1m1 0h3m2 0h1m1 0h1m7 0h1m5 0h1m8 0h1m1 0h1m1 0h1m10 0h1m2 0h1m1 0h5m8 0h1m4 0h1m7 0h3m1 0h1m9 0h1m2 0h1m2 0h1m1 0h1m5 0h2m1 0h1m3 0h1m1 0h1m3 0h1m5 0h1m6 0h1m2 0h1m1 0h1m1 0h1m2 0h1m4 0h2m3 0h1m6 0h2m2 0h2m10 0h2m1 0h1m5 0h1m1 0h2m3 0h2m8 0h1m1 0h2m1 0h1m24 0h1m3 0h1m-272 1h1m3 0h1m6 0h1m1 0h1m6 0h3m4 0h3m2 0h1m2 0h2m1 0h4m1 0h1m1 0h2m1 0h1m1 0h1m1 0h2m3 0h1m1 0h2m4 0h2m3 0h1m4 0h1m2 0h1m5 0h1m19 0h1m4 0h1m1 0h1m8 0h1m5 0h1m1 0h2m1 0h1m1 0h2m8 0h1m6 0h1m1 0h1m15 0h3m5 0h2m4 0h1m2 0h2m5 0h1m4 0h1m3 0h1m5 0h1m1 0h1m4 0h1m2 0h1m7 0h1m1 0h1m2 0h1m6 0h1m22 0h1m2 0h1m1 0h1m-271 1h1m4 0h2m4 0h1m4 0h1m3 0h3m1 0h3m8 0h1m1 0h4m2 0h1m5 0h1m6 0h2m1 0h2m3 0h1m1 0h1m13 0h1m6 0h2m1 0h2m2 0h1m1 0h1m1 0h1m3 0h1m2 0h1m2 0h1m6 0h3m9 0h3m4 0h1m6 0h1m6 0h1m3 0h1m2 0h1m1 0h2m12 0h3m1 0h1m8 0h1m2 0h2m7 0h1m13 0h1m1 0h1m2 0h1m12 0h1m2 0h1m3 0h1m2 0h2m5 0h1m4 0h2m3 0h1m23 0h1m-284 1h1m21 0h2m6 0h1m1 0h1m5 0h1m3 0h8m2 0h2m8 0h1m4 0h1m2 0h2m10 0h1m14 0h1m1 0h1m1 0h1m1 0h1m3 0h1m13 0h1m1 0h1m11 0h1m4 0h2m1 0h2m3 0h1m4 0h1m3 0h1m1 0h1m4 0h1m6 0h1m12 0h1m1 0h1m1 0h1m7 0h1m1 0h4m6 0h1m1 0h1m5 0h1m6 0h1m2 0h1m2 0h1m2 0h1m2 0h1m3 0h1m3 0h1m8 0h1m5 0h1m1 0h1m2 0h1m7 0h4m9 0h1m1 0h1m-268 1h1m2 0h1m3 0h1m1 0h1m1 0h2m4 0h1m1 0h5m5 0h4m2 0h3m5 0h1m11 0h1m1 0h5m4 0h1m1 0h1m3 0h1m6 0h1m1 0h1m14 0h2m4 0h1m2 0h1m6 0h1m2 0h2m1 0h1m1 0h2m3 0h1m3 0h1m6 0h1m12 0h1m10 0h1m2 0h1m1 0h1m9 0h1m1 0h1m2 0h1m1 0h3m2 0h1m7 0h4m2 0h1m1 0h2m1 0h1m6 0h1m1 0h1m3 0h3m4 0h1m1 0h1m7 0h1m3 0h1m2 0h1m23 0h1m-287 1h1m10 0h1m6 0h1m2 0h1m1 0h1m3 0h1m2 0h1m3 0h2m1 0h1m2 0h4m1 0h2m6 0h3m1 0h1m2 0h1m12 0h3m2 0h1m5 0h1m1 0h1m1 0h1m3 0h1m13 0h1m1 0h1m4 0h1m1 0h1m1 0h1m1 0h1m1 0h1m5 0h1m1 0h3m2 0h1m2 0h1m5 0h1m2 0h1m3 0h2m1 0h1m4 0h1m1 0h1m2 0h1m5 0h1m4 0h1m1 0h1m10 0h1m4 0h2m1 0h2m1 0h1m3 0h2m2 0h1m4 0h5m7 0h1m11 0h1m4 0h1m2 0h1m6 0h2m20 0h1m5 0h2m-279 1h1m5 0h1m1 0h1m4 0h1m4 0h2m3 0h3m4 0h1m1 0h3m2 0h1m2 0h1m1 0h2m1 0h3m2 0h3m1 0h1m1 0h2m2 0h3m3 0h1m4 0h1m4 0h1m7 0h1m10 0h4m13 0h1m4 0h1m1 0h1m10 0h2m3 0h1m2 0h2m5 0h1m6 0h4m1 0h1m2 0h1m5 0h1m1 0h1m2 0h2m1 0h1m4 0h1m1 0h1m1 0h1m1 0h1m2 0h2m3 0h1m1 0h1m11 0h1m27 0h1m6 0h1m4 0h1m6 0h1m1 0h1m5 0h1m5 0h2m4 0h4m-290 1h1m7 0h1m5 0h2m9 0h1m4 0h2m4 0h1m2 0h1m3 0h1m6 0h2m1 0h2m1 0h1m3 0h2m1 0h1m3 0h1m1 0h4m6 0h1m5 0h1m1 0h2m18 0h1m6 0h1m19 0h1m1 0h3m1 0h1m6 0h1m3 0h1m1 0h1m7 0h2m10 0h1m4 0h1m2 0h1m4 0h1m1 0h1m3 0h1m3 0h1m6 0h3m2 0h1m1 0h1m3 0h1m6 0h1m3 0h1m1 0h3m9 0h1m4 0h1m1 0h1m4 0h1m5 0h1m4 0h1m12 0h1m1 0h1m1 0h1m1 0h1m1 0h1m7 0h2m2 0h1m-291 1h1m24 0h5m3 0h1m2 0h2m1 0h6m1 0h1m2 0h2m1 0h1m2 0h1m3 0h1m6 0h1m5 0h1m13 0h1m8 0h1m4 0h1m5 0h1m1 0h1m4 0h1m1 0h3m3 0h1m5 0h1m2 0h1m2 0h1m2 0h1m1 0h1m4 0h2m7 0h1m2 0h1m10 0h2m3 0h3m5 0h1m2 0h1m3 0h1m1 0h2m2 0h1m8 0h1m3 0h1m2 0h1m7 0h1m15 0h1m2 0h1m1 0h1m10 0h1m1 0h1m10 0h1m3 0h2m8 0h2m1 0h1m3 0h1m-274 1h1m2 0h1m18 0h1m4 0h1m2 0h2m1 0h2m1 0h1m1 0h2m1 0h3m2 0h1m2 0h2m2 0h1m1 0h2m2 0h2m1 0h1m2 0h1m1 0h2m1 0h1m7 0h1m8 0h2m3 0h1m2 0h1m4 0h1m6 0h2m2 0h2m7 0h1m8 0h1m2 0h1m3 0h1m5 0h2m6 0h1m1 0h3m9 0h1m4 0h1m2 0h1m3 0h1m3 0h1m3 0h1m1 0h2m8 0h1m7 0h1m3 0h1m4 0h3m2 0h1m8 0h1m4 0h1m4 0h1m6 0h1m12 0h1m13 0h1m7 0h1m-282 1h1m2 0h1m3 0h1m1 0h1m12 0h3m3 0h3m2 0h1m1 0h5m1 0h2m1 0h1m4 0h1m3 0h3m5 0h4m1 0h3m11 0h1m15 0h2m7 0h2m1 0h1m2 0h1m1 0h1m19 0h1m1 0h1m3 0h1m2 0h1m2 0h2m3 0h1m1 0h2m2 0h1m1 0h1m1 0h1m1 0h1m8 0h1m3 0h2m2 0h1m1 0h1m4 0h1m5 0h1m4 0h1m4 0h2m3 0h2m3 0h1m5 0h1m2 0h1m3 0h2m5 0h2m4 0h2m7 0h1m2 0h1m1 0h2m1 0h1m13 0h2m1 0h2m10 0h1m-288 1h1m1 0h1m3 0h1m4 0h2m5 0h1m1 0h4m1 0h4m2 0h2m1 0h1m1 0h1m1 0h2m3 0h3m1 0h5m1 0h2m4 0h2m1 0h1m1 0h3m1 0h2m1 0h3m6 0h1m3 0h1m5 0h1m15 0h1m2 0h2m4 0h4m6 0h1m5 0h1m4 0h1m4 0h1m4 0h2m3 0h1m2 0h1m6 0h1m2 0h1m2 0h3m4 0h2m1 0h1m1 0h3m3 0h1m4 0h1m7 0h1m4 0h1m5 0h1m5 0h1m6 0h1m4 0h1m4 0h2m3 0h1m1 0h2m2 0h2m1 0h1m16 0h2m4 0h1m2 0h1m13 0h1m1 0h1m-270 1h2m1 0h6m1 0h3m1 0h1m4 0h3m1 0h1m4 0h3m2 0h1m3 0h1m1 0h4m2 0h1m4 0h1m2 0h1m10 0h1m1 0h2m1 0h1m4 0h3m2 0h2m3 0h1m14 0h1m1 0h1m6 0h1m4 0h1m1 0h1m1 0h1m5 0h1m8 0h1m2 0h1m8 0h1m5 0h1m2 0h1m1 0h2m4 0h4m8 0h3m3 0h4m7 0h1m6 0h1m2 0h2m8 0h3m9 0h3m9 0h1m7 0h2m13 0h1m7 0h1m-289 1h1m14 0h1m4 0h1m4 0h1m1 0h1m1 0h5m4 0h1m3 0h2m1 0h8m1 0h3m1 0h1m2 0h1m4 0h1m3 0h1m1 0h1m2 0h1m1 0h1m2 0h1m2 0h2m14 0h1m1 0h1m3 0h1m2 0h1m1 0h2m10 0h2m2 0h1m1 0h3m6 0h2m1 0h1m1 0h1m3 0h1m2 0h1m1 0h1m5 0h1m1 0h1m9 0h1m1 0h2m1 0h3m3 0h2m7 0h2m1 0h1m10 0h1m3 0h1m1 0h2m4 0h1m1 0h1m4 0h1m9 0h1m1 0h1m2 0h1m12 0h1m15 0h1m7 0h1m-277 1h1m11 0h1m5 0h2m6 0h1m1 0h2m1 0h2m2 0h1m1 0h6m2 0h2m1 0h2m7 0h4m1 0h2m1 0h3m2 0h1m1 0h2m2 0h1m6 0h1m7 0h2m5 0h2m4 0h1m1 0h1m12 0h1m2 0h1m6 0h2m2 0h1m1 0h1m1 0h1m3 0h2m2 0h1m1 0h1m3 0h2m6 0h1m4 0h1m12 0h4m2 0h1m2 0h2m10 0h1m4 0h2m6 0h1m2 0h2m2 0h1m4 0h1m3 0h2m8 0h3m8 0h1m3 0h3m1 0h1m5 0h1m4 0h1m7 0h1m11 0h1m-273 1h1m2 0h1m8 0h2m1 0h1m1 0h2m2 0h6m1 0h4m2 0h1m1 0h4m1 0h5m2 0h1m2 0h1m10 0h2m3 0h1m2 0h1m6 0h1m2 0h1m2 0h1m7 0h1m6 0h1m1 0h1m2 0h1m5 0h1m4 0h1m2 0h1m1 0h1m3 0h1m4 0h2m5 0h1m7 0h2m1 0h2m3 0h1m3 0h1m3 0h1m3 0h1m8 0h1m5 0h1m2 0h1m3 0h1m2 0h3m4 0h1m3 0h1m9 0h2m3 0h1m22 0h1m4 0h1m6 0h2m2 0h1m1 0h1m-265 1h1m1 0h1m12 0h1m2 0h2m3 0h1m1 0h2m2 0h8m2 0h4m2 0h3m2 0h1m1 0h3m4 0h1m1 0h2m1 0h1m3 0h1m6 0h1m1 0h1m2 0h1m4 0h1m6 0h2m8 0h2m1 0h1m3 0h2m1 0h1m4 0h1m9 0h1m1 0h2m1 0h2m1 0h3m1 0h1m1 0h1m1 0h3m6 0h1m1 0h1m6 0h1m1 0h5m3 0h1m1 0h1m3 0h2m1 0h3m1 0h1m7 0h1m2 0h3m7 0h1m2 0h2m6 0h1m9 0h1m5 0h3m6 0h1m7 0h1m8 0h1m2 0h1m1 0h1m2 0h1m6 0h1m-270 1h1m6 0h1m8 0h1m1 0h1m1 0h2m2 0h4m2 0h1m1 0h4m1 0h1m1 0h1m2 0h2m1 0h2m8 0h1m1 0h1m6 0h1m2 0h1m1 0h1m1 0h1m4 0h2m18 0h1m3 0h1m2 0h1m2 0h1m4 0h1m2 0h1m9 0h1m6 0h1m1 0h2m1 0h1m2 0h1m2 0h1m2 0h1m4 0h1m2 0h2m7 0h1m1 0h1m1 0h1m2 0h2m1 0h2m3 0h1m2 0h1m1 0h1m1 0h1m1 0h1m6 0h1m1 0h2m5 0h1m4 0h1m6 0h5m1 0h3m1 0h2m3 0h1m3 0h1m2 0h1m4 0h1m5 0h1m9 0h1m1 0h1m3 0h1m1 0h1m11 0h1m1 0h1m1 0h1m-293 1h1m11 0h1m6 0h1m3 0h1m2 0h1m1 0h1m2 0h3m1 0h2m1 0h1m1 0h10m3 0h1m2 0h1m2 0h4m3 0h1m1 0h2m1 0h1m2 0h1m1 0h3m1 0h3m18 0h1m5 0h1m2 0h1m2 0h1m12 0h1m6 0h1m4 0h1m2 0h1m3 0h1m9 0h1m1 0h2m4 0h2m1 0h1m3 0h1m2 0h2m1 0h1m2 0h1m2 0h1m1 0h2m2 0h1m3 0h2m1 0h2m1 0h1m1 0h2m8 0h1m1 0h2m1 0h3m1 0h1m1 0h1m3 0h1m6 0h3m14 0h1m11 0h1m4 0h1m5 0h1m4 0h1m4 0h4m8 0h1m-269 1h1m3 0h2m2 0h1m1 0h1m1 0h1m1 0h4m2 0h1m1 0h7m1 0h1m1 0h1m2 0h2m1 0h4m2 0h1m1 0h1m5 0h1m3 0h3m6 0h1m2 0h1m8 0h1m10 0h1m2 0h1m1 0h1m2 0h1m4 0h1m6 0h1m10 0h2m1 0h1m1 0h1m1 0h1m1 0h1m6 0h1m3 0h2m2 0h1m1 0h1m4 0h1m1 0h4m3 0h2m4 0h1m2 0h4m1 0h2m1 0h1m1 0h2m2 0h1m3 0h1m1 0h1m5 0h1m2 0h1m3 0h1m1 0h1m6 0h1m2 0h2m1 0h1m4 0h1m8 0h1m16 0h1m1 0h1m2 0h1m3 0h1m6 0h1m1 0h1m1 0h1m-275 1h4m4 0h5m2 0h3m1 0h4m1 0h1m1 0h2m1 0h1m1 0h1m1 0h3m3 0h2m1 0h1m2 0h1m3 0h1m3 0h1m4 0h1m5 0h2m1 0h1m1 0h1m1 0h4m2 0h1m6 0h1m2 0h1m1 0h1m4 0h1m1 0h1m2 0h1m9 0h2m3 0h2m17 0h1m4 0h1m15 0h1m6 0h2m2 0h1m3 0h1m6 0h1m4 0h1m2 0h1m1 0h3m3 0h1m2 0h2m10 0h1m1 0h1m3 0h1m4 0h1m15 0h1m3 0h1m1 0h1m27 0h1m-285 1h1m1 0h1m4 0h2m8 0h3m2 0h1m1 0h3m3 0h1m1 0h2m1 0h6m3 0h6m1 0h3m1 0h1m5 0h5m2 0h1m4 0h2m3 0h1m2 0h1m5 0h2m1 0h1m4 0h1m6 0h2m4 0h1m3 0h1m9 0h1m9 0h1m1 0h1m1 0h1m3 0h1m4 0h2m5 0h2m1 0h1m5 0h1m4 0h1m3 0h1m2 0h2m3 0h1m2 0h1m2 0h1m1 0h1m1 0h1m1 0h1m4 0h2m2 0h1m3 0h1m9 0h1m3 0h1m3 0h1m2 0h1m5 0h1m3 0h1m2 0h1m3 0h1m2 0h2m3 0h2m1 0h2m7 0h2m3 0h1m5 0h1m10 0h1m-278 1h1m5 0h1m1 0h1m7 0h3m6 0h1m1 0h1m2 0h2m1 0h2m1 0h2m2 0h7m1 0h2m1 0h2m1 0h1m1 0h1m1 0h1m5 0h2m4 0h5m5 0h1m4 0h1m2 0h1m4 0h2m1 0h3m8 0h2m5 0h2m2 0h1m5 0h1m2 0h4m2 0h1m1 0h2m1 0h1m3 0h1m1 0h1m2 0h1m1 0h1m4 0h3m3 0h2m1 0h2m3 0h2m1 0h1m1 0h3m4 0h1m7 0h1m4 0h1m1 0h1m1 0h1m3 0h1m5 0h1m2 0h2m14 0h1m6 0h1m3 0h1m2 0h1m3 0h3m25 0h1m7 0h1m-278 1h1m2 0h1m5 0h2m2 0h1m2 0h3m1 0h4m1 0h1m1 0h1m2 0h2m1 0h5m1 0h2m1 0h3m1 0h4m1 0h1m1 0h1m1 0h2m1 0h1m3 0h1m3 0h1m5 0h1m2 0h1m2 0h1m2 0h1m7 0h3m5 0h1m5 0h2m2 0h1m6 0h1m1 0h1m6 0h1m3 0h1m3 0h1m5 0h2m1 0h2m1 0h1m1 0h1m2 0h4m1 0h2m4 0h1m1 0h2m4 0h5m6 0h1m1 0h1m1 0h1m4 0h1m6 0h1m2 0h2m2 0h1m3 0h1m10 0h2m2 0h1m1 0h2m2 0h1m1 0h1m9 0h1m15 0h1m17 0h1m-278 1h1m7 0h1m3 0h3m3 0h1m2 0h1m1 0h3m1 0h11m3 0h2m1 0h2m1 0h1m1 0h6m2 0h2m1 0h1m1 0h1m1 0h2m2 0h1m1 0h2m7 0h1m8 0h1m12 0h1m9 0h1m10 0h1m1 0h1m1 0h2m2 0h2m10 0h1m1 0h1m5 0h1m1 0h1m5 0h1m1 0h3m4 0h1m1 0h1m2 0h2m2 0h2m1 0h3m3 0h1m4 0h3m2 0h1m7 0h1m1 0h1m1 0h1m1 0h1m11 0h3m13 0h1m1 0h1m1 0h2m2 0h1m1 0h1m8 0h1m3 0h1m-253 1h2m6 0h1m1 0h2m1 0h1m1 0h1m1 0h1m1 0h1m1 0h1m2 0h2m1 0h3m2 0h5m1 0h2m1 0h2m2 0h3m1 0h2m1 0h3m1 0h3m1 0h1m8 0h1m1 0h1m12 0h1m3 0h1m6 0h1m6 0h1m2 0h1m1 0h1m3 0h1m3 0h1m8 0h2m2 0h1m1 0h1m3 0h1m4 0h1m6 0h1m1 0h1m1 0h3m4 0h2m6 0h1m2 0h2m1 0h1m2 0h4m2 0h1m2 0h3m1 0h4m1 0h1m1 0h2m1 0h1m3 0h1m6 0h1m7 0h1m1 0h1m5 0h1m1 0h1m3 0h1m15 0h1m4 0h2m14 0h1m4 0h1m2 0h2m-290 1h1m10 0h1m2 0h1m1 0h1m1 0h2m1 0h1m2 0h5m1 0h4m1 0h5m1 0h3m2 0h1m2 0h3m3 0h1m1 0h1m1 0h3m4 0h2m1 0h2m3 0h1m5 0h1m14 0h2m5 0h1m2 0h1m1 0h1m3 0h1m1 0h2m3 0h2m3 0h2m9 0h4m4 0h1m3 0h1m7 0h1m2 0h1m2 0h1m3 0h1m2 0h1m13 0h1m1 0h2m3 0h2m5 0h1m1 0h1m6 0h2m3 0h2m2 0h1m2 0h3m3 0h1m6 0h1m6 0h1m3 0h2m17 0h1m2 0h1m5 0h1m3 0h1m3 0h1m2 0h2m7 0h1m2 0h1m-285 1h1m5 0h2m3 0h4m2 0h2m2 0h6m7 0h1m2 0h2m2 0h2m2 0h4m1 0h4m2 0h4m1 0h2m2 0h1m1 0h1m1 0h1m1 0h1m2 0h3m10 0h2m6 0h1m3 0h3m7 0h2m1 0h2m1 0h1m7 0h1m2 0h1m3 0h1m3 0h1m6 0h1m2 0h1m1 0h1m1 0h2m1 0h4m1 0h1m1 0h2m4 0h1m2 0h2m3 0h2m4 0h2m2 0h1m1 0h1m5 0h2m5 0h1m1 0h1m2 0h1m4 0h1m1 0h1m8 0h1m2 0h2m14 0h1m6 0h1m8 0h1m4 0h1m9 0h1m2 0h1m6 0h1m3 0h1m-282 1h1m14 0h1m1 0h2m1 0h3m2 0h7m1 0h3m1 0h2m1 0h2m2 0h1m2 0h9m4 0h1m2 0h1m1 0h2m6 0h1m6 0h1m4 0h1m17 0h1m2 0h1m5 0h1m7 0h1m2 0h2m5 0h1m3 0h2m2 0h3m6 0h1m1 0h1m1 0h2m2 0h1m3 0h1m2 0h1m1 0h1m1 0h1m3 0h4m1 0h1m1 0h2m1 0h1m5 0h1m2 0h1m1 0h1m2 0h1m1 0h1m1 0h2m4 0h2m1 0h1m3 0h2m6 0h1m7 0h1m1 0h3m2 0h1m1 0h1m1 0h1m3 0h2m2 0h1m7 0h2m5 0h2m12 0h1m3 0h1m-278 1h1m2 0h1m3 0h1m1 0h2m4 0h2m1 0h1m2 0h1m1 0h1m1 0h1m1 0h2m1 0h11m1 0h2m2 0h4m4 0h2m1 0h2m5 0h2m2 0h1m3 0h2m7 0h1m1 0h1m3 0h1m1 0h1m1 0h1m2 0h1m6 0h2m1 0h1m4 0h2m2 0h1m1 0h1m7 0h1m2 0h1m6 0h2m1 0h2m2 0h1m1 0h1m6 0h1m2 0h1m6 0h1m3 0h1m1 0h1m1 0h1m2 0h4m2 0h1m6 0h2m1 0h1m1 0h1m2 0h1m2 0h1m1 0h1m5 0h1m4 0h1m6 0h1m2 0h1m1 0h2m1 0h1m2 0h1m2 0h1m11 0h1m2 0h1m9 0h3m1 0h2m2 0h1m9 0h1m-268 1h2m1 0h1m1 0h3m2 0h2m1 0h1m1 0h1m1 0h6m1 0h1m2 0h2m1 0h1m1 0h1m4 0h1m1 0h4m1 0h6m3 0h1m2 0h5m6 0h1m3 0h1m2 0h1m14 0h4m2 0h1m2 0h1m7 0h1m2 0h1m2 0h1m1 0h2m3 0h3m2 0h1m4 0h1m1 0h2m1 0h1m2 0h2m4 0h2m3 0h2m1 0h2m1 0h1m2 0h1m1 0h1m1 0h3m2 0h2m4 0h1m6 0h1m2 0h1m3 0h1m2 0h2m1 0h1m2 0h1m3 0h4m2 0h2m1 0h1m4 0h1m24 0h1m1 0h1m6 0h2m5 0h1m4 0h2m13 0h1m4 0h1m-278 1h1m1 0h2m3 0h2m1 0h1m2 0h1m1 0h2m1 0h1m2 0h4m1 0h2m1 0h1m1 0h9m2 0h1m1 0h4m2 0h3m2 0h1m1 0h3m2 0h2m2 0h1m3 0h3m2 0h1m1 0h2m6 0h3m3 0h2m11 0h1m1 0h1m1 0h1m4 0h1m7 0h1m2 0h1m2 0h1m2 0h1m4 0h1m1 0h1m1 0h1m4 0h1m2 0h2m1 0h1m3 0h1m1 0h1m1 0h1m1 0h1m2 0h1m5 0h1m3 0h1m3 0h1m3 0h1m6 0h2m1 0h1m2 0h1m1 0h2m2 0h1m1 0h1m17 0h1m5 0h1m9 0h2m9 0h1m8 0h1m3 0h1m3 0h1m2 0h1m5 0h1m3 0h1m-286 1h1m2 0h1m2 0h1m3 0h1m1 0h5m2 0h1m1 0h3m2 0h3m2 0h1m1 0h4m1 0h4m1 0h1m1 0h6m3 0h1m1 0h1m1 0h3m3 0h1m20 0h1m13 0h2m4 0h2m2 0h1m1 0h1m3 0h2m1 0h1m8 0h1m3 0h1m4 0h1m3 0h1m5 0h3m3 0h1m3 0h1m1 0h2m3 0h2m1 0h1m2 0h1m1 0h1m2 0h1m5 0h1m3 0h3m1 0h2m5 0h1m1 0h2m2 0h1m1 0h1m1 0h1m2 0h3m5 0h1m4 0h1m15 0h4m2 0h1m4 0h1m1 0h1m13 0h1m7 0h1m1 0h1m3 0h1m-275 1h1m2 0h1m8 0h1m2 0h7m1 0h4m2 0h2m1 0h8m1 0h2m1 0h2m1 0h6m2 0h3m14 0h1m1 0h1m8 0h1m5 0h1m2 0h1m1 0h1m6 0h1m1 0h2m2 0h1m1 0h1m3 0h1m3 0h1m5 0h4m4 0h1m1 0h5m8 0h2m4 0h2m5 0h1m3 0h1m1 0h1m1 0h1m4 0h2m4 0h1m3 0h1m2 0h1m1 0h1m1 0h1m4 0h1m5 0h2m1 0h3m1 0h2m2 0h2m3 0h2m2 0h2m1 0h2m3 0h1m2 0h1m5 0h1m8 0h1m11 0h2m2 0h2m2 0h1m6 0h2m5 0h1m-297 1h1m5 0h1m4 0h3m1 0h2m6 0h1m2 0h1m1 0h1m1 0h2m1 0h2m1 0h1m3 0h2m1 0h1m1 0h3m1 0h5m1 0h3m1 0h4m1 0h1m2 0h2m2 0h4m1 0h1m2 0h3m2 0h1m1 0h1m23 0h2m2 0h1m5 0h1m3 0h2m1 0h1m4 0h1m5 0h1m6 0h1m1 0h2m1 0h2m7 0h1m2 0h1m2 0h2m5 0h1m5 0h3m3 0h2m1 0h1m2 0h2m1 0h3m2 0h1m5 0h4m1 0h1m3 0h2m3 0h2m3 0h2m2 0h2m3 0h2m8 0h1m1 0h1m3 0h1m4 0h1m9 0h2m2 0h1m5 0h1m6 0h2m5 0h1m-276 1h1m6 0h1m5 0h2m1 0h1m1 0h1m1 0h1m1 0h8m1 0h3m1 0h5m1 0h6m1 0h1m1 0h4m1 0h2m2 0h1m3 0h1m1 0h1m3 0h2m4 0h1m6 0h1m3 0h1m2 0h1m3 0h2m3 0h1m1 0h2m1 0h1m8 0h3m2 0h2m4 0h2m1 0h1m2 0h2m1 0h1m1 0h3m1 0h1m1 0h2m3 0h1m2 0h1m3 0h3m1 0h1m1 0h1m2 0h1m12 0h2m1 0h1m3 0h1m5 0h1m3 0h1m1 0h1m1 0h1m1 0h4m4 0h1m2 0h2m1 0h2m2 0h1m5 0h1m1 0h1m1 0h1m1 0h1m5 0h1m2 0h1m2 0h1m6 0h1m6 0h1m5 0h1m4 0h1m12 0h1m-278 1h1m1 0h1m2 0h1m1 0h2m1 0h1m1 0h2m2 0h3m1 0h2m1 0h7m3 0h3m1 0h4m1 0h3m1 0h1m1 0h1m2 0h1m1 0h2m1 0h5m1 0h3m2 0h1m2 0h2m2 0h2m3 0h1m1 0h1m5 0h1m7 0h2m4 0h2m4 0h1m1 0h2m7 0h4m3 0h4m1 0h1m7 0h1m2 0h3m2 0h1m1 0h3m2 0h2m3 0h1m1 0h1m2 0h1m8 0h1m2 0h1m1 0h1m3 0h1m3 0h1m2 0h1m3 0h3m7 0h1m7 0h1m1 0h1m4 0h1m1 0h1m1 0h1m1 0h2m1 0h2m4 0h1m1 0h1m4 0h1m2 0h1m16 0h2m6 0h1m3 0h2m5 0h1m5 0h1m-290 1h2m7 0h2m1 0h2m2 0h1m1 0h3m2 0h3m1 0h10m1 0h2m1 0h1m1 0h4m1 0h8m2 0h1m1 0h1m1 0h3m1 0h1m2 0h1m2 0h1m1 0h1m11 0h2m1 0h2m2 0h1m1 0h1m1 0h1m4 0h1m7 0h1m1 0h1m1 0h4m2 0h2m7 0h1m1 0h1m1 0h1m5 0h3m1 0h2m6 0h2m2 0h1m3 0h1m2 0h1m2 0h1m1 0h1m2 0h3m1 0h1m2 0h4m1 0h1m2 0h1m3 0h2m17 0h1m1 0h1m1 0h2m1 0h1m1 0h1m14 0h1m2 0h1m4 0h1m1 0h1m13 0h2m10 0h1m11 0h1m6 0h1m-291 1h1m1 0h1m6 0h4m3 0h1m2 0h1m1 0h1m1 0h6m1 0h10m1 0h5m1 0h1m2 0h7m1 0h5m2 0h5m2 0h1m4 0h1m3 0h1m1 0h1m2 0h1m1 0h1m2 0h1m3 0h1m1 0h1m3 0h2m1 0h1m1 0h1m1 0h2m1 0h2m1 0h1m1 0h1m1 0h2m2 0h1m3 0h1m5 0h2m3 0h1m1 0h1m2 0h1m1 0h1m4 0h2m3 0h1m4 0h1m2 0h2m2 0h1m1 0h1m1 0h1m2 0h3m8 0h1m1 0h1m1 0h1m1 0h1m2 0h2m2 0h1m2 0h4m2 0h1m2 0h1m2 0h1m1 0h1m3 0h2m3 0h1m3 0h1m3 0h1m1 0h1m3 0h1m9 0h1m4 0h1m2 0h1m1 0h1m5 0h1m8 0h2m6 0h1m8 0h1m-289 1h1m1 0h1m3 0h1m2 0h1m2 0h1m6 0h3m4 0h3m2 0h1m1 0h1m1 0h11m1 0h4m1 0h2m1 0h3m1 0h4m4 0h3m5 0h1m6 0h1m4 0h1m4 0h1m9 0h2m6 0h1m1 0h2m13 0h4m3 0h1m1 0h2m6 0h1m4 0h2m1 0h2m2 0h1m5 0h1m5 0h1m1 0h1m1 0h2m2 0h1m4 0h1m2 0h1m5 0h1m1 0h1m3 0h1m2 0h1m1 0h3m1 0h1m1 0h1m1 0h1m6 0h1m3 0h1m4 0h1m6 0h1m2 0h2m5 0h5m5 0h1m3 0h1m2 0h1m4 0h1m1 0h1m4 0h2m12 0h1m-273 1h3m1 0h2m4 0h5m1 0h16m1 0h7m1 0h2m1 0h1m1 0h1m3 0h1m3 0h1m1 0h1m3 0h3m3 0h1m7 0h2m1 0h2m9 0h1m1 0h1m2 0h1m5 0h1m3 0h2m4 0h1m1 0h2m3 0h1m1 0h3m2 0h1m3 0h1m4 0h1m1 0h1m4 0h2m2 0h1m3 0h1m2 0h2m1 0h1m3 0h1m8 0h1m1 0h2m3 0h1m6 0h1m3 0h5m6 0h2m2 0h2m3 0h1m2 0h1m2 0h1m1 0h1m3 0h1m6 0h3m4 0h1m3 0h1m5 0h2m7 0h3m1 0h1m-267 1h2m4 0h2m4 0h1m3 0h3m1 0h1m1 0h2m3 0h2m1 0h3m1 0h4m2 0h1m1 0h5m1 0h1m1 0h3m1 0h4m3 0h3m2 0h4m1 0h6m10 0h2m6 0h1m1 0h1m1 0h1m1 0h1m2 0h1m2 0h1m2 0h2m2 0h1m1 0h2m1 0h1m4 0h1m7 0h1m1 0h2m6 0h3m1 0h1m1 0h2m3 0h1m2 0h1m1 0h1m8 0h1m3 0h2m9 0h1m6 0h1m5 0h3m10 0h1m10 0h1m6 0h1m9 0h1m2 0h1m3 0h1m8 0h1m1 0h1m14 0h3m-265 1h2m2 0h1m1 0h1m2 0h1m1 0h1m4 0h2m1 0h6m1 0h19m1 0h13m1 0h1m4 0h2m7 0h2m2 0h3m2 0h1m10 0h1m2 0h1m5 0h1m1 0h1m1 0h1m5 0h3m3 0h2m2 0h2m5 0h3m3 0h2m1 0h3m1 0h1m2 0h2m4 0h1m1 0h1m2 0h1m2 0h1m3 0h2m4 0h3m6 0h3m2 0h2m1 0h1m3 0h2m1 0h1m2 0h1m3 0h2m2 0h1m4 0h1m3 0h2m1 0h1m4 0h1m2 0h1m1 0h5m15 0h1m12 0h1m8 0h1m-276 1h1m7 0h1m2 0h2m2 0h1m3 0h3m2 0h11m2 0h5m1 0h2m1 0h3m1 0h3m1 0h5m2 0h2m1 0h4m2 0h1m4 0h1m8 0h2m2 0h2m2 0h2m2 0h2m1 0h1m3 0h1m2 0h2m4 0h1m2 0h1m1 0h1m3 0h1m1 0h1m2 0h1m1 0h1m3 0h1m1 0h1m2 0h3m6 0h1m1 0h1m1 0h1m1 0h1m2 0h2m4 0h6m2 0h1m1 0h1m1 0h1m1 0h1m2 0h1m3 0h3m1 0h1m1 0h3m1 0h5m2 0h2m4 0h1m4 0h2m3 0h3m3 0h1m4 0h2m3 0h2m2 0h1m1 0h1m1 0h1m6 0h1m3 0h1m12 0h1m5 0h1m1 0h1m3 0h2m-274 1h2m6 0h1m1 0h3m4 0h6m2 0h5m1 0h2m1 0h5m1 0h15m3 0h1m3 0h1m1 0h2m1 0h2m1 0h1m1 0h1m1 0h2m3 0h2m2 0h1m1 0h1m2 0h1m2 0h2m9 0h5m2 0h1m1 0h3m2 0h5m3 0h1m4 0h3m1 0h2m4 0h1m1 0h2m1 0h1m1 0h1m1 0h1m1 0h3m2 0h1m3 0h1m3 0h1m1 0h1m1 0h4m1 0h1m1 0h1m1 0h1m1 0h3m2 0h2m5 0h1m1 0h1m1 0h1m3 0h4m2 0h1m2 0h1m1 0h1m3 0h3m6 0h1m1 0h1m5 0h1m7 0h3m1 0h3m14 0h1m-266 1h1m12 0h1m2 0h1m2 0h3m1 0h2m2 0h5m1 0h7m2 0h5m4 0h4m1 0h2m1 0h1m2 0h1m1 0h1m2 0h1m1 0h1m3 0h2m10 0h3m3 0h1m5 0h1m1 0h3m2 0h2m2 0h3m1 0h2m1 0h2m1 0h1m6 0h1m1 0h3m1 0h1m1 0h1m2 0h1m2 0h2m1 0h1m2 0h1m1 0h2m2 0h1m1 0h2m1 0h1m2 0h1m1 0h1m6 0h3m1 0h3m5 0h1m4 0h4m1 0h1m2 0h1m3 0h2m4 0h1m3 0h1m4 0h1m1 0h3m6 0h2m1 0h1m1 0h2m2 0h1m6 0h1m2 0h1m4 0h2m1 0h1m1 0h1m28 0h1m-279 1h1m9 0h2m1 0h1m1 0h1m1 0h1m1 0h3m1 0h6m1 0h12m1 0h6m4 0h7m1 0h1m1 0h3m3 0h2m2 0h1m6 0h1m2 0h2m2 0h4m1 0h1m1 0h4m2 0h1m1 0h1m3 0h2m1 0h3m1 0h1m2 0h4m10 0h1m1 0h3m9 0h1m3 0h1m6 0h2m1 0h1m2 0h2m1 0h3m1 0h3m1 0h1m1 0h2m1 0h1m1 0h1m1 0h3m2 0h2m3 0h2m5 0h4m7 0h1m6 0h1m6 0h4m3 0h2m1 0h1m1 0h1m1 0h2m8 0h1m10 0h1m-259 1h1m4 0h1m1 0h1m1 0h2m1 0h1m4 0h8m2 0h6m2 0h8m1 0h12m1 0h7m2 0h2m1 0h2m2 0h4m2 0h3m2 0h2m9 0h1m2 0h3m5 0h2m1 0h1m3 0h1m3 0h4m4 0h2m3 0h3m4 0h3m2 0h1m2 0h4m3 0h2m1 0h1m1 0h1m2 0h1m3 0h6m1 0h5m2 0h2m1 0h1m1 0h2m1 0h1m5 0h2m1 0h2m1 0h1m2 0h1m1 0h1m2 0h2m2 0h1m3 0h4m10 0h1m2 0h1m16 0h1m5 0h1m16 0h1m-273 1h4m6 0h2m1 0h4m1 0h1m2 0h2m1 0h17m1 0h9m1 0h4m1 0h2m2 0h2m1 0h1m1 0h1m1 0h1m4 0h1m2 0h1m1 0h1m12 0h1m4 0h4m2 0h1m1 0h1m7 0h2m4 0h5m2 0h1m5 0h4m1 0h1m8 0h2m1 0h2m2 0h1m1 0h4m2 0h1m1 0h1m4 0h1m2 0h1m1 0h1m2 0h2m7 0h2m3 0h2m3 0h1m9 0h1m5 0h2m5 0h1m1 0h3m4 0h1m4 0h1m5 0h1m12 0h1m10 0h2m1 0h1m-265 1h4m7 0h4m1 0h6m2 0h5m2 0h5m1 0h5m1 0h8m1 0h2m1 0h4m1 0h2m1 0h4m1 0h1m2 0h1m3 0h2m1 0h1m2 0h1m4 0h2m3 0h2m3 0h1m5 0h2m1 0h1m2 0h1m6 0h1m7 0h1m1 0h3m2 0h1m3 0h1m1 0h1m1 0h1m1 0h1m1 0h1m1 0h1m2 0h1m4 0h1m4 0h1m2 0h2m3 0h2m3 0h8m1 0h1m1 0h2m3 0h1m2 0h5m2 0h1m1 0h1m4 0h2m4 0h1m5 0h3m4 0h1m1 0h1m1 0h1m2 0h2m6 0h1m5 0h1m3 0h1m-245 1h1m6 0h2m1 0h1m5 0h1m1 0h7m1 0h5m1 0h1m1 0h12m1 0h10m1 0h1m2 0h1m1 0h1m2 0h3m1 0h1m3 0h1m1 0h1m1 0h3m3 0h1m4 0h2m6 0h1m1 0h2m1 0h2m2 0h2m1 0h4m3 0h1m1 0h1m5 0h2m3 0h1m1 0h2m1 0h1m4 0h1m1 0h1m2 0h1m2 0h3m1 0h2m3 0h4m4 0h2m1 0h5m2 0h4m1 0h1m3 0h1m3 0h1m4 0h4m1 0h4m1 0h1m3 0h1m9 0h1m4 0h1m6 0h3m1 0h1m2 0h3m5 0h1m1 0h1m8 0h1m1 0h1m6 0h1m7 0h1m-268 1h2m2 0h1m1 0h3m3 0h23m1 0h5m1 0h6m2 0h2m2 0h1m1 0h2m1 0h4m1 0h2m1 0h2m2 0h1m6 0h1m1 0h1m2 0h1m3 0h1m1 0h1m9 0h1m1 0h1m6 0h5m6 0h3m1 0h1m1 0h2m2 0h1m3 0h2m6 0h1m1 0h1m1 0h3m4 0h4m3 0h2m3 0h1m3 0h7m1 0h2m1 0h2m2 0h1m3 0h1m2 0h2m2 0h2m1 0h1m5 0h1m2 0h1m1 0h1m2 0h1m2 0h1m1 0h1m2 0h1m8 0h1m4 0h1m11 0h1m1 0h1m4 0h1m11 0h1m-273 1h1m7 0h1m3 0h5m1 0h3m3 0h2m1 0h11m1 0h3m1 0h14m1 0h1m1 0h5m1 0h1m1 0h1m4 0h2m4 0h1m2 0h1m7 0h1m1 0h1m1 0h1m1 0h3m1 0h1m6 0h2m1 0h1m1 0h2m1 0h1m4 0h2m2 0h1m1 0h2m6 0h1m2 0h1m1 0h2m1 0h1m2 0h1m1 0h1m2 0h1m14 0h1m2 0h3m1 0h3m1 0h4m1 0h1m1 0h5m5 0h1m3 0h1m1 0h2m1 0h1m3 0h3m2 0h1m4 0h1m4 0h1m5 0h1m6 0h1m1 0h1m1 0h1m2 0h1m4 0h2m2 0h1m3 0h1m2 0h1m-255 1h4m2 0h1m1 0h1m2 0h9m1 0h22m1 0h1m1 0h6m1 0h2m1 0h1m2 0h5m1 0h1m3 0h3m1 0h1m1 0h2m4 0h2m1 0h1m3 0h1m2 0h1m4 0h1m2 0h2m1 0h5m3 0h2m1 0h1m2 0h1m3 0h1m2 0h1m2 0h2m1 0h4m1 0h1m1 0h2m2 0h2m1 0h2m3 0h1m1 0h5m1 0h1m1 0h1m1 0h2m2 0h2m2 0h1m2 0h1m2 0h1m1 0h4m1 0h1m1 0h6m1 0h1m1 0h1m5 0h3m2 0h2m3 0h1m8 0h2m14 0h1m1 0h2m-243 1h1m3 0h2m5 0h4m2 0h2m1 0h1m3 0h1m1 0h3m1 0h5m1 0h2m1 0h4m2 0h8m1 0h4m1 0h6m1 0h1m1 0h3m4 0h1m1 0h1m10 0h1m1 0h1m7 0h1m1 0h1m1 0h1m4 0h2m2 0h2m1 0h1m6 0h1m1 0h1m1 0h2m1 0h2m2 0h2m1 0h3m1 0h2m5 0h1m3 0h8m3 0h3m1 0h1m1 0h2m1 0h2m1 0h2m2 0h2m2 0h3m1 0h1m1 0h1m1 0h1m5 0h1m1 0h1m5 0h1m3 0h2m2 0h1m6 0h1m5 0h1m9 0h1m4 0h1m2 0h1m7 0h1m6 0h1m-253 1h1m2 0h1m1 0h1m2 0h1m1 0h1m1 0h2m2 0h1m1 0h20m1 0h14m1 0h1m1 0h3m1 0h4m1 0h1m1 0h2m3 0h1m5 0h1m1 0h4m2 0h1m5 0h1m2 0h1m4 0h1m2 0h2m2 0h2m1 0h1m2 0h3m1 0h1m3 0h4m2 0h1m1 0h3m1 0h2m1 0h1m2 0h3m1 0h3m3 0h3m1 0h1m1 0h1m2 0h3m3 0h2m1 0h1m3 0h1m1 0h1m1 0h1m1 0h1m1 0h3m3 0h3m1 0h1m1 0h1m12 0h1m5 0h2m1 0h1m3 0h1m1 0h1m1 0h1m7 0h2m1 0h1m3 0h1m6 0h1m8 0h1m-254 1h1m4 0h2m2 0h1m1 0h1m2 0h4m2 0h7m1 0h2m1 0h18m1 0h9m1 0h2m1 0h1m1 0h7m1 0h2m2 0h2m4 0h2m4 0h3m4 0h1m5 0h1m1 0h1m3 0h7m3 0h4m2 0h1m2 0h1m3 0h3m1 0h1m1 0h1m2 0h1m6 0h2m2 0h1m1 0h5m1 0h1m1 0h9m1 0h4m2 0h1m4 0h1m1 0h2m2 0h1m2 0h2m2 0h1m1 0h1m1 0h2m1 0h1m2 0h2m1 0h1m10 0h1m2 0h1m2 0h1m5 0h1m2 0h2m6 0h1m5 0h2m4 0h1m5 0h1m-252 1h5m1 0h1m1 0h1m3 0h19m1 0h10m1 0h10m2 0h5m7 0h3m3 0h1m1 0h2m8 0h1m2 0h1m1 0h3m3 0h1m2 0h1m5 0h1m2 0h1m1 0h1m1 0h2m1 0h1m1 0h1m1 0h4m1 0h1m1 0h2m1 0h4m1 0h7m1 0h3m1 0h2m5 0h1m1 0h1m3 0h2m2 0h1m4 0h1m1 0h1m1 0h2m1 0h1m3 0h4m1 0h2m2 0h1m2 0h1m9 0h1m11 0h2m5 0h1m2 0h1m2 0h1m4 0h2m1 0h1m-246 1h1m3 0h1m3 0h1m1 0h6m2 0h1m2 0h1m2 0h10m2 0h17m1 0h11m1 0h3m2 0h1m2 0h1m2 0h1m1 0h3m17 0h1m3 0h2m1 0h1m4 0h2m3 0h2m3 0h1m1 0h8m1 0h3m2 0h2m1 0h1m1 0h1m1 0h1m2 0h2m3 0h1m1 0h1m1 0h4m1 0h1m2 0h3m1 0h2m1 0h3m5 0h1m1 0h2m2 0h1m1 0h1m1 0h1m1 0h1m1 0h2m1 0h1m1 0h1m9 0h1m5 0h2m2 0h1m4 0h1m5 0h2m2 0h1m1 0h1m3 0h1m8 0h1m1 0h3m1 0h1m-258 1h1m7 0h1m4 0h1m1 0h1m2 0h2m2 0h3m1 0h10m1 0h21m1 0h2m2 0h5m1 0h2m2 0h3m1 0h1m1 0h1m3 0h2m7 0h1m1 0h1m4 0h2m2 0h2m8 0h2m1 0h1m2 0h1m1 0h4m3 0h1m1 0h1m2 0h3m1 0h2m2 0h3m2 0h2m1 0h3m1 0h3m1 0h2m6 0h1m1 0h1m1 0h2m3 0h2m1 0h1m1 0h2m2 0h1m1 0h2m1 0h1m1 0h1m5 0h1m1 0h1m1 0h2m4 0h1m1 0h1m11 0h1m1 0h1m-217 1h1m1 0h1m4 0h1m3 0h2m3 0h2m1 0h29m2 0h14m1 0h1m1 0h6m3 0h1m4 0h1m1 0h1m4 0h2m12 0h1m1 0h1m2 0h1m1 0h2m3 0h1m2 0h1m1 0h1m1 0h1m3 0h1m1 0h2m1 0h2m1 0h4m4 0h1m2 0h1m2 0h3m2 0h1m1 0h1m2 0h3m3 0h2m3 0h1m1 0h1m1 0h3m1 0h2m3 0h1m1 0h2m1 0h1m6 0h1m1 0h1m2 0h1m1 0h1m3 0h1m3 0h1m8 0h1m6 0h1m3 0h3m18 0h1m-249 1h1m4 0h4m3 0h2m1 0h9m1 0h11m1 0h18m1 0h1m1 0h1m2 0h1m1 0h6m1 0h1m2 0h1m1 0h1m1 0h1m5 0h3m3 0h2m4 0h1m3 0h2m3 0h1m2 0h1m2 0h1m1 0h1m1 0h2m1 0h4m2 0h3m1 0h1m1 0h1m1 0h1m1 0h1m1 0h1m3 0h1m1 0h2m1 0h4m1 0h5m1 0h4m2 0h1m1 0h2m1 0h5m1 0h1m1 0h1m1 0h1m3 0h2m2 0h2m1 0h1m1 0h1m1 0h1m4 0h2m1 0h1m5 0h1m5 0h1m4 0h2m4 0h1m1 0h2m3 0h1m12 0h1m-242 1h1m2 0h1m1 0h1m4 0h2m2 0h1m1 0h2m3 0h1m1 0h5m1 0h29m2 0h3m1 0h2m1 0h1m2 0h4m5 0h1m1 0h1m8 0h3m5 0h2m1 0h2m1 0h4m3 0h2m1 0h1m1 0h1m1 0h2m2 0h4m1 0h1m1 0h3m1 0h3m1 0h6m1 0h1m1 0h1m2 0h3m1 0h1m1 0h1m4 0h1m2 0h1m1 0h1m2 0h1m2 0h1m1 0h4m2 0h1m1 0h1m3 0h2m1 0h2m2 0h1m9 0h1m3 0h1m2 0h1m2 0h1m3 0h1m5 0h2m1 0h1m4 0h3m-240 1h1m2 0h1m1 0h4m1 0h1m1 0h1m1 0h4m1 0h9m1 0h20m1 0h10m1 0h5m1 0h6m1 0h2m2 0h1m1 0h5m2 0h1m1 0h3m3 0h1m3 0h2m2 0h1m9 0h2m3 0h1m2 0h1m2 0h8m2 0h4m1 0h5m1 0h5m2 0h2m1 0h3m1 0h1m1 0h2m2 0h1m1 0h2m2 0h2m2 0h6m3 0h1m5 0h2m5 0h1m4 0h2m2 0h2m1 0h1m1 0h2m2 0h1m4 0h1m2 0h1m3 0h1m4 0h1m1 0h3m3 0h3m3 0h1m2 0h1m4 0h1m-253 1h1m9 0h2m1 0h1m1 0h2m1 0h8m1 0h13m1 0h4m1 0h10m1 0h5m1 0h1m3 0h1m1 0h3m1 0h1m1 0h5m1 0h1m1 0h2m2 0h2m1 0h1m2 0h1m1 0h1m1 0h1m3 0h2m1 0h5m2 0h1m1 0h1m3 0h10m2 0h7m2 0h4m4 0h2m1 0h1m2 0h4m2 0h2m1 0h1m1 0h4m2 0h1m1 0h2m3 0h1m2 0h2m4 0h1m4 0h2m2 0h2m1 0h1m2 0h4m3 0h2m5 0h1m9 0h1m3 0h1m1 0h1m12 0h1m-244 1h1m7 0h1m3 0h2m1 0h1m1 0h1m2 0h2m2 0h6m1 0h13m1 0h9m1 0h10m2 0h5m1 0h6m1 0h2m3 0h1m2 0h1m4 0h3m1 0h2m1 0h2m2 0h2m2 0h1m2 0h1m2 0h1m4 0h1m2 0h2m1 0h1m1 0h3m2 0h1m1 0h6m1 0h4m2 0h1m2 0h1m2 0h3m1 0h4m2 0h1m1 0h1m1 0h3m1 0h1m3 0h2m1 0h1m1 0h2m3 0h1m1 0h1m1 0h1m2 0h1m1 0h1m4 0h1m1 0h1m5 0h1m5 0h1m5 0h2m3 0h1m7 0h1m1 0h3m1 0h1m5 0h1m-243 1h1m2 0h1m6 0h1m2 0h2m1 0h1m1 0h11m1 0h8m1 0h13m1 0h7m1 0h3m1 0h3m1 0h5m1 0h1m1 0h1m1 0h1m1 0h1m2 0h1m3 0h2m2 0h1m3 0h1m2 0h2m1 0h1m5 0h1m2 0h1m1 0h5m1 0h1m1 0h2m2 0h4m1 0h3m1 0h5m3 0h4m2 0h2m2 0h1m1 0h4m1 0h1m1 0h2m3 0h1m2 0h3m2 0h1m2 0h7m1 0h3m10 0h1m2 0h1m3 0h1m1 0h2m6 0h3m2 0h1m3 0h1m1 0h2m4 0h1m12 0h1m-249 1h1m7 0h6m1 0h1m1 0h1m1 0h1m4 0h35m2 0h7m1 0h2m2 0h1m1 0h2m5 0h1m3 0h2m2 0h1m1 0h1m2 0h1m1 0h1m6 0h2m3 0h1m3 0h3m1 0h1m2 0h3m1 0h1m2 0h1m5 0h1m1 0h2m3 0h3m1 0h1m4 0h1m1 0h2m1 0h2m1 0h1m1 0h1m3 0h4m2 0h2m1 0h1m2 0h1m1 0h1m1 0h1m1 0h1m1 0h2m1 0h1m1 0h5m2 0h2m2 0h2m4 0h2m1 0h1m2 0h1m2 0h1m7 0h1m1 0h1m3 0h1m1 0h1m5 0h1m-230 1h3m4 0h4m2 0h5m1 0h31m1 0h7m1 0h1m1 0h1m2 0h1m1 0h1m1 0h3m3 0h1m2 0h1m1 0h1m1 0h3m1 0h2m1 0h1m2 0h2m3 0h2m1 0h3m1 0h1m2 0h2m1 0h1m1 0h2m3 0h2m1 0h3m2 0h6m1 0h2m4 0h2m4 0h2m3 0h1m1 0h2m1 0h3m3 0h1m3 0h1m1 0h1m1 0h1m2 0h4m2 0h2m3 0h5m6 0h1m1 0h2m1 0h4m1 0h4m6 0h1m2 0h1m9 0h2m4 0h1m-234 1h1m2 0h2m3 0h1m1 0h2m1 0h7m1 0h8m1 0h12m1 0h17m1 0h2m2 0h3m1 0h1m3 0h1m4 0h1m3 0h1m3 0h1m1 0h1m1 0h2m2 0h1m4 0h1m3 0h2m1 0h2m1 0h9m2 0h2m1 0h1m1 0h1m1 0h2m2 0h2m1 0h3m1 0h5m1 0h1m1 0h4m1 0h1m1 0h1m1 0h3m1 0h3m2 0h4m1 0h1m1 0h4m1 0h2m1 0h3m2 0h3m3 0h5m2 0h1m14 0h1m3 0h1m3 0h1m-220 1h2m1 0h1m4 0h2m1 0h3m1 0h1m2 0h3m1 0h12m1 0h23m2 0h6m5 0h2m1 0h1m3 0h3m1 0h2m2 0h3m1 0h1m1 0h1m2 0h6m1 0h1m2 0h2m1 0h2m2 0h1m3 0h2m1 0h6m1 0h1m1 0h2m2 0h1m1 0h2m1 0h4m1 0h1m5 0h1m1 0h1m1 0h1m1 0h1m1 0h1m1 0h5m1 0h2m3 0h1m1 0h1m5 0h1m1 0h1m3 0h1m4 0h1m5 0h2m2 0h3m2 0h1m1 0h1m1 0h2m2 0h1m2 0h2m6 0h1m-226 1h1m4 0h2m1 0h2m1 0h3m1 0h3m2 0h27m1 0h2m1 0h11m6 0h1m2 0h2m2 0h2m2 0h4m1 0h1m1 0h4m4 0h1m1 0h3m2 0h1m1 0h2m1 0h3m1 0h3m2 0h1m3 0h1m1 0h5m2 0h3m2 0h1m2 0h3m1 0h6m5 0h3m1 0h3m1 0h1m1 0h2m1 0h1m2 0h2m1 0h1m1 0h1m1 0h1m1 0h1m1 0h2m1 0h1m1 0h2m1 0h1m2 0h3m2 0h2m7 0h2m1 0h1m3 0h2m6 0h1m2 0h1m5 0h1m1 0h1m-232 1h1m8 0h1m4 0h3m1 0h8m2 0h4m1 0h13m1 0h8m1 0h3m2 0h2m1 0h3m2 0h2m3 0h1m2 0h1m1 0h1m1 0h7m1 0h1m1 0h2m3 0h1m1 0h3m1 0h1m1 0h1m1 0h1m2 0h3m1 0h1m2 0h4m1 0h1m1 0h2m2 0h2m4 0h1m4 0h3m1 0h8m4 0h3m1 0h1m2 0h5m1 0h1m2 0h3m3 0h2m2 0h4m2 0h2m1 0h1m1 0h1m2 0h3m1 0h1m20 0h1m6 0h1m-227 1h1m6 0h1m1 0h1m1 0h1m1 0h3m1 0h6m1 0h33m2 0h2m1 0h2m1 0h1m1 0h4m1 0h2m2 0h1m3 0h1m1 0h3m1 0h1m2 0h2m1 0h1m2 0h1m2 0h1m1 0h1m1 0h3m1 0h2m2 0h4m2 0h2m1 0h3m3 0h7m1 0h3m1 0h3m2 0h3m2 0h1m1 0h1m2 0h6m1 0h2m1 0h1m1 0h3m3 0h2m3 0h2m1 0h3m1 0h4m1 0h1m2 0h1m1 0h2m1 0h1m3 0h1m1 0h1m2 0h1m2 0h2m2 0h2m2 0h1m12 0h2m6 0h1m-235 1h1m4 0h1m1 0h1m2 0h1m1 0h1m1 0h5m1 0h32m1 0h3m1 0h10m4 0h2m1 0h1m2 0h1m1 0h1m1 0h2m1 0h3m1 0h2m1 0h4m2 0h2m1 0h1m1 0h2m3 0h8m1 0h1m1 0h1m6 0h2m1 0h1m1 0h3m1 0h1m1 0h1m2 0h1m3 0h2m1 0h10m1 0h1m2 0h3m2 0h1m1 0h3m1 0h1m1 0h1m1 0h1m5 0h2m1 0h1m3 0h4m5 0h1m6 0h1m2 0h1m2 0h1m4 0h1m3 0h1m-221 1h1m2 0h1m1 0h3m2 0h1m2 0h6m1 0h38m1 0h7m2 0h1m1 0h2m1 0h2m3 0h2m4 0h3m2 0h1m1 0h1m6 0h3m3 0h1m1 0h1m1 0h8m1 0h5m2 0h1m1 0h1m2 0h1m1 0h1m3 0h1m2 0h4m3 0h2m1 0h1m3 0h11m6 0h3m2 0h1m1 0h3m2 0h4m4 0h1m2 0h1m7 0h1m2 0h1m2 0h3m8 0h1m-219 1h1m1 0h2m4 0h2m1 0h1m1 0h2m1 0h1m1 0h1m1 0h1m1 0h1m1 0h37m2 0h2m1 0h1m2 0h7m2 0h2m2 0h1m2 0h2m4 0h1m5 0h2m2 0h5m1 0h5m1 0h3m1 0h2m1 0h2m1 0h3m1 0h9m1 0h4m3 0h1m1 0h2m3 0h1m1 0h6m1 0h2m2 0h1m2 0h3m1 0h3m1 0h2m1 0h2m1 0h5m1 0h1m4 0h1m1 0h1m7 0h2m2 0h1m1 0h1m1 0h1m2 0h1m4 0h1m-215 1h2m4 0h1m1 0h1m2 0h46m1 0h7m1 0h1m1 0h1m2 0h4m1 0h3m2 0h1m1 0h3m1 0h1m2 0h1m1 0h5m9 0h1m1 0h2m1 0h1m1 0h1m1 0h3m2 0h7m2 0h5m1 0h2m1 0h1m2 0h1m1 0h2m1 0h3m1 0h1m2 0h2m1 0h5m1 0h2m2 0h1m1 0h1m3 0h2m4 0h2m2 0h3m3 0h1m5 0h1m1 0h2m1 0h1m2 0h1m4 0h1m10 0h1m-225 1h1m2 0h1m1 0h1m1 0h1m3 0h2m1 0h1m1 0h2m1 0h2m2 0h46m2 0h2m1 0h1m1 0h1m2 0h6m2 0h1m1 0h1m2 0h2m5 0h1m4 0h8m1 0h3m2 0h4m3 0h1m1 0h3m1 0h1m1 0h1m2 0h1m1 0h3m1 0h1m1 0h7m1 0h1m2 0h1m1 0h1m2 0h1m2 0h1m2 0h2m1 0h5m5 0h1m1 0h2m3 0h3m1 0h1m2 0h1m1 0h4m4 0h2m5 0h1m10 0h1m-222 1h1m2 0h1m2 0h1m2 0h1m2 0h10m3 0h1m1 0h1m1 0h34m1 0h2m5 0h2m2 0h3m3 0h6m2 0h1m2 0h1m2 0h1m2 0h1m2 0h5m1 0h1m1 0h1m2 0h2m1 0h7m1 0h1m1 0h3m3 0h9m1 0h6m1 0h1m1 0h4m1 0h3m1 0h1m2 0h3m1 0h2m1 0h1m3 0h1m3 0h2m2 0h1m4 0h1m3 0h1m4 0h1m2 0h1m2 0h1m1 0h1m7 0h1m1 0h1m-213 1h1m2 0h1m1 0h3m1 0h2m2 0h2m1 0h6m1 0h40m1 0h5m2 0h2m3 0h1m2 0h1m1 0h1m1 0h4m1 0h1m2 0h4m1 0h3m2 0h3m1 0h9m2 0h3m1 0h4m1 0h5m1 0h3m1 0h2m1 0h8m1 0h3m2 0h2m2 0h2m1 0h2m1 0h2m1 0h2m1 0h1m1 0h4m2 0h1m3 0h2m2 0h1m1 0h1m3 0h2m4 0h2m4 0h1m4 0h1m10 0h1m5 0h1m-219 1h1m2 0h1m3 0h1m1 0h1m1 0h3m1 0h4m1 0h43m1 0h2m1 0h1m2 0h3m3 0h1m1 0h2m3 0h1m2 0h5m1 0h1m1 0h3m2 0h1m1 0h11m1 0h2m5 0h2m1 0h1m1 0h1m2 0h2m1 0h1m1 0h11m1 0h5m1 0h5m3 0h3m1 0h4m4 0h1m1 0h1m1 0h2m2 0h3m2 0h2m2 0h1m5 0h1m6 0h1m1 0h1m2 0h2m8 0h1m-224 1h2m4 0h3m3 0h3m1 0h53m1 0h4m2 0h2m2 0h2m1 0h5m1 0h1m5 0h3m2 0h1m1 0h2m1 0h5m1 0h6m2 0h2m1 0h1m1 0h1m1 0h2m1 0h7m2 0h3m1 0h3m1 0h3m3 0h1m1 0h5m1 0h1m1 0h1m2 0h1m2 0h1m2 0h2m4 0h1m1 0h1m1 0h1m1 0h1m1 0h3m1 0h2m1 0h2m4 0h1m1 0h1m1 0h1m2 0h1m5 0h1m2 0h1m-209 1h2m1 0h2m4 0h6m1 0h11m1 0h39m3 0h1m2 0h2m1 0h1m2 0h3m1 0h1m3 0h6m1 0h5m2 0h1m1 0h5m1 0h2m2 0h1m1 0h5m3 0h4m1 0h5m1 0h4m1 0h3m1 0h5m1 0h2m2 0h1m4 0h4m2 0h1m1 0h3m2 0h1m4 0h3m4 0h3m1 0h2m2 0h1m4 0h1m1 0h3m6 0h2m1 0h1m1 0h1m-216 1h3m1 0h2m2 0h57m1 0h5m1 0h2m1 0h6m1 0h2m1 0h2m2 0h6m4 0h3m3 0h2m2 0h2m1 0h2m1 0h5m1 0h7m1 0h7m3 0h3m2 0h2m1 0h4m1 0h2m1 0h4m3 0h1m3 0h1m2 0h1m3 0h2m2 0h1m2 0h2m3 0h2m1 0h1m6 0h1m5 0h2m6 0h1m-209 1h2m2 0h1m2 0h1m1 0h4m1 0h47m1 0h3m1 0h2m3 0h1m3 0h2m1 0h1m1 0h4m2 0h2m1 0h2m4 0h9m2 0h4m3 0h2m1 0h25m1 0h1m1 0h5m1 0h3m1 0h1m2 0h3m6 0h1m1 0h1m1 0h1m2 0h1m2 0h3m7 0h1m2 0h1m4 0h2m1 0h1m2 0h1m2 0h1m-200 1h2m1 0h2m1 0h4m2 0h45m1 0h1m1 0h3m2 0h5m1 0h1m1 0h1m1 0h1m1 0h1m1 0h2m4 0h11m3 0h5m1 0h4m1 0h14m1 0h1m1 0h3m2 0h6m1 0h2m5 0h1m2 0h4m4 0h2m1 0h2m1 0h2m1 0h1m2 0h2m1 0h1m6 0h1m4 0h1m5 0h3m-196 1h1m1 0h1m1 0h2m1 0h2m1 0h1m1 0h47m2 0h4m1 0h6m1 0h2m2 0h4m2 0h1m1 0h1m1 0h1m2 0h1m1 0h2m2 0h7m1 0h9m1 0h8m1 0h1m2 0h1m1 0h3m2 0h9m1 0h1m1 0h4m1 0h1m1 0h3m1 0h1m1 0h1m1 0h2m8 0h4m4 0h1m7 0h2m5 0h1m4 0h1m-204 1h2m2 0h4m1 0h10m2 0h40m1 0h1m1 0h4m1 0h1m1 0h1m2 0h1m2 0h1m1 0h2m4 0h1m1 0h1m3 0h3m1 0h3m1 0h4m2 0h1m2 0h1m2 0h1m1 0h3m1 0h11m2 0h4m1 0h2m1 0h4m4 0h1m1 0h1m2 0h3m1 0h1m1 0h1m1 0h1m2 0h2m1 0h1m1 0h2m1 0h2m2 0h2m1 0h1m3 0h1m5 0h1m1 0h1m1 0h1m4 0h1m7 0h2m1 0h2m1 0h1m3 0h1m-213 1h2m2 0h3m1 0h2m1 0h2m1 0h44m1 0h5m2 0h2m2 0h1m1 0h3m1 0h3m1 0h1m1 0h2m1 0h2m2 0h4m2 0h6m1 0h1m1 0h6m2 0h13m1 0h1m1 0h23m2 0h1m1 0h3m6 0h1m3 0h2m2 0h2m2 0h1m1 0h1m2 0h3m1 0h2m2 0h1m2 0h1m-189 1h1m4 0h54m2 0h1m2 0h9m1 0h1m2 0h4m2 0h1m1 0h4m2 0h2m2 0h2m1 0h1m1 0h1m1 0h8m1 0h2m1 0h4m1 0h6m1 0h1m1 0h1m1 0h1m1 0h5m3 0h5m1 0h7m3 0h1m2 0h1m1 0h1m3 0h1m4 0h2m9 0h2m1 0h1m4 0h1m2 0h1m1 0h1m-197 1h2m2 0h4m2 0h8m1 0h36m1 0h7m2 0h5m1 0h5m1 0h13m1 0h2m1 0h1m1 0h16m2 0h2m1 0h5m1 0h3m1 0h1m1 0h2m2 0h1m2 0h1m1 0h1m3 0h4m1 0h1m1 0h11m1 0h4m3 0h1m1 0h1m2 0h2m1 0h1m1 0h2m1 0h2m1 0h1m7 0h2m5 0h1m-201 1h1m1 0h1m4 0h55m1 0h7m1 0h4m1 0h1m1 0h2m1 0h9m1 0h1m1 0h5m2 0h4m1 0h4m2 0h7m1 0h3m4 0h4m3 0h10m7 0h2m1 0h1m4 0h2m1 0h1m2 0h2m2 0h2m3 0h1m4 0h1m3 0h1m1 0h1m6 0h1m-194 1h1m3 0h2m1 0h1m2 0h2m2 0h47m1 0h6m3 0h1m1 0h2m1 0h1m4 0h1m1 0h2m1 0h1m1 0h1m1 0h1m3 0h7m1 0h5m1 0h8m1 0h8m1 0h7m1 0h1m1 0h6m3 0h2m5 0h2m1 0h1m2 0h1m1 0h2m1 0h1m1 0h1m1 0h1m2 0h2m1 0h1m7 0h1m3 0h1m4 0h1m2 0h1m9 0h1m-199 1h1m2 0h2m1 0h2m1 0h37m1 0h15m1 0h2m3 0h4m1 0h1m1 0h7m1 0h3m1 0h4m1 0h5m1 0h35m1 0h4m4 0h1m1 0h1m1 0h2m2 0h1m1 0h4m1 0h1m3 0h2m3 0h2m2 0h8m8 0h1m-187 1h1m1 0h1m1 0h12m1 0h43m1 0h4m2 0h9m1 0h1m1 0h1m1 0h9m1 0h6m1 0h20m1 0h1m1 0h1m1 0h1m1 0h11m1 0h2m1 0h2m1 0h1m2 0h1m4 0h1m1 0h2m1 0h1m1 0h1m1 0h1m4 0h1m3 0h1m5 0h1m2 0h1m2 0h2m3 0h1m-190 1h1m4 0h2m1 0h51m1 0h8m3 0h2m1 0h1m3 0h3m1 0h2m1 0h4m1 0h4m1 0h5m1 0h23m1 0h2m1 0h2m1 0h1m1 0h4m1 0h6m1 0h1m1 0h2m2 0h1m2 0h1m1 0h1m1 0h1m1 0h1m3 0h1m4 0h1m2 0h1m1 0h1m4 0h1m1 0h1m2 0h1m1 0h1m5 0h1m-196 1h1m4 0h4m4 0h46m1 0h10m2 0h3m2 0h1m1 0h8m1 0h1m1 0h13m1 0h4m1 0h1m1 0h7m1 0h1m1 0h13m1 0h2m2 0h6m2 0h1m1 0h2m2 0h2m6 0h1m1 0h8m2 0h1m3 0h1m2 0h1m3 0h1m-179 1h1m1 0h2m1 0h1m2 0h48m1 0h8m1 0h2m1 0h4m1 0h4m1 0h3m1 0h38m1 0h1m1 0h2m2 0h2m1 0h3m1 0h8m2 0h3m4 0h3m3 0h2m3 0h2m1 0h3m3 0h1m3 0h1m11 0h1m-193 1h1m2 0h3m1 0h49m1 0h2m1 0h7m1 0h2m1 0h3m1 0h1m1 0h1m3 0h6m1 0h7m1 0h16m1 0h7m1 0h2m2 0h9m1 0h4m1 0h1m5 0h1m2 0h1m2 0h5m1 0h2m1 0h1m1 0h2m3 0h2m1 0h1m6 0h3m1 0h1m5 0h1m-188 1h2m2 0h2m1 0h1m1 0h55m2 0h3m2 0h10m1 0h25m1 0h5m1 0h1m2 0h2m1 0h4m1 0h1m2 0h3m1 0h7m1 0h2m1 0h2m3 0h1m2 0h1m2 0h1m4 0h3m6 0h1m2 0h2m3 0h1m1 0h1m-179 1h1m2 0h1m1 0h6m1 0h56m1 0h3m2 0h2m1 0h1m2 0h2m1 0h2m1 0h1m1 0h19m1 0h1m2 0h2m1 0h10m1 0h13m1 0h2m1 0h1m4 0h2m1 0h3m6 0h3m2 0h2m1 0h1m5 0h1m2 0h1m-177 1h1m1 0h2m2 0h2m1 0h58m1 0h2m1 0h1m1 0h2m2 0h39m1 0h6m1 0h3m3 0h4m1 0h2m2 0h1m2 0h1m3 0h1m2 0h2m1 0h3m6 0h1m2 0h1m9 0h1m1 0h1m1 0h1m3 0h1m-180 1h2m1 0h3m1 0h51m1 0h4m1 0h2m1 0h4m1 0h37m1 0h7m3 0h3m1 0h1m1 0h3m1 0h6m1 0h2m4 0h2m2 0h2m5 0h1m1 0h2m2 0h1m2 0h1m2 0h2m2 0h1m5 0h1m3 0h1m-183 1h2m1 0h58m1 0h4m1 0h4m1 0h3m1 0h8m1 0h1m1 0h15m1 0h22m2 0h2m2 0h4m1 0h1m1 0h6m2 0h3m1 0h2m3 0h1m1 0h1m1 0h1m1 0h1m-164 1h1m1 0h2m2 0h56m2 0h3m1 0h4m2 0h2m3 0h1m1 0h2m1 0h34m2 0h4m2 0h1m3 0h8m3 0h1m2 0h2m3 0h1m3 0h5m8 0h1m2 0h1m1 0h1m2 0h1m-173 1h1m1 0h2m1 0h1m1 0h51m1 0h1m1 0h2m1 0h1m1 0h1m1 0h48m1 0h1m1 0h4m1 0h2m1 0h8m1 0h1m1 0h3m1 0h1m3 0h5m3 0h2m1 0h1m1 0h3m16 0h1m-180 1h1m4 0h2m1 0h54m1 0h5m2 0h1m3 0h4m1 0h40m2 0h6m1 0h1m1 0h1m1 0h2m1 0h1m1 0h1m1 0h1m1 0h2m1 0h1m1 0h2m2 0h1m1 0h1m2 0h2m1 0h3m10 0h1m-175 1h1m1 0h1m2 0h2m3 0h1m2 0h48m1 0h8m1 0h5m1 0h53m1 0h3m1 0h2m1 0h1m1 0h2m1 0h1m1 0h1m4 0h5m3 0h1m11 0h1m-170 1h1m4 0h2m2 0h52m1 0h4m1 0h1m1 0h1m1 0h3m1 0h38m1 0h2m1 0h1m1 0h2m1 0h3m1 0h1m4 0h1m4 0h1m1 0h1m1 0h1m1 0h1m2 0h1m2 0h4m3 0h2m9 0h1m2 0h1m-171 1h1m4 0h1m2 0h60m1 0h1m2 0h50m6 0h1m1 0h1m1 0h4m2 0h1m2 0h8m2 0h3m1 0h1m13 0h1m-165 1h1m1 0h56m1 0h56m1 0h1m1 0h2m2 0h1m4 0h1m5 0h1m2 0h1m1 0h1m1 0h3m1 0h2m3 0h1m1 0h1m1 0h2m-158 1h3m1 0h53m1 0h5m2 0h56m1 0h1m1 0h3m2 0h2m1 0h4m4 0h2m1 0h3m2 0h1m3 0h2m-157 1h1m4 0h1m2 0h8m1 0h52m1 0h1m1 0h48m1 0h5m3 0h1m3 0h3m2 0h1m4 0h1m5 0h1m1 0h1m-149 1h1m2 0h1m1 0h57m1 0h4m1 0h49m1 0h1m1 0h3m1 0h3m1 0h1m2 0h1m1 0h1m1 0h3m1 0h1m5 0h1m-143 1h55m1 0h65m3 0h3m4 0h2m2 0h1m5 0h1m2 0h2m-144 1h1m1 0h53m1 0h58m2 0h2m2 0h1m3 0h2m1 0h9m8 0h1m-149 1h2m1 0h65m1 0h2m1 0h1m1 0h39m2 0h3m1 0h2m2 0h1m1 0h3m1 0h5m4 0h1m6 0h1m-144 1h3m1 0h52m2 0h55m1 0h2m5 0h1m1 0h1m3 0h5m3 0h1m2 0h1m-138 1h59m1 0h1m1 0h43m1 0h6m1 0h1m1 0h1m1 0h1m1 0h1m4 0h2m2 0h1m1 0h1m-134 1h1m1 0h7m1 0h49m1 0h3m1 0h45m3 0h7m1 0h2m2 0h2m1 0h2m2 0h1m8 0h1m-144 1h1m3 0h2m1 0h1m1 0h50m1 0h6m1 0h5m1 0h38m1 0h2m2 0h1m1 0h1m7 0h2m4 0h2m-133 1h2m1 0h6m1 0h58m1 0h1m1 0h35m1 0h9m1 0h5m1 0h1m3 0h1m2 0h1m3 0h1m5 0h1m-141 1h1m1 0h1m1 0h1m1 0h3m1 0h47m1 0h55m1 0h4m4 0h1m24 0h1m-146 1h1m2 0h2m1 0h3m1 0h44m1 0h5m1 0h42m1 0h9m3 0h1m1 0h2m9 0h1m-135 1h1m3 0h4m2 0h4m1 0h47m3 0h1m1 0h2m1 0h47m1 0h1m-114 1h2m2 0h97m1 0h5m4 0h2m6 0h1m-120 1h1m1 0h3m1 0h53m2 0h39m1 0h7m2 0h2m2 0h2m2 0h2m-118 1h1m1 0h45m1 0h10m1 0h7m1 0h27m1 0h6m1 0h2m4 0h2m3 0h1m1 0h1m7 0h1m-129 1h1m4 0h2m1 0h2m1 0h47m1 0h4m1 0h3m1 0h36m1 0h2m5 0h1m-112 1h2m1 0h6m1 0h49m1 0h3m1 0h12m1 0h29m1 0h1m1 0h1m8 0h1m-118 1h3m1 0h1m1 0h47m1 0h1m1 0h1m2 0h41m1 0h1m2 0h1m5 0h1m5 0h1m-118 1h3m1 0h2m1 0h42m1 0h1m1 0h3m2 0h6m3 0h5m1 0h5m1 0h22m1 0h2m2 0h1m1 0h1m1 0h1m2 0h1m-112 1h1m1 0h1m1 0h54m1 0h4m1 0h2m2 0h28m2 0h1m1 0h3m3 0h1m-108 1h2m1 0h2m1 0h47m2 0h1m1 0h13m1 0h1m2 0h2m1 0h17m1 0h2m6 0h1m-103 1h1m1 0h2m1 0h2m1 0h44m2 0h1m1 0h2m1 0h2m1 0h1m1 0h3m2 0h5m1 0h8m2 0h1m1 0h1m1 0h1m1 0h1m1 0h1m2 0h2m-98 1h1m3 0h2m1 0h45m2 0h4m1 0h5m1 0h1m1 0h3m4 0h16m1 0h1m1 0h1m1 0h1m9 0h1m-105 1h1m2 0h1m1 0h32m1 0h16m1 0h2m2 0h1m1 0h1m1 0h3m1 0h13m1 0h1m1 0h4m1 0h3m7 0h1m-96 1h45m1 0h2m3 0h2m4 0h7m1 0h4m2 0h1m2 0h1m1 0h1m6 0h2m1 0h1m-91 1h1m1 0h2m2 0h47m1 0h1m1 0h1m6 0h1m3 0h2m1 0h1m1 0h2m2 0h2m6 0h1m-87 1h1m3 0h1m2 0h38m1 0h4m3 0h1m1 0h1m1 0h2m1 0h1m3 0h2m4 0h4m4 0h1m2 0h3m3 0h1m1 0h1m-86 1h1m1 0h46m1 0h3m1 0h1m1 0h1m1 0h3m8 0h1m4 0h1m5 0h1m1 0h1m-82 1h1m1 0h36m1 0h6m1 0h4m3 0h2m1 0h1m2 0h3m1 0h2m1 0h1m3 0h1m-67 1h6m1 0h29m1 0h5m1 0h2m1 0h1m1 0h2m2 0h2m1 0h1m4 0h1m5 0h1m16 0h1m-90 1h2m2 0h3m1 0h38m1 0h3m1 0h1m2 0h1m3 0h1m17 0h1m-76 1h1m1 0h10m1 0h21m1 0h7m4 0h1m10 0h1m-59 1h4m4 0h2m1 0h31m2 0h1m3 0h3m-52 1h1m1 0h1m2 0h1m2 0h4m1 0h15m1 0h5m1 0h7m1 0h2m5 0h1m-49 1h1m4 0h2m1 0h10m1 0h16m1 0h2m2 0h3m2 0h1m-47 1h1m3 0h3m2 0h1m1 0h1m1 0h20m1 0h1m1 0h3m4 0h1m-42 1h2m1 0h2m2 0h2m1 0h5m1 0h4m1 0h3m1 0h1m1 0h3m1 0h1m5 0h1m2 0h1m-42 1h1m3 0h5m3 0h4m1 0h4m1 0h1m1 0h1m1 0h1m1 0h2m1 0h2m6 0h1m-41 1h1m1 0h3m1 0h7m1 0h1m1 0h4m1 0h3m6 0h3m1 0h1m2 0h1m2 0h1m-42 1h1m3 0h4m1 0h1m1 0h2m2 0h5m5 0h2m-29 1h1m8 0h1m3 0h1m1 0h1m2 0h2m4 0h2m2 0h3m4 0h1m-32 1h1m7 0h2m1 0h1m7 0h1m-15 1h1m1 0h1m5 0h1m1 0h1m4 0h1m1 0h1m16 0h1m-36 3h1m-5 1h1m3 2h1" stroke="#000" stroke-width="1.7" fill="none" filter="url(#b)"/>
<path transform="translate(348.5 481.45) scale(.5)" d="M71 173h4m17 13h3m-14 5h4m-18 3h5m-6 1h7m-2 1h3m-2 1h3m1 0h5m-10 1h3m17 2h3m-29 1h3m7 0h3m14 0h3m-22 4h4m5 0h4m-19 1h3m3 0h3m5 0h5m-25 1h3m10 0h3m3 0h5m-25 1h3m11 0h4m1 0h5m-19 1h5m4 0h3m3 0h3m3 0h4m-27 1h9m13 0h5m-28 1h5m19 0h3m-26 1h3m12 0h3m-23 1h3m10 0h3m3 0h8m1 0h3m-32 1h5m6 0h7m2 0h7m-26 1h5m7 0h5m3 0h7m4 0h6m-36 1h8m4 0h5m1 0h9m8 0h4m-40 1h8m4 0h15m10 0h3m-41 1h5m1 0h4m1 0h6m1 0h9m-20 1h3m1 0h5m3 0h9m2 0h5m-29 1h3m3 0h5m1 0h6m1 0h10m-30 1h5m1 0h6m1 0h4m4 0h7m82 0h3m-110 1h8m9 0h6m-22 1h8m6 0h7m4 0h5m-38 1h6m3 0h6m6 0h8m-28 1h6m1 0h8m1 0h13m-28 1h7m1 0h12m1 0h8m5 0h3m125 0h3m-164 1h5m3 0h4m1 0h5m3 0h8m1 0h6m-35 1h5m1 0h4m3 0h5m7 0h9m-39 1h3m2 0h4m1 0h6m1 0h6m10 0h3m84 0h3m-112 1h11m37 0h3m-67 1h3m7 0h4m1 0h13m1 0h7m100 0h3m-140 1h3m4 0h29m57 0h4m39 0h4m-133 1h30m1 0h3m55 0h3m38 0h4m-133 1h34m-35 1h36m-33 1h34m-33 1h32m-44 1h3m8 0h34m78 0h5m-118 1h36m1 0h4m42 0h4m27 0h3m-127 1h3m1 0h4m1 0h6m1 0h34m-52 1h4m3 0h9m3 0h33m27 0h3m-80 1h3m1 0h11m1 0h31m69 0h4m-118 1h44m60 0h7m4 0h3m-117 1h43m56 0h7m14 0h4m-124 1h40m52 0h3m4 0h6m-104 1h38m59 0h8m-106 1h38m61 0h4m14 0h4m-126 1h6m1 0h36m2 0h3m45 0h3m35 0h3m-135 1h6m3 0h34m3 0h4m5 0h3m11 0h3m21 0h4m-97 1h7m1 0h36m-43 1h36m1 0h8m37 0h3m3 0h3m15 0h3m4 0h4m-117 1h6m1 0h28m3 0h8m1 0h3m33 0h3m3 0h3m1 0h8m1 0h6m7 0h3m-119 1h6m3 0h28m1 0h9m27 0h3m6 0h4m3 0h18m13 0h3m-126 1h9m1 0h36m8 0h3m29 0h3m3 0h3m3 0h7m3 0h3m-110 1h44m5 0h6m12 0h3m9 0h4m1 0h4m10 0h5m5 0h5m14 0h3m-129 1h43m6 0h5m21 0h7m1 0h5m1 0h4m3 0h3m1 0h3m-104 1h43m6 0h4m18 0h3m3 0h5m3 0h11m-95 1h43m4 0h4m25 0h6m1 0h11m28 0h4m-125 1h51m25 0h17m14 0h3m-111 1h49m1 0h4m22 0h19m-96 1h49m17 0h8m3 0h15m1 0h7m-105 1h3m1 0h51m28 0h13m3 0h7m1 0h4m-109 1h51m29 0h15m1 0h12m16 0h4m-127 1h49m25 0h33m-106 1h48m22 0h37m-106 1h46m18 0h3m1 0h32m-101 1h48m16 0h36m-103 1h52m2 0h3m9 0h38m-106 1h51m13 0h47m-112 1h8m1 0h42m13 0h48m-111 1h6m3 0h42m1 0h4m8 0h46m-110 1h7m1 0h44m11 0h47m-109 1h50m6 0h4m1 0h49m-109 1h50m4 0h7m6 0h39m-107 1h52m2 0h7m8 0h37m-105 1h50m8 0h3m6 0h34m1 0h4m-107 1h3m1 0h48m8 0h41m-96 1h45m9 0h4m1 0h38m-98 1h45m16 0h33m-95 1h46m2 0h6m7 0h33m-93 1h44m3 0h3m1 0h5m3 0h34m2 0h5m-99 1h42m12 0h37m3 0h6m-100 1h43m12 0h35m3 0h3m-101 1h3m1 0h47m8 0h35m3 0h3m-99 1h42m1 0h8m4 0h6m1 0h27m-88 1h40m3 0h4m1 0h3m11 0h25m-86 1h40m1 0h4m15 0h5m1 0h21m1 0h3m-91 1h43m13 0h8m3 0h23m-91 1h39m17 0h5m1 0h4m2 0h22m-92 1h40m25 0h3m3 0h18m-90 1h42m29 0h16m-85 1h43m26 0h6m-74 1h42m25 0h6m-74 1h30m1 0h12m24 0h6m-74 1h30m3 0h9m-43 1h32m1 0h9m-41 1h36m1 0h4m-42 1h36m-37 1h35m4 0h3m-41 1h6m1 0h26m4 0h3m-38 1h3m3 0h26m-31 1h3m2 0h21m1 0h6m-27 1h19m3 0h5m-28 1h13m1 0h5m3 0h5m-28 1h6m1 0h6m3 0h3m-19 1h5m3 0h6m1 0h5m-19 1h3m6 0h3m3 0h3m-19 1h3" stroke="#000" stroke-width="2.6" fill="none"/>
<path d="M350.1 571.9L370.9 550L456.8 499.8L486.8 495.6M506.7 504.6L510.9 528.5L512.1 546.9L509.4 601.9L440.1 632L391.7 646.2L372.7 646.6L363.3 644.1L350.1 571.9" fill="none" stroke="#000" stroke-width="2.3" stroke-linejoin="round"/>
<rect x="486.9" y="490.72" width="24.97" height="11.22" fill="#fff"/>
<text x="488.1" y="500.5" font-size="11.6" fill="#111">97.6</text>
<path d="M348.5 481.2H513.1" fill="none" stroke="#222" stroke-width="1.0"/>
<path d="M348.5 480.7V646.9" fill="none" stroke="#000" stroke-width="1.5"/>
<path d="M347.75 646.9H513.1V480.7" fill="none" stroke="#000" stroke-width="1.9"/>
<text x="340.2" y="651.4" font-size="11.3" text-anchor="end" fill="#111">0</text>
<text x="346.6" y="665.9" font-size="11.3" text-anchor="middle" fill="#111">0</text>
<text x="340.2" y="619.65" font-size="11.3" text-anchor="end" fill="#111">50K</text>
<text x="378.05" y="665.9" font-size="11.3" text-anchor="middle" fill="#111">50K</text>
<text x="340.2" y="587.9" font-size="11.3" text-anchor="end" fill="#111">100K</text>
<text x="409.5" y="665.9" font-size="11.3" text-anchor="middle" fill="#111">100K</text>
<text x="340.2" y="556.15" font-size="11.3" text-anchor="end" fill="#111">150K</text>
<text x="440.95" y="665.9" font-size="11.3" text-anchor="middle" fill="#111">150K</text>
<text x="340.2" y="524.4" font-size="11.3" text-anchor="end" fill="#111">200K</text>
<text x="472.4" y="665.9" font-size="11.3" text-anchor="middle" fill="#111">200K</text>
<text x="340.2" y="492.65" font-size="11.3" text-anchor="end" fill="#111">250K</text>
<text x="503.85" y="665.9" font-size="11.3" text-anchor="middle" fill="#111">250K</text>
<path d="M348.5 646.9h-5M349.3 646.9v5.5M348.5 615.15h-5M380.75 646.9v5.5M348.5 583.4h-5M412.2 646.9v5.5M348.5 551.65h-5M443.65 646.9v5.5M348.5 519.9h-5M475.1 646.9v5.5M348.5 488.15h-5M506.55 646.9v5.5M347.9 640.55h-1.9M355.59 647.5v2.6M347.9 634.2h-1.9M361.88 647.5v2.6M347.9 627.85h-1.9M368.17 647.5v2.6M347.9 621.5h-1.9M374.46 647.5v2.6M347.9 608.8h-1.9M387.04 647.5v2.6M347.9 602.45h-1.9M393.33 647.5v2.6M347.9 596.1h-1.9M399.62 647.5v2.6M347.9 589.75h-1.9M405.91 647.5v2.6M347.9 577.05h-1.9M418.49 647.5v2.6M347.9 570.7h-1.9M424.78 647.5v2.6M347.9 564.35h-1.9M431.07 647.5v2.6M347.9 558h-1.9M437.36 647.5v2.6M347.9 545.3h-1.9M449.94 647.5v2.6M347.9 538.95h-1.9M456.23 647.5v2.6M347.9 532.6h-1.9M462.52 647.5v2.6M347.9 526.25h-1.9M468.81 647.5v2.6M347.9 513.55h-1.9M481.39 647.5v2.6M347.9 507.2h-1.9M487.68 647.5v2.6M347.9 500.85h-1.9M493.97 647.5v2.6M347.9 494.5h-1.9M500.26 647.5v2.6M347.9 481.8h-1.9M512.84 647.5v2.6" stroke="#000" stroke-width="1.3" fill="none"/>
<text x="34.2" y="584.2" font-size="17" text-anchor="middle" transform="rotate(-90 34.2 584.2)" fill="#111">SSC-A</text>
<text x="311.3" y="563" font-size="11.2" text-anchor="middle" transform="rotate(-90 311.3 563)" fill="#111">SSC-A</text>
<path d="M27.6 621.3V681H88.9" fill="none" stroke="#000" stroke-width="1.7" stroke-linejoin="miter"/>
<path d="M20.8 632.3L27.6 620.5L34.4 632.3M78.3 673.7L89.7 681L78.3 688.3" fill="none" stroke="#000" stroke-width="3.0" stroke-linejoin="miter" stroke-linecap="butt"/>
<text x="97.3" y="686.7" font-size="17" fill="#111">FSC-A</text>
<path d="M176.8 647.5V707.3" stroke="#000" stroke-width="3"/>
<path d="M169.2 706.3L184.4 706.3L176.8 721.6Z" fill="#000"/>
<path d="M455 647.5V707.3" stroke="#000" stroke-width="3"/>
<path d="M447.4 706.3L462.6 706.3L455 721.6Z" fill="#000"/>
<path transform="translate(70.7 722.75) scale(.5)" d="M250 0h1m-53 2h1m-16 1h1m80 2h1m-15 1h1m31 0h1m-116 3h1m117 0h1m-74 1h1m21 1h1m19 0h1m-12 1h1m-17 2h1m24 0h1m4 0h1m-17 3h1m27 2h1m-62 1h1m21 0h1m13 0h1m-31 1h1m31 0h1m8 0h1m21 0h1m-34 1h1m-25 1h1m15 0h1m1 1h1m-17 1h1m29 0h1m-65 1h1m79 0h1m-86 1h1m45 0h1m11 0h1m51 0h1m-66 1h1m-1 1h1m22 0h1m-31 1h1m17 0h1m27 0h1m-73 1h1m7 0h1m-29 1h1m21 0h1m20 0h1m17 0h1m-23 1h1m9 0h1m-9 2h1m11 0h1m3 0h1m25 0h1m-71 1h1m38 0h1m3 0h1m-71 1h1m38 1h1m53 0h1m-26 1h1m6 0h1m5 0h1m-88 1h1m50 0h1m19 0h1m36 0h1m-30 1h1m-47 1h1m6 0h1m18 1h1m1 0h1m7 0h1m-30 1h1m25 0h1m27 0h1m-69 1h1m5 0h1m2 0h2m62 1h1m-43 1h1m-35 1h1m15 0h1m16 1h1m-9 1h1m-15 1h1m2 0h1m26 0h1m6 0h1m-59 1h1m30 0h1m8 0h1m4 0h1m6 0h1m30 0h1m-32 1h1m1 0h1m-25 1h1m-49 1h1m28 0h1m5 0h1m21 0h1m7 0h1m1 0h1m8 0h1m-47 1h1m32 0h1m6 0h1m71 0h1m-104 1h1m18 0h1m2 0h1m21 0h1m5 0h1m-105 1h1m45 1h1m14 0h1m16 0h2m14 0h1m-38 1h1m17 0h1m3 0h1m-36 1h1m3 0h1m1 0h1m21 0h1m17 0h1m2 0h1m10 0h1m-72 1h1m33 0h1m10 0h1m4 0h1m15 0h1m-99 1h1m55 0h1m10 0h1m6 0h1m5 0h1m3 0h1m-67 1h1m53 0h1m3 0h2m-44 1h1m-17 1h1m21 0h1m9 0h2m4 0h1m2 0h1m8 0h1m1 0h1m13 0h1m22 0h1m-56 1h1m32 0h1m-73 1h1m26 0h1m43 0h1m3 0h1m8 0h1m-51 1h1m26 0h1m13 0h1m7 0h1m-98 1h1m29 0h1m48 0h1m23 0h1m-42 1h1m2 0h2m-49 1h1m31 0h1m24 0h2m1 0h1m12 0h1m-74 1h1m9 0h1m11 0h1m12 0h2m8 0h1m18 0h1m-66 1h1m12 0h1m22 0h1m8 0h1m8 0h1m25 0h1m-70 1h1m3 0h1m14 0h1m5 0h1m1 0h1m3 0h1m6 0h1m-86 1h1m37 0h1m37 0h1m6 0h1m2 0h1m1 0h1m3 0h1m18 0h1m-67 1h1m34 0h1m23 0h1m4 0h1m-83 1h1m24 0h1m30 0h1m5 0h1m13 0h1m3 0h1m-60 1h1m13 0h1m2 0h1m10 0h1m5 0h1m10 0h1m-57 1h1m34 0h1m2 0h1m3 0h1m3 0h2m1 0h1m6 0h1m-32 1h1m7 0h1m3 0h1m6 0h1m10 0h1m12 0h2m-93 1h1m45 0h1m5 0h1m10 0h1m2 0h2m1 0h2m1 0h1m5 0h1m5 0h1m-43 1h1m20 0h1m7 0h1m3 0h1m3 0h1m-82 1h1m20 0h1m24 0h1m18 0h1m8 0h1m9 0h1m1 0h1m-96 1h1m55 0h1m8 0h1m5 0h1m4 0h1m5 0h1m-50 1h1m19 0h1m3 0h1m11 0h1m3 0h1m41 0h1m-54 1h1m6 0h1m1 0h1m5 0h1m2 0h1m-85 1h1m41 0h1m7 0h1m8 0h1m4 0h1m-44 1h1m35 0h1m12 0h1m5 0h2m3 0h1m6 0h1m-67 1h1m50 0h1m1 0h1m3 0h1m3 0h1m12 0h1m-56 1h1m26 0h1m2 0h1m3 0h1m2 0h1m8 0h1m3 0h1m-70 1h1m17 0h1m6 0h1m2 0h1m7 0h1m1 0h1m4 0h1m4 0h1m6 0h1m3 0h1m7 0h1m8 0h1m-70 1h1m4 0h1m18 0h1m5 0h1m4 0h1m3 0h1m12 0h2m8 0h1m2 0h1m-49 1h1m14 0h1m1 0h2m3 0h1m4 0h1m15 0h1m1 0h1m15 0h1m-96 1h1m37 0h1m2 0h1m5 0h3m1 0h1m1 0h1m6 0h1m2 0h2m-65 1h1m42 0h1m3 0h1m1 0h2m2 0h1m2 0h1m1 0h2m3 0h1m1 0h1m5 0h1m4 0h2m2 0h1m3 0h1m1 0h1m-176 1h1m105 0h1m14 0h1m8 0h2m5 0h1m1 0h1m7 0h2m3 0h1m1 0h1m3 0h1m1 0h1m10 0h1m-56 1h1m32 0h2m4 0h1m3 0h2m-55 1h1m10 0h1m10 0h1m2 0h1m16 0h1m10 0h1m-97 1h1m49 0h1m14 0h1m4 0h1m3 0h1m1 0h2m2 0h1m2 0h1m1 0h2m2 0h1m2 0h1m5 0h1m-39 1h1m5 0h1m7 0h1m1 0h1m8 0h1m2 0h1m9 0h1m1 0h1m-85 1h2m11 0h2m5 0h1m7 0h2m7 0h1m16 0h1m1 0h1m8 0h2m1 0h2m1 0h1m3 0h1m2 0h1m3 0h1m3 0h1m-80 1h1m3 0h1m5 0h1m10 0h1m16 0h2m6 0h1m2 0h1m6 0h1m1 0h2m6 0h1m-73 1h1m22 0h1m8 0h1m13 0h1m1 0h1m12 0h1m1 0h1m2 0h1m4 0h1m-69 1h1m4 0h1m14 0h1m4 0h1m20 0h1m2 0h1m4 0h1m1 0h1m4 0h1m2 0h1m14 0h1m-68 1h1m2 0h1m21 0h1m2 0h1m6 0h1m5 0h1m1 0h2m10 0h1m4 0h1m-42 1h1m6 0h1m1 0h1m7 0h2m3 0h2m5 0h1m4 0h1m2 0h1m4 0h2m-104 1h1m30 0h1m19 0h1m1 0h1m1 0h1m10 0h1m4 0h2m14 0h1m6 0h2m5 0h1m-53 1h1m8 0h1m1 0h1m3 0h1m1 0h1m2 0h2m3 0h1m2 0h3m8 0h3m1 0h1m-85 1h1m53 0h1m3 0h1m3 0h1m6 0h1m3 0h4m1 0h1m2 0h1m4 0h1m1 0h1m16 0h1m-58 1h1m23 0h1m3 0h1m2 0h1m1 0h1m1 0h1m1 0h1m1 0h2m1 0h1m5 0h1m-57 1h1m2 0h2m10 0h2m8 0h3m1 0h1m5 0h3m13 0h1m2 0h1m-43 1h1m14 0h2m5 0h1m1 0h1m2 0h3m18 0h1m1 0h1m-65 1h1m4 0h1m7 0h1m13 0h1m2 0h1m9 0h1m1 0h1m3 0h1m-52 1h1m2 0h1m1 0h1m17 0h1m10 0h2m1 0h1m2 0h1m11 0h1m1 0h1m139 0h1m-204 1h1m11 0h1m1 0h1m7 0h1m8 0h1m1 0h1m7 0h3m1 0h2m3 0h1m1 0h1m3 0h2m3 0h2m6 0h1m-88 1h1m16 0h1m3 0h1m1 0h1m25 0h1m12 0h1m3 0h1m2 0h1m2 0h2m2 0h2m2 0h2m-63 1h1m12 0h1m16 0h3m5 0h1m1 0h2m1 0h4m1 0h1m6 0h1m1 0h1m5 0h1m-38 1h1m2 0h1m11 0h1m1 0h2m8 0h1m-82 1h1m36 0h1m2 0h2m1 0h1m1 0h1m3 0h4m1 0h1m5 0h2m2 0h2m6 0h1m3 0h1m5 0h1m2 0h2m-57 1h1m10 0h2m7 0h1m1 0h1m8 0h1m4 0h2m1 0h5m3 0h2m1 0h1m1 0h1m1 0h1m1 0h1m1 0h1m5 0h1m-90 1h1m15 0h1m2 0h1m7 0h1m4 0h1m8 0h1m3 0h1m1 0h1m4 0h1m1 0h1m7 0h2m4 0h1m6 0h1m1 0h1m5 0h1m-66 1h1m10 0h1m8 0h1m6 0h1m2 0h2m3 0h1m2 0h1m1 0h1m3 0h2m1 0h1m1 0h1m2 0h3m17 0h2m-86 1h1m11 0h2m12 0h1m3 0h1m4 0h1m4 0h1m1 0h1m3 0h1m4 0h2m2 0h2m1 0h1m2 0h2m5 0h1m1 0h1m-51 1h1m16 0h1m2 0h1m2 0h1m4 0h1m2 0h1m3 0h2m1 0h1m1 0h1m1 0h1m3 0h1m1 0h2m2 0h1m6 0h1m-83 1h1m11 0h1m3 0h1m8 0h1m6 0h1m5 0h1m7 0h1m1 0h1m2 0h1m1 0h1m2 0h2m3 0h1m2 0h2m4 0h1m6 0h2m-56 1h1m4 0h1m6 0h1m1 0h1m2 0h1m3 0h1m3 0h1m2 0h1m1 0h1m2 0h2m1 0h3m3 0h1m2 0h1m3 0h1m2 0h1m-69 1h1m14 0h1m2 0h1m5 0h2m1 0h1m3 0h2m1 0h1m1 0h2m4 0h4m1 0h2m9 0h1m4 0h4m2 0h1m-81 1h1m25 0h1m1 0h1m10 0h2m3 0h1m1 0h2m2 0h3m2 0h4m2 0h1m6 0h4m2 0h1m3 0h1m5 0h1m-70 1h1m1 0h1m2 0h1m11 0h1m2 0h1m4 0h1m14 0h2m5 0h2m4 0h2m4 0h1m-69 1h1m21 0h1m3 0h1m6 0h1m1 0h1m4 0h2m1 0h3m5 0h1m4 0h2m4 0h1m1 0h1m2 0h1m3 0h1m-86 1h1m20 0h2m4 0h1m19 0h2m6 0h2m2 0h1m4 0h3m2 0h1m4 0h1m3 0h1m2 0h2m4 0h1m-79 1h1m15 0h4m6 0h1m5 0h1m4 0h1m1 0h1m1 0h1m1 0h1m1 0h1m2 0h2m5 0h1m1 0h4m2 0h2m6 0h2m-65 1h1m7 0h1m2 0h1m1 0h1m11 0h1m7 0h2m2 0h2m1 0h1m1 0h2m1 0h1m1 0h1m2 0h2m2 0h2m1 0h2m3 0h1m-73 1h1m1 0h1m25 0h1m6 0h1m7 0h1m1 0h2m2 0h1m2 0h3m1 0h2m1 0h1m1 0h2m2 0h5m6 0h1m-71 1h1m6 0h1m15 0h1m7 0h1m1 0h1m1 0h2m1 0h1m3 0h5m2 0h1m1 0h2m2 0h1m3 0h3m1 0h1m2 0h5m-61 1h2m4 0h1m11 0h1m4 0h4m4 0h1m1 0h2m2 0h2m1 0h4m2 0h2m2 0h2m3 0h1m-69 1h2m12 0h2m2 0h1m2 0h2m3 0h3m2 0h2m1 0h2m1 0h1m2 0h2m1 0h2m2 0h2m1 0h2m2 0h1m1 0h2m2 0h1m6 0h1m-79 1h1m32 0h2m4 0h1m1 0h1m7 0h1m1 0h1m1 0h8m2 0h2m1 0h1m1 0h1m1 0h2m1 0h1m1 0h1m2 0h2m2 0h2m1 0h1m-76 1h1m8 0h1m6 0h1m4 0h1m8 0h1m1 0h1m1 0h1m1 0h4m1 0h4m1 0h5m2 0h1m1 0h1m1 0h1m2 0h3m1 0h2m2 0h1m4 0h1m-93 1h1m17 0h1m10 0h1m3 0h1m3 0h1m3 0h1m1 0h1m4 0h1m4 0h2m1 0h1m2 0h1m3 0h4m6 0h3m2 0h1m1 0h2m4 0h1m2 0h1m-75 1h1m6 0h1m7 0h1m3 0h1m1 0h1m4 0h2m1 0h2m1 0h1m3 0h1m2 0h1m7 0h3m1 0h1m1 0h4m1 0h1m1 0h1m1 0h3m1 0h1m1 0h2m3 0h1m-66 1h1m4 0h1m3 0h1m7 0h1m2 0h1m2 0h1m4 0h2m2 0h1m6 0h2m1 0h1m1 0h2m1 0h1m1 0h3m1 0h1m1 0h3m4 0h2m-82 1h1m13 0h1m7 0h1m4 0h1m8 0h1m4 0h2m1 0h2m5 0h1m5 0h2m6 0h3m1 0h2m6 0h1m-73 1h1m3 0h1m12 0h1m3 0h1m8 0h2m4 0h1m4 0h2m3 0h3m1 0h8m2 0h1m2 0h1m1 0h1m5 0h1m1 0h1m-64 1h1m4 0h1m6 0h1m2 0h1m1 0h1m2 0h5m3 0h3m1 0h1m1 0h4m2 0h5m3 0h1m1 0h3m5 0h2m1 0h1m-70 1h1m11 0h1m2 0h1m1 0h1m3 0h2m2 0h1m12 0h2m4 0h2m1 0h2m1 0h1m1 0h4m1 0h3m3 0h4m2 0h1m-62 1h1m16 0h1m1 0h1m1 0h2m1 0h2m3 0h4m2 0h2m2 0h1m1 0h3m3 0h2m3 0h1m1 0h3m-69 1h1m3 0h1m16 0h1m3 0h1m4 0h1m4 0h5m1 0h1m1 0h4m1 0h3m3 0h1m1 0h3m1 0h3m2 0h1m1 0h1m10 0h1m-63 1h1m7 0h1m6 0h1m3 0h1m1 0h2m1 0h3m1 0h1m1 0h3m1 0h5m2 0h7m1 0h1m2 0h1m-67 1h1m4 0h1m6 0h2m1 0h1m7 0h1m2 0h1m7 0h1m2 0h3m4 0h2m1 0h4m2 0h1m1 0h4m2 0h1m5 0h2m-59 1h1m5 0h1m3 0h1m2 0h1m5 0h2m3 0h1m3 0h5m3 0h1m1 0h4m1 0h1m1 0h1m1 0h2m1 0h2m3 0h3m-59 1h2m5 0h1m3 0h2m10 0h1m1 0h4m1 0h3m4 0h1m1 0h3m2 0h2m1 0h1m2 0h3m-42 1h1m1 0h1m4 0h2m4 0h1m3 0h1m1 0h2m1 0h1m1 0h4m1 0h7m1 0h1m1 0h1m2 0h3m-68 1h1m15 0h1m2 0h2m2 0h1m3 0h1m1 0h1m2 0h1m1 0h1m2 0h2m1 0h3m1 0h14m2 0h3m1 0h1m-63 1h1m4 0h1m4 0h1m1 0h1m2 0h1m3 0h1m3 0h1m5 0h6m3 0h2m1 0h1m1 0h7m3 0h1m1 0h1m2 0h1m1 0h1m1 0h2m-82 1h1m5 0h1m26 0h1m2 0h1m3 0h2m1 0h1m4 0h2m3 0h1m1 0h2m1 0h4m1 0h1m1 0h1m1 0h2m2 0h6m3 0h1m5 0h1m-75 1h1m2 0h1m7 0h1m7 0h2m5 0h1m1 0h4m1 0h2m4 0h1m2 0h4m1 0h5m2 0h2m1 0h1m1 0h3m4 0h1m1 0h2m-83 1h1m8 0h1m19 0h1m5 0h1m2 0h1m1 0h1m1 0h1m4 0h2m2 0h17m1 0h4m2 0h2m3 0h1m-77 1h1m19 0h2m11 0h1m2 0h1m4 0h3m3 0h6m1 0h7m1 0h2m3 0h1m3 0h1m1 0h1m1 0h1m2 0h1m-71 1h1m8 0h1m1 0h1m3 0h1m9 0h1m1 0h1m1 0h1m2 0h3m1 0h3m1 0h1m1 0h6m2 0h4m1 0h5m1 0h1m2 0h1m1 0h1m-58 1h1m1 0h1m6 0h3m5 0h1m3 0h2m2 0h10m2 0h3m1 0h1m1 0h1m1 0h2m1 0h1m1 0h1m1 0h1m1 0h1m1 0h1m2 0h1m2 0h1m-80 1h1m2 0h1m2 0h1m9 0h1m2 0h1m3 0h1m2 0h1m2 0h1m2 0h1m1 0h1m2 0h1m2 0h2m1 0h3m3 0h18m1 0h1m1 0h1m1 0h1m-63 1h5m16 0h1m2 0h1m1 0h1m2 0h1m1 0h4m1 0h2m1 0h3m1 0h4m1 0h1m2 0h2m1 0h1m1 0h1m1 0h1m3 0h1m-66 1h1m2 0h1m3 0h1m3 0h1m4 0h1m6 0h1m5 0h4m1 0h1m1 0h2m1 0h2m1 0h6m1 0h11m1 0h1m4 0h1m3 0h2m-67 1h1m5 0h2m4 0h2m1 0h1m1 0h1m3 0h3m2 0h6m3 0h2m1 0h8m1 0h2m1 0h1m3 0h3m2 0h1m-77 1h1m1 0h1m7 0h3m1 0h1m2 0h1m1 0h1m2 0h2m5 0h2m3 0h2m2 0h4m1 0h1m2 0h2m3 0h8m1 0h5m2 0h1m1 0h2m1 0h2m-65 1h1m3 0h2m2 0h1m5 0h1m7 0h4m3 0h1m2 0h4m1 0h4m2 0h1m1 0h2m1 0h8m2 0h5m1 0h2m-60 1h1m1 0h1m1 0h1m1 0h1m3 0h1m1 0h1m5 0h1m2 0h4m1 0h7m1 0h13m1 0h4m2 0h4m1 0h1m5 0h1m-87 1h1m16 0h1m1 0h1m12 0h1m4 0h1m1 0h1m2 0h1m1 0h2m1 0h1m1 0h1m1 0h15m1 0h7m1 0h1m3 0h1m-73 1h1m6 0h1m15 0h2m1 0h1m2 0h1m2 0h5m3 0h3m1 0h5m1 0h3m1 0h5m1 0h8m2 0h1m2 0h1m-63 1h2m2 0h3m3 0h1m4 0h1m7 0h1m2 0h1m3 0h3m1 0h14m1 0h4m1 0h4m-76 1h1m6 0h1m7 0h1m1 0h1m5 0h1m3 0h1m1 0h1m2 0h1m3 0h3m2 0h5m2 0h22m1 0h2m2 0h1m1 0h1m-53 1h1m6 0h1m5 0h1m2 0h1m1 0h1m1 0h4m2 0h10m1 0h5m1 0h3m-75 1h1m10 0h1m6 0h1m6 0h1m8 0h1m3 0h2m1 0h1m1 0h2m1 0h1m1 0h8m1 0h2m1 0h1m1 0h9m1 0h5m1 0h3m-68 1h1m4 0h1m7 0h2m1 0h1m5 0h1m1 0h3m1 0h1m1 0h2m1 0h1m1 0h1m1 0h5m1 0h15m1 0h3m-62 1h2m1 0h1m1 0h2m6 0h1m1 0h2m1 0h1m2 0h1m1 0h5m3 0h1m1 0h6m2 0h5m1 0h8m1 0h2m2 0h3m1 0h1m-69 1h1m4 0h2m6 0h1m4 0h1m1 0h1m1 0h1m2 0h1m2 0h1m4 0h2m2 0h1m1 0h2m1 0h5m1 0h18m6 0h1m3 0h1m-81 1h1m14 0h1m4 0h1m4 0h4m2 0h2m3 0h1m7 0h14m2 0h4m2 0h2m6 0h1m-74 1h1m10 0h1m6 0h1m5 0h1m2 0h1m1 0h1m1 0h2m2 0h2m2 0h11m1 0h6m1 0h3m1 0h2m1 0h2m-56 1h1m7 0h1m4 0h1m1 0h1m3 0h4m1 0h2m1 0h6m1 0h1m1 0h5m1 0h11m3 0h1m1 0h1m2 0h1m-62 1h1m3 0h1m2 0h2m1 0h1m1 0h1m1 0h2m1 0h1m1 0h1m1 0h2m1 0h1m1 0h2m1 0h2m1 0h21m1 0h1m3 0h1m155 0h1m-232 1h1m2 0h1m10 0h2m5 0h1m3 0h1m1 0h1m1 0h7m2 0h1m3 0h9m1 0h4m1 0h4m1 0h7m1 0h1m1 0h1m2 0h1m1 0h1m-71 1h1m5 0h1m1 0h2m7 0h1m2 0h1m1 0h2m2 0h1m1 0h6m1 0h9m1 0h5m1 0h10m4 0h1m-58 1h1m1 0h1m5 0h2m2 0h2m5 0h1m3 0h3m1 0h3m1 0h19m1 0h3m3 0h1m-51 1h1m2 0h2m1 0h7m1 0h4m1 0h1m1 0h2m1 0h7m1 0h7m1 0h1m1 0h1m1 0h1m2 0h1m-74 1h1m4 0h1m5 0h1m2 0h1m3 0h1m2 0h2m1 0h1m2 0h1m1 0h1m1 0h2m1 0h1m3 0h2m1 0h5m1 0h11m1 0h2m1 0h5m1 0h2m1 0h1m2 0h1m-65 1h1m7 0h2m2 0h1m5 0h2m2 0h1m1 0h2m1 0h1m1 0h2m4 0h2m1 0h15m1 0h6m-61 1h1m2 0h1m3 0h1m5 0h1m4 0h2m2 0h2m1 0h7m2 0h3m1 0h21m4 0h1m-67 1h1m9 0h1m1 0h1m4 0h1m1 0h3m1 0h2m7 0h25m1 0h1m1 0h3m1 0h3m2 0h1m-71 1h1m1 0h1m4 0h1m1 0h1m6 0h1m2 0h2m1 0h1m1 0h3m1 0h1m3 0h4m1 0h24m7 0h2m-66 1h1m1 0h1m1 0h1m2 0h1m5 0h2m3 0h3m2 0h6m2 0h21m1 0h2m1 0h4m6 0h1m-68 1h2m2 0h1m8 0h2m1 0h5m1 0h5m1 0h1m3 0h18m1 0h4m1 0h3m2 0h1m3 0h1m-73 1h1m10 0h1m1 0h1m1 0h1m4 0h3m2 0h1m1 0h1m1 0h2m1 0h2m4 0h3m1 0h17m1 0h6m-70 1h1m4 0h1m7 0h2m2 0h1m6 0h1m1 0h1m1 0h2m1 0h5m1 0h1m1 0h1m1 0h24m1 0h2m-57 1h1m1 0h1m1 0h3m1 0h1m1 0h1m3 0h4m1 0h1m1 0h3m2 0h2m1 0h24m1 0h1m1 0h1m3 0h1m-62 1h2m3 0h1m1 0h1m1 0h1m1 0h2m1 0h2m2 0h1m2 0h1m1 0h1m1 0h15m1 0h6m1 0h7m-63 1h1m7 0h2m10 0h5m1 0h2m2 0h1m3 0h4m1 0h1m1 0h19m1 0h1m1 0h1m3 0h2m-69 1h1m8 0h1m5 0h2m1 0h3m1 0h1m1 0h2m1 0h2m2 0h1m1 0h1m1 0h2m1 0h14m1 0h5m1 0h1m1 0h2m5 0h1m-64 1h2m6 0h1m1 0h3m1 0h1m2 0h1m1 0h2m4 0h3m1 0h26m2 0h1m-58 1h1m2 0h1m2 0h2m1 0h2m1 0h3m2 0h1m1 0h3m1 0h1m3 0h25m1 0h1m1 0h2m-62 1h1m6 0h1m2 0h1m1 0h1m3 0h1m1 0h1m2 0h1m3 0h1m1 0h32m1 0h1m-62 1h3m7 0h1m1 0h1m2 0h3m2 0h3m2 0h2m1 0h2m1 0h24m1 0h2m1 0h2m2 0h1m-62 1h2m1 0h1m3 0h1m8 0h2m1 0h2m3 0h1m1 0h26m1 0h3m-54 1h1m3 0h3m2 0h2m2 0h3m2 0h1m1 0h4m1 0h1m1 0h10m1 0h13m1 0h2m-57 1h1m11 0h2m4 0h1m3 0h7m1 0h20m1 0h5m6 0h1m-67 1h2m3 0h1m2 0h1m3 0h1m2 0h2m2 0h1m2 0h2m1 0h2m1 0h8m1 0h20m1 0h3m-61 1h1m6 0h1m9 0h1m1 0h2m3 0h3m2 0h2m1 0h1m1 0h6m1 0h16m-41 1h1m1 0h1m3 0h7m1 0h9m1 0h17m-59 1h1m5 0h2m2 0h1m2 0h1m2 0h1m2 0h1m2 0h2m1 0h1m1 0h30m-59 1h1m3 0h1m5 0h1m1 0h1m1 0h1m2 0h1m2 0h1m1 0h1m4 0h2m2 0h4m1 0h22m-61 1h1m7 0h1m6 0h1m7 0h2m1 0h1m2 0h8m1 0h22m5 0h1m-59 1h1m9 0h1m1 0h1m1 0h1m1 0h14m1 0h24m-53 1h1m3 0h1m2 0h1m1 0h2m1 0h1m1 0h1m2 0h1m2 0h3m3 0h25m-51 1h1m2 0h5m2 0h1m1 0h1m1 0h1m1 0h1m1 0h29m1 0h1m1 0h1m-54 1h1m4 0h1m2 0h1m1 0h1m2 0h3m1 0h2m3 0h4m1 0h24m-45 1h6m2 0h1m1 0h31m1 0h2m2 0h1m1 0h1m-52 1h1m7 0h2m2 0h9m1 0h24m1 0h1m3 0h2m-53 1h1m2 0h1m1 0h1m2 0h2m1 0h6m1 0h14m1 0h10m1 0h2m2 0h1m1 0h1m-60 1h1m9 0h1m4 0h6m1 0h2m1 0h2m2 0h26m1 0h1m-55 1h1m8 0h9m2 0h1m1 0h28m1 0h1m1 0h4m-68 1h1m9 0h1m7 0h2m3 0h1m2 0h4m1 0h4m1 0h23m1 0h1m-49 1h1m6 0h2m4 0h3m1 0h1m1 0h1m1 0h2m1 0h21m1 0h1m1 0h1m1 0h2m1 0h1m-53 1h2m1 0h1m1 0h1m2 0h2m1 0h2m1 0h1m4 0h27m-53 1h3m5 0h1m2 0h2m1 0h1m2 0h6m1 0h26m1 0h6m2 0h1m-59 1h1m9 0h4m5 0h6m1 0h23m2 0h1m-55 1h1m6 0h1m1 0h1m1 0h2m1 0h4m1 0h1m2 0h5m1 0h22m1 0h1m3 0h1m-57 1h1m5 0h2m5 0h1m2 0h2m2 0h1m1 0h32m-54 1h1m3 0h1m1 0h1m4 0h1m2 0h1m2 0h1m1 0h8m1 0h23m5 0h1m-55 1h1m4 0h1m1 0h1m2 0h3m1 0h2m1 0h3m2 0h26m-45 1h2m2 0h3m1 0h1m1 0h36m1 0h2m-54 1h1m1 0h2m4 0h1m2 0h1m1 0h1m1 0h4m1 0h1m1 0h26m1 0h1m4 0h1m-57 1h1m6 0h1m2 0h2m2 0h2m3 0h33m6 0h1m-61 1h1m7 0h1m1 0h1m2 0h1m1 0h3m1 0h5m1 0h3m1 0h21m3 0h2m-51 1h1m1 0h1m1 0h1m1 0h3m2 0h2m2 0h2m3 0h27m-45 1h1m1 0h5m1 0h2m3 0h1m1 0h4m1 0h22m6 0h2m-51 1h1m1 0h2m3 0h1m2 0h2m2 0h31m3 0h1m-52 1h2m1 0h1m1 0h2m1 0h3m2 0h1m1 0h31m2 0h1m-51 1h1m1 0h2m1 0h9m1 0h1m2 0h2m1 0h3m1 0h20m1 0h2m1 0h1m-48 1h1m2 0h1m4 0h34m1 0h1m3 0h1m92 0h1m-144 1h1m5 0h1m2 0h5m4 0h28m-45 1h3m1 0h2m1 0h7m1 0h29m1 0h1m-49 1h1m3 0h1m4 0h2m1 0h3m2 0h1m2 0h3m1 0h22m2 0h1m-50 1h1m1 0h2m2 0h1m1 0h1m1 0h1m4 0h34m2 0h1m-48 1h1m2 0h1m2 0h1m1 0h1m3 0h29m-48 1h1m6 0h2m4 0h5m1 0h29m-46 1h1m5 0h2m2 0h1m2 0h4m1 0h1m1 0h23m2 0h1m-44 1h1m2 0h1m2 0h4m1 0h31m6 0h1m-56 1h1m5 0h1m2 0h1m1 0h1m1 0h2m2 0h2m1 0h1m1 0h1m1 0h24m1 0h2m-44 1h1m3 0h2m2 0h1m2 0h2m1 0h26m-37 1h1m2 0h3m1 0h1m1 0h3m1 0h24m1 0h2m-45 1h1m3 0h9m1 0h26m1 0h1m-41 1h2m3 0h1m2 0h1m1 0h2m1 0h24m1 0h2m-38 1h1m2 0h2m2 0h3m1 0h21m1 0h3m-38 1h2m1 0h2m1 0h1m1 0h29m-37 1h2m2 0h7m1 0h22m1 0h1m2 0h1m-41 1h2m1 0h2m2 0h3m1 0h24m1 0h2m-43 1h1m5 0h3m1 0h1m1 0h29m-36 1h4m1 0h1m3 0h3m1 0h22m-40 1h1m3 0h1m1 0h1m2 0h1m1 0h4m2 0h1m1 0h18m2 0h1m-42 1h1m2 0h2m2 0h2m1 0h32m-43 1h1m4 0h1m3 0h1m3 0h27m4 0h1m-42 1h2m2 0h2m1 0h1m1 0h27m-34 1h2m1 0h3m1 0h28m1 0h1m-36 1h3m1 0h27m-30 1h1m1 0h1m1 0h1m1 0h3m1 0h19m2 0h1m-38 1h2m2 0h1m2 0h27m1 0h1m1 0h1m-39 1h1m1 0h1m1 0h1m2 0h3m3 0h22m-32 1h1m1 0h1m1 0h1m1 0h6m1 0h20m-37 1h2m6 0h2m1 0h24m-35 1h1m3 0h4m1 0h2m1 0h21m-38 1h1m9 0h1m1 0h1m1 0h24m-38 1h1m3 0h2m1 0h1m3 0h24m1 0h1m2 0h1m-38 1h1m1 0h1m1 0h1m5 0h1m1 0h21m1 0h2m-30 1h3m1 0h21m-31 1h1m1 0h1m2 0h1m1 0h25m-35 1h2m5 0h2m1 0h3m1 0h21m-33 1h1m3 0h1m1 0h1m1 0h1m1 0h21m-33 1h2m4 0h1m2 0h2m1 0h21m-33 1h1m1 0h1m5 0h1m1 0h2m1 0h17m-29 1h2m1 0h2m1 0h21m1 0h1m-25 1h1m3 0h1m1 0h18m-28 1h1m2 0h23m1 0h1m1 0h1m-30 1h1m1 0h2m2 0h2m1 0h17m2 0h1m-28 1h2m1 0h3m1 0h16m1 0h2m-27 1h1m1 0h1m1 0h19m-24 1h1m2 0h1m2 0h2m1 0h16m1 0h1m-29 1h3m2 0h1m1 0h19m-27 1h2m1 0h4m3 0h16m1 0h1m-32 1h1m6 0h21m-25 1h1m3 0h2m1 0h1m1 0h14m1 0h2m-29 1h1m1 0h2m2 0h2m2 0h16m-24 1h1m6 0h15m1 0h1m-24 1h1m2 0h1m2 0h15m3 0h1m-29 1h1m4 0h1m4 0h14m1 0h1m-23 1h1m1 0h1m3 0h15m-18 1h1m1 0h17m-25 1h1m3 0h2m1 0h15m-19 1h1m4 0h13m1 0h1m-23 1h1m3 0h1m2 0h12m-14 1h1m1 0h12m2 0h1m-18 1h13m2 0h1m-17 1h2m1 0h11m-14 1h14m-14 1h11m-14 1h1m1 0h13m-12 1h8m4 0h1m-15 1h2m1 0h5m2 0h1m1 0h1m-13 1h8m1 0h1m-12 1h1m1 0h9m-12 1h1m3 0h5m-7 1h5m1 0h2m-9 1h4m1 0h2m-9 1h2m1 0h2m2 0h1m-8 1h1m2 0h3m-3 1h1m1 0h2" stroke="#000" stroke-width="1.7" fill="none" filter="url(#b)"/>
<path transform="translate(70.7 722.75) scale(.5)" d="M137 155h4m-8 4h5m-7 4h3m-6 3h3m-2 3h3m-9 1h3m1 0h4m4 0h4m-21 1h3m7 0h3m3 0h3m-18 1h3m1 0h3m1 0h4m-13 1h9m1 0h4m-3 1h3m-20 1h3m13 0h4m-8 1h6m-7 1h6m-7 1h3m2 0h3m-17 1h5m1 0h5m-3 1h3m-2 1h3m1 0h3m-14 1h3m6 0h7m-6 1h5m-22 1h4m3 0h3m6 0h3m-18 1h4m3 0h3m1 0h3m-14 1h5m-6 1h7m-8 1h9m-10 1h15m-20 1h3m1 0h15m-19 1h18m-19 1h16m-15 1h14m-13 1h14m-19 1h3m1 0h17m-22 1h9m1 0h6m1 0h5m-20 1h6m3 0h4m3 0h3m-18 1h6m1 0h3m-11 1h10m3 0h3m-19 1h14m1 0h4m-23 1h22m-24 1h22m-23 1h22m-23 1h10m1 0h11m-21 1h8m3 0h8m-26 1h3m6 0h7m1 0h8m-12 1h13m-12 1h14m-22 1h4m3 0h14m-23 1h7m1 0h14m-21 1h20m-21 1h20m-30 1h3m7 0h21m-22 1h18m-27 1h3m3 0h20m-21 1h19m-20 1h19m-30 1h4m6 0h9m1 0h10m-21 1h9m3 0h8m-21 1h11m1 0h10m-23 1h21m-22 1h20m-20 1h19m-20 1h20m-23 1h22m-21 1h20m-27 1h3m3 0h20m-27 1h4m2 0h22m-22 1h21m-22 1h21m-25 1h24m-25 1h24m-22 1h21m-20 1h19m-20 1h19m-21 1h20m-26 1h4m1 0h22m-27 1h3m1 0h20m-35 1h3m13 0h18m-23 1h3m1 0h18m-25 1h26m-35 1h3m5 0h3m1 0h22m-21 1h20m-25 1h3m1 0h20m-28 1h27m-25 1h23m-22 1h21m-22 1h23m-23 1h22m-23 1h22m-22 1h21m-22 1h20m-23 1h20m-20 1h19m-20 1h21m-21 1h20m-21 1h20m-21 1h22m-21 1h18m-17 1h16m-25 1h4m4 0h18m-26 1h25m-26 1h25m-25 1h24m-24 1h3m1 0h19m-18 1h17m-22 1h3m1 0h17m-18 1h18m-17 1h17m-23 1h4m1 0h16m-20 1h19m-20 1h18m-21 1h20m-19 1h18m-19 1h18m-19 1h20m-19 1h18m-19 1h18m-19 1h17m-16 1h14m-15 1h14m-15 1h15m-16 1h15m-15 1h14m-15 1h14m-15 1h14m-13 1h14m-15 1h14m-15 1h13m-14 1h12m-13 1h12m-13 1h12m-14 1h13m-14 1h13m-13 1h12m-13 1h13m-14 1h13m-14 1h13m-12 1h10m-11 1h10m-10 1h9m-10 1h9m-9 1h9m-10 1h8m-10 1h9m-10 1h8m-7 1h5m-4 1h3m-4 1h4m-6 1h5" stroke="#000" stroke-width="2.6" fill="none"/>
<path d="M136.9 722.9L130.9 738.5L81.1 849.1V868.1L205.4 722.9H136.5M207.1 722.9L70.7 881.1L79 887L226.3 722.9H204.7" fill="none" stroke="#000" stroke-width="2.05" stroke-linejoin="miter"/>
<path d="M81.1 868.5L206.3 722.9" stroke="#000" stroke-width="3.4"/>
<rect x="113.3" y="725.39" width="24" height="10.84" fill="#fff"/>
<text x="114.5" y="734.8" font-size="11.1" fill="#111">5.31</text>
<rect x="205.1" y="726.09" width="26" height="12.84" fill="#fff"/>
<text x="207.3" y="736.5" font-size="11.1" fill="#111">94.7</text>
<path d="M70.7 722.5H236" fill="none" stroke="#222" stroke-width="1.0"/>
<path d="M70.7 722V887.7" fill="none" stroke="#000" stroke-width="1.5"/>
<path d="M69.95 887.7H236V722" fill="none" stroke="#000" stroke-width="1.9"/>
<text x="62.4" y="892.2" font-size="11.3" text-anchor="end" fill="#111">0</text>
<text x="68.8" y="906.7" font-size="11.3" text-anchor="middle" fill="#111">0</text>
<text x="62.4" y="860.45" font-size="11.3" text-anchor="end" fill="#111">50K</text>
<text x="100.25" y="906.7" font-size="11.3" text-anchor="middle" fill="#111">50K</text>
<text x="62.4" y="828.7" font-size="11.3" text-anchor="end" fill="#111">100K</text>
<text x="131.7" y="906.7" font-size="11.3" text-anchor="middle" fill="#111">100K</text>
<text x="62.4" y="796.95" font-size="11.3" text-anchor="end" fill="#111">150K</text>
<text x="163.15" y="906.7" font-size="11.3" text-anchor="middle" fill="#111">150K</text>
<text x="62.4" y="765.2" font-size="11.3" text-anchor="end" fill="#111">200K</text>
<text x="194.6" y="906.7" font-size="11.3" text-anchor="middle" fill="#111">200K</text>
<text x="62.4" y="733.45" font-size="11.3" text-anchor="end" fill="#111">250K</text>
<text x="226.05" y="906.7" font-size="11.3" text-anchor="middle" fill="#111">250K</text>
<path d="M70.7 887.7h-5M71.5 887.7v5.5M70.7 855.95h-5M102.95 887.7v5.5M70.7 824.2h-5M134.4 887.7v5.5M70.7 792.45h-5M165.85 887.7v5.5M70.7 760.7h-5M197.3 887.7v5.5M70.7 728.95h-5M228.75 887.7v5.5M70.1 881.35h-1.9M77.79 888.3v2.6M70.1 875h-1.9M84.08 888.3v2.6M70.1 868.65h-1.9M90.37 888.3v2.6M70.1 862.3h-1.9M96.66 888.3v2.6M70.1 849.6h-1.9M109.24 888.3v2.6M70.1 843.25h-1.9M115.53 888.3v2.6M70.1 836.9h-1.9M121.82 888.3v2.6M70.1 830.55h-1.9M128.11 888.3v2.6M70.1 817.85h-1.9M140.69 888.3v2.6M70.1 811.5h-1.9M146.98 888.3v2.6M70.1 805.15h-1.9M153.27 888.3v2.6M70.1 798.8h-1.9M159.56 888.3v2.6M70.1 786.1h-1.9M172.14 888.3v2.6M70.1 779.75h-1.9M178.43 888.3v2.6M70.1 773.4h-1.9M184.72 888.3v2.6M70.1 767.05h-1.9M191.01 888.3v2.6M70.1 754.35h-1.9M203.59 888.3v2.6M70.1 748h-1.9M209.88 888.3v2.6M70.1 741.65h-1.9M216.17 888.3v2.6M70.1 735.3h-1.9M222.46 888.3v2.6M70.1 722.6h-1.9M235.04 888.3v2.6" stroke="#000" stroke-width="1.3" fill="none"/>
<path transform="translate(348.7 722.75) scale(.5)" d="M171 0h1m97 0h1m6 0h1m-18 1h1m7 0h1m-51 1h1m30 0h1m12 0h1m5 0h1m-54 1h1m49 0h1m34 0h1m-39 1h1m27 0h1m-100 1h1m47 0h1m51 0h1m-84 1h1m22 0h1m20 0h1m13 0h1m-66 1h1m29 0h1m2 0h1m62 0h1m-91 1h1m23 0h1m42 0h1m-76 1h1m43 0h1m15 0h1m3 0h1m-15 1h1m4 0h1m21 0h1m19 0h1m-57 1h1m17 0h1m-82 1h1m27 0h1m5 0h1m22 0h1m11 0h1m6 0h1m2 0h1m-21 1h1m24 0h1m-18 1h1m15 0h1m-113 1h1m68 0h1m3 0h1m5 0h1m6 0h1m21 0h1m-20 1h1m7 0h1m1 0h1m11 0h1m1 0h1m-102 1h1m80 0h1m18 0h1m-71 1h1m30 0h1m18 0h1m6 0h1m3 0h1m4 0h4m-11 1h1m4 0h1m-60 1h1m14 0h1m16 0h1m3 0h1m25 0h1m5 0h1m-84 1h1m15 0h1m25 0h1m3 0h1m24 0h1m4 0h1m7 0h1m-107 1h1m58 0h1m48 0h1m-120 1h1m64 0h1m12 0h1m14 0h1m12 0h2m-98 1h1m35 0h1m25 0h1m24 0h1m9 0h1m-239 1h1m133 0h1m82 0h1m17 0h1m23 0h1m-130 1h1m50 0h1m6 0h1m2 0h2m17 0h1m10 0h1m-76 1h1m20 0h1m21 0h1m13 0h1m15 0h1m5 0h1m7 0h2m7 0h1m1 0h1m4 0h1m-80 1h1m35 0h1m3 0h1m21 0h1m19 0h1m-97 1h1m13 0h1m28 0h1m15 0h1m13 0h1m12 0h1m2 0h1m-118 1h1m54 0h1m41 0h1m7 0h1m19 0h1m-136 1h1m41 0h1m35 0h2m11 0h1m10 0h1m4 0h1m-78 1h1m57 0h1m42 0h1m-110 1h1m31 0h2m27 0h1m9 0h1m2 0h1m15 0h1m-45 1h1m9 0h2m12 0h1m3 0h1m9 0h1m26 0h1m8 0h1m-106 1h1m23 0h1m33 0h1m9 0h1m6 0h1m-68 1h2m38 0h1m9 0h1m11 0h1m-95 1h1m87 0h1m1 0h1m-83 1h1m17 0h1m9 0h1m11 0h1m18 0h1m3 0h1m3 0h1m17 0h1m21 0h1m2 0h1m-76 1h1m17 0h1m4 0h1m9 0h1m2 0h1m2 0h1m5 0h1m3 0h2m1 0h1m-75 1h1m15 0h1m1 0h1m13 0h1m14 0h1m3 0h1m7 0h1m3 0h1m3 0h1m-67 1h1m22 0h1m40 0h1m14 0h1m-33 1h1m10 0h1m-96 1h1m22 0h1m53 0h1m18 0h1m3 0h2m2 0h1m-64 1h1m31 0h1m11 0h1m11 0h1m15 0h1m2 0h1m-99 1h1m46 0h1m9 0h1m9 0h1m9 0h1m1 0h1m-43 1h1m32 0h1m5 0h1m5 0h1m-76 1h1m8 0h1m6 0h1m1 0h1m12 0h1m13 0h1m15 0h3m5 0h1m2 0h1m12 0h1m4 0h1m-82 1h1m25 0h1m6 0h1m19 0h1m8 0h2m2 0h1m11 0h1m-90 1h1m23 0h1m7 0h1m1 0h1m1 0h1m8 0h1m1 0h1m2 0h2m10 0h1m11 0h1m4 0h1m-60 1h1m32 0h1m8 0h1m2 0h1m3 0h1m3 0h1m1 0h1m14 0h1m-93 1h1m40 0h1m7 0h1m2 0h1m1 0h1m2 0h1m2 0h1m3 0h1m9 0h1m13 0h1m-72 1h1m18 0h1m11 0h1m1 0h1m1 0h1m6 0h1m3 0h1m4 0h1m2 0h4m-62 1h1m28 0h1m1 0h1m4 0h1m20 0h1m30 0h1m-96 1h1m1 0h1m20 0h1m6 0h1m26 0h3m-22 1h1m21 0h1m14 0h1m-83 1h1m5 0h1m15 0h1m14 0h2m21 0h1m2 0h1m3 0h2m9 0h1m9 0h1m-115 1h1m28 0h1m6 0h1m17 0h1m20 0h1m1 0h1m1 0h1m7 0h1m7 0h2m18 0h1m8 0h1m-80 1h1m22 0h1m8 0h1m9 0h1m5 0h1m-57 1h1m6 0h1m27 0h1m13 0h1m5 0h1m2 0h1m5 0h1m2 0h1m-116 1h1m24 0h1m12 0h1m21 0h1m14 0h1m4 0h1m16 0h1m5 0h1m7 0h1m-62 1h1m41 0h1m1 0h1m5 0h1m4 0h1m10 0h1m2 0h1m14 0h1m-108 1h1m11 0h1m4 0h1m8 0h1m11 0h1m16 0h1m-60 1h1m21 0h1m8 0h1m1 0h1m13 0h1m3 0h1m3 0h1m5 0h1m3 0h2m6 0h2m8 0h1m-36 1h1m9 0h1m5 0h2m7 0h1m9 0h1m5 0h2m3 0h1m-119 1h1m22 0h1m41 0h1m5 0h1m12 0h1m2 0h1m8 0h1m1 0h2m2 0h3m-97 1h1m65 0h1m17 0h1m3 0h1m1 0h1m2 0h1m19 0h1m-44 1h1m4 0h1m1 0h1m7 0h1m7 0h1m1 0h1m-97 1h1m53 0h3m5 0h1m6 0h1m14 0h1m2 0h1m11 0h2m9 0h1m-107 1h1m24 0h1m32 0h1m3 0h1m9 0h1m6 0h1m2 0h1m2 0h2m6 0h1m14 0h1m-106 1h1m39 0h1m23 0h1m5 0h1m3 0h2m7 0h4m1 0h1m6 0h1m4 0h1m4 0h1m-107 1h1m25 0h1m5 0h1m9 0h1m2 0h1m2 0h1m2 0h1m1 0h1m1 0h1m1 0h1m6 0h1m9 0h1m6 0h2m1 0h1m4 0h1m18 0h1m-120 1h1m27 0h1m16 0h1m23 0h3m15 0h1m6 0h1m-69 1h1m1 0h1m31 0h1m5 0h1m10 0h1m6 0h1m6 0h1m1 0h1m3 0h1m8 0h1m6 0h1m-83 1h1m19 0h1m2 0h1m22 0h1m9 0h1m3 0h1m3 0h1m-63 1h1m31 0h1m2 0h1m17 0h1m1 0h2m6 0h1m3 0h2m7 0h1m-97 1h1m25 0h1m8 0h1m15 0h2m1 0h2m5 0h1m6 0h1m2 0h1m8 0h2m3 0h1m5 0h1m2 0h1m8 0h1m-75 1h1m8 0h1m7 0h1m4 0h1m7 0h1m7 0h1m1 0h2m5 0h2m-60 1h1m34 0h2m4 0h1m8 0h2m6 0h1m5 0h1m2 0h1m-91 1h1m6 0h1m5 0h1m1 0h1m11 0h1m24 0h1m7 0h2m5 0h1m3 0h2m1 0h1m16 0h1m1 0h1m4 0h1m2 0h1m-91 1h1m19 0h1m12 0h3m5 0h1m3 0h1m9 0h1m1 0h1m2 0h1m1 0h2m3 0h1m2 0h1m1 0h3m4 0h2m6 0h1m-59 1h1m1 0h1m4 0h1m9 0h2m7 0h1m2 0h1m4 0h1m6 0h1m9 0h1m11 0h1m-67 1h1m14 0h1m3 0h1m10 0h1m6 0h2m4 0h1m3 0h1m9 0h1m-90 1h1m5 0h1m25 0h1m7 0h3m4 0h3m5 0h1m6 0h1m20 0h1m1 0h1m-71 1h1m5 0h1m6 0h1m11 0h2m1 0h1m8 0h1m2 0h2m2 0h1m3 0h1m2 0h2m1 0h3m2 0h1m3 0h2m1 0h1m-79 1h1m18 0h1m27 0h1m5 0h1m1 0h1m4 0h2m3 0h1m4 0h1m19 0h1m-115 1h1m19 0h1m26 0h1m7 0h2m5 0h1m6 0h2m2 0h1m1 0h2m1 0h1m2 0h1m2 0h2m3 0h1m2 0h2m3 0h2m6 0h1m-205 1h1m122 0h3m7 0h1m6 0h1m2 0h1m8 0h1m7 0h1m4 0h1m2 0h2m9 0h1m2 0h1m1 0h2m1 0h2m4 0h1m5 0h1m1 0h1m3 0h1m1 0h1m-97 1h1m21 0h1m2 0h1m7 0h1m15 0h1m3 0h2m1 0h1m1 0h1m1 0h1m1 0h1m3 0h1m5 0h1m3 0h3m5 0h1m4 0h1m3 0h1m5 0h1m-101 1h1m2 0h1m10 0h1m24 0h1m16 0h1m5 0h1m2 0h2m4 0h1m1 0h1m3 0h2m2 0h1m1 0h1m13 0h1m6 0h1m-58 1h1m5 0h2m2 0h2m3 0h1m4 0h1m4 0h1m2 0h1m1 0h1m3 0h2m2 0h3m9 0h1m-74 1h1m3 0h1m1 0h4m2 0h1m1 0h1m8 0h1m2 0h2m2 0h2m2 0h1m1 0h3m2 0h1m1 0h1m1 0h1m1 0h5m1 0h1m4 0h1m2 0h1m6 0h1m-100 1h1m16 0h1m2 0h1m4 0h1m4 0h1m9 0h1m8 0h1m1 0h1m2 0h1m2 0h1m7 0h1m1 0h2m2 0h1m1 0h2m3 0h3m3 0h1m3 0h1m1 0h1m5 0h1m-87 1h1m3 0h1m17 0h1m8 0h1m1 0h2m2 0h1m4 0h3m3 0h1m9 0h1m5 0h1m1 0h4m1 0h2m11 0h1m2 0h1m-90 1h1m6 0h1m3 0h1m5 0h1m2 0h1m5 0h2m2 0h1m3 0h2m7 0h1m12 0h1m4 0h6m1 0h1m1 0h2m5 0h1m1 0h3m-86 1h1m6 0h1m7 0h1m5 0h1m3 0h1m6 0h1m1 0h1m5 0h1m6 0h1m1 0h2m3 0h1m7 0h1m6 0h2m1 0h1m1 0h1m1 0h1m1 0h1m5 0h1m1 0h1m3 0h1m-93 1h1m15 0h1m23 0h1m4 0h1m4 0h1m9 0h1m3 0h1m1 0h1m4 0h1m2 0h1m3 0h1m1 0h1m2 0h1m11 0h1m-83 1h2m10 0h1m5 0h1m1 0h1m1 0h1m4 0h1m1 0h1m8 0h1m7 0h1m2 0h1m2 0h2m2 0h1m5 0h3m3 0h1m10 0h1m-62 1h1m8 0h1m2 0h1m4 0h1m4 0h1m1 0h1m2 0h1m10 0h4m1 0h1m3 0h1m2 0h1m2 0h1m1 0h1m-59 1h1m2 0h1m5 0h2m5 0h1m10 0h1m8 0h3m3 0h3m5 0h1m2 0h1m-91 1h1m7 0h1m23 0h1m1 0h1m1 0h1m3 0h2m2 0h1m12 0h1m6 0h1m1 0h3m3 0h1m1 0h1m8 0h2m13 0h1m-82 1h1m1 0h1m7 0h1m4 0h1m2 0h1m16 0h1m5 0h1m4 0h1m3 0h1m3 0h2m1 0h1m1 0h2m1 0h1m1 0h1m3 0h2m2 0h1m1 0h1m1 0h1m-78 1h1m7 0h1m16 0h1m2 0h1m7 0h1m7 0h3m2 0h1m5 0h1m2 0h1m3 0h1m1 0h1m1 0h5m3 0h1m10 0h1m-60 1h1m9 0h1m3 0h2m4 0h2m2 0h2m6 0h2m4 0h2m2 0h1m8 0h1m4 0h1m-67 1h1m3 0h1m2 0h2m5 0h1m2 0h1m5 0h1m2 0h1m1 0h2m5 0h1m8 0h3m2 0h1m3 0h1m10 0h1m-83 1h1m3 0h1m3 0h1m26 0h1m6 0h2m4 0h1m1 0h1m1 0h2m1 0h2m3 0h3m1 0h1m9 0h1m2 0h1m-70 1h1m19 0h1m2 0h1m11 0h2m4 0h1m2 0h1m4 0h1m1 0h1m1 0h2m2 0h1m1 0h3m2 0h1m-85 1h1m10 0h1m4 0h1m6 0h1m26 0h1m1 0h1m2 0h1m2 0h1m10 0h2m4 0h1m3 0h1m1 0h1m1 0h1m1 0h1m5 0h1m-95 1h1m9 0h1m1 0h1m3 0h1m1 0h1m2 0h1m1 0h1m21 0h2m8 0h1m9 0h2m1 0h2m2 0h4m1 0h1m1 0h1m2 0h1m1 0h1m1 0h1m2 0h1m1 0h1m3 0h1m-78 1h1m14 0h2m7 0h1m3 0h1m1 0h1m1 0h1m8 0h1m2 0h1m2 0h1m1 0h3m1 0h3m1 0h2m2 0h2m1 0h1m7 0h4m2 0h1m-103 1h1m33 0h2m1 0h1m6 0h1m1 0h1m8 0h1m6 0h2m9 0h3m1 0h1m3 0h1m2 0h1m6 0h2m2 0h2m-61 1h4m1 0h1m26 0h2m2 0h1m1 0h2m1 0h1m2 0h3m2 0h1m4 0h1m4 0h3m-93 1h1m17 0h1m13 0h4m4 0h1m21 0h1m1 0h1m4 0h1m6 0h1m2 0h1m1 0h2m1 0h1m4 0h1m2 0h1m6 0h1m-110 1h1m18 0h1m5 0h1m7 0h1m10 0h1m5 0h1m1 0h2m9 0h2m6 0h3m2 0h4m3 0h2m1 0h1m3 0h1m5 0h1m-105 1h1m34 0h1m7 0h1m10 0h1m14 0h1m2 0h2m3 0h2m2 0h1m1 0h1m3 0h1m1 0h1m1 0h1m2 0h3m4 0h1m15 0h1m-91 1h1m38 0h1m2 0h1m2 0h2m1 0h4m3 0h1m4 0h1m1 0h1m2 0h1m2 0h1m1 0h4m2 0h1m7 0h1m1 0h1m-84 1h1m3 0h1m12 0h1m6 0h1m1 0h4m1 0h1m2 0h1m6 0h2m2 0h4m4 0h2m1 0h4m5 0h1m4 0h1m5 0h1m-78 1h1m2 0h1m2 0h1m1 0h2m8 0h1m1 0h1m5 0h1m13 0h2m5 0h1m1 0h1m1 0h1m2 0h1m1 0h2m1 0h1m1 0h1m3 0h3m21 0h1m-87 1h1m3 0h1m16 0h1m4 0h2m5 0h1m1 0h3m1 0h2m1 0h2m3 0h1m3 0h1m2 0h1m1 0h1m2 0h2m1 0h2m1 0h1m2 0h1m11 0h1m-88 1h1m8 0h1m6 0h1m9 0h2m3 0h1m2 0h1m4 0h1m6 0h1m5 0h1m3 0h4m2 0h4m5 0h2m1 0h2m-75 1h1m4 0h1m4 0h2m3 0h1m4 0h2m4 0h1m2 0h1m9 0h1m1 0h2m1 0h1m2 0h1m1 0h2m1 0h3m2 0h1m1 0h3m2 0h1m4 0h1m13 0h1m10 0h1m-111 1h1m4 0h1m24 0h2m2 0h1m3 0h1m3 0h2m1 0h2m1 0h1m1 0h1m3 0h1m5 0h1m1 0h4m1 0h2m1 0h4m3 0h2m2 0h3m4 0h2m-72 1h4m4 0h1m2 0h1m13 0h3m1 0h1m4 0h1m2 0h1m2 0h2m3 0h1m5 0h1m1 0h5m3 0h1m3 0h3m7 0h2m-96 1h1m8 0h1m6 0h2m12 0h1m3 0h1m2 0h2m3 0h1m1 0h2m3 0h1m2 0h1m3 0h2m6 0h1m1 0h3m1 0h4m5 0h1m2 0h2m13 0h1m-90 1h1m16 0h1m3 0h1m1 0h1m3 0h1m1 0h1m4 0h2m3 0h1m7 0h3m1 0h1m4 0h2m2 0h3m2 0h6m6 0h1m5 0h2m-81 1h1m5 0h1m5 0h1m3 0h1m8 0h1m4 0h1m1 0h1m3 0h2m1 0h3m2 0h1m6 0h2m1 0h8m1 0h2m6 0h2m1 0h1m1 0h1m1 0h1m8 0h1m-91 1h1m6 0h1m2 0h1m9 0h1m1 0h1m1 0h2m1 0h1m6 0h2m1 0h1m8 0h2m1 0h2m3 0h1m1 0h7m4 0h4m3 0h1m2 0h1m5 0h1m-90 1h1m1 0h1m20 0h2m5 0h2m3 0h2m5 0h1m2 0h1m4 0h2m3 0h3m1 0h5m1 0h1m1 0h3m1 0h1m1 0h1m3 0h3m-72 1h1m1 0h1m4 0h1m6 0h4m12 0h1m2 0h1m7 0h8m1 0h2m2 0h1m3 0h2m1 0h2m1 0h2m9 0h1m2 0h1m8 0h1m-103 1h1m1 0h1m2 0h1m5 0h3m2 0h1m7 0h1m10 0h2m3 0h1m1 0h1m1 0h1m1 0h1m5 0h1m6 0h1m2 0h2m1 0h2m3 0h3m2 0h2m2 0h3m2 0h2m-64 1h1m1 0h1m1 0h1m6 0h1m3 0h3m3 0h1m5 0h2m1 0h2m1 0h1m3 0h2m1 0h2m1 0h1m1 0h1m1 0h1m2 0h1m1 0h1m2 0h1m4 0h1m1 0h1m1 0h1m2 0h1m-89 1h1m16 0h1m10 0h1m1 0h1m13 0h1m1 0h1m4 0h1m2 0h2m2 0h1m1 0h2m1 0h2m1 0h1m1 0h1m1 0h2m3 0h1m2 0h1m1 0h1m4 0h1m-82 1h1m11 0h2m1 0h1m3 0h1m2 0h1m2 0h1m13 0h1m2 0h2m1 0h1m2 0h1m3 0h2m1 0h1m1 0h2m3 0h5m2 0h2m2 0h1m1 0h2m8 0h1m2 0h1m3 0h1m-74 1h2m1 0h2m1 0h1m4 0h5m2 0h1m1 0h2m1 0h7m2 0h1m2 0h2m1 0h7m2 0h1m1 0h2m2 0h1m2 0h1m1 0h1m6 0h1m-86 1h1m5 0h1m2 0h1m1 0h1m10 0h2m10 0h1m8 0h4m2 0h1m2 0h3m1 0h1m1 0h5m1 0h1m1 0h4m1 0h2m2 0h4m2 0h1m-76 1h1m7 0h2m4 0h1m4 0h1m1 0h1m1 0h6m1 0h2m2 0h1m2 0h2m1 0h1m6 0h1m4 0h3m1 0h1m1 0h3m1 0h1m4 0h1m2 0h1m4 0h1m-86 1h1m2 0h1m5 0h1m4 0h1m5 0h2m13 0h1m3 0h2m1 0h1m3 0h2m1 0h2m3 0h1m4 0h2m1 0h1m1 0h4m1 0h6m3 0h3m7 0h1m5 0h1m-94 1h1m2 0h1m7 0h1m2 0h2m2 0h1m5 0h1m7 0h3m7 0h1m6 0h1m1 0h5m1 0h6m1 0h4m8 0h1m1 0h2m1 0h1m4 0h1m-87 1h1m19 0h1m6 0h1m1 0h1m2 0h2m3 0h2m5 0h1m2 0h1m3 0h1m2 0h2m1 0h1m1 0h2m1 0h5m1 0h1m1 0h2m2 0h1m1 0h2m1 0h1m1 0h1m-74 1h1m2 0h1m6 0h1m3 0h2m2 0h1m5 0h1m1 0h2m1 0h1m2 0h2m2 0h3m1 0h1m2 0h6m1 0h1m2 0h3m1 0h1m1 0h11m2 0h2m3 0h1m-90 1h1m2 0h1m12 0h1m8 0h4m1 0h1m2 0h2m1 0h1m2 0h2m3 0h2m1 0h2m1 0h1m3 0h1m3 0h3m3 0h11m2 0h2m3 0h1m-68 1h1m25 0h1m5 0h2m2 0h1m4 0h1m1 0h1m1 0h1m1 0h4m1 0h10m2 0h2m2 0h1m-80 1h1m6 0h1m2 0h1m8 0h3m8 0h1m3 0h1m2 0h3m1 0h1m5 0h1m1 0h2m1 0h3m2 0h6m1 0h1m3 0h3m3 0h2m3 0h2m-85 1h1m8 0h1m11 0h1m6 0h2m1 0h1m4 0h1m1 0h2m2 0h2m1 0h2m1 0h1m1 0h2m1 0h4m1 0h4m1 0h6m1 0h5m1 0h1m3 0h1m1 0h1m-93 1h1m17 0h1m3 0h1m1 0h1m5 0h4m1 0h2m1 0h2m5 0h4m7 0h4m3 0h1m1 0h1m1 0h4m1 0h5m1 0h1m1 0h1m3 0h1m1 0h1m3 0h1m-73 1h1m11 0h1m7 0h1m1 0h1m2 0h2m3 0h1m2 0h1m2 0h1m2 0h1m1 0h1m2 0h2m2 0h3m1 0h2m1 0h3m1 0h4m1 0h1m2 0h3m1 0h1m3 0h1m-87 1h1m8 0h1m7 0h1m5 0h1m3 0h1m5 0h1m3 0h1m4 0h1m3 0h2m1 0h3m1 0h2m1 0h1m2 0h6m2 0h1m1 0h3m1 0h2m3 0h2m1 0h1m1 0h2m-86 1h1m23 0h1m3 0h1m2 0h1m3 0h1m3 0h1m5 0h2m1 0h2m7 0h8m3 0h4m1 0h4m1 0h1m1 0h1m2 0h3m3 0h1m-86 1h1m8 0h2m11 0h3m1 0h1m1 0h1m1 0h1m1 0h4m1 0h2m1 0h2m2 0h3m1 0h1m1 0h1m1 0h2m1 0h1m1 0h7m2 0h1m1 0h3m1 0h1m-75 1h1m17 0h1m6 0h1m1 0h2m1 0h3m7 0h1m1 0h2m2 0h6m1 0h2m1 0h3m1 0h2m1 0h3m1 0h1m5 0h1m2 0h2m1 0h1m1 0h1m-82 1h1m5 0h2m7 0h1m4 0h1m1 0h2m4 0h2m3 0h1m5 0h3m1 0h1m2 0h1m1 0h6m1 0h6m2 0h2m1 0h2m1 0h1m3 0h2m1 0h1m4 0h1m-74 1h2m6 0h3m1 0h1m1 0h1m1 0h1m2 0h1m1 0h3m1 0h1m1 0h1m4 0h2m1 0h1m1 0h14m3 0h1m1 0h7m-79 1h1m9 0h1m3 0h1m1 0h1m1 0h1m1 0h1m1 0h1m3 0h3m2 0h1m1 0h2m2 0h1m1 0h1m3 0h3m2 0h1m1 0h1m1 0h1m3 0h1m2 0h9m2 0h1m1 0h1m1 0h2m5 0h1m1 0h1m1 0h2m-87 1h1m14 0h1m3 0h1m3 0h1m4 0h1m1 0h2m5 0h1m3 0h1m1 0h2m2 0h1m1 0h1m1 0h2m1 0h1m2 0h5m1 0h2m2 0h1m1 0h3m1 0h8m-78 1h1m5 0h1m2 0h1m5 0h1m3 0h4m5 0h2m2 0h1m6 0h2m1 0h2m2 0h3m2 0h1m2 0h2m1 0h3m1 0h5m1 0h2m2 0h2m2 0h2m5 0h1m2 0h1m-84 1h1m7 0h1m2 0h1m3 0h1m7 0h1m4 0h2m1 0h1m4 0h2m1 0h6m2 0h5m1 0h7m1 0h2m1 0h1m1 0h5m3 0h1m4 0h1m4 0h1m-87 1h1m2 0h1m14 0h1m9 0h1m4 0h1m2 0h1m1 0h2m2 0h1m1 0h1m1 0h1m2 0h1m1 0h1m1 0h5m1 0h3m1 0h2m1 0h1m1 0h4m2 0h2m1 0h2m-81 1h1m8 0h1m7 0h1m1 0h1m5 0h2m1 0h3m1 0h2m1 0h1m3 0h2m2 0h4m1 0h1m1 0h1m2 0h9m1 0h4m1 0h2m1 0h1m2 0h2m8 0h1m-80 1h1m3 0h1m9 0h2m3 0h1m3 0h2m1 0h3m6 0h3m1 0h1m1 0h4m3 0h9m1 0h2m2 0h4m1 0h2m1 0h1m1 0h1m1 0h1m1 0h1m-77 1h1m3 0h1m1 0h1m4 0h1m5 0h4m3 0h1m1 0h1m2 0h2m2 0h1m1 0h2m1 0h3m1 0h2m1 0h2m3 0h1m1 0h9m1 0h2m1 0h2m4 0h1m1 0h1m-147 1h1m70 0h1m4 0h1m1 0h1m6 0h1m1 0h1m1 0h2m5 0h1m3 0h1m3 0h1m1 0h2m3 0h3m1 0h2m1 0h1m1 0h2m1 0h3m2 0h1m1 0h4m1 0h2m1 0h2m1 0h1m-72 1h1m9 0h2m2 0h1m4 0h3m2 0h1m3 0h1m6 0h11m1 0h14m1 0h1m1 0h2m2 0h1m1 0h1m4 0h1m1 0h2m4 0h1m-92 1h1m4 0h1m6 0h2m3 0h1m6 0h4m1 0h2m3 0h1m1 0h2m6 0h3m1 0h1m1 0h3m1 0h21m1 0h3m1 0h1m5 0h1m-72 1h1m1 0h1m2 0h1m3 0h2m1 0h5m2 0h1m1 0h1m1 0h2m2 0h1m2 0h1m1 0h1m1 0h1m1 0h3m2 0h18m1 0h2m2 0h1m-53 1h1m4 0h2m2 0h1m1 0h1m1 0h3m4 0h1m1 0h2m1 0h10m3 0h8m1 0h1m1 0h2m-63 1h1m3 0h1m11 0h5m2 0h1m2 0h1m3 0h2m1 0h5m1 0h3m1 0h4m1 0h2m1 0h3m1 0h5m1 0h2m-68 1h1m6 0h1m1 0h3m9 0h1m1 0h1m1 0h3m1 0h2m5 0h3m1 0h15m2 0h2m6 0h1m4 0h2m-73 1h1m3 0h1m2 0h1m2 0h1m4 0h1m2 0h1m1 0h6m1 0h1m3 0h6m1 0h7m1 0h13m1 0h1m1 0h2m1 0h1m2 0h3m-67 1h1m5 0h1m3 0h2m6 0h1m3 0h1m1 0h2m1 0h1m4 0h1m1 0h14m2 0h2m3 0h1m1 0h4m-70 1h1m2 0h1m4 0h2m4 0h1m2 0h1m2 0h1m4 0h1m1 0h1m2 0h2m1 0h1m1 0h3m2 0h1m1 0h4m1 0h1m1 0h15m1 0h2m5 0h1m-63 1h2m1 0h2m4 0h1m8 0h1m3 0h2m1 0h4m1 0h4m2 0h7m1 0h5m1 0h2m2 0h3m2 0h2m-64 1h1m3 0h3m1 0h1m8 0h1m5 0h7m1 0h1m1 0h21m1 0h1m1 0h2m1 0h1m-71 1h1m18 0h2m3 0h2m1 0h2m2 0h1m2 0h1m1 0h8m1 0h10m1 0h8m1 0h2m2 0h1m1 0h1m-68 1h2m3 0h3m2 0h1m3 0h1m1 0h1m1 0h2m1 0h2m2 0h1m3 0h6m1 0h1m1 0h2m1 0h18m1 0h1m1 0h1m1 0h2m1 0h2m-71 1h1m5 0h5m1 0h1m3 0h1m1 0h1m1 0h1m1 0h2m5 0h1m1 0h1m1 0h2m1 0h2m2 0h3m1 0h2m1 0h2m1 0h9m2 0h2m1 0h2m1 0h1m3 0h1m-77 1h1m2 0h1m5 0h1m1 0h5m2 0h1m1 0h1m5 0h1m1 0h2m2 0h7m1 0h4m1 0h13m1 0h6m1 0h3m3 0h1m1 0h1m1 0h1m-77 1h1m1 0h1m3 0h1m5 0h2m3 0h2m1 0h2m2 0h2m1 0h3m1 0h1m1 0h5m3 0h26m3 0h1m1 0h1m-69 1h1m4 0h1m2 0h1m4 0h1m3 0h1m1 0h1m1 0h1m1 0h2m1 0h1m1 0h3m1 0h2m1 0h1m1 0h1m1 0h5m1 0h1m1 0h16m1 0h1m3 0h1m1 0h1m-84 1h1m8 0h2m1 0h1m2 0h1m1 0h1m2 0h1m4 0h1m1 0h3m1 0h4m2 0h4m1 0h1m1 0h2m1 0h1m1 0h21m1 0h3m1 0h4m-65 1h1m3 0h1m1 0h1m4 0h1m3 0h1m1 0h1m1 0h3m1 0h1m1 0h4m1 0h4m1 0h12m1 0h9m1 0h2m4 0h2m-71 1h1m1 0h1m4 0h2m3 0h1m3 0h5m1 0h1m2 0h1m3 0h11m1 0h25m-67 1h1m13 0h1m1 0h1m1 0h2m1 0h1m1 0h1m1 0h1m1 0h3m2 0h7m1 0h20m1 0h2m2 0h2m3 0h1m-71 1h1m9 0h1m1 0h2m2 0h1m2 0h2m1 0h3m1 0h1m1 0h1m1 0h1m1 0h5m2 0h21m1 0h2m1 0h3m5 0h1m-67 1h1m6 0h1m2 0h2m3 0h4m1 0h1m1 0h9m2 0h3m2 0h1m1 0h3m2 0h4m1 0h6m1 0h1m1 0h2m1 0h1m-67 1h1m1 0h2m6 0h2m1 0h1m1 0h3m2 0h2m1 0h1m1 0h4m1 0h8m2 0h6m1 0h6m1 0h6m1 0h2m6 0h1m-70 1h2m1 0h5m2 0h4m8 0h2m2 0h5m1 0h1m1 0h11m1 0h13m3 0h2m2 0h1m-69 1h2m3 0h1m1 0h1m1 0h2m4 0h1m1 0h1m4 0h6m3 0h1m4 0h23m1 0h1m7 0h1m-69 1h1m3 0h1m2 0h1m2 0h5m3 0h1m2 0h5m1 0h2m1 0h21m1 0h2m1 0h9m3 0h1m-68 1h1m7 0h3m1 0h1m1 0h3m1 0h1m1 0h3m1 0h4m1 0h3m1 0h1m1 0h24m3 0h4m-70 1h3m7 0h1m4 0h1m4 0h3m1 0h1m2 0h1m1 0h10m1 0h14m1 0h3m1 0h1m1 0h1m3 0h1m-69 1h1m5 0h2m8 0h1m2 0h2m2 0h5m1 0h6m1 0h4m1 0h4m1 0h5m1 0h13m-69 1h1m1 0h1m2 0h1m3 0h3m2 0h1m2 0h1m2 0h4m1 0h1m1 0h3m1 0h3m1 0h2m1 0h2m1 0h4m1 0h18m1 0h2m2 0h1m1 0h1m-63 1h2m6 0h2m3 0h1m5 0h3m2 0h2m1 0h2m1 0h1m1 0h2m1 0h23m5 0h1m-75 1h1m1 0h1m10 0h1m2 0h1m4 0h1m1 0h17m2 0h1m1 0h22m1 0h2m3 0h1m-67 1h2m2 0h1m3 0h2m2 0h1m2 0h2m1 0h1m2 0h1m1 0h1m1 0h12m1 0h15m1 0h5m1 0h1m4 0h1m-74 1h1m4 0h1m9 0h1m2 0h2m1 0h4m1 0h1m1 0h2m3 0h4m1 0h3m1 0h24m2 0h1m6 0h1m-74 1h1m2 0h1m1 0h1m3 0h1m1 0h1m1 0h1m1 0h2m3 0h1m4 0h1m2 0h3m1 0h2m2 0h5m1 0h11m1 0h7m1 0h5m2 0h1m-71 1h1m6 0h2m1 0h1m5 0h1m2 0h1m1 0h3m1 0h2m2 0h1m2 0h4m1 0h4m1 0h19m1 0h2m2 0h1m4 0h1m-76 1h1m1 0h1m8 0h1m2 0h1m4 0h1m2 0h2m2 0h3m1 0h10m1 0h14m1 0h14m1 0h1m-70 1h1m6 0h1m5 0h2m5 0h2m3 0h1m1 0h1m1 0h3m1 0h5m1 0h3m1 0h20m1 0h1m2 0h1m2 0h1m1 0h1m-70 1h1m1 0h1m1 0h2m1 0h3m3 0h3m5 0h1m1 0h3m2 0h1m1 0h1m1 0h1m1 0h2m1 0h19m2 0h5m1 0h1m-52 1h1m5 0h2m1 0h2m2 0h1m2 0h1m1 0h2m1 0h1m2 0h15m1 0h10m2 0h1m-69 1h1m14 0h1m1 0h2m2 0h1m1 0h4m1 0h2m1 0h3m1 0h29m-67 1h1m6 0h2m6 0h1m1 0h2m3 0h4m1 0h2m1 0h5m1 0h5m1 0h22m2 0h2m-71 1h1m6 0h2m2 0h1m2 0h1m3 0h2m2 0h5m2 0h2m4 0h3m1 0h1m1 0h22m1 0h2m2 0h1m-51 1h5m1 0h2m3 0h3m1 0h30m2 0h1m2 0h1m-59 1h1m7 0h1m2 0h3m4 0h1m1 0h5m1 0h4m1 0h23m-58 1h1m3 0h1m3 0h1m1 0h1m1 0h1m3 0h3m1 0h1m1 0h3m2 0h2m1 0h4m1 0h23m1 0h2m1 0h2m-62 1h2m5 0h1m3 0h4m1 0h3m1 0h4m1 0h2m1 0h22m1 0h5m-52 1h1m1 0h1m1 0h3m4 0h3m2 0h1m1 0h6m1 0h24m2 0h2m1 0h1m-60 1h1m1 0h2m1 0h1m2 0h1m1 0h1m2 0h3m3 0h1m1 0h6m2 0h2m2 0h17m1 0h3m1 0h3m1 0h1m-62 1h1m3 0h1m3 0h1m3 0h1m3 0h2m1 0h4m1 0h4m2 0h3m1 0h24m4 0h1m-62 1h1m2 0h1m3 0h3m2 0h1m1 0h1m1 0h3m3 0h1m1 0h7m1 0h20m1 0h1m1 0h1m-59 1h1m5 0h1m1 0h2m1 0h1m2 0h4m3 0h7m1 0h28m1 0h1m-57 1h1m5 0h1m1 0h1m3 0h1m1 0h2m1 0h4m2 0h4m1 0h25m1 0h1m2 0h1m-57 1h2m2 0h1m5 0h2m1 0h4m1 0h2m1 0h1m1 0h22m1 0h6m-60 1h1m1 0h1m5 0h1m5 0h5m5 0h1m2 0h4m1 0h3m1 0h1m1 0h20m2 0h1m-49 1h3m3 0h1m1 0h4m1 0h2m1 0h24m1 0h1m1 0h4m2 0h1m1 0h1m-57 1h1m5 0h1m3 0h1m2 0h8m1 0h22m1 0h6m5 0h1m-60 1h1m1 0h2m3 0h1m1 0h2m2 0h2m1 0h3m2 0h31m-57 1h1m3 0h1m1 0h2m2 0h2m2 0h2m2 0h1m1 0h1m1 0h1m1 0h7m1 0h17m1 0h2m1 0h1m1 0h4m-59 1h2m3 0h3m1 0h1m3 0h2m1 0h1m1 0h2m1 0h12m1 0h15m1 0h5m1 0h3m1 0h1m-59 1h1m2 0h2m6 0h1m1 0h13m1 0h23m1 0h3m-46 1h2m2 0h1m1 0h6m1 0h1m1 0h2m1 0h25m1 0h1m2 0h1m-57 1h1m4 0h1m3 0h6m1 0h1m2 0h34m1 0h1m-55 1h1m1 0h1m6 0h1m1 0h3m3 0h4m2 0h2m1 0h24m4 0h1m-49 1h1m1 0h1m7 0h1m1 0h6m1 0h22m1 0h2m1 0h2m-57 1h1m2 0h1m6 0h1m1 0h1m3 0h1m1 0h2m1 0h8m1 0h21m1 0h1m1 0h1m-46 1h2m1 0h1m1 0h1m1 0h3m1 0h1m1 0h29m1 0h1m-51 1h1m1 0h1m5 0h1m1 0h2m2 0h7m1 0h2m1 0h18m1 0h3m1 0h2m2 0h1m-56 1h1m2 0h1m2 0h1m4 0h2m1 0h4m2 0h2m3 0h7m1 0h15m1 0h4m1 0h1m-53 1h1m2 0h1m1 0h3m3 0h1m3 0h3m2 0h29m1 0h1m3 0h1m-55 1h1m5 0h1m3 0h2m1 0h2m1 0h32m4 0h1m-55 1h1m5 0h1m4 0h4m1 0h4m1 0h1m1 0h26m1 0h1m2 0h1m-49 1h1m2 0h1m2 0h1m1 0h1m2 0h31m1 0h1m2 0h2m-52 1h1m2 0h2m1 0h1m1 0h4m1 0h2m2 0h1m1 0h23m1 0h1m1 0h1m-45 1h1m1 0h1m1 0h4m2 0h7m1 0h22m1 0h1m-40 1h1m1 0h2m1 0h1m1 0h1m2 0h26m1 0h5m-48 1h1m1 0h1m3 0h1m1 0h6m3 0h30m4 0h1m-53 1h1m3 0h2m2 0h2m1 0h2m1 0h1m1 0h30m-45 1h1m1 0h2m5 0h2m1 0h6m1 0h1m1 0h1m1 0h24m-46 1h1m2 0h1m3 0h1m4 0h1m2 0h1m1 0h2m1 0h21m3 0h1m1 0h1m-49 1h1m9 0h1m1 0h10m1 0h23m3 0h1m-53 1h2m1 0h1m3 0h2m2 0h5m1 0h2m1 0h25m1 0h1m-45 1h1m5 0h3m1 0h2m1 0h3m1 0h23m1 0h2m1 0h1m-48 1h1m4 0h3m1 0h3m1 0h28m1 0h3m-39 1h2m1 0h1m3 0h1m2 0h1m4 0h23m-47 1h1m2 0h1m2 0h1m4 0h1m1 0h4m1 0h5m1 0h18m1 0h2m2 0h1m1 0h1m3 0h1m-53 1h1m3 0h3m2 0h4m1 0h4m2 0h27m-45 1h1m7 0h10m1 0h2m1 0h21m-39 1h1m3 0h1m2 0h28m1 0h2m-44 1h1m5 0h1m2 0h2m1 0h2m1 0h2m1 0h22m1 0h1m1 0h1m-48 1h4m5 0h1m2 0h1m4 0h2m2 0h24m-45 1h1m4 0h2m4 0h1m1 0h1m2 0h2m1 0h2m1 0h18m1 0h3m2 0h1m-45 1h1m4 0h1m1 0h12m1 0h21m-30 1h28m2 0h1m-43 1h2m2 0h1m2 0h2m2 0h3m1 0h23m4 0h1m-44 1h2m2 0h1m4 0h4m1 0h4m1 0h20m-40 1h1m4 0h2m2 0h1m1 0h1m1 0h26m1 0h1m-36 1h1m1 0h3m3 0h1m1 0h2m1 0h1m1 0h17m1 0h2m-35 1h1m2 0h4m2 0h3m1 0h18m2 0h1m1 0h1m-38 1h1m1 0h1m4 0h27m1 0h1m1 0h1m-46 1h1m5 0h1m3 0h1m5 0h5m1 0h19m-30 1h1m2 0h2m1 0h1m4 0h18m3 0h1m-42 1h1m1 0h1m4 0h4m1 0h1m1 0h2m1 0h1m2 0h16m1 0h2m1 0h2m-43 1h1m4 0h1m4 0h1m1 0h1m2 0h1m1 0h21m-37 1h3m2 0h2m2 0h6m1 0h19m2 0h1m-41 1h1m5 0h1m1 0h1m1 0h1m1 0h1m2 0h4m1 0h16m1 0h2m-34 1h2m1 0h3m1 0h2m2 0h22m2 0h1m-43 1h1m5 0h1m2 0h1m1 0h1m2 0h23m2 0h1m-33 1h1m2 0h2m1 0h23m1 0h1m1 0h1m-37 1h1m2 0h1m2 0h3m1 0h5m1 0h16m2 0h1m-34 1h2m1 0h1m4 0h2m2 0h21m-37 1h3m1 0h3m2 0h4m1 0h3m1 0h13m1 0h3m-34 1h1m5 0h1m1 0h1m1 0h2m1 0h1m1 0h18m1 0h2m-33 1h2m3 0h2m1 0h2m2 0h16m-30 1h1m2 0h4m2 0h1m1 0h2m1 0h17m-37 1h1m5 0h1m7 0h3m1 0h17m-28 1h1m5 0h4m1 0h16m-29 1h1m2 0h1m2 0h4m1 0h14m1 0h1m1 0h1m-29 1h1m2 0h7m1 0h15m1 0h1m-35 1h1m8 0h1m4 0h17m2 0h1m-27 1h1m1 0h7m1 0h13m1 0h1m-24 1h1m2 0h2m2 0h16m-26 1h3m2 0h1m1 0h2m1 0h15m-24 1h1m2 0h1m1 0h17m3 0h1m-30 1h1m3 0h1m3 0h2m1 0h16m-26 1h2m1 0h2m1 0h1m2 0h13m-24 1h1m1 0h1m1 0h2m3 0h15m1 0h1m-24 1h1m2 0h2m2 0h14m-19 1h1m4 0h15m-23 1h1m4 0h16m-24 1h2m2 0h1m4 0h14m2 0h1m1 0h1m-27 1h2m1 0h2m2 0h1m1 0h14m-24 1h2m3 0h16m1 0h1m-16 1h12m2 0h1m-27 1h1m1 0h1m1 0h1m5 0h12m2 0h1m-16 1h15m-14 1h13m-18 1h1m1 0h1m2 0h9m1 0h2m-22 1h1m3 0h1m4 0h1m1 0h9m1 0h1m-13 1h9m1 0h1m-14 1h10m1 0h2m-12 1h9m-11 1h3m2 0h8m-13 1h7m1 0h1m-10 1h11m25 0h1m-41 1h1m5 0h5m2 0h1m-11 1h9m-14 1h1m4 0h7m-10 1h1m1 0h2m1 0h1m1 0h1m-11 1h1m3 0h6m2 0h1m-9 1h3m1 0h1m6 0h1m-12 1h2m5 0h1m-9 1h2m2 0h1m-2 1h1m308 4h1" stroke="#000" stroke-width="1.7" fill="none" filter="url(#b)"/>
<path transform="translate(348.7 722.75) scale(.5)" d="M161 125h3m-7 15h3m-2 1h3m-12 1h3m-2 1h3m-4 1h3m-9 3h3m-13 3h3m4 0h3m-8 1h3m1 0h3m-10 6h5m-3 1h4m-6 3h3m-8 1h13m-12 1h5m3 0h8m-15 1h3m5 0h3m-11 2h4m-12 1h3m3 0h5m-6 1h5m-6 1h3m1 0h3m-8 1h3m3 0h3m-12 1h6m2 0h5m-16 1h8m3 0h6m-11 1h3m1 0h5m-52 1h3m44 0h4m-3 1h4m-19 1h3m3 0h7m1 0h6m-21 1h3m5 0h9m1 0h3m-22 1h5m5 0h7m-19 1h10m3 0h7m-30 1h3m1 0h3m4 0h10m1 0h6m-27 1h4m5 0h17m-26 1h3m10 0h3m2 0h4m1 0h3m-27 1h4m21 0h3m-9 1h3m3 0h4m-24 1h3m2 0h4m3 0h6m1 0h3m-22 1h10m1 0h3m4 0h3m-22 1h14m6 0h3m-23 1h14m-21 1h3m7 0h5m1 0h4m-9 1h3m3 0h4m-11 1h5m1 0h7m-17 1h18m-20 1h13m1 0h5m-33 1h3m1 0h3m6 0h13m3 0h3m-20 1h9m1 0h5m-16 1h9m3 0h5m-18 1h8m4 0h5m-28 1h3m7 0h8m3 0h8m-19 1h9m1 0h5m-16 1h12m-14 1h13m7 0h3m-24 1h15m1 0h5m-21 1h17m-18 1h17m-21 1h21m-20 1h21m-21 1h16m1 0h4m-26 1h3m1 0h16m-17 1h17m-27 1h3m8 0h15m-16 1h17m-18 1h18m-24 1h4m1 0h20m-24 1h17m1 0h5m-21 1h14m3 0h3m-19 1h13m-20 1h3m3 0h13m-21 1h20m-19 1h17m-23 1h4m4 0h14m-24 1h4m7 0h13m-18 1h3m1 0h15m-20 1h23m-24 1h23m-23 1h20m-21 1h20m-28 1h6m3 0h19m-20 1h15m1 0h3m-21 1h3m1 0h12m-17 1h3m3 0h12m-21 1h7m1 0h15m-25 1h26m-25 1h23m-24 1h20m-22 1h21m-21 1h19m-25 1h4m1 0h19m-23 1h24m-19 1h21m-20 1h18m-19 1h18m-18 1h18m-24 1h4m1 0h16m-22 1h20m-20 1h19m-18 1h17m-17 1h16m-16 1h17m-27 1h4m7 0h16m-17 1h16m-21 1h20m-21 1h18m1 0h3m-21 1h16m-16 1h17m-24 1h5m1 0h17m-20 1h19m-18 1h18m-19 1h17m-16 1h15m-16 1h15m-17 1h18m-18 1h17m-17 1h15m-15 1h14m-15 1h15m-18 1h16m-15 1h14m-15 1h15m-19 1h18m-22 1h4m1 0h16m-15 1h14m-15 1h12m1 0h3m-16 1h11m-12 1h13m-14 1h14m-14 1h14m-15 1h14m-15 1h11m-12 1h11m-12 1h12m-13 1h12m-12 1h11m-12 1h13m-14 1h12m-13 1h12m-13 1h11m-12 1h11m-12 1h12m-13 1h12m-12 1h12m-13 1h12m-13 1h12m-11 1h10m-11 1h9m-11 1h9m-10 1h9m-11 1h12m-11 1h8m-8 1h7m-6 1h6m-7 1h5m-7 1h6m-5 1h5m-9 3h5m-4 1h3m-4 1h4" stroke="#000" stroke-width="2.6" fill="none"/>
<path d="M414.9 722.9L408.9 738.5L359.1 849.1V868.1L483.4 722.9H414.5M485.1 722.9L348.7 881.1L357 887L504.3 722.9H482.7" fill="none" stroke="#000" stroke-width="2.05" stroke-linejoin="miter"/>
<path d="M359.1 868.5L484.3 722.9" stroke="#000" stroke-width="3.4"/>
<rect x="390.1" y="725.39" width="24" height="10.84" fill="#fff"/>
<text x="391.3" y="734.8" font-size="11.1" fill="#111">8.97</text>
<rect x="483.1" y="726.09" width="16.74" height="12.84" fill="#fff"/>
<text x="485.3" y="736.5" font-size="11.1" fill="#111">91</text>
<path d="M348.7 722.5H513.7" fill="none" stroke="#222" stroke-width="1.0"/>
<path d="M348.7 722V887.7" fill="none" stroke="#000" stroke-width="1.5"/>
<path d="M347.95 887.7H513.7V722" fill="none" stroke="#000" stroke-width="1.9"/>
<text x="340.4" y="892.2" font-size="11.3" text-anchor="end" fill="#111">0</text>
<text x="346.8" y="906.7" font-size="11.3" text-anchor="middle" fill="#111">0</text>
<text x="340.4" y="860.45" font-size="11.3" text-anchor="end" fill="#111">50K</text>
<text x="378.25" y="906.7" font-size="11.3" text-anchor="middle" fill="#111">50K</text>
<text x="340.4" y="828.7" font-size="11.3" text-anchor="end" fill="#111">100K</text>
<text x="409.7" y="906.7" font-size="11.3" text-anchor="middle" fill="#111">100K</text>
<text x="340.4" y="796.95" font-size="11.3" text-anchor="end" fill="#111">150K</text>
<text x="441.15" y="906.7" font-size="11.3" text-anchor="middle" fill="#111">150K</text>
<text x="340.4" y="765.2" font-size="11.3" text-anchor="end" fill="#111">200K</text>
<text x="472.6" y="906.7" font-size="11.3" text-anchor="middle" fill="#111">200K</text>
<text x="340.4" y="733.45" font-size="11.3" text-anchor="end" fill="#111">250K</text>
<text x="504.05" y="906.7" font-size="11.3" text-anchor="middle" fill="#111">250K</text>
<path d="M348.7 887.7h-5M349.5 887.7v5.5M348.7 855.95h-5M380.95 887.7v5.5M348.7 824.2h-5M412.4 887.7v5.5M348.7 792.45h-5M443.85 887.7v5.5M348.7 760.7h-5M475.3 887.7v5.5M348.7 728.95h-5M506.75 887.7v5.5M348.1 881.35h-1.9M355.79 888.3v2.6M348.1 875h-1.9M362.08 888.3v2.6M348.1 868.65h-1.9M368.37 888.3v2.6M348.1 862.3h-1.9M374.66 888.3v2.6M348.1 849.6h-1.9M387.24 888.3v2.6M348.1 843.25h-1.9M393.53 888.3v2.6M348.1 836.9h-1.9M399.82 888.3v2.6M348.1 830.55h-1.9M406.11 888.3v2.6M348.1 817.85h-1.9M418.69 888.3v2.6M348.1 811.5h-1.9M424.98 888.3v2.6M348.1 805.15h-1.9M431.27 888.3v2.6M348.1 798.8h-1.9M437.56 888.3v2.6M348.1 786.1h-1.9M450.14 888.3v2.6M348.1 779.75h-1.9M456.43 888.3v2.6M348.1 773.4h-1.9M462.72 888.3v2.6M348.1 767.05h-1.9M469.01 888.3v2.6M348.1 754.35h-1.9M481.59 888.3v2.6M348.1 748h-1.9M487.88 888.3v2.6M348.1 741.65h-1.9M494.17 888.3v2.6M348.1 735.3h-1.9M500.46 888.3v2.6M348.1 722.6h-1.9M513.04 888.3v2.6" stroke="#000" stroke-width="1.3" fill="none"/>
<text x="34.2" y="820.9" font-size="17" text-anchor="middle" transform="rotate(-90 34.2 820.9)" fill="#111">SSC-A</text>
<text x="311.8" y="803.4" font-size="11.2" text-anchor="middle" transform="rotate(-90 311.8 803.4)" fill="#111">SSC-A</text>
<path d="M27.6 858V918H88.9" fill="none" stroke="#000" stroke-width="1.7" stroke-linejoin="miter"/>
<path d="M20.8 869L27.6 857.2L34.4 869M78.3 910.7L89.7 918L78.3 925.3" fill="none" stroke="#000" stroke-width="3.0" stroke-linejoin="miter" stroke-linecap="butt"/>
<text x="97.3" y="923.8" font-size="17" fill="#111">SSC-H</text>
<path d="M238.3 868.3L263 910.37" stroke="#000" stroke-width="3"/>
<path d="M256.29 913.15L268.71 905.86L270.6 923.3Z" fill="#000"/>
<path d="M344.4 868.3L319.2 910.43" stroke="#000" stroke-width="3"/>
<path d="M313.53 905.87L325.89 913.27L311.5 923.3Z" fill="#000"/>
<path d="M215 1089.2L240 1089.2L246.5 1087.6L252.3 1085.3L254.6 1082.3L258.1 1081.2L260.4 1077.7L263.8 1069.6L266.2 1061.5L268.5 1051.2L270.3 1039.6L271.9 1026.9L273.5 1015.4L274.9 1014.2L276.3 1006L277.5 990.4L278.5 976.9L280.4 959.6L281.3 948.1L283.3 934.2L284.6 944.2L286.2 948.1L288.1 963.5L289.6 976.9L291 990.4L292.2 1006L293.4 1018.8L295 1035L296.6 1051.2L298.5 1065L300.8 1075.4L303.5 1082.3L306.5 1086.2L310 1089L330 1089.2" fill="none" stroke="#6a6a6a" stroke-width="1.35" stroke-linejoin="round"/>
<path d="M215 1089.2L222 1089.2L224 1087.6L226 1089.2L231 1089.2L233 1087.4L235 1089.2L240 1088.2L246.5 1086.9L252.3 1084.6L256.9 1082.3L260.4 1078.8L262.7 1074.2L265 1067.3L267.3 1062.7L268.9 1054.6L271.2 1043.1L273.5 1030.4L275.4 1018.8L277.2 1013.1L278.8 1014.2L280.3 1006L281.9 998.1L282.7 982.7L283.8 980.8L284.6 971.2L285.8 953.8L286.2 949L287.7 948.1L288.5 942.3L289.6 941.3L290.4 935.6L291.5 934.2L292.3 938.5L293.5 937.5L294.4 938.8L295.2 944.2L295.8 953.8L296.7 969.2L298.1 986.5L299.6 1000L301 1007L302.6 1014.2L304.2 1025.8L305.9 1037.3L307.7 1039.6L310 1047.7L312.3 1058.1L314.2 1065.5L316.5 1056.9L318.1 1059.2L319.7 1065.5L321.5 1073.1L324.3 1080L327.3 1084.6L330.8 1087.6L335.4 1089.2L377 1088.8L378 1086" fill="none" stroke="#000" stroke-width="1.7" stroke-linejoin="round"/>
<path d="M214.6 924.8H378.3" fill="none" stroke="#222" stroke-width="1.0"/>
<path d="M214.6 924.3V1090.2" fill="none" stroke="#000" stroke-width="1.3"/>
<path d="M213.95 1090.2H378.3V924.3" fill="none" stroke="#000" stroke-width="1.3"/>
<text x="205" y="1094.2" font-size="11.3" text-anchor="end" fill="#111">0</text>
<text x="205" y="1062.65" font-size="11.3" text-anchor="end" fill="#111">20</text>
<text x="205" y="1031.1" font-size="11.3" text-anchor="end" fill="#111">40</text>
<text x="205" y="999.55" font-size="11.3" text-anchor="end" fill="#111">60</text>
<text x="205" y="968" font-size="11.3" text-anchor="end" fill="#111">80</text>
<text x="205" y="936.45" font-size="11.3" text-anchor="end" fill="#111">100</text>
<text x="229.8" y="1107.8" font-size="11.3" text-anchor="middle" fill="#111">0</text>
<text x="238.97" y="1107.8" font-size="11.3" fill="#111">10<tspan font-size="8.5" dy="-4.5">2</tspan></text>
<text x="278.92" y="1107.8" font-size="11.3" fill="#111">10<tspan font-size="8.5" dy="-4.5">3</tspan></text>
<text x="317.32" y="1107.8" font-size="11.3" fill="#111">10<tspan font-size="8.5" dy="-4.5">4</tspan></text>
<text x="354.72" y="1107.8" font-size="11.3" fill="#111">10<tspan font-size="8.5" dy="-4.5">5</tspan></text>
<path d="M214.6 1090.2h-4.5M214.6 1058.65h-4.5M214.6 1027.1h-4.5M214.6 995.55h-4.5M214.6 964h-4.5M214.6 932.45h-4.5M214.6 1082.31h-2.4M214.6 1074.42h-2.4M214.6 1066.54h-2.4M214.6 1050.76h-2.4M214.6 1042.88h-2.4M214.6 1034.99h-2.4M214.6 1019.21h-2.4M214.6 1011.33h-2.4M214.6 1003.44h-2.4M214.6 987.66h-2.4M214.6 979.78h-2.4M214.6 971.89h-2.4M214.6 956.11h-2.4M214.6 948.23h-2.4M214.6 940.34h-2.4M230.3 1090.2v5.5M248.45 1090.2v5.5M288.4 1090.2v5.5M326.8 1090.2v5.5M364.2 1090.2v5.5M260.48 1090.2v3M267.51 1090.2v3M272.5 1090.2v3M276.37 1090.2v3M279.54 1090.2v3M282.21 1090.2v3M284.53 1090.2v3M286.57 1090.2v3M299.96 1090.2v3M306.72 1090.2v3M311.52 1090.2v3M315.24 1090.2v3M318.28 1090.2v3M320.85 1090.2v3M323.08 1090.2v3M325.04 1090.2v3M338.06 1090.2v3M344.64 1090.2v3M349.32 1090.2v3M352.94 1090.2v3M355.9 1090.2v3M358.41 1090.2v3M360.58 1090.2v3M362.49 1090.2v3M375.46 1090.2v3M218.3 1090.2v3M221.8 1090.2v3M224.8 1090.2v3M227.3 1090.2v3M233.3 1090.2v3M235.8 1090.2v3M238.8 1090.2v3M242.3 1090.2v3M245.3 1090.2v3" stroke="#000" stroke-width="1.3" fill="none"/>
<text x="186.7" y="1013.9" font-size="17" text-anchor="middle" transform="rotate(-90 186.7 1013.9)" fill="#111">% of max</text>
<path d="M181.2 1064.1V1123H241.6" fill="none" stroke="#000" stroke-width="1.7" stroke-linejoin="miter"/>
<path d="M174.4 1075.1L181.2 1063.3L188 1075.1M231 1115.7L242.4 1123L231 1130.3" fill="none" stroke="#000" stroke-width="3.0" stroke-linejoin="miter" stroke-linecap="butt"/>
<text x="251.8" y="1128.3" font-size="16.3" fill="#111">Ter119</text>
</svg>
</body></html>
